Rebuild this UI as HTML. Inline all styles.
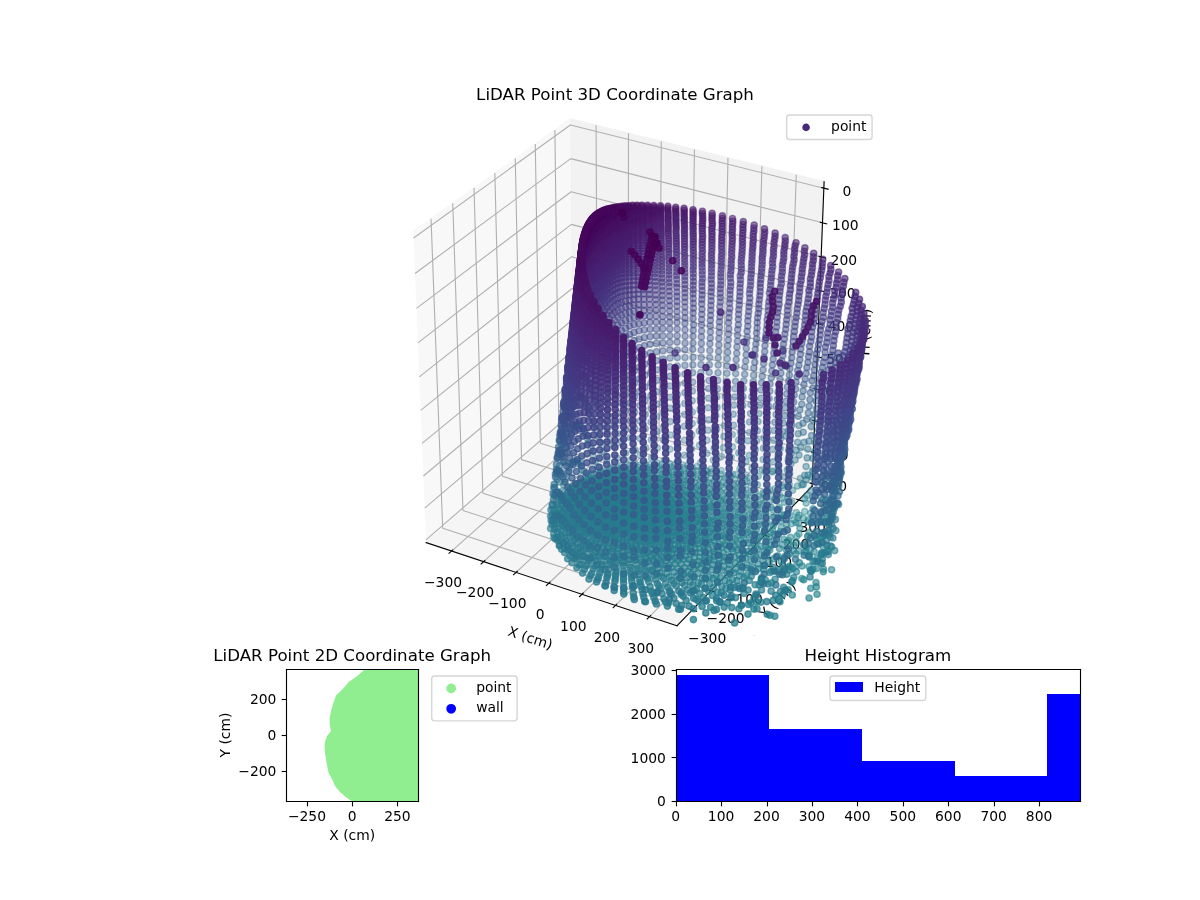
<!DOCTYPE html>
<html lang="en"><head><meta charset="utf-8"><title>LiDAR Point Graphs</title>
<style>html,body{margin:0;padding:0;background:#fff}svg{display:block;will-change:transform}</style></head>
<body>
<svg width="1200" height="900" viewBox="0 0 864 648" version="1.1">
 
 <defs>
  <style type="text/css">.c0{fill:#440154;stroke:#440154}.c1{fill:#450457;stroke:#450457}.c2{fill:#46085c;stroke:#46085c}.c3{fill:#460b5e;stroke:#460b5e}.c4{fill:#471063;stroke:#471063}.c5{fill:#471365;stroke:#471365}.c6{fill:#481769;stroke:#481769}.c7{fill:#481b6d;stroke:#481b6d}.c8{fill:#481d6f;stroke:#481d6f}.c9{fill:#482173;stroke:#482173}.c10{fill:#482475;stroke:#482475}.c11{fill:#482878;stroke:#482878}.c12{fill:#472c7a;stroke:#472c7a}.c13{fill:#472e7c;stroke:#472e7c}.c14{fill:#46327e;stroke:#46327e}.c15{fill:#463480;stroke:#463480}.c16{fill:#453882;stroke:#453882}.c17{fill:#443a83;stroke:#443a83}.c18{fill:#433e85;stroke:#433e85}.c19{fill:#424186;stroke:#424186}.c20{fill:#414487;stroke:#414487}.c21{fill:#3f4788;stroke:#3f4788}.c22{fill:#3e4989;stroke:#3e4989}.c23{fill:#3d4d8a;stroke:#3d4d8a}.c24{fill:#3c508b;stroke:#3c508b}.c25{fill:#3b528b;stroke:#3b528b}.c26{fill:#39558c;stroke:#39558c}.c27{fill:#38588c;stroke:#38588c}.c28{fill:#375b8d;stroke:#375b8d}.c29{fill:#365d8d;stroke:#365d8d}.c30{fill:#34608d;stroke:#34608d}.c31{fill:#33638d;stroke:#33638d}.c32{fill:#32658e;stroke:#32658e}.c33{fill:#31688e;stroke:#31688e}.c34{fill:#306a8e;stroke:#306a8e}.c35{fill:#2e6d8e;stroke:#2e6d8e}.c36{fill:#2d708e;stroke:#2d708e}.c37{fill:#2c718e;stroke:#2c718e}.c38{fill:#2b748e;stroke:#2b748e}.c39{fill:#2a768e;stroke:#2a768e}.c40{fill:#29798e;stroke:#29798e}.c41{fill:#297b8e;stroke:#297b8e}.c42{fill:#277e8e;stroke:#277e8e}.c43{fill:#26818e;stroke:#26818e}.c44{fill:#26828e;stroke:#26828e}.c45{fill:#25858e;stroke:#25858e}.c46{fill:#24878e;stroke:#24878e}.c47{fill:#238a8d;stroke:#238a8d}.a0{fill-opacity:0.3;stroke-opacity:0.3}.a1{fill-opacity:0.326;stroke-opacity:0.326}.a2{fill-opacity:0.352;stroke-opacity:0.352}.a3{fill-opacity:0.378;stroke-opacity:0.378}.a4{fill-opacity:0.404;stroke-opacity:0.404}.a5{fill-opacity:0.43;stroke-opacity:0.43}.a6{fill-opacity:0.456;stroke-opacity:0.456}.a7{fill-opacity:0.481;stroke-opacity:0.481}.a8{fill-opacity:0.507;stroke-opacity:0.507}.a9{fill-opacity:0.533;stroke-opacity:0.533}.a10{fill-opacity:0.559;stroke-opacity:0.559}.a11{fill-opacity:0.585;stroke-opacity:0.585}.a12{fill-opacity:0.611;stroke-opacity:0.611}.a13{fill-opacity:0.637;stroke-opacity:0.637}.a14{fill-opacity:0.663;stroke-opacity:0.663}.a15{fill-opacity:0.689;stroke-opacity:0.689}.a16{fill-opacity:0.715;stroke-opacity:0.715}.a17{fill-opacity:0.741;stroke-opacity:0.741}.a18{fill-opacity:0.767;stroke-opacity:0.767}.a19{fill-opacity:0.793;stroke-opacity:0.793}.a20{fill-opacity:0.819;stroke-opacity:0.819}.a21{fill-opacity:0.844;stroke-opacity:0.844}.a22{fill-opacity:0.87;stroke-opacity:0.87}.a23{fill-opacity:0.896;stroke-opacity:0.896}.a24{fill-opacity:0.922;stroke-opacity:0.922}.a25{fill-opacity:0.948;stroke-opacity:0.948}.a26{fill-opacity:0.974;stroke-opacity:0.974}.a27{fill-opacity:1;stroke-opacity:1}#pts{stroke-width:13.89px}*{stroke-linejoin: round; stroke-linecap: butt}</style>
 </defs>
 <g id="figure_1">
  <g id="patch_1">
   <path d="M 0 648 L 864 648 L 864 0 L 0 0 z " style="fill: #ffffff"/>
  </g>
  <g id="patch_2">
   <path d="M 252.72 457.92 L 632.88 457.92 L 632.88 77.76 L 252.72 77.76 z " style="fill: #ffffff"/>
  </g>
  <g id="pane3d_1">
   <g id="patch_3">
    <path d="M 297.58003 166.631425 L 410.645427 85.542763 L 412.77112 298.522299 L 306.797019 390.703178 " style="fill: #f2f2f2; opacity: 0.5; stroke: #f2f2f2; stroke-linejoin: miter"/>
   </g>
  </g>
  <g id="pane3d_2">
   <g id="patch_4">
    <path d="M 410.645427 85.542763 L 593.356414 130.821738 L 584.717514 350.098878 L 412.77112 298.522299 " style="fill: #e6e6e6; opacity: 0.5; stroke: #e6e6e6; stroke-linejoin: miter"/>
   </g>
  </g>
  <g id="pane3d_3">
   <g id="patch_5">
    <path d="M 306.797019 390.703178 L 487.477457 450.543439 L 584.717514 350.098878 L 412.77112 298.522299 " style="fill: #ececec; opacity: 0.5; stroke: #ececec; stroke-linejoin: miter"/>
   </g>
  </g>
  <g id="grid3d_1">
   <g id="Line3DCollection_1">
    <path d="M 325.109337 396.768106 L 430.248211 303.76468 L 429.174093 90.13449 " style="fill: none; stroke: #b0b0b0; stroke-width: 0.8"/>
    <path d="M 348.178335 404.408417 L 452.248942 310.363961 L 452.512248 95.918093 " style="fill: none; stroke: #b0b0b0; stroke-width: 0.8"/>
    <path d="M 371.515842 412.137658 L 474.487517 317.034584 L 476.118202 101.768061 " style="fill: none; stroke: #b0b0b0; stroke-width: 0.8"/>
    <path d="M 395.126575 419.957389 L 496.967816 323.777714 L 499.996592 107.685543 " style="fill: none; stroke: #b0b0b0; stroke-width: 0.8"/>
    <path d="M 419.01536 427.869209 L 519.6938 330.594539 L 524.152162 113.671715 " style="fill: none; stroke: #b0b0b0; stroke-width: 0.8"/>
    <path d="M 443.187138 435.874755 L 542.669519 337.486274 L 548.589765 119.72778 " style="fill: none; stroke: #b0b0b0; stroke-width: 0.8"/>
    <path d="M 467.646966 443.975701 L 565.899113 344.454161 L 573.314371 125.85497 " style="fill: none; stroke: #b0b0b0; stroke-width: 0.8"/>
   </g>
  </g>
  <g id="grid3d_2">
   <g id="Line3DCollection_2">
    <path d="M 310.35604 157.468679 L 318.723288 380.329191 L 498.451798 439.207443 " style="fill: none; stroke: #b0b0b0; stroke-width: 0.8"/>
    <path d="M 325.986947 146.258447 L 333.331305 367.622503 L 511.883098 425.33352 " style="fill: none; stroke: #b0b0b0; stroke-width: 0.8"/>
    <path d="M 341.297039 135.278298 L 347.657384 355.161057 L 525.043703 411.739213 " style="fill: none; stroke: #b0b0b0; stroke-width: 0.8"/>
    <path d="M 356.296094 124.52122 L 361.709609 342.937821 L 537.941715 398.416153 " style="fill: none; stroke: #b0b0b0; stroke-width: 0.8"/>
    <path d="M 370.993495 113.980484 L 375.495759 330.946028 L 550.584914 385.356302 " style="fill: none; stroke: #b0b0b0; stroke-width: 0.8"/>
    <path d="M 385.398251 103.649627 L 389.02332 319.179168 L 562.980779 372.551937 " style="fill: none; stroke: #b0b0b0; stroke-width: 0.8"/>
    <path d="M 399.519016 93.522444 L 402.299499 307.63097 L 575.136497 359.995633 " style="fill: none; stroke: #b0b0b0; stroke-width: 0.8"/>
   </g>
  </g>
  <g id="grid3d_3">
   <g id="Line3DCollection_3">
    <path d="M 593.172955 135.478385 L 410.690457 90.054379 L 297.776152 171.399288 " style="fill: none; stroke: #b0b0b0; stroke-width: 0.8"/>
    <path d="M 592.191441 160.39169 L 410.931449 114.200068 L 298.825128 196.900663 " style="fill: none; stroke: #b0b0b0; stroke-width: 0.8"/>
    <path d="M 591.223105 184.970524 L 411.169342 138.035314 L 299.85955 222.048222 " style="fill: none; stroke: #b0b0b0; stroke-width: 0.8"/>
    <path d="M 590.267682 209.221577 L 411.404196 161.566066 L 300.879719 246.849277 " style="fill: none; stroke: #b0b0b0; stroke-width: 0.8"/>
    <path d="M 589.324916 233.151362 L 411.636069 184.798122 L 301.885927 271.31094 " style="fill: none; stroke: #b0b0b0; stroke-width: 0.8"/>
    <path d="M 588.394557 256.766221 L 411.865017 207.737133 L 302.87846 295.440132 " style="fill: none; stroke: #b0b0b0; stroke-width: 0.8"/>
    <path d="M 587.476362 280.072331 L 412.091096 230.38861 L 303.857593 319.243584 " style="fill: none; stroke: #b0b0b0; stroke-width: 0.8"/>
    <path d="M 586.570094 303.075708 L 412.314358 252.757925 L 304.823597 342.727849 " style="fill: none; stroke: #b0b0b0; stroke-width: 0.8"/>
    <path d="M 585.675522 325.782211 L 412.534857 274.850316 L 305.776734 365.899303 " style="fill: none; stroke: #b0b0b0; stroke-width: 0.8"/>
    <path d="M 584.792421 348.197551 L 412.752642 296.670897 L 306.717259 388.764155 " style="fill: none; stroke: #b0b0b0; stroke-width: 0.8"/>
   </g>
  </g>
  <g id="axis3d_1">
   <g id="line2d_1">
    <path d="M 306.797019 390.703178 L 487.477457 450.543439 " style="fill: none; stroke: #000000; stroke-width: 0.8; stroke-linecap: square"/>
   </g>
   <g id="xtick_1">
    <g id="line2d_2">
     <path d="M 326.013629 395.96819 L 323.297459 398.370851 " style="fill: none; stroke: #000000; stroke-width: 0.8; stroke-linecap: square"/>
    </g>
    <g id="text_1">
     <text style="font-size: 10px; font-family: 'DejaVu Sans', 'Liberation Sans', sans-serif; text-anchor: middle" x="318.974381" y="422.443592">−300</text>
    </g>
   </g>
   <g id="xtick_2">
    <g id="line2d_3">
     <path d="M 349.073801 403.599221 L 346.384123 406.029775 " style="fill: none; stroke: #000000; stroke-width: 0.8; stroke-linecap: square"/>
    </g>
    <g id="text_2">
     <text style="font-size: 10px; font-family: 'DejaVu Sans', 'Liberation Sans', sans-serif; text-anchor: middle" x="342.026984" y="430.194921">−200</text>
    </g>
   </g>
   <g id="xtick_3">
    <g id="line2d_4">
     <path d="M 372.402215 411.319018 L 369.739833 413.777954 " style="fill: none; stroke: #000000; stroke-width: 0.8; stroke-linecap: square"/>
    </g>
    <g id="text_3">
     <text style="font-size: 10px; font-family: 'DejaVu Sans', 'Liberation Sans', sans-serif; text-anchor: middle" x="365.34813" y="438.036547">−100</text>
    </g>
   </g>
   <g id="xtick_4">
    <g id="line2d_5">
     <path d="M 396.003579 419.12914 L 393.369318 421.616957 " style="fill: none; stroke: #000000; stroke-width: 0.8; stroke-linecap: square"/>
    </g>
    <g id="text_4">
     <text style="font-size: 10px; font-family: 'DejaVu Sans', 'Liberation Sans', sans-serif; text-anchor: middle" x="388.942539" y="445.970056">0</text>
    </g>
   </g>
   <g id="xtick_5">
    <g id="line2d_6">
     <path d="M 419.882713 427.03118 L 417.277422 429.54839 " style="fill: none; stroke: #000000; stroke-width: 0.8; stroke-linecap: square"/>
    </g>
    <g id="text_5">
     <text style="font-size: 10px; font-family: 'DejaVu Sans', 'Liberation Sans', sans-serif; text-anchor: middle" x="412.815042" y="453.997072">100</text>
    </g>
   </g>
   <g id="xtick_6">
    <g id="line2d_7">
     <path d="M 444.044548 435.026772 L 441.469101 437.573899 " style="fill: none; stroke: #000000; stroke-width: 0.8; stroke-linecap: square"/>
    </g>
    <g id="text_6">
     <text style="font-size: 10px; font-family: 'DejaVu Sans', 'Liberation Sans', sans-serif; text-anchor: middle" x="436.970584" y="462.11926">200</text>
    </g>
   </g>
   <g id="xtick_7">
    <g id="line2d_8">
     <path d="M 468.494136 443.117586 L 465.949431 445.695167 " style="fill: none; stroke: #000000; stroke-width: 0.8; stroke-linecap: square"/>
    </g>
    <g id="text_7">
     <text style="font-size: 10px; font-family: 'DejaVu Sans', 'Liberation Sans', sans-serif; text-anchor: middle" x="461.41423" y="470.33832">300</text>
    </g>
   </g>
   <g id="text_8">
    <text style="font-size: 10px; font-family: 'DejaVu Sans', 'Liberation Sans', sans-serif; text-anchor: middle" x="380.802218" y="462.647239" transform="rotate(-341.675444 380.802218 462.647239)">X (cm)</text>
   </g>
  </g>
  <g id="axis3d_2">
   <g id="line2d_9">
    <path d="M 584.717514 350.098878 L 487.477457 450.543439 " style="fill: none; stroke: #000000; stroke-width: 0.8; stroke-linecap: square"/>
   </g>
   <g id="xtick_8">
    <g id="line2d_10">
     <path d="M 496.949593 438.715327 L 501.459465 440.192741 " style="fill: none; stroke: #000000; stroke-width: 0.8; stroke-linecap: square"/>
    </g>
    <g id="text_9">
     <text style="font-size: 10px; font-family: 'DejaVu Sans', 'Liberation Sans', sans-serif; text-anchor: middle" x="509.163951" y="462.851053">−300</text>
    </g>
   </g>
   <g id="xtick_9">
    <g id="line2d_11">
     <path d="M 510.39138 424.851371 L 514.869738 426.298853 " style="fill: none; stroke: #000000; stroke-width: 0.8; stroke-linecap: square"/>
    </g>
    <g id="text_10">
     <text style="font-size: 10px; font-family: 'DejaVu Sans', 'Liberation Sans', sans-serif; text-anchor: middle" x="522.472119" y="448.828639">−200</text>
    </g>
   </g>
   <g id="xtick_10">
    <g id="line2d_12">
     <path d="M 523.562355 411.26673 L 528.009547 412.685182 " style="fill: none; stroke: #000000; stroke-width: 0.8; stroke-linecap: square"/>
    </g>
    <g id="text_11">
     <text style="font-size: 10px; font-family: 'DejaVu Sans', 'Liberation Sans', sans-serif; text-anchor: middle" x="535.512355" y="435.088537">−100</text>
    </g>
   </g>
   <g id="xtick_11">
    <g id="line2d_13">
     <path d="M 536.470622 397.953049 L 540.886995 399.343335 " style="fill: none; stroke: #000000; stroke-width: 0.8; stroke-linecap: square"/>
    </g>
    <g id="text_12">
     <text style="font-size: 10px; font-family: 'DejaVu Sans', 'Liberation Sans', sans-serif; text-anchor: middle" x="548.292668" y="421.622308">0</text>
    </g>
   </g>
   <g id="xtick_12">
    <g id="line2d_14">
     <path d="M 549.123964 384.902301 L 553.509859 386.265251 " style="fill: none; stroke: #000000; stroke-width: 0.8; stroke-linecap: square"/>
    </g>
    <g id="text_13">
     <text style="font-size: 10px; font-family: 'DejaVu Sans', 'Liberation Sans', sans-serif; text-anchor: middle" x="560.820753" y="408.421844">100</text>
    </g>
   </g>
   <g id="xtick_13">
    <g id="line2d_15">
     <path d="M 561.529857 372.106772 L 565.885618 373.443185 " style="fill: none; stroke: #000000; stroke-width: 0.8; stroke-linecap: square"/>
    </g>
    <g id="text_14">
     <text style="font-size: 10px; font-family: 'DejaVu Sans', 'Liberation Sans', sans-serif; text-anchor: middle" x="573.104005" y="395.479353">200</text>
    </g>
   </g>
   <g id="xtick_14">
    <g id="line2d_16">
     <path d="M 573.69549 359.559049 L 578.021455 360.869692 " style="fill: none; stroke: #000000; stroke-width: 0.8; stroke-linecap: square"/>
    </g>
    <g id="text_15">
     <text style="font-size: 10px; font-family: 'DejaVu Sans', 'Liberation Sans', sans-serif; text-anchor: middle" x="585.149531" y="382.787347">300</text>
    </g>
   </g>
   <g id="text_16">
    <text style="font-size: 10px; font-family: 'DejaVu Sans', 'Liberation Sans', sans-serif; text-anchor: middle" x="562.398987" y="434.22404" transform="rotate(-45.928694 562.398987 434.22404)">Y (cm)</text>
   </g>
  </g>
  <g id="axis3d_3">
   <g id="line2d_17">
    <path d="M 584.717514 350.098878 L 593.356414 130.821738 " style="fill: none; stroke: #000000; stroke-width: 0.8; stroke-linecap: square"/>
   </g>
   <g id="xtick_15">
    <g id="line2d_18">
     <path d="M 591.648229 135.098846 L 596.225689 136.238279 " style="fill: none; stroke: #000000; stroke-width: 0.8; stroke-linecap: square"/>
    </g>
    <g id="text_17">
     <text style="font-size: 10px; font-family: 'DejaVu Sans', 'Liberation Sans', sans-serif; text-anchor: middle" x="609.735518" y="141.062779">0</text>
    </g>
   </g>
   <g id="xtick_16">
    <g id="line2d_19">
     <path d="M 590.677365 160.005849 L 595.22283 161.164198 " style="fill: none; stroke: #000000; stroke-width: 0.8; stroke-linecap: square"/>
    </g>
    <g id="text_18">
     <text style="font-size: 10px; font-family: 'DejaVu Sans', 'Liberation Sans', sans-serif; text-anchor: middle" x="608.644138" y="165.942616">100</text>
    </g>
   </g>
   <g id="xtick_17">
    <g id="line2d_20">
     <path d="M 589.719531 184.578583 L 594.233445 185.755239 " style="fill: none; stroke: #000000; stroke-width: 0.8; stroke-linecap: square"/>
    </g>
    <g id="text_19">
     <text style="font-size: 10px; font-family: 'DejaVu Sans', 'Liberation Sans', sans-serif; text-anchor: middle" x="607.567383" y="190.489058">200</text>
    </g>
   </g>
   <g id="xtick_18">
    <g id="line2d_21">
     <path d="M 588.774466 208.823731 L 593.257263 210.018106 " style="fill: none; stroke: #000000; stroke-width: 0.8; stroke-linecap: square"/>
    </g>
    <g id="text_20">
     <text style="font-size: 10px; font-family: 'DejaVu Sans', 'Liberation Sans', sans-serif; text-anchor: middle" x="606.50496" y="214.70876">300</text>
    </g>
   </g>
   <g id="xtick_19">
    <g id="line2d_22">
     <path d="M 587.841916 232.747803 L 592.294023 233.959324 " style="fill: none; stroke: #000000; stroke-width: 0.8; stroke-linecap: square"/>
    </g>
    <g id="text_21">
     <text style="font-size: 10px; font-family: 'DejaVu Sans', 'Liberation Sans', sans-serif; text-anchor: middle" x="605.456586" y="238.608205">400</text>
    </g>
   </g>
   <g id="xtick_20">
    <g id="line2d_23">
     <path d="M 586.921634 256.357134 L 591.343468 257.585248 " style="fill: none; stroke: #000000; stroke-width: 0.8; stroke-linecap: square"/>
    </g>
    <g id="text_22">
     <text style="font-size: 10px; font-family: 'DejaVu Sans', 'Liberation Sans', sans-serif; text-anchor: middle" x="604.421984" y="262.193701">500</text>
    </g>
   </g>
   <g id="xtick_21">
    <g id="line2d_24">
     <path d="M 586.013381 279.657893 L 590.405349 280.902065 " style="fill: none; stroke: #000000; stroke-width: 0.8; stroke-linecap: square"/>
    </g>
    <g id="text_23">
     <text style="font-size: 10px; font-family: 'DejaVu Sans', 'Liberation Sans', sans-serif; text-anchor: middle" x="603.400884" y="285.471396">600</text>
    </g>
   </g>
   <g id="xtick_22">
    <g id="line2d_25">
     <path d="M 585.116921 302.656092 L 589.479424 303.915801 " style="fill: none; stroke: #000000; stroke-width: 0.8; stroke-linecap: square"/>
    </g>
    <g id="text_24">
     <text style="font-size: 10px; font-family: 'DejaVu Sans', 'Liberation Sans', sans-serif; text-anchor: middle" x="602.393023" y="308.447275">700</text>
    </g>
   </g>
   <g id="xtick_23">
    <g id="line2d_26">
     <path d="M 584.232027 325.357586 L 588.565457 326.632329 " style="fill: none; stroke: #000000; stroke-width: 0.8; stroke-linecap: square"/>
    </g>
    <g id="text_25">
     <text style="font-size: 10px; font-family: 'DejaVu Sans', 'Liberation Sans', sans-serif; text-anchor: middle" x="601.398146" y="331.12717">800</text>
    </g>
   </g>
   <g id="xtick_24">
    <g id="line2d_27">
     <path d="M 583.358476 347.768079 L 587.663218 349.057368 " style="fill: none; stroke: #000000; stroke-width: 0.8; stroke-linecap: square"/>
    </g>
    <g id="text_26">
     <text style="font-size: 10px; font-family: 'DejaVu Sans', 'Liberation Sans', sans-serif; text-anchor: middle" x="600.416003" y="353.516765">900</text>
    </g>
   </g>
   <g id="text_27">
    <text style="font-size: 10px; font-family: 'DejaVu Sans', 'Liberation Sans', sans-serif; text-anchor: middle" x="626.552879" y="239.250779" transform="rotate(-87.743875 626.552879 239.250779)">H (cm)</text>
   </g>
  </g>
  <g id="axes_1">
   <g id="Path3DCollection_1">
    <defs>
     <path id="m604a313b4d" d="M 0 2.236068 C 0.593012 2.236068 1.161816 2.000462 1.581139 1.581139 C 2.000462 1.161816 2.236068 0.593012 2.236068 0 C 2.236068 -0.593012 2.000462 -1.161816 1.581139 -1.581139 C 1.161816 -2.000462 0.593012 -2.236068 0 -2.236068 C -0.593012 -2.236068 -1.161816 -2.000462 -1.581139 -1.581139 C -2.000462 -1.161816 -2.236068 -0.593012 -2.236068 0 C -2.236068 0.593012 -2.000462 1.161816 -1.581139 1.581139 C -1.161816 2.000462 -0.593012 2.236068 0 2.236068 z " style="stroke: #482878"/>
    </defs>
    <g clip-path="url(#pc4ae86a467)"><g id="pts" transform="scale(.072)"><g class=a0><circle class=c45 cx=7078 cy=4717 r=31 /><circle class=c44 cx=7005 cy=4627 r=31 /><circle class=c44 cx=6773 cy=4613 r=31 /><circle class=c45 cx=7325 cy=4742 r=31 /><circle class=c44 cx=6829 cy=4651 r=31 /><circle class=c44 cx=6968 cy=4666 r=31 /><circle class=c44 cx=6695 cy=4638 r=31 /><circle class=c43 cx=6641 cy=4602 r=31 /></g><g class=a1><circle class=c44 cx=7212 cy=4705 r=31 /><circle class=c43 cx=6845 cy=4552 r=31 /><circle class=c43 cx=6904 cy=4597 r=31 /><circle class=c44 cx=6745 cy=4654 r=31 /><circle class=c44 cx=7020 cy=4696 r=31 /><circle class=c44 cx=7111 cy=4690 r=31 /><circle class=c44 cx=6876 cy=4655 r=31 /><circle class=c44 cx=6569 cy=4628 r=31 /><circle class=c45 cx=7268 cy=4754 r=31 /><circle class=c44 cx=6618 cy=4642 r=31 /><circle class=c44 cx=6793 cy=4669 r=31 /><circle class=c43 cx=7133 cy=4601 r=31 /><circle class=c44 cx=7164 cy=4729 r=31 /><circle class=c44 cx=6925 cy=4679 r=31 /><circle class=c42 cx=7068 cy=4534 r=31 /><circle class=c44 cx=6455 cy=4644 r=31 /><circle class=c43 cx=6515 cy=4579 r=31 /><circle class=c44 cx=6666 cy=4657 r=31 /><circle class=c42 cx=6916 cy=4487 r=31 /><circle class=c45 cx=7361 cy=4746 r=31 /><circle class=c44 cx=7399 cy=4689 r=31 /><circle class=c41 cx=6777 cy=4469 r=31 /><circle class=c44 cx=6841 cy=4690 r=31 /><circle class=c44 cx=7064 cy=4708 r=31 /><circle class=c44 cx=6501 cy=4647 r=31 /><circle class=c42 cx=6699 cy=4492 r=31 /><circle class=c44 cx=6973 cy=4707 r=31 /><circle class=c44 cx=6712 cy=4669 r=31 /><circle class=c41 cx=6995 cy=4452 r=31 /><circle class=c43 cx=6547 cy=4650 r=31 /><circle class=c44 cx=7459 cy=4750 r=31 /><circle class=c42 cx=7214 cy=4565 r=31 /><circle class=c44 cx=6759 cy=4693 r=31 /><circle class=c44 cx=6593 cy=4666 r=31 /><circle class=c45 cx=7307 cy=4767 r=31 /><circle class=c42 cx=7313 cy=4573 r=31 /><circle class=c44 cx=6884 cy=4697 r=31 /><circle class=c44 cx=7204 cy=4742 r=31 /><circle class=c40 cx=6845 cy=4402 r=31 /><circle class=c41 cx=6573 cy=4479 r=31 /><circle class=c41 cx=7142 cy=4483 r=31 /><circle class=c44 cx=6638 cy=4684 r=31 /><circle class=c44 cx=7108 cy=4731 r=31 /><circle class=c44 cx=6805 cy=4714 r=31 /><circle class=c43 cx=6394 cy=4652 r=31 /><circle class=c44 cx=7017 cy=4725 r=31 /><circle class=c43 cx=6349 cy=4639 r=31 /><circle class=c43 cx=6483 cy=4676 r=31 /><circle class=c41 cx=7234 cy=4477 r=31 /><circle class=c44 cx=7402 cy=4769 r=31 /><circle class=c44 cx=6930 cy=4725 r=31 /><circle class=c44 cx=6682 cy=4696 r=31 /><circle class=c43 cx=6438 cy=4652 r=31 /><circle class=c40 cx=7070 cy=4403 r=31 /><circle class=c44 cx=6526 cy=4687 r=31 /><circle class=c44 cx=7157 cy=4774 r=31 /><circle class=c42 cx=6401 cy=4554 r=31 /><circle class=c44 cx=7251 cy=4781 r=31 /><circle class=c44 cx=6726 cy=4719 r=31 /><circle class=c39 cx=6917 cy=4349 r=31 /><circle class=c40 cx=6634 cy=4400 r=31 /><circle class=c42 cx=6303 cy=4603 r=31 /><circle class=c44 cx=6846 cy=4725 r=31 /><circle class=c44 cx=7061 cy=4754 r=31 /><circle class=c41 cx=6456 cy=4476 r=31 /><circle class=c41 cx=7325 cy=4469 r=31 /><circle class=c44 cx=7500 cy=4780 r=31 /><circle class=c44 cx=7348 cy=4794 r=31 /><circle class=c39 cx=6702 cy=4350 r=31 /><circle class=c43 cx=6340 cy=4680 r=31 /><circle class=c44 cx=6971 cy=4745 r=31 /><circle class=c39 cx=6775 cy=4315 r=31 /><circle class=c45 cx=7451 cy=4820 r=31 /><circle class=c43 cx=6256 cy=4666 r=31 /></g><g class=a2><circle class=c43 cx=6566 cy=4677 r=31 /><circle class=c40 cx=7150 cy=4372 r=31 /><circle class=c43 cx=6610 cy=4703 r=31 /><circle class=c44 cx=6767 cy=4730 r=31 /><circle class=c42 cx=7460 cy=4617 r=31 /><circle class=c43 cx=6214 cy=4656 r=31 /><circle class=c41 cx=7387 cy=4529 r=31 /><circle class=c39 cx=6993 cy=4311 r=31 /><circle class=c40 cx=6513 cy=4397 r=31 /><circle class=c43 cx=6381 cy=4674 r=31 /><circle class=c43 cx=6423 cy=4687 r=31 /><circle class=c41 cx=6352 cy=4501 r=31 /><circle class=c38 cx=7080 cy=4302 r=31 /><circle class=c43 cx=6298 cy=4654 r=31 /><circle class=c44 cx=6651 cy=4721 r=31 /><circle class=c42 cx=7493 cy=4554 r=31 /><circle class=c44 cx=6885 cy=4736 r=31 /><circle class=c44 cx=7102 cy=4781 r=31 /><circle class=c39 cx=7239 cy=4364 r=31 /><circle class=c44 cx=7014 cy=4775 r=31 /><circle class=c43 cx=6463 cy=4691 r=31 /><circle class=c45 cx=7674 cy=4903 r=31 /><circle class=c44 cx=7192 cy=4786 r=31 /><circle class=c38 cx=6844 cy=4263 r=31 /><circle class=c44 cx=7289 cy=4806 r=31 /><circle class=c43 cx=7520 cy=4684 r=31 /><circle class=c38 cx=7167 cy=4289 r=31 /><circle class=c45 cx=7547 cy=4830 r=31 /><circle class=c45 cx=7390 cy=4832 r=31 /><circle class=c43 cx=6503 cy=4699 r=31 /><circle class=c44 cx=6928 cy=4769 r=31 /><circle class=c44 cx=6804 cy=4737 r=31 /><circle class=c38 cx=6922 cy=4235 r=31 /><circle class=c43 cx=6690 cy=4727 r=31 /><circle class=c38 cx=6572 cy=4316 r=31 /><circle class=c43 cx=6583 cy=4732 r=31 /><circle class=c43 cx=6543 cy=4707 r=31 /><circle class=c43 cx=6332 cy=4707 r=31 /><circle class=c41 cx=6257 cy=4531 r=31 /><circle class=c43 cx=6254 cy=4695 r=31 /><circle class=c38 cx=6637 cy=4268 r=31 /><circle class=c44 cx=7582 cy=4761 r=31 /><circle class=c44 cx=6730 cy=4750 r=31 /><circle class=c44 cx=7142 cy=4812 r=31 /><circle class=c37 cx=7002 cy=4212 r=31 /><circle class=c43 cx=6292 cy=4694 r=31 /><circle class=c44 cx=6844 cy=4761 r=31 /><circle class=c44 cx=7051 cy=4796 r=31 /><circle class=c43 cx=6215 cy=4684 r=31 /><circle class=c43 cx=6370 cy=4704 r=31 /><circle class=c39 cx=7323 cy=4345 r=31 /><circle class=c43 cx=6176 cy=4683 r=31 /><circle class=c44 cx=7232 cy=4819 r=31 /><circle class=c39 cx=6401 cy=4386 r=31 /><circle class=c37 cx=7087 cy=4199 r=31 /><circle class=c43 cx=6621 cy=4742 r=31 /><circle class=c43 cx=7619 cy=4698 r=31 /><circle class=c43 cx=6446 cy=4725 r=31 /><circle class=c42 cx=7541 cy=4595 r=31 /><circle class=c44 cx=7329 cy=4842 r=31 /><circle class=c37 cx=6703 cy=4216 r=31 /><circle class=c43 cx=6407 cy=4707 r=31 /><circle class=c43 cx=6099 cy=4686 r=31 /><circle class=c42 cx=6138 cy=4674 r=31 /><circle class=c44 cx=6962 cy=4778 r=31 /><circle class=c44 cx=6883 cy=4788 r=31 /><circle class=c45 cx=7716 cy=4956 r=31 /><circle class=c41 cx=6174 cy=4582 r=31 /><circle class=c38 cx=7244 cy=4256 r=31 /><circle class=c39 cx=7385 cy=4402 r=31 /><circle class=c43 cx=6657 cy=4753 r=31 /><circle class=c43 cx=6765 cy=4754 r=31 /><circle class=c45 cx=7427 cy=4866 r=31 /><circle class=c43 cx=6482 cy=4723 r=31 /><circle class=c37 cx=6771 cy=4170 r=31 /><circle class=c44 cx=7470 cy=4813 r=31 /><circle class=c44 cx=7089 cy=4827 r=31 /><circle class=c36 cx=6847 cy=4145 r=31 /><circle class=c43 cx=6519 cy=4734 r=31 /><circle class=c44 cx=7178 cy=4836 r=31 /><circle class=c43 cx=6556 cy=4755 r=31 /><circle class=c44 cx=6803 cy=4781 r=31 /><circle class=c44 cx=6593 cy=4781 r=31 /><circle class=c45 cx=7753 cy=4886 r=31 /><circle class=c44 cx=7000 cy=4808 r=31 /><circle class=c43 cx=6693 cy=4766 r=31 /><circle class=c36 cx=6923 cy=4120 r=31 /><circle class=c37 cx=7334 cy=4252 r=31 /><circle class=c43 cx=7720 cy=4719 r=31 /><circle class=c43 cx=6287 cy=4723 r=31 /><circle class=c38 cx=6453 cy=4287 r=31 /><circle class=c44 cx=7574 cy=4847 r=31 /><circle class=c44 cx=7267 cy=4847 r=31 /><circle class=c44 cx=6917 cy=4802 r=31 /><circle class=c43 cx=6358 cy=4733 r=31 /><circle class=c38 cx=7404 cy=4324 r=31 /><circle class=c39 cx=7479 cy=4408 r=31 /><circle class=c43 cx=6251 cy=4712 r=31 /><circle class=c43 cx=6322 cy=4720 r=31 /><circle class=c43 cx=6144 cy=4715 r=31 /><circle class=c42 cx=6215 cy=4708 r=31 /><circle class=c36 cx=7159 cy=4157 r=31 /><circle class=c42 cx=6180 cy=4708 r=31 /><circle class=c40 cx=7553 cy=4496 r=31 /><circle class=c41 cx=7631 cy=4595 r=31 /><circle class=c43 cx=6393 cy=4732 r=31 /><circle class=c35 cx=7001 cy=4094 r=31 /><circle class=c37 cx=6510 cy=4221 r=31 /><circle class=c43 cx=6727 cy=4779 r=31 /><circle class=c44 cx=6837 cy=4797 r=31 /><circle class=c36 cx=7251 cy=4161 r=31 /><circle class=c44 cx=7359 cy=4864 r=31 /><circle class=c44 cx=7037 cy=4841 r=31 /><circle class=c43 cx=6625 cy=4779 r=31 /><circle class=c43 cx=6427 cy=4740 r=31 /><circle class=c39 cx=6302 cy=4378 r=31 /><circle class=c43 cx=6462 cy=4756 r=31 /><circle class=c42 cx=6074 cy=4716 r=31 /><circle class=c42 cx=6110 cy=4704 r=31 /><circle class=c45 cx=7629 cy=4929 r=31 /><circle class=c44 cx=7510 cy=4860 r=31 /><circle class=c36 cx=6570 cy=4166 r=31 /><circle class=c44 cx=6952 cy=4828 r=31 /><circle class=c36 cx=6635 cy=4125 r=31 /><circle class=c44 cx=7119 cy=4839 r=31 /><circle class=c45 cx=7459 cy=4898 r=31 /><circle class=c35 cx=7082 cy=4077 r=31 /><circle class=c42 cx=7649 cy=4721 r=31 /><circle class=c43 cx=6495 cy=4761 r=31 /><circle class=c42 cx=6040 cy=4711 r=31 /><circle class=c43 cx=6761 cy=4795 r=31 /><circle class=c44 cx=7207 cy=4852 r=31 /><circle class=c43 cx=6658 cy=4788 r=31 /><circle class=c38 cx=7495 cy=4325 r=31 /><circle class=c35 cx=6701 cy=4083 r=31 /><circle class=c35 cx=6773 cy=4057 r=31 /><circle class=c43 cx=6529 cy=4774 r=31 /><circle class=c45 cx=7798 cy=4950 r=31 /></g><g class=a3><circle class=c35 cx=7170 cy=4074 r=31 /><circle class=c35 cx=6848 cy=4035 r=31 /><circle class=c44 cx=7300 cy=4878 r=31 /><circle class=c43 cx=6183 cy=4751 r=31 /><circle class=c37 cx=6349 cy=4286 r=31 /><circle class=c41 cx=7733 cy=4619 r=31 /><circle class=c37 cx=7414 cy=4232 r=31 /><circle class=c41 cx=6067 cy=4601 r=31 /><circle class=c44 cx=6868 cy=4808 r=31 /><circle class=c44 cx=6795 cy=4824 r=31 /><circle class=c43 cx=6346 cy=4764 r=31 /><circle class=c39 cx=6214 cy=4417 r=31 /><circle class=c39 cx=7567 cy=4405 r=31 /><circle class=c42 cx=6007 cy=4709 r=31 /><circle class=c43 cx=6314 cy=4754 r=31 /><circle class=c43 cx=6561 cy=4788 r=31 /><circle class=c43 cx=6249 cy=4742 r=31 /><circle class=c43 cx=6281 cy=4744 r=31 /><circle class=c44 cx=6984 cy=4853 r=31 /><circle class=c42 cx=6151 cy=4742 r=31 /><circle class=c43 cx=6378 cy=4765 r=31 /><circle class=c42 cx=6216 cy=4733 r=31 /><circle class=c34 cx=6922 cy=4007 r=31 /><circle class=c36 cx=7332 cy=4142 r=31 /><circle class=c43 cx=6689 cy=4796 r=31 /><circle class=c44 cx=7153 cy=4872 r=31 /><circle class=c43 cx=6410 cy=4772 r=31 /><circle class=c45 cx=7553 cy=4919 r=31 /><circle class=c37 cx=6400 cy=4210 r=31 /><circle class=c44 cx=7064 cy=4849 r=31 /><circle class=c44 cx=6723 cy=4829 r=31 /><circle class=c43 cx=6592 cy=4797 r=31 /><circle class=c34 cx=7003 cy=3994 r=31 /><circle class=c44 cx=7390 cy=4894 r=31 /><circle class=c44 cx=7833 cy=4877 r=31 /><circle class=c35 cx=7253 cy=4062 r=31 /><circle class=c40 cx=7634 cy=4482 r=31 /><circle class=c44 cx=6900 cy=4831 r=31 /><circle class=c42 cx=6119 cy=4725 r=31 /><circle class=c42 cx=6087 cy=4734 r=31 /><circle class=c35 cx=6453 cy=4142 r=31 /><circle class=c44 cx=7237 cy=4878 r=31 /><circle class=c34 cx=7085 cy=3982 r=31 /><circle class=c43 cx=6440 cy=4765 r=31 /><circle class=c44 cx=6823 cy=4830 r=31 /><circle class=c43 cx=6471 cy=4781 r=31 /><circle class=c44 cx=7488 cy=4930 r=31 /><circle class=c43 cx=6622 cy=4803 r=31 /><circle class=c44 cx=7013 cy=4874 r=31 /><circle class=c42 cx=6056 cy=4730 r=31 /><circle class=c39 cx=6138 cy=4457 r=31 /><circle class=c42 cx=7784 cy=4684 r=31 /><circle class=c44 cx=7328 cy=4904 r=31 /><circle class=c44 cx=7096 cy=4882 r=31 /><circle class=c35 cx=6510 cy=4083 r=31 /><circle class=c42 cx=6025 cy=4739 r=31 /><circle class=c43 cx=6653 cy=4827 r=31 /><circle class=c37 cx=6257 cy=4297 r=31 /><circle class=c43 cx=6246 cy=4778 r=31 /><circle class=c34 cx=6571 cy=4040 r=31 /><circle class=c43 cx=6501 cy=4787 r=31 /><circle class=c36 cx=7496 cy=4220 r=31 /><circle class=c42 cx=5978 cy=4668 r=31 /><circle class=c44 cx=6930 cy=4855 r=31 /><circle class=c33 cx=6702 cy=3972 r=31 /><circle class=c37 cx=7574 cy=4308 r=31 /><circle class=c43 cx=6749 cy=4827 r=31 /><circle class=c43 cx=6305 cy=4781 r=31 /><circle class=c33 cx=6774 cy=3948 r=31 /><circle class=c43 cx=6334 cy=4788 r=31 /><circle class=c43 cx=6531 cy=4804 r=31 /><circle class=c34 cx=6634 cy=4000 r=31 /><circle class=c33 cx=7168 cy=3971 r=31 /><circle class=c35 cx=7414 cy=4130 r=31 /><circle class=c33 cx=6848 cy=3928 r=31 /><circle class=c42 cx=7727 cy=4710 r=31 /><circle class=c43 cx=6364 cy=4795 r=31 /><circle class=c42 cx=6275 cy=4769 r=31 /><circle class=c44 cx=7180 cy=4894 r=31 /><circle class=c42 cx=6216 cy=4765 r=31 /><circle class=c34 cx=7337 cy=4051 r=31 /><circle class=c44 cx=7643 cy=4937 r=31 /><circle class=c44 cx=6852 cy=4848 r=31 /><circle class=c43 cx=6392 cy=4801 r=31 /><circle class=c44 cx=7696 cy=4898 r=31 /><circle class=c42 cx=5995 cy=4735 r=31 /><circle class=c33 cx=6924 cy=3909 r=31 /><circle class=c42 cx=6187 cy=4759 r=31 /><circle class=c44 cx=7270 cy=4921 r=31 /><circle class=c45 cx=7584 cy=4963 r=31 /><circle class=c43 cx=6559 cy=4812 r=31 /><circle class=c33 cx=7006 cy=3900 r=31 /><circle class=c43 cx=6589 cy=4840 r=31 /><circle class=c45 cx=7822 cy=4984 r=31 /><circle class=c44 cx=7418 cy=4926 r=31 /><circle class=c39 cx=7726 cy=4494 r=31 /><circle class=c36 cx=6301 cy=4206 r=31 /><circle class=c42 cx=5966 cy=4742 r=31 /><circle class=c42 cx=6158 cy=4752 r=31 /><circle class=c42 cx=6129 cy=4756 r=31 /><circle class=c43 cx=6420 cy=4797 r=31 /><circle class=c33 cx=7254 cy=3966 r=31 /><circle class=c43 cx=6448 cy=4814 r=31 /><circle class=c43 cx=6777 cy=4841 r=31 /><circle class=c42 cx=6100 cy=4761 r=31 /><circle class=c43 cx=6678 cy=4824 r=31 /><circle class=c38 cx=7639 cy=4380 r=31 /><circle class=c37 cx=6175 cy=4337 r=31 /><circle class=c44 cx=6958 cy=4876 r=31 /><circle class=c42 cx=7840 cy=4765 r=31 /><circle class=c43 cx=6476 cy=4826 r=31 /><circle class=c45 cx=7753 cy=4997 r=31 /><circle class=c40 cx=6037 cy=4519 r=31 /><circle class=c44 cx=7122 cy=4906 r=31 /><circle class=c34 cx=7428 cy=4056 r=31 /><circle class=c44 cx=6879 cy=4867 r=31 /><circle class=c32 cx=7085 cy=3886 r=31 /><circle class=c44 cx=7036 cy=4879 r=31 /><circle class=c42 cx=5937 cy=4744 r=31 /><circle class=c35 cx=7506 cy=4136 r=31 /><circle class=c42 cx=6072 cy=4755 r=31 /><circle class=c43 cx=6706 cy=4844 r=31 /><circle class=c43 cx=6503 cy=4835 r=31 /><circle class=c42 cx=6043 cy=4765 r=31 /><circle class=c32 cx=7174 cy=3889 r=31 /><circle class=c42 cx=5908 cy=4761 r=31 /><circle class=c33 cx=7345 cy=3971 r=31 /><circle class=c43 cx=6244 cy=4808 r=31 /><circle class=c44 cx=7353 cy=4932 r=31 /><circle class=c43 cx=6804 cy=4861 r=31 /><circle class=c35 cx=6348 cy=4121 r=31 /><circle class=c43 cx=6613 cy=4832 r=31 /><circle class=c44 cx=7510 cy=4954 r=31 /><circle class=c36 cx=7580 cy=4215 r=31 /><circle class=c44 cx=7205 cy=4917 r=31 /><circle class=c42 cx=6016 cy=4768 r=31 /><circle class=c43 cx=6529 cy=4846 r=31 /><circle class=c42 cx=6164 cy=4801 r=31 /><circle class=c43 cx=6323 cy=4812 r=31 /><circle class=c43 cx=6349 cy=4820 r=31 /><circle class=c38 cx=6103 cy=4395 r=31 /><circle class=c44 cx=6985 cy=4904 r=31 /><circle class=c42 cx=6190 cy=4794 r=31 /><circle class=c42 cx=6270 cy=4796 r=31 /><circle class=c41 cx=7873 cy=4697 r=31 /><circle class=c31 cx=6849 cy=3831 r=31 /><circle class=c42 cx=6296 cy=4799 r=31 /><circle class=c31 cx=6927 cy=3821 r=31 /><circle class=c42 cx=6217 cy=4790 r=31 /><circle class=c43 cx=6640 cy=4853 r=31 /><circle class=c37 cx=7657 cy=4304 r=31 /><circle class=c34 cx=6399 cy=4056 r=31 /><circle class=c44 cx=7450 cy=4976 r=31 /><circle class=c31 cx=6774 cy=3845 r=31 /><circle class=c44 cx=7066 cy=4918 r=31 /><circle class=c42 cx=5989 cy=4776 r=31 /><circle class=c43 cx=6732 cy=4859 r=31 /><circle class=c32 cx=7261 cy=3888 r=31 /><circle class=c40 cx=5953 cy=4614 r=31 /><circle class=c43 cx=6374 cy=4821 r=31 /><circle class=c31 cx=7008 cy=3813 r=31 /><circle class=c44 cx=6904 cy=4885 r=31 /><circle class=c40 cx=7780 cy=4561 r=31 /><circle class=c42 cx=6138 cy=4792 r=31 /><circle class=c43 cx=6400 cy=4832 r=31 /><circle class=c32 cx=6634 cy=3888 r=31 /><circle class=c32 cx=6701 cy=3860 r=31 /><circle class=c44 cx=7291 cy=4940 r=31 /><circle class=c33 cx=6452 cy=3999 r=31 /><circle class=c38 cx=7736 cy=4402 r=31 /><circle class=c33 cx=6509 cy=3955 r=31 /><circle class=c32 cx=6570 cy=3918 r=31 /><circle class=c42 cx=5962 cy=4784 r=31 /><circle class=c43 cx=6829 cy=4878 r=31 /><circle class=c42 cx=5883 cy=4751 r=31 /><circle class=c47 cx=7937 cy=5200 r=31 /><circle class=c43 cx=6553 cy=4846 r=31 /><circle class=c42 cx=6112 cy=4790 r=31 /><circle class=c43 cx=7893 cy=4846 r=31 /><circle class=c45 cx=7918 cy=5020 r=31 /><circle class=c43 cx=6425 cy=4836 r=31 /><circle class=c31 cx=7090 cy=3805 r=31 /><circle class=c43 cx=6578 cy=4870 r=31 /><circle class=c43 cx=6758 cy=4882 r=31 /><circle class=c42 cx=5854 cy=4774 r=31 /><circle class=c44 cx=7663 cy=4965 r=31 /><circle class=c44 cx=7144 cy=4923 r=31 /><circle class=c43 cx=6450 cy=4848 r=31 /><circle class=c44 cx=7605 cy=4993 r=31 /><circle class=c43 cx=6664 cy=4859 r=31 /><circle class=c42 cx=6087 cy=4788 r=31 /><circle class=c36 cx=6215 cy=4209 r=31 /><circle class=c33 cx=7430 cy=3968 r=31 /><circle class=c42 cx=6062 cy=4795 r=31 /><circle class=c34 cx=7508 cy=4046 r=31 /><circle class=c44 cx=6930 cy=4913 r=31 /><circle class=c44 cx=6855 cy=4908 r=31 /><circle class=c35 cx=7590 cy=4135 r=31 /><circle class=c31 cx=7176 cy=3804 r=31 /><circle class=c32 cx=7348 cy=3887 r=31 /></g><g class=a4><circle class=c42 cx=5938 cy=4780 r=31 /><circle class=c43 cx=7823 cy=4855 r=31 /><circle class=c45 cx=7843 cy=5023 r=31 /><circle class=c44 cx=7229 cy=4947 r=31 /><circle class=c44 cx=7539 cy=5005 r=31 /><circle class=c43 cx=6688 cy=4877 r=31 /><circle class=c43 cx=6472 cy=4845 r=31 /><circle class=c43 cx=6601 cy=4874 r=31 /><circle class=c38 cx=7802 cy=4485 r=31 /><circle class=c44 cx=7375 cy=4957 r=31 /><circle class=c43 cx=6288 cy=4837 r=31 /><circle class=c44 cx=7087 cy=4938 r=31 /><circle class=c44 cx=7004 cy=4912 r=31 /><circle class=c42 cx=5912 cy=4791 r=31 /><circle class=c46 cx=8047 cy=5114 r=31 /><circle class=c31 cx=7266 cy=3810 r=31 /><circle class=c42 cx=6241 cy=4826 r=31 /><circle class=c43 cx=6496 cy=4860 r=31 /><circle class=c42 cx=6038 cy=4786 r=31 /><circle class=c42 cx=6013 cy=4802 r=31 /><circle class=c42 cx=6311 cy=4836 r=31 /><circle class=c35 cx=7664 cy=4215 r=31 /><circle class=c43 cx=6334 cy=4844 r=31 /><circle class=c43 cx=6779 cy=4890 r=31 /><circle class=c42 cx=6171 cy=4825 r=31 /><circle class=c42 cx=6217 cy=4818 r=31 /><circle class=c30 cx=6849 cy=3740 r=31 /><circle class=c42 cx=6264 cy=4820 r=31 /><circle class=c40 cx=7882 cy=4598 r=31 /><circle class=c43 cx=6712 cy=4900 r=31 /><circle class=c43 cx=6357 cy=4848 r=31 /><circle class=c44 cx=7170 cy=4960 r=31 /><circle class=c42 cx=6124 cy=4831 r=31 /><circle class=c43 cx=6519 cy=4872 r=31 /><circle class=c43 cx=6623 cy=4887 r=31 /><circle class=c30 cx=7008 cy=3725 r=31 /><circle class=c44 cx=6878 cy=4930 r=31 /><circle class=c30 cx=6926 cy=3727 r=31 /><circle class=c42 cx=6194 cy=4810 r=31 /><circle class=c42 cx=5888 cy=4799 r=31 /><circle class=c44 cx=7313 cy=4969 r=31 /><circle class=c42 cx=5989 cy=4806 r=31 /><circle class=c36 cx=6139 cy=4249 r=31 /><circle class=c44 cx=6952 cy=4934 r=31 /><circle class=c34 cx=6256 cy=4107 r=31 /><circle class=c42 cx=6148 cy=4814 r=31 /><circle class=c30 cx=6772 cy=3745 r=31 /><circle class=c30 cx=7092 cy=3723 r=31 /><circle class=c37 cx=7739 cy=4305 r=31 /><circle class=c44 cx=7030 cy=4951 r=31 /><circle class=c33 cx=7518 cy=3971 r=31 /><circle class=c43 cx=6803 cy=4917 r=31 /><circle class=c44 cx=7466 cy=4996 r=31 /><circle class=c38 cx=6011 cy=4431 r=31 /><circle class=c42 cx=6379 cy=4844 r=31 /><circle class=c30 cx=6701 cy=3762 r=31 /><circle class=c43 cx=6401 cy=4857 r=31 /><circle class=c31 cx=7355 cy=3813 r=31 /><circle class=c30 cx=7180 cy=3728 r=31 /><circle class=c31 cx=7433 cy=3886 r=31 /><circle class=c43 cx=6423 cy=4867 r=31 /><circle class=c30 cx=6633 cy=3782 r=31 /><circle class=c42 cx=6102 cy=4816 r=31 /><circle class=c44 cx=7693 cy=5022 r=31 /><circle class=c43 cx=6540 cy=4873 r=31 /><circle class=c42 cx=6080 cy=4825 r=31 /><circle class=c44 cx=7253 cy=4983 r=31 /><circle class=c42 cx=5942 cy=4829 r=31 /><circle class=c33 cx=7596 cy=4052 r=31 /><circle class=c39 cx=5930 cy=4552 r=31 /><circle class=c33 cx=6300 cy=4033 r=31 /><circle class=c43 cx=6644 cy=4894 r=31 /><circle class=c37 cx=6072 cy=4319 r=31 /><circle class=c42 cx=5967 cy=4802 r=31 /><circle class=c44 cx=7749 cy=4988 r=31 /><circle class=c43 cx=6444 cy=4875 r=31 /><circle class=c41 cx=7897 cy=4732 r=31 /><circle class=c44 cx=7402 cy=5006 r=31 /><circle class=c43 cx=6561 cy=4891 r=31 /><circle class=c43 cx=7925 cy=4903 r=31 /><circle class=c43 cx=6731 cy=4904 r=31 /><circle class=c31 cx=6568 cy=3802 r=31 /><circle class=c42 cx=5867 cy=4795 r=31 /><circle class=c44 cx=7626 cy=5032 r=31 /><circle class=c30 cx=7269 cy=3733 r=31 /><circle class=c44 cx=7105 cy=4953 r=31 /><circle class=c31 cx=6508 cy=3833 r=31 /><circle class=c42 cx=6058 cy=4819 r=31 /><circle class=c34 cx=7673 cy=4135 r=31 /><circle class=c43 cx=6665 cy=4913 r=31 /><circle class=c32 cx=6347 cy=3964 r=31 /><circle class=c43 cx=6300 cy=4871 r=31 /><circle class=c41 cx=5839 cy=4713 r=31 /><circle class=c42 cx=6259 cy=4860 r=31 /><circle class=c31 cx=6450 cy=3869 r=31 /><circle class=c32 cx=6397 cy=3912 r=31 /><circle class=c42 cx=6279 cy=4862 r=31 /><circle class=c42 cx=7975 cy=4860 r=31 /><circle class=c43 cx=6895 cy=4936 r=31 /><circle class=c44 cx=6971 cy=4953 r=31 /><circle class=c43 cx=6464 cy=4874 r=31 /><circle class=c42 cx=6218 cy=4852 r=31 /><circle class=c42 cx=5844 cy=4810 r=31 /><circle class=c43 cx=6320 cy=4872 r=31 /><circle class=c42 cx=6177 cy=4855 r=31 /><circle class=c37 cx=7805 cy=4386 r=31 /><circle class=c42 cx=6037 cy=4823 r=31 /><circle class=c29 cx=6928 cy=3649 r=31 /><circle class=c29 cx=7010 cy=3646 r=31 /><circle class=c42 cx=6238 cy=4847 r=31 /><circle class=c43 cx=6820 cy=4921 r=31 /><circle class=c43 cx=6484 cy=4888 r=31 /><circle class=c29 cx=6849 cy=3654 r=31 /><circle class=c44 cx=7335 cy=5008 r=31 /><circle class=c31 cx=7526 cy=3898 r=31 /><circle class=c44 cx=7556 cy=5034 r=31 /><circle class=c46 cx=8085 cy=5199 r=31 /><circle class=c44 cx=7049 cy=4971 r=31 /><circle class=c34 cx=6176 cy=4132 r=31 /><circle class=c44 cx=7186 cy=4975 r=31 /><circle class=c29 cx=7094 cy=3647 r=31 /><circle class=c42 cx=6198 cy=4842 r=31 /><circle class=c43 cx=6580 cy=4889 r=31 /><circle class=c42 cx=6016 cy=4827 r=31 /><circle class=c33 cx=7609 cy=3982 r=31 /><circle class=c42 cx=6137 cy=4852 r=31 /><circle class=c35 cx=7749 cy=4222 r=31 /><circle class=c43 cx=6684 cy=4928 r=31 /><circle class=c30 cx=7438 cy=3810 r=31 /><circle class=c29 cx=6773 cy=3660 r=31 /><circle class=c42 cx=5924 cy=4807 r=31 /><circle class=c38 cx=7886 cy=4496 r=31 /><circle class=c42 cx=6339 cy=4862 r=31 /><circle class=c30 cx=7357 cy=3736 r=31 /><circle class=c43 cx=6504 cy=4897 r=31 /><circle class=c42 cx=5902 cy=4830 r=31 /><circle class=c42 cx=6117 cy=4853 r=31 /><circle class=c42 cx=6359 cy=4871 r=31 /><circle class=c29 cx=7182 cy=3651 r=31 /><circle class=c43 cx=6748 cy=4906 r=31 /><circle class=c42 cx=5995 cy=4835 r=31 /><circle class=c43 cx=6600 cy=4909 r=31 /><circle class=c45 cx=7729 cy=5097 r=31 /><circle class=c45 cx=7791 cy=5074 r=31 /><circle class=c44 cx=7488 cy=5038 r=31 /><circle class=c43 cx=6523 cy=4917 r=31 /><circle class=c44 cx=8048 cy=4987 r=31 /><circle class=c42 cx=6157 cy=4832 r=31 /><circle class=c43 cx=6397 cy=4890 r=31 /><circle class=c42 cx=5824 cy=4812 r=31 /><circle class=c33 cx=7687 cy=4064 r=31 /><circle class=c29 cx=6700 cy=3667 r=31 /><circle class=c42 cx=6377 cy=4869 r=31 /><circle class=c43 cx=6416 cy=4900 r=31 /><circle class=c44 cx=7269 cy=5006 r=31 /><circle class=c43 cx=6839 cy=4941 r=31 /><circle class=c43 cx=6434 cy=4913 r=31 /><circle class=c36 cx=7825 cy=4316 r=31 /><circle class=c44 cx=7122 cy=4976 r=31 /><circle class=c29 cx=7270 cy=3657 r=31 /><circle class=c43 cx=6618 cy=4924 r=31 /><circle class=c42 cx=6098 cy=4840 r=31 /><circle class=c40 cx=5819 cy=4698 r=31 /><circle class=c40 cx=7909 cy=4638 r=31 /><circle class=c41 cx=8003 cy=4785 r=31 /><circle class=c43 cx=6911 cy=4946 r=31 /><circle class=c43 cx=6767 cy=4930 r=31 /><circle class=c42 cx=6079 cy=4849 r=31 /><circle class=c42 cx=5976 cy=4831 r=31 /><circle class=c29 cx=6632 cy=3682 r=31 /><circle class=c42 cx=6060 cy=4860 r=31 /><circle class=c42 cx=5803 cy=4827 r=31 /><circle class=c43 cx=6700 cy=4932 r=31 /><circle class=c28 cx=7013 cy=3575 r=31 /><circle class=c42 cx=5883 cy=4826 r=31 /><circle class=c42 cx=6254 cy=4895 r=31 /><circle class=c28 cx=6930 cy=3574 r=31 /><circle class=c43 cx=6985 cy=4960 r=31 /><circle class=c44 cx=7416 cy=5030 r=31 /><circle class=c37 cx=5986 cy=4365 r=31 /><circle class=c43 cx=6636 cy=4943 r=31 /><circle class=c30 cx=7447 cy=3743 r=31 /><circle class=c33 cx=6215 cy=4029 r=31 /><circle class=c28 cx=7097 cy=3576 r=31 /><circle class=c30 cx=7530 cy=3821 r=31 /><circle class=c44 cx=7204 cy=5008 r=31 /><circle class=c42 cx=5957 cy=4838 r=31 /><circle class=c43 cx=6538 cy=4906 r=31 /><circle class=c34 cx=7761 cy=4146 r=31 /><circle class=c28 cx=6850 cy=3575 r=31 /><circle class=c29 cx=6567 cy=3699 r=31 /><circle class=c42 cx=6201 cy=4880 r=31 /><circle class=c34 cx=6106 cy=4167 r=31 /><circle class=c42 cx=6042 cy=4857 r=31 /><circle class=c42 cx=6166 cy=4886 r=31 /><circle class=c42 cx=6218 cy=4878 r=31 /><circle class=c43 cx=6786 cy=4957 r=31 /><circle class=c42 cx=6023 cy=4870 r=31 /><circle class=c29 cx=7360 cy=3664 r=31 /><circle class=c38 cx=5911 cy=4487 r=31 /><circle class=c42 cx=5938 cy=4852 r=31 /><circle class=c44 cx=7061 cy=4978 r=31 /><circle class=c42 cx=6271 cy=4879 r=31 /><circle class=c42 cx=6450 cy=4899 r=31 /><circle class=c42 cx=5864 cy=4836 r=31 /><circle class=c43 cx=6467 cy=4919 r=31 /><circle class=c43 cx=6718 cy=4953 r=31 /><circle class=c42 cx=6184 cy=4876 r=31 /><circle class=c42 cx=6288 cy=4883 r=31 /><circle class=c43 cx=6856 cy=4959 r=31 /><circle class=c45 cx=7901 cy=5154 r=31 /><circle class=c42 cx=6339 cy=4907 r=31 /><circle class=c31 cx=7610 cy=3900 r=31 /><circle class=c28 cx=7182 cy=3577 r=31 /><circle class=c42 cx=6236 cy=4868 r=31 /><circle class=c29 cx=6506 cy=3724 r=31 /><circle class=c43 cx=6356 cy=4914 r=31 /><circle class=c42 cx=6322 cy=4892 r=31 /><circle class=c44 cx=7635 cy=5055 r=31 /><circle class=c43 cx=6928 cy=4970 r=31 /><circle class=c35 cx=6043 cy=4244 r=31 /><circle class=c42 cx=5785 cy=4833 r=31 /><circle class=c42 cx=6305 cy=4881 r=31 /><circle class=c44 cx=7347 cy=5027 r=31 /><circle class=c28 cx=6773 cy=3576 r=31 /><circle class=c42 cx=6149 cy=4874 r=31 /><circle class=c45 cx=7963 cy=5126 r=31 /><circle class=c42 cx=6554 cy=4909 r=31 /><circle class=c42 cx=5845 cy=4854 r=31 /><circle class=c43 cx=6651 cy=4950 r=31 /><circle class=c42 cx=6132 cy=4878 r=31 /><circle class=c43 cx=7879 cy=4963 r=31 /><circle class=c44 cx=7570 cy=5067 r=31 /><circle class=c31 cx=6256 cy=3947 r=31 /><circle class=c32 cx=7692 cy=3985 r=31 /><circle class=c30 cx=6449 cy=3753 r=31 /><circle class=c28 cx=7273 cy=3587 r=31 /><circle class=c44 cx=7139 cy=5005 r=31 /><circle class=c42 cx=5921 cy=4857 r=31 /><circle class=c42 cx=6116 cy=4881 r=31 /><circle class=c42 cx=6371 cy=4911 r=31 /><circle class=c43 cx=6572 cy=4931 r=31 /><circle class=c43 cx=7002 cy=4986 r=31 /><circle class=c42 cx=6007 cy=4860 r=31 /><circle class=c43 cx=6499 cy=4940 r=31 /><circle class=c44 cx=7283 cy=5034 r=31 /><circle class=c42 cx=6482 cy=4914 r=31 /><circle class=c42 cx=5990 cy=4877 r=31 /><circle class=c42 cx=6099 cy=4881 r=31 /><circle class=c31 cx=6299 cy=3883 r=31 /><circle class=c35 cx=7832 cy=4231 r=31 /><circle class=c30 cx=6396 cy=3786 r=31 /><circle class=c28 cx=6700 cy=3581 r=31 /><circle class=c42 cx=6387 cy=4913 r=31 /><circle class=c43 cx=6801 cy=4969 r=31 /><circle class=c44 cx=7080 cy=5018 r=31 /><circle class=c30 cx=6346 cy=3829 r=31 /><circle class=c43 cx=6871 cy=4980 r=31 /><circle class=c30 cx=7536 cy=3752 r=31 /><circle class=c44 cx=7499 cy=5064 r=31 /><circle class=c43 cx=6731 cy=4960 r=31 /><circle class=c43 cx=6417 cy=4940 r=31 /><circle class=c44 cx=6946 cy=5005 r=31 /><circle class=c26 cx=7012 cy=3501 r=31 /><circle class=c28 cx=7449 cy=3672 r=31 /><circle class=c26 cx=7098 cy=3506 r=31 /><circle class=c42 cx=5904 cy=4864 r=31 /><circle class=c43 cx=6514 cy=4950 r=31 /><circle class=c42 cx=5768 cy=4839 r=31 /></g><g class=a5><circle class=c42 cx=6084 cy=4878 r=31 /><circle class=c43 cx=6586 cy=4941 r=31 /><circle class=c42 cx=6401 cy=4913 r=31 /><circle class=c27 cx=7187 cy=3514 r=31 /><circle class=c28 cx=7362 cy=3595 r=31 /><circle class=c28 cx=6631 cy=3591 r=31 /><circle class=c42 cx=5830 cy=4850 r=31 /><circle class=c38 cx=7912 cy=4535 r=31 /><circle class=c42 cx=6233 cy=4917 r=31 /><circle class=c26 cx=6927 cy=3493 r=31 /><circle class=c30 cx=7616 cy=3828 r=31 /><circle class=c42 cx=6052 cy=4895 r=31 /><circle class=c43 cx=6748 cy=4989 r=31 /><circle class=c42 cx=6068 cy=4880 r=31 /><circle class=c26 cx=6849 cy=3497 r=31 /><circle class=c38 cx=7962 cy=4503 r=31 /><circle class=c44 cx=7216 cy=5027 r=31 /><circle class=c42 cx=5975 cy=4869 r=31 /><circle class=c44 cx=7429 cy=5062 r=31 /><circle class=c43 cx=6663 cy=4946 r=31 /><circle class=c43 cx=6602 cy=4962 r=31 /><circle class=c42 cx=6219 cy=4910 r=31 /><circle class=c33 cx=7761 cy=4060 r=31 /><circle class=c33 cx=6141 cy=4046 r=31 /><circle class=c43 cx=6816 cy=4994 r=31 /><circle class=c42 cx=6431 cy=4935 r=31 /><circle class=c42 cx=6204 cy=4908 r=31 /><circle class=c42 cx=6262 cy=4912 r=31 /><circle class=c42 cx=6291 cy=4922 r=31 /><circle class=c36 cx=7861 cy=4361 r=31 /><circle class=c42 cx=6277 cy=4914 r=31 /><circle class=c27 cx=7276 cy=3522 r=31 /><circle class=c42 cx=6190 cy=4905 r=31 /><circle class=c42 cx=6176 cy=4907 r=31 /><circle class=c42 cx=6248 cy=4902 r=31 /><circle class=c28 cx=6566 cy=3606 r=31 /><circle class=c42 cx=8033 cy=4845 r=31 /><circle class=c42 cx=6305 cy=4921 r=31 /><circle class=c26 cx=6773 cy=3500 r=31 /><circle class=c44 cx=8061 cy=5031 r=31 /><circle class=c42 cx=6038 cy=4895 r=31 /><circle class=c44 cx=7792 cy=5091 r=31 /><circle class=c42 cx=5889 cy=4861 r=31 /><circle class=c43 cx=7015 cy=5008 r=31 /><circle class=c31 cx=7698 cy=3911 r=31 /><circle class=c44 cx=7363 cy=5066 r=31 /><circle class=c42 cx=6319 cy=4927 r=31 /><circle class=c42 cx=5813 cy=4865 r=31 /><circle class=c42 cx=5959 cy=4874 r=31 /><circle class=c43 cx=6885 cy=5001 r=31 /><circle class=c42 cx=6147 cy=4911 r=31 /><circle class=c43 cx=6678 cy=4968 r=31 /><circle class=c45 cx=8077 cy=5215 r=31 /><circle class=c43 cx=6458 cy=4959 r=31 /><circle class=c42 cx=5753 cy=4844 r=31 /><circle class=c28 cx=7457 cy=3611 r=31 /><circle class=c44 cx=7657 cy=5112 r=31 /><circle class=c42 cx=6444 cy=4935 r=31 /><circle class=c42 cx=6525 cy=4937 r=31 /><circle class=c34 cx=7845 cy=4159 r=31 /><circle class=c42 cx=5873 cy=4883 r=31 /><circle class=c42 cx=6162 cy=4899 r=31 /><circle class=c42 cx=6332 cy=4926 r=31 /><circle class=c44 cx=7150 cy=5023 r=31 /><circle class=c43 cx=6540 cy=4963 r=31 /><circle class=c39 cx=5810 cy=4627 r=31 /><circle class=c42 cx=6345 cy=4934 r=31 /><circle class=c35 cx=5964 cy=4300 r=31 /><circle class=c42 cx=6106 cy=4924 r=31 /><circle class=c42 cx=5945 cy=4883 r=31 /><circle class=c44 cx=7092 cy=5040 r=31 /><circle class=c26 cx=7014 cy=3434 r=31 /><circle class=c28 cx=7538 cy=3681 r=31 /><circle class=c27 cx=7368 cy=3533 r=31 /><circle class=c43 cx=6613 cy=4962 r=31 /><circle class=c44 cx=7296 cy=5063 r=31 /><circle class=c42 cx=6024 cy=4889 r=31 /><circle class=c26 cx=7099 cy=3438 r=31 /><circle class=c42 cx=6358 cy=4935 r=31 /><circle class=c26 cx=6930 cy=3430 r=31 /><circle class=c37 cx=5893 cy=4427 r=31 /><circle class=c43 cx=6692 cy=4989 r=31 /><circle class=c42 cx=6120 cy=4905 r=31 /><circle class=c26 cx=7189 cy=3449 r=31 /><circle class=c28 cx=6505 cy=3620 r=31 /><circle class=c31 cx=6177 cy=3953 r=31 /><circle class=c43 cx=6954 cy=5009 r=31 /><circle class=c26 cx=6699 cy=3499 r=31 /><circle class=c35 cx=7886 cy=4300 r=31 /><circle class=c29 cx=7623 cy=3762 r=31 /><circle class=c44 cx=7710 cy=5074 r=31 /><circle class=c42 cx=6134 cy=4891 r=31 /><circle class=c42 cx=6371 cy=4942 r=31 /><circle class=c43 cx=6827 cy=5005 r=31 /><circle class=c43 cx=6757 cy=4987 r=31 /><circle class=c44 cx=7580 cy=5099 r=31 /><circle class=c32 cx=7774 cy=3993 r=31 /><circle class=c42 cx=6470 cy=4953 r=31 /><circle class=c42 cx=5737 cy=4860 r=31 /><circle class=c25 cx=6851 cy=3430 r=31 /><circle class=c39 cx=5789 cy=4639 r=31 /><circle class=c33 cx=6076 cy=4090 r=31 /><circle class=c42 cx=5931 cy=4888 r=31 /><circle class=c42 cx=5859 cy=4884 r=31 /><circle class=c43 cx=6551 cy=4964 r=31 /><circle class=c42 cx=5801 cy=4862 r=31 /><circle class=c42 cx=6011 cy=4888 r=31 /><circle class=c42 cx=6383 cy=4944 r=31 /><circle class=c37 cx=7976 cy=4423 r=31 /><circle class=c43 cx=6897 cy=5021 r=31 /><circle class=c43 cx=6482 cy=4965 r=31 /><circle class=c44 cx=7511 cy=5100 r=31 /><circle class=c43 cx=6625 cy=4973 r=31 /><circle class=c42 cx=6395 cy=4956 r=31 /><circle class=c28 cx=6448 cy=3643 r=31 /><circle class=c26 cx=7277 cy=3457 r=31 /><circle class=c42 cx=6094 cy=4904 r=31 /><circle class=c34 cx=6018 cy=4173 r=31 /><circle class=c42 cx=5997 cy=4902 r=31 /><circle class=c45 cx=7976 cy=5176 r=31 /><circle class=c26 cx=6630 cy=3508 r=31 /><circle class=c43 cx=7027 cy=5030 r=31 /><circle class=c44 cx=7226 cy=5051 r=31 /><circle class=c42 cx=6243 cy=4947 r=31 /><circle class=c35 cx=7918 cy=4250 r=31 /><circle class=c27 cx=7462 cy=3548 r=31 /><circle class=c42 cx=6265 cy=4949 r=31 /><circle class=c42 cx=6254 cy=4943 r=31 /><circle class=c30 cx=7701 cy=3838 r=31 /><circle class=c28 cx=7548 cy=3623 r=31 /><circle class=c42 cx=5918 cy=4895 r=31 /><circle class=c42 cx=5846 cy=4898 r=31 /><circle class=c42 cx=6406 cy=4958 r=31 /><circle class=c42 cx=6082 cy=4901 r=31 /><circle class=c43 cx=6637 cy=4995 r=31 /><circle class=c42 cx=6208 cy=4935 r=31 /><circle class=c25 cx=7103 cy=3380 r=31 /><circle class=c42 cx=6219 cy=4932 r=31 /><circle class=c44 cx=7163 cy=5056 r=31 /><circle class=c43 cx=6417 cy=4972 r=31 /><circle class=c42 cx=6276 cy=4944 r=31 /><circle class=c28 cx=6394 cy=3671 r=31 /><circle class=c42 cx=6562 cy=4969 r=31 /><circle class=c42 cx=6070 cy=4910 r=31 /><circle class=c43 cx=6767 cy=5002 r=31 /><circle class=c38 cx=7951 cy=4600 r=31 /><circle class=c30 cx=6215 cy=3865 r=31 /><circle class=c40 cx=8047 cy=4754 r=31 /><circle class=c44 cx=8106 cy=5134 r=31 /><circle class=c43 cx=6966 cy=5034 r=31 /><circle class=c25 cx=6771 cy=3421 r=31 /><circle class=c42 cx=5985 cy=4900 r=31 /><circle class=c26 cx=7370 cy=3470 r=31 /><circle class=c42 cx=6174 cy=4935 r=31 /><circle class=c42 cx=6231 cy=4924 r=31 /><circle class=c43 cx=6504 cy=4988 r=31 /><circle class=c42 cx=6492 cy=4961 r=31 /><circle class=c42 cx=6152 cy=4944 r=31 /><circle class=c24 cx=7014 cy=3369 r=31 /><circle class=c33 cx=7850 cy=4079 r=31 /><circle class=c41 cx=5725 cy=4866 r=31 /><circle class=c42 cx=6299 cy=4948 r=31 /><circle class=c42 cx=6185 cy=4928 r=31 /><circle class=c42 cx=6197 cy=4925 r=31 /><circle class=c42 cx=6309 cy=4955 r=31 /><circle class=c42 cx=6058 cy=4917 r=31 /><circle class=c28 cx=7631 cy=3698 r=31 /><circle class=c44 cx=7435 cy=5083 r=31 /><circle class=c28 cx=6345 cy=3707 r=31 /><circle class=c43 cx=6699 cy=4982 r=31 /><circle class=c41 cx=5788 cy=4867 r=31 /><circle class=c42 cx=5973 cy=4916 r=31 /><circle class=c42 cx=6287 cy=4937 r=31 /><circle class=c26 cx=6565 cy=3517 r=31 /><circle class=c30 cx=6255 cy=3804 r=31 /><circle class=c44 cx=7101 cy=5060 r=31 /><circle class=c42 cx=6163 cy=4932 r=31 /><circle class=c45 cx=7746 cy=5168 r=31 /><circle class=c42 cx=5905 cy=4904 r=31 /><circle class=c43 cx=6573 cy=4987 r=31 /><circle class=c25 cx=7189 cy=3385 r=31 /><circle class=c43 cx=6835 cy=5013 r=31 /><circle class=c44 cx=7371 cy=5090 r=31 /><circle class=c24 cx=6930 cy=3363 r=31 /><circle class=c29 cx=6298 cy=3750 r=31 /><circle class=c25 cx=7284 cy=3401 r=31 /><circle class=c44 cx=7811 cy=5151 r=31 /><circle class=c42 cx=6141 cy=4936 r=31 /><circle class=c43 cx=6712 cy=5015 r=31 /><circle class=c31 cx=7781 cy=3921 r=31 /><circle class=c42 cx=6320 cy=4948 r=31 /><circle class=c43 cx=6906 cy=5038 r=31 /><circle class=c42 cx=5773 cy=4893 r=31 /><circle class=c24 cx=6851 cy=3362 r=31 /><circle class=c44 cx=7877 cy=5136 r=31 /><circle class=c43 cx=6646 cy=5004 r=31 /><circle class=c42 cx=6426 cy=4962 r=31 /><circle class=c25 cx=6698 cy=3424 r=31 /><circle class=c42 cx=6330 cy=4952 r=31 /><circle class=c38 cx=7990 cy=4551 r=31 /><circle class=c43 cx=6583 cy=5004 r=31 /><circle class=c42 cx=6035 cy=4927 r=31 /><circle class=c42 cx=5962 cy=4919 r=31 /><circle class=c44 cx=7038 cy=5059 r=31 /><circle class=c42 cx=6047 cy=4909 r=31 /><circle class=c42 cx=6120 cy=4942 r=31 /><circle class=c42 cx=6437 cy=4976 r=31 /><circle class=c43 cx=6778 cy=5023 r=31 /><circle class=c42 cx=5836 cy=4894 r=31 /><circle class=c29 cx=7713 cy=3777 r=31 /><circle class=c42 cx=6340 cy=4958 r=31 /><circle class=c42 cx=5711 cy=4884 r=31 /><circle class=c44 cx=7301 cy=5082 r=31 /><circle class=c42 cx=6131 cy=4929 r=31 /><circle class=c36 cx=5875 cy=4387 r=31 /><circle class=c26 cx=7463 cy=3484 r=31 /><circle class=c42 cx=6512 cy=4979 r=31 /><circle class=c44 cx=7238 cy=5089 r=31 /><circle class=c31 cx=6108 cy=3970 r=31 /><circle class=c42 cx=6349 cy=4961 r=31 /><circle class=c26 cx=6503 cy=3528 r=31 /><circle class=c42 cx=6110 cy=4940 r=31 /><circle class=c42 cx=5895 cy=4901 r=31 /><circle class=c42 cx=5951 cy=4929 r=31 /><circle class=c35 cx=7983 cy=4337 r=31 /><circle class=c38 cx=5777 cy=4608 r=31 /><circle class=c26 cx=7549 cy=3556 r=31 /><circle class=c25 cx=7375 cy=3412 r=31 /><circle class=c24 cx=7104 cy=3319 r=31 /><circle class=c42 cx=6446 cy=4980 r=31 /><circle class=c34 cx=5943 cy=4241 r=31 /><circle class=c25 cx=6630 cy=3431 r=31 /><circle class=c42 cx=6100 cy=4944 r=31 /><circle class=c42 cx=5883 cy=4926 r=31 /><circle class=c24 cx=7016 cy=3310 r=31 /><circle class=c42 cx=5824 cy=4911 r=31 /><circle class=c42 cx=6358 cy=4963 r=31 /><circle class=c44 cx=7590 cy=5140 r=31 /><circle class=c42 cx=6026 cy=4922 r=31 /><circle class=c42 cx=6368 cy=4975 r=31 /><circle class=c43 cx=6521 cy=4994 r=31 /><circle class=c43 cx=6720 cy=5029 r=31 /><circle class=c24 cx=6772 cy=3357 r=31 /><circle class=c31 cx=7862 cy=4012 r=31 /><circle class=c44 cx=7655 cy=5129 r=31 /><circle class=c43 cx=6654 cy=5013 r=31 /><circle class=c43 cx=6973 cy=5051 r=31 /><circle class=c24 cx=7192 cy=3327 r=31 /><circle class=c43 cx=6843 cy=5027 r=31 /><circle class=c42 cx=6220 cy=4974 r=31 /><circle class=c42 cx=6091 cy=4948 r=31 /><circle class=c27 cx=7636 cy=3634 r=31 /><circle class=c42 cx=6015 cy=4934 r=31 /><circle class=c33 cx=7919 cy=4163 r=31 /><circle class=c43 cx=6591 cy=5006 r=31 /><circle class=c24 cx=6932 cy=3303 r=31 /><circle class=c44 cx=7170 cy=5076 r=31 /><circle class=c44 cx=7518 cy=5133 r=31 /><circle class=c41 cx=5764 cy=4893 r=31 /><circle class=c42 cx=6454 cy=4983 r=31 /><circle class=c42 cx=6228 cy=4965 r=31 /><circle class=c43 cx=6786 cy=5039 r=31 /><circle class=c42 cx=6005 cy=4945 r=31 /><circle class=c24 cx=7284 cy=3340 r=31 /><circle class=c26 cx=6446 cy=3546 r=31 /><circle class=c42 cx=6178 cy=4972 r=31 /><circle class=c42 cx=5942 cy=4930 r=31 /><circle class=c42 cx=6237 cy=4962 r=31 /><circle class=c42 cx=6203 cy=4962 r=31 /><circle class=c42 cx=6245 cy=4963 r=31 /><circle class=c42 cx=6254 cy=4964 r=31 /><circle class=c30 cx=7789 cy=3854 r=31 /><circle class=c42 cx=6376 cy=4969 r=31 /><circle class=c42 cx=6211 cy=4958 r=31 /><circle class=c41 cx=5701 cy=4893 r=31 /><circle class=c39 cx=8061 cy=4666 r=31 /><circle class=c43 cx=6912 cy=5050 r=31 /><circle class=c42 cx=6262 cy=4965 r=31 /><circle class=c42 cx=6529 cy=5000 r=31 /><circle class=c42 cx=6082 cy=4943 r=31 /><circle class=c42 cx=6278 cy=4973 r=31 /><circle class=c42 cx=6384 cy=4979 r=31 /><circle class=c42 cx=6195 cy=4956 r=31 /><circle class=c42 cx=6170 cy=4966 r=31 /><circle class=c42 cx=6162 cy=4972 r=31 /><circle class=c44 cx=7446 cy=5125 r=31 /><circle class=c43 cx=7105 cy=5073 r=31 /><circle class=c38 cx=5760 cy=4616 r=31 /><circle class=c42 cx=6270 cy=4964 r=31 /><circle class=c42 cx=5751 cy=4922 r=31 /><circle class=c24 cx=6699 cy=3357 r=31 /><circle class=c42 cx=6392 cy=4991 r=31 /><circle class=c42 cx=5997 cy=4951 r=31 /><circle class=c23 cx=6850 cy=3297 r=31 /><circle class=c44 cx=7380 cy=5129 r=31 /><circle class=c28 cx=7718 cy=3711 r=31 /><circle class=c42 cx=6074 cy=4946 r=31 /><circle class=c43 cx=6661 cy=5024 r=31 /><circle class=c42 cx=6294 cy=4976 r=31 /><circle class=c42 cx=6286 cy=4969 r=31 /><circle class=c30 cx=6142 cy=3875 r=31 /><circle class=c42 cx=5815 cy=4914 r=31 /><circle class=c45 cx=7914 cy=5237 r=31 /><circle class=c37 cx=8007 cy=4474 r=31 /><circle class=c31 cx=6049 cy=4019 r=31 /><circle class=c42 cx=6302 cy=4980 r=31 /><circle class=c25 cx=6564 cy=3434 r=31 /><circle class=c25 cx=7465 cy=3424 r=31 /><circle class=c42 cx=6186 cy=4948 r=31 /><circle class=c42 cx=6461 cy=4982 r=31 /><circle class=c45 cx=7987 cy=5232 r=31 /><circle class=c43 cx=6726 cy=5038 r=31 /><circle class=c26 cx=6393 cy=3570 r=31 /><circle class=c42 cx=6597 cy=5010 r=31 /><circle class=c42 cx=5876 cy=4916 r=31 /><circle class=c43 cx=6851 cy=5050 r=31 /><circle class=c42 cx=6309 cy=4983 r=31 /><circle class=c42 cx=6469 cy=5000 r=31 /><circle class=c26 cx=7553 cy=3496 r=31 /><circle class=c43 cx=7041 cy=5071 r=31 /><circle class=c42 cx=6146 cy=4969 r=31 /><circle class=c41 cx=8019 cy=4848 r=31 /><circle class=c24 cx=7376 cy=3353 r=31 /><circle class=c32 cx=5994 cy=4105 r=31 /><circle class=c42 cx=5988 cy=4959 r=31 /><circle class=c42 cx=5933 cy=4930 r=31 /><circle class=c42 cx=6066 cy=4948 r=31 /><circle class=c43 cx=6982 cy=5081 r=31 /><circle class=c42 cx=6154 cy=4957 r=31 /><circle class=c42 cx=6316 cy=4986 r=31 /><circle class=c23 cx=7103 cy=3259 r=31 /><circle class=c42 cx=6535 cy=5004 r=31 /><circle class=c23 cx=7194 cy=3271 r=31 /><circle class=c42 cx=6399 cy=4987 r=31 /><circle class=c23 cx=6935 cy=3248 r=31 /><circle class=c45 cx=8132 cy=5215 r=31 /><circle class=c42 cx=5865 cy=4938 r=31 /><circle class=c23 cx=7016 cy=3249 r=31 /><circle class=c26 cx=7641 cy=3573 r=31 /><circle class=c42 cx=6476 cy=5012 r=31 /><circle class=c23 cx=7289 cy=3287 r=31 /><circle class=c44 cx=7307 cy=5109 r=31 /><circle class=c42 cx=6406 cy=4997 r=31 /><circle class=c44 cx=7244 cy=5116 r=31 /><circle class=c42 cx=6139 cy=4961 r=31 /><circle class=c43 cx=6604 cy=5027 r=31 /><circle class=c42 cx=5806 cy=4927 r=31 /><circle class=c23 cx=6772 cy=3291 r=31 /><circle class=c41 cx=5692 cy=4902 r=31 /><circle class=c30 cx=7867 cy=3939 r=31 /><circle class=c24 cx=6629 cy=3359 r=31 /><circle class=c32 cx=7930 cy=4092 r=31 /><circle class=c34 cx=7989 cy=4255 r=31 /><circle class=c42 cx=6132 cy=4963 r=31 /><circle class=c29 cx=7801 cy=3793 r=31 /><circle class=c42 cx=6330 cy=4988 r=31 /><circle class=c43 cx=6667 cy=5035 r=31 /><circle class=c42 cx=5743 cy=4931 r=31 /><circle class=c43 cx=6789 cy=5042 r=31 /><circle class=c42 cx=6542 cy=5016 r=31 /><circle class=c29 cx=6177 cy=3794 r=31 /><circle class=c36 cx=8041 cy=4423 r=31 /><circle class=c43 cx=6918 cy=5070 r=31 /><circle class=c26 cx=6343 cy=3594 r=31 /><circle class=c42 cx=6336 cy=4995 r=31 /><circle class=c42 cx=6412 cy=5002 r=31 /><circle class=c42 cx=6322 cy=4972 r=31 /><circle class=c42 cx=6059 cy=4938 r=31 /><circle class=c38 cx=5745 cy=4618 r=31 /></g><g class=a6><circle class=c25 cx=6502 cy=3442 r=31 /><circle class=c35 cx=5860 cy=4345 r=31 /><circle class=c42 cx=6125 cy=4962 r=31 /><circle class=c42 cx=6051 cy=4950 r=31 /><circle class=c42 cx=6342 cy=5000 r=31 /><circle class=c28 cx=6215 cy=3733 r=31 /><circle class=c24 cx=7472 cy=3370 r=31 /><circle class=c42 cx=6348 cy=5011 r=31 /><circle class=c42 cx=5927 cy=4924 r=31 /><circle class=c42 cx=5982 cy=4948 r=31 /><circle class=c40 cx=8061 cy=4798 r=31 /><circle class=c27 cx=6298 cy=3632 r=31 /><circle class=c43 cx=6548 cy=5034 r=31 /><circle class=c44 cx=7174 cy=5098 r=31 /><circle class=c42 cx=6253 cy=5010 r=31 /><circle class=c44 cx=8034 cy=5182 r=31 /><circle class=c42 cx=6481 cy=5009 r=31 /><circle class=c27 cx=7724 cy=3649 r=31 /><circle class=c42 cx=6044 cy=4958 r=31 /><circle class=c25 cx=7559 cy=3440 r=31 /><circle class=c43 cx=6610 cy=5039 r=31 /><circle class=c43 cx=6730 cy=5040 r=31 /><circle class=c43 cx=6674 cy=5058 r=31 /><circle class=c42 cx=6119 cy=4959 r=31 /><circle class=c44 cx=7809 cy=5180 r=31 /><circle class=c42 cx=6417 cy=5003 r=31 /><circle class=c42 cx=6226 cy=4995 r=31 /><circle class=c27 cx=6255 cy=3674 r=31 /><circle class=c43 cx=6855 cy=5061 r=31 /><circle class=c42 cx=6037 cy=4970 r=31 /><circle class=c23 cx=6849 cy=3234 r=31 /><circle class=c42 cx=6243 cy=4997 r=31 /><circle class=c42 cx=6209 cy=4994 r=31 /><circle class=c43 cx=7109 cy=5095 r=31 /><circle class=c42 cx=6423 cy=5018 r=31 /><circle class=c42 cx=6487 cy=5024 r=31 /><circle class=c23 cx=6698 cy=3289 r=31 /><circle class=c40 cx=8117 cy=4770 r=31 /><circle class=c23 cx=7377 cy=3296 r=31 /><circle class=c41 cx=5683 cy=4922 r=31 /><circle class=c22 cx=7104 cy=3204 r=31 /><circle class=c42 cx=5976 cy=4955 r=31 /><circle class=c33 cx=5924 cy=4190 r=31 /><circle class=c42 cx=6204 cy=4991 r=31 /><circle class=c22 cx=7195 cy=3217 r=31 /><circle class=c42 cx=6112 cy=4960 r=31 /><circle class=c41 cx=5860 cy=4928 r=31 /><circle class=c37 cx=8072 cy=4579 r=31 /><circle class=c44 cx=7732 cy=5171 r=31 /><circle class=c22 cx=7017 cy=3195 r=31 /><circle class=c42 cx=6248 cy=4992 r=31 /><circle class=c42 cx=6106 cy=4968 r=31 /><circle class=c42 cx=5919 cy=4933 r=31 /><circle class=c26 cx=7647 cy=3515 r=31 /><circle class=c42 cx=6220 cy=4983 r=31 /><circle class=c42 cx=6237 cy=4985 r=31 /><circle class=c42 cx=6215 cy=4983 r=31 /><circle class=c44 cx=7660 cy=5168 r=31 /><circle class=c42 cx=6100 cy=4978 r=31 /><circle class=c42 cx=6198 cy=4986 r=31 /><circle class=c42 cx=6193 cy=4988 r=31 /><circle class=c24 cx=6563 cy=3361 r=31 /><circle class=c42 cx=6264 cy=4997 r=31 /><circle class=c42 cx=6183 cy=4994 r=31 /><circle class=c42 cx=6358 cy=5010 r=31 /><circle class=c42 cx=6269 cy=5001 r=31 /><circle class=c41 cx=5800 cy=4925 r=31 /><circle class=c42 cx=6231 cy=4980 r=31 /><circle class=c44 cx=7521 cy=5167 r=31 /><circle class=c43 cx=7045 cy=5088 r=31 /><circle class=c44 cx=7589 cy=5165 r=31 /><circle class=c42 cx=6258 cy=4990 r=31 /><circle class=c42 cx=6352 cy=4995 r=31 /><circle class=c43 cx=6984 cy=5095 r=31 /><circle class=c30 cx=6079 cy=3903 r=31 /><circle class=c43 cx=6794 cy=5057 r=31 /><circle class=c25 cx=6445 cy=3456 r=31 /><circle class=c42 cx=6363 cy=5020 r=31 /><circle class=c42 cx=6278 cy=5006 r=31 /><circle class=c42 cx=6491 cy=5035 r=31 /><circle class=c42 cx=6188 cy=4984 r=31 /><circle class=c41 cx=5737 cy=4933 r=31 /><circle class=c42 cx=6031 cy=4968 r=31 /><circle class=c42 cx=8070 cy=4956 r=31 /><circle class=c42 cx=5852 cy=4948 r=31 /><circle class=c42 cx=5962 cy=4987 r=31 /><circle class=c42 cx=6273 cy=4996 r=31 /><circle class=c42 cx=5970 cy=4960 r=31 /><circle class=c42 cx=6095 cy=4976 r=31 /><circle class=c42 cx=6427 cy=5016 r=31 /><circle class=c28 cx=7809 cy=3731 r=31 /><circle class=c42 cx=6551 cy=5031 r=31 /><circle class=c42 cx=6178 cy=4985 r=31 /><circle class=c42 cx=6025 cy=4980 r=31 /><circle class=c42 cx=6432 cy=5034 r=31 /><circle class=c43 cx=6613 cy=5044 r=31 /><circle class=c22 cx=7285 cy=3227 r=31 /><circle class=c22 cx=6931 cy=3185 r=31 /><circle class=c44 cx=7448 cy=5153 r=31 /><circle class=c42 cx=6173 cy=4986 r=31 /><circle class=c43 cx=6677 cy=5069 r=31 /><circle class=c38 cx=5732 cy=4618 r=31 /><circle class=c42 cx=5791 cy=4949 r=31 /><circle class=c30 cx=7873 cy=3870 r=31 /><circle class=c43 cx=6734 cy=5054 r=31 /><circle class=c44 cx=7380 cy=5151 r=31 /><circle class=c41 cx=5913 cy=4940 r=31 /><circle class=c42 cx=6168 cy=4988 r=31 /><circle class=c42 cx=6283 cy=4998 r=31 /><circle class=c42 cx=6287 cy=5004 r=31 /><circle class=c42 cx=6084 cy=4994 r=31 /><circle class=c42 cx=6089 cy=4980 r=31 /><circle class=c24 cx=7567 cy=3388 r=31 /><circle class=c31 cx=7937 cy=4020 r=31 /><circle class=c42 cx=6296 cy=5016 r=31 /><circle class=c43 cx=6919 cy=5081 r=31 /><circle class=c42 cx=6163 cy=4989 r=31 /><circle class=c42 cx=6366 cy=5014 r=31 /><circle class=c26 cx=7732 cy=3591 r=31 /><circle class=c23 cx=7384 cy=3247 r=31 /><circle class=c22 cx=6770 cy=3226 r=31 /><circle class=c43 cx=6859 cy=5083 r=31 /><circle class=c42 cx=6292 cy=5003 r=31 /><circle class=c23 cx=7471 cy=3312 r=31 /><circle class=c44 cx=7311 cy=5141 r=31 /><circle class=c42 cx=6159 cy=4989 r=31 /><circle class=c42 cx=6555 cy=5046 r=31 /><circle class=c41 cx=5676 cy=4935 r=31 /><circle class=c21 cx=7199 cy=3167 r=31 /><circle class=c23 cx=6628 cy=3287 r=31 /><circle class=c42 cx=6154 cy=4992 r=31 /><circle class=c25 cx=6392 cy=3475 r=31 /><circle class=c42 cx=6146 cy=5006 r=31 /><circle class=c42 cx=6021 cy=4979 r=31 /><circle class=c21 cx=7106 cy=3153 r=31 /><circle class=c22 cx=6850 cy=3179 r=31 /><circle class=c42 cx=6080 cy=4993 r=31 /><circle class=c44 cx=7180 cy=5135 r=31 /><circle class=c42 cx=5907 cy=4953 r=31 /><circle class=c42 cx=6370 cy=5015 r=31 /><circle class=c42 cx=6303 cy=5014 r=31 /><circle class=c42 cx=5731 cy=4949 r=31 /><circle class=c42 cx=6150 cy=4993 r=31 /><circle class=c42 cx=6299 cy=5006 r=31 /><circle class=c42 cx=5847 cy=4954 r=31 /><circle class=c44 cx=7242 cy=5129 r=31 /><circle class=c42 cx=6374 cy=5026 r=31 /><circle class=c21 cx=7018 cy=3142 r=31 /><circle class=c43 cx=6739 cy=5082 r=31 /><circle class=c42 cx=6307 cy=5018 r=31 /><circle class=c24 cx=6502 cy=3366 r=31 /><circle class=c34 cx=5843 cy=4318 r=31 /><circle class=c42 cx=6493 cy=5022 r=31 /><circle class=c38 cx=8145 cy=4704 r=31 /><circle class=c43 cx=6797 cy=5071 r=31 /><circle class=c42 cx=6076 cy=4996 r=31 /><circle class=c33 cx=7983 cy=4162 r=31 /><circle class=c43 cx=6680 cy=5083 r=31 /><circle class=c42 cx=6434 cy=5021 r=31 /><circle class=c25 cx=7650 cy=3456 r=31 /><circle class=c42 cx=6142 cy=4998 r=31 /><circle class=c42 cx=6310 cy=5020 r=31 /><circle class=c42 cx=6224 cy=5038 r=31 /><circle class=c30 cx=6024 cy=3955 r=31 /><circle class=c41 cx=8112 cy=4905 r=31 /><circle class=c22 cx=7290 cy=3178 r=31 /><circle class=c42 cx=5901 cy=4969 r=31 /><circle class=c43 cx=6988 cy=5121 r=31 /><circle class=c42 cx=6615 cy=5044 r=31 /><circle class=c38 cx=5718 cy=4631 r=31 /><circle class=c31 cx=5973 cy=4044 r=31 /><circle class=c42 cx=6377 cy=5029 r=31 /><circle class=c42 cx=5960 cy=4968 r=31 /><circle class=c42 cx=6313 cy=5025 r=31 /><circle class=c42 cx=6497 cy=5039 r=31 /><circle class=c42 cx=6438 cy=5036 r=31 /><circle class=c42 cx=6017 cy=4978 r=31 /><circle class=c43 cx=7049 cy=5117 r=31 /><circle class=c43 cx=7111 cy=5115 r=31 /><circle class=c42 cx=6135 cy=5008 r=31 /><circle class=c42 cx=6072 cy=5000 r=31 /><circle class=c22 cx=6696 cy=3224 r=31 /><circle class=c41 cx=5787 cy=4951 r=31 /><circle class=c42 cx=6441 cy=5052 r=31 /><circle class=c42 cx=6316 cy=5027 r=31 /><circle class=c28 cx=6111 cy=3802 r=31 /><circle class=c34 cx=8032 cy=4322 r=31 /><circle class=c25 cx=6343 cy=3499 r=31 /><circle class=c42 cx=6229 cy=5027 r=31 /><circle class=c42 cx=6557 cy=5048 r=31 /><circle class=c29 cx=7886 cy=3811 r=31 /><circle class=c23 cx=7478 cy=3262 r=31 /><circle class=c42 cx=6213 cy=5024 r=31 /><circle class=c43 cx=8130 cy=5088 r=31 /><circle class=c42 cx=6139 cy=4990 r=31 /><circle class=c42 cx=6246 cy=5033 r=31 /><circle class=c42 cx=6500 cy=5056 r=31 /><circle class=c42 cx=6231 cy=5023 r=31 /><circle class=c42 cx=6132 cy=5005 r=31 /><circle class=c21 cx=6931 cy=3130 r=31 /><circle class=c42 cx=5842 cy=4964 r=31 /><circle class=c42 cx=6226 cy=5020 r=31 /><circle class=c42 cx=5955 cy=4980 r=31 /><circle class=c43 cx=6618 cy=5068 r=31 /><circle class=c23 cx=6563 cy=3291 r=31 /><circle class=c42 cx=6318 cy=5028 r=31 /><circle class=c42 cx=6206 cy=5022 r=31 /><circle class=c43 cx=6561 cy=5074 r=31 /><circle class=c27 cx=7811 cy=3666 r=31 /><circle class=c42 cx=6241 cy=5024 r=31 /><circle class=c21 cx=6771 cy=3171 r=31 /><circle class=c42 cx=6208 cy=5019 r=31 /><circle class=c42 cx=6236 cy=5020 r=31 /><circle class=c42 cx=6320 cy=5035 r=31 /><circle class=c26 cx=7738 cy=3533 r=31 /><circle class=c42 cx=6239 cy=5021 r=31 /><circle class=c36 cx=8078 cy=4491 r=31 /><circle class=c42 cx=6379 cy=5025 r=31 /><circle class=c42 cx=5726 cy=4963 r=31 /><circle class=c43 cx=6861 cy=5099 r=31 /><circle class=c23 cx=7566 cy=3330 r=31 /><circle class=c22 cx=7384 cy=3193 r=31 /><circle class=c43 cx=6921 cy=5097 r=31 /><circle class=c42 cx=6014 cy=4978 r=31 /><circle class=c42 cx=6218 cy=5012 r=31 /><circle class=c42 cx=6384 cy=5054 r=31 /><circle class=c42 cx=6442 cy=5057 r=31 /><circle class=c42 cx=6201 cy=5018 r=31 /><circle class=c42 cx=5897 cy=4975 r=31 /><circle class=c42 cx=6211 cy=5011 r=31 /><circle class=c21 cx=7108 cy=3103 r=31 /><circle class=c42 cx=6221 cy=5008 r=31 /><circle class=c42 cx=6216 cy=5009 r=31 /><circle class=c42 cx=6254 cy=5032 r=31 /><circle class=c42 cx=6234 cy=5011 r=31 /><circle class=c42 cx=5951 cy=4995 r=31 /><circle class=c42 cx=6194 cy=5023 r=31 /><circle class=c41 cx=5672 cy=4940 r=31 /><circle class=c42 cx=6243 cy=5016 r=31 /><circle class=c42 cx=6322 cy=5036 r=31 /><circle class=c21 cx=7199 cy=3115 r=31 /><circle class=c42 cx=6010 cy=4994 r=31 /><circle class=c42 cx=6250 cy=5023 r=31 /><circle class=c42 cx=6381 cy=5032 r=31 /><circle class=c42 cx=6324 cy=5045 r=31 /><circle class=c42 cx=6199 cy=5015 r=31 /><circle class=c44 cx=7671 cy=5228 r=31 /><circle class=c30 cx=7942 cy=3950 r=31 /><circle class=c21 cx=7020 cy=3093 r=31 /><circle class=c44 cx=7744 cy=5233 r=31 /><circle class=c42 cx=6070 cy=4987 r=31 /><circle class=c28 cx=6143 cy=3728 r=31 /><circle class=c24 cx=6444 cy=3375 r=31 /><circle class=c42 cx=6248 cy=5017 r=31 /><circle class=c42 cx=6203 cy=5008 r=31 /><circle class=c42 cx=6197 cy=5014 r=31 /><circle class=c42 cx=6130 cy=4994 r=31 /><circle class=c42 cx=6444 cy=5069 r=31 /><circle class=c42 cx=6501 cy=5062 r=31 /><circle class=c42 cx=6256 cy=5026 r=31 /><circle class=c42 cx=6067 cy=4999 r=31 /><circle class=c41 cx=5783 cy=4964 r=31 /><circle class=c21 cx=6849 cy=3123 r=31 /><circle class=c38 cx=5705 cy=4645 r=31 /><circle class=c42 cx=5838 cy=4979 r=31 /><circle class=c42 cx=6125 cy=5009 r=31 /><circle class=c42 cx=6127 cy=4999 r=31 /><circle class=c43 cx=6738 cy=5084 r=31 /><circle class=c43 cx=6797 cy=5082 r=31 /><circle class=c25 cx=6297 cy=3524 r=31 /><circle class=c42 cx=6186 cy=5023 r=31 /><circle class=c42 cx=6190 cy=5016 r=31 /><circle class=c42 cx=6325 cy=5044 r=31 /><circle class=c42 cx=6257 cy=5024 r=31 /><circle class=c42 cx=6262 cy=5036 r=31 /><circle class=c41 cx=5621 cy=4910 r=31 /><circle class=c44 cx=7593 cy=5209 r=31 /><circle class=c42 cx=6259 cy=5027 r=31 /><circle class=c21 cx=7291 cy=3128 r=31 /><circle class=c32 cx=5907 cy=4138 r=31 /><circle class=c42 cx=6252 cy=5012 r=31 /><circle class=c42 cx=6261 cy=5030 r=31 /><circle class=c42 cx=6188 cy=5016 r=31 /><circle class=c24 cx=7653 cy=3400 r=31 /><circle class=c22 cx=6627 cy=3222 r=31 /><circle class=c42 cx=6265 cy=5041 r=31 /><circle class=c42 cx=6122 cy=5013 r=31 /><circle class=c42 cx=6007 cy=4998 r=31 /><circle class=c44 cx=7118 cy=5163 r=31 /><circle class=c40 cx=5637 cy=4847 r=31 /><circle class=c42 cx=6192 cy=5006 r=31 /><circle class=c42 cx=6065 cy=5003 r=31 /><circle class=c42 cx=6179 cy=5036 r=31 /><circle class=c42 cx=6264 cy=5034 r=31 /><circle class=c31 cx=7998 cy=4099 r=31 /><circle class=c39 cx=5653 cy=4790 r=31 /><circle class=c42 cx=6384 cy=5045 r=31 /><circle class=c42 cx=6185 cy=5017 r=31 /><circle class=c42 cx=5949 cy=5000 r=31 /><circle class=c42 cx=6268 cy=5050 r=31 /><circle class=c44 cx=7449 cy=5189 r=31 /><circle class=c42 cx=6619 cy=5074 r=31 /><circle class=c42 cx=6121 cy=5017 r=31 /><circle class=c20 cx=6934 cy=3082 r=31 /><circle class=c42 cx=6677 cy=5072 r=31 /><circle class=c43 cx=6989 cy=5146 r=31 /><circle class=c44 cx=7313 cy=5175 r=31 /><circle class=c42 cx=6182 cy=5022 r=31 /><circle class=c42 cx=6266 cy=5038 r=31 /><circle class=c42 cx=6177 cy=5033 r=31 /><circle class=c42 cx=6062 cy=5012 r=31 /><circle class=c42 cx=6183 cy=5015 r=31 /><circle class=c44 cx=7179 cy=5159 r=31 /><circle class=c38 cx=5672 cy=4729 r=31 /><circle class=c42 cx=6326 cy=5040 r=31 /><circle class=c26 cx=6254 cy=3560 r=31 /><circle class=c44 cx=7959 cy=5226 r=31 /><circle class=c42 cx=6444 cy=5071 r=31 /><circle class=c21 cx=6697 cy=3167 r=31 /><circle class=c44 cx=7515 cy=5187 r=31 /><circle class=c41 cx=5610 cy=4956 r=31 /><circle class=c44 cx=7805 cy=5211 r=31 /><circle class=c42 cx=6327 cy=5049 r=31 /><circle class=c42 cx=6560 cy=5067 r=31 /><circle class=c43 cx=7050 cy=5144 r=31 /><circle class=c27 cx=6178 cy=3657 r=31 /><circle class=c42 cx=6501 cy=5066 r=31 /><circle class=c42 cx=6385 cy=5051 r=31 /><circle class=c44 cx=7243 cy=5160 r=31 /><circle class=c38 cx=5691 cy=4673 r=31 /><circle class=c41 cx=5667 cy=4963 r=31 /><circle class=c44 cx=7376 cy=5171 r=31 /><circle class=c22 cx=7478 cy=3209 r=31 /><circle class=c28 cx=7894 cy=3750 r=31 /><circle class=c43 cx=6740 cy=5113 r=31 /><circle class=c41 cx=5896 cy=4969 r=31 /><circle class=c43 cx=6801 cy=5117 r=31 /><circle class=c42 cx=6269 cy=5040 r=31 /><circle class=c42 cx=6175 cy=5036 r=31 /><circle class=c23 cx=7571 cy=3279 r=31 /><circle class=c44 cx=8112 cy=5230 r=31 /><circle class=c42 cx=6175 cy=5030 r=31 /><circle class=c21 cx=7386 cy=3143 r=31 /><circle class=c26 cx=6215 cy=3602 r=31 /><circle class=c23 cx=6501 cy=3293 r=31 /><circle class=c42 cx=6180 cy=5011 r=31 /><circle class=c34 cx=5829 cy=4291 r=31 /><circle class=c43 cx=6922 cy=5124 r=31 /><circle class=c42 cx=6006 cy=4998 r=31 /><circle class=c24 cx=7744 cy=3477 r=31 /><circle class=c20 cx=7109 cy=3054 r=31 /><circle class=c42 cx=6269 cy=5041 r=31 /><circle class=c26 cx=7817 cy=3607 r=31 /><circle class=c42 cx=6267 cy=5025 r=31 /><circle class=c42 cx=5947 cy=5008 r=31 /><circle class=c24 cx=6391 cy=3390 r=31 /><circle class=c42 cx=6119 cy=5008 r=31 /><circle class=c41 cx=5724 cy=4965 r=31 /><circle class=c42 cx=6270 cy=5044 r=31 /><circle class=c42 cx=5836 cy=4985 r=31 /><circle class=c42 cx=6385 cy=5056 r=31 /><circle class=c42 cx=6270 cy=5053 r=31 /><circle class=c42 cx=6118 cy=5016 r=31 /><circle class=c42 cx=6177 cy=5019 r=31 /><circle class=c42 cx=6116 cy=5038 r=31 /><circle class=c42 cx=6270 cy=5046 r=31 /><circle class=c43 cx=6860 cy=5113 r=31 /><circle class=c20 cx=7298 cy=3084 r=31 /><circle class=c42 cx=6328 cy=5054 r=31 /><circle class=c20 cx=7199 cy=3065 r=31 /><circle class=c42 cx=6172 cy=5045 r=31 /><circle class=c21 cx=6770 cy=3115 r=31 /><circle class=c42 cx=6004 cy=5012 r=31 /><circle class=c42 cx=5892 cy=4989 r=31 /><circle class=c29 cx=6053 cy=3835 r=31 /><circle class=c42 cx=6443 cy=5072 r=31 /><circle class=c42 cx=6619 cy=5087 r=31 /><circle class=c29 cx=7956 cy=3890 r=31 /><circle class=c42 cx=6174 cy=5026 r=31 /><circle class=c43 cx=6678 cy=5090 r=31 /><circle class=c42 cx=6327 cy=5036 r=31 /><circle class=c42 cx=6173 cy=5034 r=31 /><circle class=c41 cx=5782 cy=4963 r=31 /><circle class=c42 cx=6501 cy=5071 r=31 /><circle class=c42 cx=6443 cy=5088 r=31 /><circle class=c42 cx=6270 cy=5043 r=31 /><circle class=c42 cx=6117 cy=5013 r=31 /><circle class=c42 cx=6385 cy=5058 r=31 /><circle class=c23 cx=7660 cy=3348 r=31 /><circle class=c44 cx=8180 cy=5214 r=31 /><circle class=c42 cx=6116 cy=5033 r=31 /><circle class=c42 cx=6062 cy=4994 r=31 /><circle class=c42 cx=6060 cy=5010 r=31 /><circle class=c42 cx=6174 cy=5021 r=31 /><circle class=c42 cx=6559 cy=5069 r=31 /><circle class=c20 cx=6849 cy=3070 r=31 /><circle class=c42 cx=6385 cy=5071 r=31 /><circle class=c31 cx=8018 cy=4042 r=31 /><circle class=c42 cx=5946 cy=5015 r=31 /><circle class=c22 cx=6561 cy=3222 r=31 /><circle class=c20 cx=7017 cy=3039 r=31 /><circle class=c42 cx=6327 cy=5048 r=31 /><circle class=c35 cx=8089 cy=4412 r=31 /><circle class=c42 cx=6270 cy=5046 r=31 /><circle class=c42 cx=6173 cy=5031 r=31 /><circle class=c42 cx=6269 cy=5060 r=31 /><circle class=c33 cx=8030 cy=4232 r=31 /><circle class=c42 cx=5777 cy=4995 r=31 /><circle class=c42 cx=6116 cy=5035 r=31 /><circle class=c42 cx=6003 cy=5013 r=31 /><circle class=c43 cx=6619 cy=5108 r=31 /><circle class=c42 cx=6270 cy=5035 r=31 /><circle class=c42 cx=6060 cy=5016 r=31 /><circle class=c42 cx=6270 cy=5045 r=31 /><circle class=c21 cx=6627 cy=3165 r=31 /><circle class=c41 cx=5664 cy=4980 r=31 /><circle class=c42 cx=6500 cy=5083 r=31 /><circle class=c42 cx=6327 cy=5048 r=31 /><circle class=c19 cx=6933 cy=3032 r=31 /><circle class=c42 cx=5834 cy=4993 r=31 /><circle class=c21 cx=7482 cy=3160 r=31 /><circle class=c42 cx=6173 cy=5027 r=31 /><circle class=c43 cx=6678 cy=5113 r=31 /><circle class=c42 cx=6559 cy=5090 r=31 /><circle class=c42 cx=6173 cy=5041 r=31 /><circle class=c42 cx=5891 cy=4996 r=31 /><circle class=c42 cx=6059 cy=5027 r=31 /><circle class=c42 cx=6326 cy=5067 r=31 /><circle class=c42 cx=6384 cy=5073 r=31 /><circle class=c42 cx=6173 cy=5033 r=31 /><circle class=c30 cx=5954 cy=3992 r=31 /><circle class=c24 cx=6342 cy=3407 r=31 /><circle class=c19 cx=7204 cy=3021 r=31 /><circle class=c41 cx=5722 cy=4977 r=31 /><circle class=c42 cx=6174 cy=5041 r=31 /><circle class=c42 cx=6174 cy=5046 r=31 /><circle class=c25 cx=7829 cy=3555 r=31 /><circle class=c19 cx=7111 cy=3008 r=31 /><circle class=c42 cx=6326 cy=5051 r=31 /><circle class=c42 cx=6269 cy=5039 r=31 /><circle class=c37 cx=8130 cy=4584 r=31 /><circle class=c29 cx=6001 cy=3898 r=31 /><circle class=c42 cx=6173 cy=5024 r=31 /><circle class=c20 cx=7388 cy=3095 r=31 /><circle class=c20 cx=6697 cy=3111 r=31 /><circle class=c41 cx=5610 cy=4964 r=31 /><circle class=c23 cx=6443 cy=3300 r=31 /><circle class=c43 cx=6798 cy=5127 r=31 /><circle class=c42 cx=6267 cy=5049 r=31 /><circle class=c22 cx=7572 cy=3226 r=31 /><circle class=c42 cx=6116 cy=5027 r=31 /><circle class=c42 cx=6268 cy=5043 r=31 /><circle class=c32 cx=8068 cy=4193 r=31 /><circle class=c42 cx=5946 cy=5017 r=31 /><circle class=c42 cx=6382 cy=5076 r=31 /><circle class=c42 cx=6323 cy=5075 r=31 /><circle class=c42 cx=6117 cy=5046 r=31 /><circle class=c24 cx=7747 cy=3421 r=31 /><circle class=c42 cx=6003 cy=5014 r=31 /><circle class=c43 cx=6858 cy=5133 r=31 /><circle class=c42 cx=6441 cy=5075 r=31 /><circle class=c27 cx=7898 cy=3687 r=31 /><circle class=c42 cx=6265 cy=5051 r=31 /><circle class=c42 cx=6060 cy=5044 r=31 /><circle class=c43 cx=7843 cy=5148 r=31 /><circle class=c41 cx=8207 cy=4971 r=31 /><circle class=c42 cx=6177 cy=5045 r=31 /><circle class=c42 cx=6176 cy=5040 r=31 /><circle class=c20 cx=6770 cy=3063 r=31 /><circle class=c43 cx=7112 cy=5175 r=31 /><circle class=c42 cx=6117 cy=5027 r=31 /><circle class=c42 cx=6060 cy=5023 r=31 /><circle class=c42 cx=6175 cy=5034 r=31 /><circle class=c42 cx=6324 cy=5056 r=31 /><circle class=c41 cx=8129 cy=4969 r=31 /><circle class=c42 cx=5890 cy=5009 r=31 /><circle class=c44 cx=8235 cy=5178 r=31 /><circle class=c42 cx=6734 cy=5101 r=31 /><circle class=c19 cx=7295 cy=3033 r=31 /><circle class=c42 cx=6266 cy=5041 r=31 /><circle class=c45 cx=8079 cy=5359 r=31 /><circle class=c42 cx=6178 cy=5046 r=31 /><circle class=c43 cx=7046 cy=5160 r=31 /><circle class=c43 cx=6982 cy=5147 r=31 /><circle class=c42 cx=6498 cy=5083 r=31 /><circle class=c19 cx=7019 cy=2994 r=31 /><circle class=c42 cx=6118 cy=5045 r=31 /><circle class=c27 cx=6082 cy=3740 r=31 /><circle class=c42 cx=6380 cy=5080 r=31 /><circle class=c43 cx=7990 cy=5152 r=31 /><circle class=c41 cx=5834 cy=5004 r=31 /><circle class=c43 cx=6616 cy=5115 r=31 /><circle class=c42 cx=6185 cy=5063 r=31 /><circle class=c42 cx=6260 cy=5057 r=31 /><circle class=c42 cx=6261 cy=5053 r=31 /><circle class=c42 cx=6556 cy=5096 r=31 /><circle class=c31 cx=5890 cy=4101 r=31 /><circle class=c43 cx=6918 cy=5130 r=31 /><circle class=c45 cx=7990 cy=5337 r=31 /><circle class=c42 cx=6263 cy=5049 r=31 /><circle class=c42 cx=6189 cy=5069 r=31 /><circle class=c23 cx=7664 cy=3296 r=31 /><circle class=c42 cx=6258 cy=5060 r=31 /><circle class=c44 cx=7242 cy=5191 r=31 /><circle class=c42 cx=6321 cy=5068 r=31 /><circle class=c42 cx=6004 cy=5020 r=31 /><circle class=c42 cx=6179 cy=5043 r=31 /><circle class=c45 cx=8160 cy=5366 r=31 /><circle class=c42 cx=6264 cy=5040 r=31 /><circle class=c42 cx=6184 cy=5053 r=31 /><circle class=c34 cx=8116 cy=4356 r=31 /><circle class=c42 cx=6003 cy=5040 r=31 /><circle class=c42 cx=6182 cy=5048 r=31 /><circle class=c42 cx=6319 cy=5074 r=31 /><circle class=c19 cx=6848 cy=3020 r=31 /><circle class=c20 cx=7487 cy=3115 r=31 /><circle class=c42 cx=6248 cy=5070 r=31 /><circle class=c43 cx=7172 cy=5171 r=31 /><circle class=c33 cx=5815 cy=4268 r=31 /><circle class=c28 cx=7960 cy=3823 r=31 /><circle class=c42 cx=6253 cy=5062 r=31 /><circle class=c42 cx=6256 cy=5054 r=31 /><circle class=c42 cx=6242 cy=5075 r=31 /><circle class=c42 cx=5947 cy=5019 r=31 /><circle class=c21 cx=6499 cy=3223 r=31 /><circle class=c24 cx=6296 cy=3429 r=31 /><circle class=c42 cx=6438 cy=5073 r=31 /><circle class=c42 cx=6193 cy=5064 r=31 /><circle class=c44 cx=7306 cy=5193 r=31 /><circle class=c42 cx=6120 cy=5041 r=31 /><circle class=c43 cx=6735 cy=5137 r=31 /><circle class=c19 cx=7393 cy=3051 r=31 /><circle class=c42 cx=6496 cy=5094 r=31 /><circle class=c42 cx=6254 cy=5054 r=31 /><circle class=c41 cx=5779 cy=4989 r=31 /><circle class=c44 cx=7589 cy=5245 r=31 /><circle class=c42 cx=6195 cy=5064 r=31 /><circle class=c42 cx=6197 cy=5065 r=31 /><circle class=c42 cx=6436 cy=5090 r=31 /><circle class=c42 cx=6181 cy=5033 r=31 /><circle class=c41 cx=5722 cy=4987 r=31 /><circle class=c38 cx=8081 cy=4751 r=31 /><circle class=c44 cx=7373 cy=5200 r=31 /><circle class=c42 cx=6673 cy=5112 r=31 /><circle class=c19 cx=6932 cy=2984 r=31 /><circle class=c42 cx=6121 cy=5044 r=31 /><circle class=c19 cx=7204 cy=2976 r=31 /><circle class=c42 cx=6314 cy=5081 r=31 /><circle class=c42 cx=6246 cy=5060 r=31 /><circle class=c42 cx=6375 cy=5091 r=31 /><circle class=c42 cx=6062 cy=5028 r=31 /><circle class=c44 cx=7442 cy=5210 r=31 /><circle class=c44 cx=7513 cy=5223 r=31 /><circle class=c41 cx=5665 cy=4984 r=31 /><circle class=c42 cx=6237 cy=5068 r=31 /><circle class=c42 cx=6217 cy=5072 r=31 /><circle class=c42 cx=6316 cy=5069 r=31 /><circle class=c21 cx=6560 cy=3161 r=31 /><circle class=c42 cx=6204 cy=5066 r=31 /><circle class=c42 cx=6244 cy=5060 r=31 /><circle class=c42 cx=5891 cy=5014 r=31 /><circle class=c42 cx=6123 cy=5050 r=31 /><circle class=c44 cx=7660 cy=5249 r=31 /><circle class=c19 cx=7111 cy=2962 r=31 /><circle class=c42 cx=5834 cy=5019 r=31 /><circle class=c42 cx=6187 cy=5041 r=31 /><circle class=c42 cx=6377 cy=5070 r=31 /><circle class=c41 cx=5608 cy=4982 r=31 /><circle class=c42 cx=6191 cy=5047 r=31 /><circle class=c21 cx=7576 cy=3177 r=31 /><circle class=c42 cx=6250 cy=5048 r=31 /><circle class=c44 cx=7812 cy=5276 r=31 /><circle class=c42 cx=6209 cy=5064 r=31 /><circle class=c42 cx=6063 cy=5038 r=31 /><circle class=c45 cx=8232 cy=5355 r=31 /><circle class=c23 cx=7755 cy=3371 r=31 /><circle class=c30 cx=8021 cy=3969 r=31 /><circle class=c42 cx=6553 cy=5102 r=31 /><circle class=c42 cx=6222 cy=5065 r=31 /><circle class=c42 cx=6234 cy=5061 r=31 /><circle class=c42 cx=6493 cy=5107 r=31 /><circle class=c19 cx=7300 cy=2990 r=31 /><circle class=c42 cx=6224 cy=5064 r=31 /><circle class=c42 cx=6239 cy=5057 r=31 /><circle class=c44 cx=7733 cy=5257 r=31 /><circle class=c20 cx=6626 cy=3106 r=31 /><circle class=c42 cx=6202 cy=5055 r=31 /><circle class=c42 cx=6200 cy=5053 r=31 /><circle class=c24 cx=6254 cy=3461 r=31 /><circle class=c42 cx=6214 cy=5062 r=31 /><circle class=c42 cx=6227 cy=5062 r=31 /><circle class=c23 cx=6390 cy=3308 r=31 /><circle class=c42 cx=6311 cy=5078 r=31 /></g><g class=a7><circle class=c19 cx=6696 cy=3058 r=31 /><circle class=c43 cx=6855 cy=5152 r=31 /><circle class=c42 cx=6229 cy=5058 r=31 /><circle class=c26 cx=7909 cy=3632 r=31 /><circle class=c42 cx=6207 cy=5054 r=31 /><circle class=c42 cx=6006 cy=5033 r=31 /><circle class=c42 cx=6219 cy=5057 r=31 /><circle class=c18 cx=7021 cy=2950 r=31 /><circle class=c42 cx=6067 cy=5062 r=31 /><circle class=c24 cx=7828 cy=3493 r=31 /><circle class=c42 cx=5949 cy=5020 r=31 /><circle class=c41 cx=5778 cy=5011 r=31 /><circle class=c42 cx=6232 cy=5052 r=31 /><circle class=c42 cx=6125 cy=5044 r=31 /><circle class=c22 cx=7671 cy=3249 r=31 /><circle class=c42 cx=6128 cy=5053 r=31 /><circle class=c43 cx=6791 cy=5126 r=31 /><circle class=c42 cx=6308 cy=5078 r=31 /><circle class=c19 cx=6770 cy=3014 r=31 /><circle class=c26 cx=6113 cy=3656 r=31 /><circle class=c31 cx=8083 cy=4129 r=31 /><circle class=c42 cx=6433 cy=5087 r=31 /><circle class=c36 cx=8149 cy=4514 r=31 /><circle class=c42 cx=6212 cy=5049 r=31 /><circle class=c42 cx=5892 cy=5026 r=31 /><circle class=c43 cx=6916 cy=5159 r=31 /><circle class=c42 cx=6065 cy=5037 r=31 /><circle class=c43 cx=6670 cy=5132 r=31 /><circle class=c42 cx=5950 cy=5040 r=31 /><circle class=c42 cx=6550 cy=5117 r=31 /><circle class=c42 cx=6489 cy=5116 r=31 /><circle class=c42 cx=6368 cy=5093 r=31 /><circle class=c42 cx=6610 cy=5104 r=31 /><circle class=c42 cx=6429 cy=5102 r=31 /><circle class=c20 cx=7490 cy=3068 r=31 /><circle class=c19 cx=6849 cy=2974 r=31 /><circle class=c38 cx=8126 cy=4711 r=31 /><circle class=c43 cx=6978 cy=5170 r=31 /><circle class=c41 cx=5664 cy=5012 r=31 /><circle class=c42 cx=6371 cy=5074 r=31 /><circle class=c42 cx=6304 cy=5075 r=31 /><circle class=c42 cx=6008 cy=5037 r=31 /><circle class=c42 cx=6130 cy=5050 r=31 /><circle class=c42 cx=6070 cy=5061 r=31 /><circle class=c42 cx=5835 cy=5030 r=31 /><circle class=c26 cx=6145 cy=3594 r=31 /><circle class=c21 cx=6442 cy=3230 r=31 /><circle class=c24 cx=6215 cy=3493 r=31 /><circle class=c19 cx=7394 cy=3005 r=31 /><circle class=c41 cx=5723 cy=4999 r=31 /><circle class=c25 cx=6179 cy=3540 r=31 /><circle class=c42 cx=6010 cy=5055 r=31 /><circle class=c27 cx=7971 cy=3766 r=31 /><circle class=c43 cx=7107 cy=5201 r=31 /><circle class=c42 cx=6364 cy=5097 r=31 /><circle class=c42 cx=6133 cy=5051 r=31 /><circle class=c20 cx=7583 cy=3132 r=31 /><circle class=c42 cx=6301 cy=5074 r=31 /><circle class=c42 cx=6293 cy=5089 r=31 /><circle class=c42 cx=6297 cy=5081 r=31 /><circle class=c42 cx=6607 cy=5131 r=31 /><circle class=c43 cx=7040 cy=5176 r=31 /><circle class=c18 cx=7112 cy=2918 r=31 /><circle class=c42 cx=5952 cy=5050 r=31 /><circle class=c18 cx=7204 cy=2931 r=31 /><circle class=c42 cx=6073 cy=5064 r=31 /><circle class=c21 cx=6499 cy=3164 r=31 /><circle class=c18 cx=6931 cy=2937 r=31 /><circle class=c23 cx=6341 cy=3324 r=31 /><circle class=c42 cx=6137 cy=5051 r=31 /><circle class=c42 cx=6360 cy=5102 r=31 /><circle class=c33 cx=5801 cy=4257 r=31 /><circle class=c42 cx=6727 cy=5131 r=31 /><circle class=c28 cx=6029 cy=3773 r=31 /><circle class=c44 cx=7171 cy=5208 r=31 /><circle class=c18 cx=7300 cy=2946 r=31 /><circle class=c42 cx=6425 cy=5099 r=31 /><circle class=c44 cx=7865 cy=5239 r=31 /><circle class=c29 cx=5935 cy=3948 r=31 /><circle class=c41 cx=5780 cy=5020 r=31 /><circle class=c43 cx=6788 cy=5150 r=31 /><circle class=c42 cx=6014 cy=5058 r=31 /><circle class=c37 cx=8177 cy=4679 r=31 /><circle class=c42 cx=6421 cy=5116 r=31 /><circle class=c43 cx=6666 cy=5147 r=31 /><circle class=c42 cx=5896 cy=5062 r=31 /><circle class=c18 cx=7021 cy=2906 r=31 /><circle class=c22 cx=7757 cy=3318 r=31 /><circle class=c41 cx=5611 cy=4991 r=31 /><circle class=c42 cx=6147 cy=5067 r=31 /><circle class=c42 cx=6484 cy=5111 r=31 /><circle class=c42 cx=6144 cy=5057 r=31 /><circle class=c41 cx=5896 cy=5023 r=31 /><circle class=c42 cx=5838 cy=5041 r=31 /><circle class=c29 cx=8032 cy=3908 r=31 /><circle class=c25 cx=7917 cy=3577 r=31 /><circle class=c42 cx=6284 cy=5083 r=31 /><circle class=c42 cx=6275 cy=5096 r=31 /><circle class=c24 cx=7835 cy=3441 r=31 /><circle class=c19 cx=6625 cy=3053 r=31 /><circle class=c42 cx=6544 cy=5115 r=31 /><circle class=c42 cx=6289 cy=5075 r=31 /><circle class=c42 cx=6355 cy=5101 r=31 /><circle class=c42 cx=6140 cy=5044 r=31 /><circle class=c19 cx=7495 cy=3025 r=31 /><circle class=c42 cx=6077 cy=5059 r=31 /><circle class=c43 cx=6849 cy=5163 r=31 /><circle class=c21 cx=7672 cy=3198 r=31 /><circle class=c20 cx=6559 cy=3102 r=31 /><circle class=c42 cx=6280 cy=5083 r=31 /><circle class=c19 cx=6695 cy=3007 r=31 /><circle class=c41 cx=5724 cy=5020 r=31 /><circle class=c42 cx=6156 cy=5069 r=31 /><circle class=c31 cx=5875 cy=4064 r=31 /><circle class=c42 cx=6160 cy=5075 r=31 /><circle class=c42 cx=6081 cy=5067 r=31 /><circle class=c28 cx=5980 cy=3843 r=31 /><circle class=c18 cx=7398 cy=2962 r=31 /><circle class=c42 cx=6270 cy=5089 r=31 /><circle class=c43 cx=6724 cy=5160 r=31 /><circle class=c43 cx=7231 cy=5202 r=31 /><circle class=c42 cx=6260 cy=5098 r=31 /><circle class=c18 cx=6769 cy=2964 r=31 /><circle class=c42 cx=6350 cy=5104 r=31 /><circle class=c42 cx=6602 cy=5139 r=31 /><circle class=c44 cx=7300 cy=5222 r=31 /><circle class=c33 cx=8112 cy=4266 r=31 /><circle class=c42 cx=6152 cy=5057 r=31 /><circle class=c18 cx=6849 cy=2928 r=31 /><circle class=c42 cx=6250 cy=5103 r=31 /><circle class=c42 cx=5957 cy=5044 r=31 /><circle class=c17 cx=7115 cy=2878 r=31 /><circle class=c42 cx=6265 cy=5090 r=31 /><circle class=c42 cx=8242 cy=5073 r=31 /><circle class=c20 cx=7588 cy=3087 r=31 /><circle class=c42 cx=6478 cy=5119 r=31 /><circle class=c42 cx=6344 cy=5111 r=31 /><circle class=c42 cx=6539 cy=5131 r=31 /><circle class=c42 cx=6174 cy=5082 r=31 /><circle class=c44 cx=7368 cy=5236 r=31 /><circle class=c30 cx=8092 cy=4062 r=31 /><circle class=c21 cx=6389 cy=3238 r=31 /><circle class=c23 cx=6296 cy=3344 r=31 /><circle class=c42 cx=6244 cy=5097 r=31 /><circle class=c42 cx=6255 cy=5091 r=31 /><circle class=c17 cx=6932 cy=2895 r=31 /><circle class=c42 cx=6165 cy=5066 r=31 /><circle class=c42 cx=6086 cy=5067 r=31 /><circle class=c17 cx=7204 cy=2887 r=31 /><circle class=c42 cx=6169 cy=5071 r=31 /><circle class=c42 cx=6019 cy=5046 r=31 /><circle class=c42 cx=6414 cy=5104 r=31 /><circle class=c42 cx=6179 cy=5078 r=31 /><circle class=c42 cx=5960 cy=5058 r=31 /><circle class=c41 cx=5669 cy=5009 r=31 /><circle class=c42 cx=6200 cy=5092 r=31 /><circle class=c42 cx=5901 cy=5061 r=31 /><circle class=c41 cx=5784 cy=5029 r=31 /><circle class=c17 cx=7301 cy=2903 r=31 /><circle class=c42 cx=6233 cy=5094 r=31 /><circle class=c42 cx=6239 cy=5090 r=31 /><circle class=c42 cx=6228 cy=5093 r=31 /><circle class=c43 cx=6971 cy=5186 r=31 /><circle class=c44 cx=7435 cy=5243 r=31 /><circle class=c26 cx=7977 cy=3705 r=31 /><circle class=c42 cx=6211 cy=5091 r=31 /><circle class=c43 cx=6905 cy=5157 r=31 /><circle class=c22 cx=7766 cy=3270 r=31 /><circle class=c42 cx=6409 cy=5117 r=31 /><circle class=c42 cx=6217 cy=5089 r=31 /><circle class=c42 cx=6023 cy=5058 r=31 /><circle class=c42 cx=6184 cy=5074 r=31 /><circle class=c42 cx=6091 cy=5068 r=31 /><circle class=c42 cx=6190 cy=5076 r=31 /><circle class=c42 cx=6206 cy=5084 r=31 /><circle class=c26 cx=6056 cy=3680 r=31 /><circle class=c42 cx=6338 cy=5103 r=31 /><circle class=c42 cx=6222 cy=5085 r=31 /><circle class=c42 cx=6332 cy=5114 r=31 /><circle class=c18 cx=7498 cy=2981 r=31 /><circle class=c45 cx=7904 cy=5374 r=31 /><circle class=c44 cx=7505 cy=5255 r=31 /><circle class=c44 cx=7101 cy=5229 r=31 /><circle class=c42 cx=6195 cy=5075 r=31 /><circle class=c23 cx=7844 cy=3391 r=31 /><circle class=c20 cx=7679 cy=3153 r=31 /><circle class=c17 cx=7020 cy=2863 r=31 /><circle class=c41 cx=5613 cy=5008 r=31 /><circle class=c42 cx=6595 cy=5148 r=31 /><circle class=c43 cx=6780 cy=5158 r=31 /><circle class=c42 cx=6471 cy=5118 r=31 /><circle class=c42 cx=6027 cy=5070 r=31 /><circle class=c43 cx=7033 cy=5197 r=31 /><circle class=c41 cx=5844 cy=5034 r=31 /><circle class=c42 cx=6532 cy=5136 r=31 /><circle class=c35 cx=8151 cy=4425 r=31 /><circle class=c18 cx=7400 cy=2920 r=31 /><circle class=c42 cx=6096 cy=5069 r=31 /><circle class=c42 cx=6102 cy=5081 r=31 /><circle class=c42 cx=6402 cy=5117 r=31 /><circle class=c42 cx=6032 cy=5083 r=31 /><circle class=c43 cx=6841 cy=5180 r=31 /><circle class=c24 cx=7921 cy=3520 r=31 /><circle class=c20 cx=6498 cy=3103 r=31 /><circle class=c44 cx=7651 cy=5285 r=31 /><circle class=c44 cx=7574 cy=5262 r=31 /><circle class=c17 cx=7208 cy=2849 r=31 /><circle class=c20 cx=6441 cy=3161 r=31 /><circle class=c41 cx=5729 cy=5022 r=31 /><circle class=c17 cx=6849 cy=2885 r=31 /><circle class=c18 cx=6769 cy=2920 r=31 /><circle class=c18 cx=6694 cy=2959 r=31 /><circle class=c39 cx=8177 cy=4822 r=31 /><circle class=c17 cx=7115 cy=2836 r=31 /><circle class=c32 cx=5790 cy=4240 r=31 /><circle class=c28 cx=8039 cy=3845 r=31 /><circle class=c41 cx=5966 cy=5054 r=31 /><circle class=c42 cx=6655 cy=5126 r=31 /><circle class=c17 cx=7306 cy=2864 r=31 /><circle class=c44 cx=7164 cy=5235 r=31 /><circle class=c42 cx=6319 cy=5115 r=31 /><circle class=c42 cx=6107 cy=5083 r=31 /><circle class=c19 cx=7588 cy=3040 r=31 /><circle class=c19 cx=6623 cy=3000 r=31 /><circle class=c42 cx=6113 cy=5092 r=31 /><circle class=c41 cx=5671 cy=5032 r=31 /><circle class=c43 cx=6903 cy=5200 r=31 /><circle class=c44 cx=7725 cy=5297 r=31 /><circle class=c42 cx=6395 cy=5123 r=31 /><circle class=c37 cx=8194 cy=4605 r=31 /><circle class=c42 cx=6325 cy=5098 r=31 /><circle class=c42 cx=6714 cy=5156 r=31 /><circle class=c17 cx=6932 cy=2852 r=31 /><circle class=c19 cx=6558 cy=3046 r=31 /><circle class=c41 cx=5848 cy=5052 r=31 /><circle class=c42 cx=6588 cy=5162 r=31 /><circle class=c41 cx=5907 cy=5054 r=31 /><circle class=c23 cx=6254 cy=3361 r=31 /><circle class=c42 cx=5971 cy=5071 r=31 /><circle class=c44 cx=7803 cy=5315 r=31 /><circle class=c42 cx=6464 cy=5114 r=31 /><circle class=c41 cx=5789 cy=5031 r=31 /><circle class=c32 cx=8127 cy=4201 r=31 /><circle class=c45 cx=7969 cy=5360 r=31 /><circle class=c42 cx=6524 cy=5140 r=31 /><circle class=c42 cx=6650 cy=5158 r=31 /><circle class=c42 cx=6312 cy=5110 r=31 /><circle class=c42 cx=6039 cy=5077 r=31 /><circle class=c43 cx=6774 cy=5184 r=31 /><circle class=c42 cx=6304 cy=5117 r=31 /><circle class=c21 cx=6340 cy=3246 r=31 /><circle class=c26 cx=7989 cy=3652 r=31 /><circle class=c25 cx=6084 cy=3599 r=31 /><circle class=c21 cx=7769 cy=3221 r=31 /><circle class=c42 cx=6127 cy=5097 r=31 /><circle class=c20 cx=7684 cy=3107 r=31 /><circle class=c16 cx=7020 cy=2822 r=31 /><circle class=c42 cx=6120 cy=5084 r=31 /><circle class=c42 cx=6297 cy=5119 r=31 /><circle class=c30 cx=8099 cy=3995 r=31 /><circle class=c42 cx=6141 cy=5111 r=31 /><circle class=c42 cx=6387 cy=5119 r=31 /><circle class=c43 cx=7224 cy=5234 r=31 /><circle class=c41 cx=8272 cy=5004 r=31 /><circle class=c41 cx=5733 cy=5042 r=31 /><circle class=c22 cx=7849 cy=3340 r=31 /><circle class=c42 cx=6456 cy=5122 r=31 /><circle class=c41 cx=5913 cy=5065 r=31 /><circle class=c43 cx=8215 cy=5206 r=31 /><circle class=c30 cx=5861 cy=4035 r=31 /><circle class=c42 cx=6045 cy=5081 r=31 /><circle class=c42 cx=6289 cy=5118 r=31 /><circle class=c17 cx=7400 cy=2877 r=31 /><circle class=c18 cx=7495 cy=2935 r=31 /><circle class=c42 cx=5977 cy=5074 r=31 /><circle class=c43 cx=6961 cy=5202 r=31 /><circle class=c16 cx=7209 cy=2809 r=31 /><circle class=c42 cx=6517 cy=5153 r=31 /><circle class=c23 cx=6215 cy=3391 r=31 /><circle class=c32 cx=5775 cy=4249 r=31 /><circle class=c42 cx=6273 cy=5129 r=31 /><circle class=c28 cx=5919 cy=3903 r=31 /><circle class=c42 cx=6379 cy=5127 r=31 /><circle class=c41 cx=5793 cy=5054 r=31 /><circle class=c43 cx=6707 cy=5178 r=31 /><circle class=c16 cx=7308 cy=2824 r=31 /><circle class=c42 cx=6449 cy=5140 r=31 /><circle class=c17 cx=6849 cy=2844 r=31 /><circle class=c18 cx=7594 cy=2998 r=31 /><circle class=c33 cx=8176 cy=4368 r=31 /><circle class=c26 cx=6006 cy=3722 r=31 /><circle class=c41 cx=5854 cy=5059 r=31 /><circle class=c24 cx=7929 cy=3468 r=31 /><circle class=c42 cx=6052 cy=5092 r=31 /><circle class=c43 cx=7290 cy=5247 r=31 /><circle class=c16 cx=6934 cy=2814 r=31 /><circle class=c20 cx=6388 cy=3169 r=31 /><circle class=c42 cx=6134 cy=5085 r=31 /><circle class=c40 cx=5567 cy=4960 r=31 /><circle class=c38 cx=8218 cy=4776 r=31 /><circle class=c42 cx=6156 cy=5109 r=31 /><circle class=c41 cx=5676 cy=5051 r=31 /><circle class=c16 cx=7112 cy=2795 r=31 /><circle class=c24 cx=6114 cy=3530 r=31 /><circle class=c41 cx=5620 cy=5009 r=31 /><circle class=c42 cx=6641 cy=5172 r=31 /><circle class=c16 cx=7025 cy=2786 r=31 /><circle class=c23 cx=6179 cy=3429 r=31 /><circle class=c18 cx=6624 cy=2954 r=31 /><circle class=c42 cx=6371 cy=5132 r=31 /><circle class=c27 cx=8052 cy=3790 r=31 /><circle class=c42 cx=6149 cy=5095 r=31 /><circle class=c17 cx=6693 cy=2912 r=31 /><circle class=c42 cx=6441 cy=5153 r=31 /><circle class=c42 cx=6281 cy=5106 r=31 /><circle class=c42 cx=6172 cy=5114 r=31 /><circle class=c42 cx=6240 cy=5128 r=31 /><circle class=c43 cx=6830 cy=5186 r=31 /><circle class=c42 cx=6257 cy=5121 r=31 /><circle class=c42 cx=6265 cy=5116 r=31 /><circle class=c17 cx=6767 cy=2873 r=31 /><circle class=c41 cx=5561 cy=5022 r=31 /><circle class=c42 cx=6206 cy=5125 r=31 /><circle class=c42 cx=6214 cy=5127 r=31 /><circle class=c19 cx=6441 cy=3104 r=31 /><circle class=c42 cx=6189 cy=5118 r=31 /><circle class=c42 cx=6060 cy=5094 r=31 /><circle class=c42 cx=6164 cy=5103 r=31 /><circle class=c42 cx=6576 cy=5151 r=31 /><circle class=c19 cx=6497 cy=3047 r=31 /><circle class=c42 cx=6231 cy=5123 r=31 /><circle class=c24 cx=6146 cy=3472 r=31 /><circle class=c44 cx=7355 cy=5256 r=31 /><circle class=c42 cx=6507 cy=5158 r=31 /><circle class=c43 cx=7020 cy=5207 r=31 /><circle class=c18 cx=6557 cy=2996 r=31 /><circle class=c27 cx=5961 cy=3794 r=31 /><circle class=c41 cx=5985 cy=5071 r=31 /><circle class=c42 cx=6362 cy=5134 r=31 /><circle class=c21 cx=6295 cy=3261 r=31 /><circle class=c43 cx=6765 cy=5198 r=31 /><circle class=c41 cx=5921 cy=5065 r=31 /><circle class=c42 cx=6248 cy=5112 r=31 /><circle class=c42 cx=6223 cy=5116 r=31 /><circle class=c42 cx=6181 cy=5105 r=31 /><circle class=c44 cx=7427 cy=5280 r=31 /><circle class=c31 cx=8147 cy=4143 r=31 /><circle class=c20 cx=7772 cy=3173 r=31 /><circle class=c42 cx=6068 cy=5099 r=31 /><circle class=c17 cx=7403 cy=2838 r=31 /><circle class=c43 cx=6891 cy=5208 r=31 /><circle class=c25 cx=7998 cy=3597 r=31 /><circle class=c42 cx=6197 cy=5107 r=31 /><circle class=c17 cx=7499 cy=2894 r=31 /><circle class=c19 cx=7685 cy=3060 r=31 /><circle class=c21 cx=7857 cy=3292 r=31 /><circle class=c41 cx=5861 cy=5067 r=31 /><circle class=c41 cx=5740 cy=5049 r=31 /><circle class=c43 cx=7084 cy=5227 r=31 /><circle class=c45 cx=8200 cy=5371 r=31 /><circle class=c42 cx=8271 cy=5175 r=31 /><circle class=c41 cx=5622 cy=5045 r=31 /><circle class=c41 cx=5992 cy=5081 r=31 /><circle class=c18 cx=7598 cy=2956 r=31 /><circle class=c42 cx=6353 cy=5133 r=31 /><circle class=c16 cx=7115 cy=2758 r=31 /><circle class=c42 cx=6632 cy=5187 r=31 /><circle class=c16 cx=7208 cy=2769 r=31 /><circle class=c41 cx=5801 cy=5057 r=31 /><circle class=c44 cx=7497 cy=5294 r=31 /><circle class=c41 cx=5927 cy=5081 r=31 /><circle class=c35 cx=8208 cy=4530 r=31 /><circle class=c42 cx=6696 cy=5185 r=31 /><circle class=c32 cx=5762 cy=4252 r=31 /><circle class=c16 cx=6848 cy=2803 r=31 /><circle class=c42 cx=6344 cy=5139 r=31 /><circle class=c42 cx=6567 cy=5160 r=31 /><circle class=c16 cx=6768 cy=2835 r=31 /><circle class=c42 cx=6076 cy=5096 r=31 /><circle class=c42 cx=6085 cy=5111 r=31 /><circle class=c42 cx=6430 cy=5136 r=31 /><circle class=c43 cx=7149 cy=5246 r=31 /><circle class=c16 cx=7304 cy=2782 r=31 /><circle class=c43 cx=6952 cy=5226 r=31 /><circle class=c16 cx=6932 cy=2772 r=31 /><circle class=c23 cx=7933 cy=3415 r=31 /><circle class=c44 cx=8095 cy=5323 r=31 /><circle class=c42 cx=6496 cy=5155 r=31 /><circle class=c41 cx=6000 cy=5090 r=31 /><circle class=c28 cx=8104 cy=3928 r=31 /><circle class=c43 cx=6822 cy=5210 r=31 /><circle class=c20 cx=6340 cy=3178 r=31 /><circle class=c41 cx=5868 cy=5082 r=31 /><circle class=c42 cx=5935 cy=5096 r=31 /><circle class=c16 cx=7022 cy=2746 r=31 /><circle class=c42 cx=6094 cy=5116 r=31 /><circle class=c41 cx=5685 cy=5055 r=31 /><circle class=c21 cx=6254 cy=3282 r=31 /><circle class=c17 cx=6692 cy=2868 r=31 /><circle class=c25 cx=6032 cy=3626 r=31 /><circle class=c17 cx=7505 cy=2856 r=31 /><circle class=c41 cx=5745 cy=5073 r=31 /><circle class=c43 cx=7216 cy=5269 r=31 /><circle class=c26 cx=8062 cy=3733 r=31 /><circle class=c41 cx=5567 cy=5044 r=31 /><circle class=c17 cx=6623 cy=2907 r=31 /><circle class=c44 cx=7564 cy=5299 r=31 /><circle class=c44 cx=7999 cy=5283 r=31 /><circle class=c42 cx=6103 cy=5122 r=31 /><circle class=c17 cx=6558 cy=2950 r=31 /><circle class=c42 cx=6420 cy=5140 r=31 /><circle class=c16 cx=7405 cy=2798 r=31 /><circle class=c41 cx=5808 cy=5074 r=31 /><circle class=c30 cx=5847 cy=4012 r=31 /><circle class=c42 cx=6323 cy=5140 r=31 /><circle class=c42 cx=6009 cy=5097 r=31 /><circle class=c42 cx=6333 cy=5126 r=31 /><circle class=c43 cx=6753 cy=5209 r=31 /><circle class=c18 cx=7689 cy=3017 r=31 /><circle class=c44 cx=7640 cy=5322 r=31 /><circle class=c19 cx=7776 cy=3126 r=31 /><circle class=c33 cx=8187 cy=4297 r=31 /><circle class=c42 cx=6410 cy=5157 r=31 /><circle class=c42 cx=5875 cy=5105 r=31 /><circle class=c42 cx=6313 cy=5147 r=31 /><circle class=c42 cx=6556 cy=5170 r=31 /><circle class=c17 cx=7602 cy=2915 r=31 /><circle class=c15 cx=7209 cy=2732 r=31 /><circle class=c38 cx=5593 cy=4819 r=31 /><circle class=c42 cx=6486 cy=5161 r=31 /><circle class=c42 cx=5944 cy=5107 r=31 /><circle class=c15 cx=7115 cy=2720 r=31 /><circle class=c30 cx=8166 cy=4088 r=31 /><circle class=c21 cx=7862 cy=3244 r=31 /><circle class=c42 cx=6685 cy=5200 r=31 /><circle class=c42 cx=6113 cy=5120 r=31 /><circle class=c19 cx=6440 cy=3047 r=31 /><circle class=c24 cx=8004 cy=3543 r=31 /><circle class=c42 cx=6619 cy=5186 r=31 /><circle class=c43 cx=6880 cy=5228 r=31 /><circle class=c42 cx=6018 cy=5108 r=31 /><circle class=c37 cx=8234 cy=4699 r=31 /><circle class=c43 cx=7010 cy=5231 r=31 /><circle class=c44 cx=8259 cy=5343 r=31 /><circle class=c19 cx=6387 cy=3104 r=31 /><circle class=c15 cx=6933 cy=2736 r=31 /><circle class=c16 cx=6848 cy=2764 r=31 /><circle class=c32 cx=5750 cy=4260 r=31 /><circle class=c42 cx=6123 cy=5122 r=31 /><circle class=c15 cx=7304 cy=2744 r=31 /><circle class=c42 cx=6302 cy=5139 r=31 /><circle class=c45 cx=7884 cy=5405 r=31 /><circle class=c15 cx=7023 cy=2710 r=31 /><circle class=c28 cx=5903 cy=3866 r=31 /><circle class=c28 cx=8128 cy=3881 r=31 /><circle class=c42 cx=6155 cy=5148 r=31 /><circle class=c42 cx=6399 cy=5157 r=31 /><circle class=c18 cx=6495 cy=2990 r=31 /><circle class=c41 cx=5631 cy=5052 r=31 /><circle class=c42 cx=6028 cy=5119 r=31 /><circle class=c21 cx=6215 cy=3306 r=31 /><circle class=c41 cx=5691 cy=5078 r=31 /><circle class=c42 cx=6134 cy=5126 r=31 /><circle class=c44 cx=7709 cy=5328 r=31 /><circle class=c42 cx=6291 cy=5141 r=31 /><circle class=c45 cx=8063 cy=5471 r=31 /><circle class=c43 cx=7275 cy=5266 r=31 /><circle class=c16 cx=6767 cy=2793 r=31 /><circle class=c43 cx=7074 cy=5258 r=31 /><circle class=c16 cx=7507 cy=2816 r=31 /><circle class=c42 cx=6144 cy=5130 r=31 /><circle class=c18 cx=7698 cy=2977 r=31 /><circle class=c22 cx=7938 cy=3364 r=31 /><circle class=c42 cx=5885 cy=5112 r=31 /><circle class=c45 cx=7965 cy=5425 r=31 /><circle class=c41 cx=5817 cy=5083 r=31 /><circle class=c42 cx=6474 cy=5162 r=31 /><circle class=c42 cx=6269 cy=5145 r=31 /><circle class=c42 cx=6544 cy=5175 r=31 /><circle class=c16 cx=6692 cy=2826 r=31 /><circle class=c42 cx=6280 cy=5138 r=31 /><circle class=c42 cx=6166 cy=5140 r=31 /><circle class=c42 cx=6388 cy=5162 r=31 /><circle class=c37 cx=5611 cy=4724 r=31 /><circle class=c24 cx=6059 cy=3543 r=31 /><circle class=c42 cx=6246 cy=5152 r=31 /><circle class=c42 cx=6200 cy=5152 r=31 /><circle class=c42 cx=6608 cy=5204 r=31 /><circle class=c15 cx=7211 cy=2696 r=31 /><circle class=c43 cx=6808 cy=5220 r=31 /><circle class=c17 cx=6623 cy=2864 r=31 /><circle class=c42 cx=6223 cy=5151 r=31 /><circle class=c19 cx=7783 cy=3083 r=31 /><circle class=c20 cx=6295 cy=3188 r=31 /><circle class=c42 cx=6235 cy=5149 r=31 /><circle class=c44 cx=7141 cy=5288 r=31 /><circle class=c43 cx=6741 cy=5226 r=31 /><circle class=c44 cx=7784 cy=5344 r=31 /><circle class=c41 cx=5756 cy=5074 r=31 /><circle class=c16 cx=7403 cy=2759 r=31 /><circle class=c43 cx=6938 cy=5241 r=31 /><circle class=c42 cx=6212 cy=5146 r=31 /><circle class=c43 cx=7343 cy=5285 r=31 /><circle class=c14 cx=7115 cy=2684 r=31 /><circle class=c42 cx=6463 cy=5178 r=31 /><circle class=c42 cx=6178 cy=5134 r=31 /><circle class=c41 cx=5955 cy=5097 r=31 /></g><g class=a8><circle class=c42 cx=6049 cy=5137 r=31 /><circle class=c17 cx=7603 cy=2873 r=31 /><circle class=c15 cx=7309 cy=2709 r=31 /><circle class=c26 cx=8069 cy=3676 r=31 /><circle class=c42 cx=6258 cy=5134 r=31 /><circle class=c25 cx=5987 cy=3671 r=31 /><circle class=c41 cx=6039 cy=5112 r=31 /><circle class=c32 cx=5737 cy=4276 r=31 /><circle class=c15 cx=6849 cy=2728 r=31 /><circle class=c20 cx=7867 cy=3197 r=31 /><circle class=c42 cx=6375 cy=5161 r=31 /><circle class=c41 cx=5576 cy=5053 r=31 /><circle class=c42 cx=6532 cy=5189 r=31 /><circle class=c22 cx=6180 cy=3334 r=31 /><circle class=c41 cx=5965 cy=5116 r=31 /><circle class=c26 cx=5944 cy=3751 r=31 /><circle class=c42 cx=6189 cy=5126 r=31 /><circle class=c34 cx=8212 cy=4447 r=31 /><circle class=c41 cx=5638 cy=5079 r=31 /><circle class=c15 cx=7412 cy=2725 r=31 /><circle class=c23 cx=6087 cy=3475 r=31 /><circle class=c15 cx=6931 cy=2698 r=31 /><circle class=c41 cx=5827 cy=5098 r=31 /><circle class=c17 cx=6555 cy=2900 r=31 /><circle class=c42 cx=6670 cy=5193 r=31 /><circle class=c44 cx=7409 cy=5299 r=31 /><circle class=c42 cx=6363 cy=5164 r=31 /><circle class=c42 cx=6450 cy=5182 r=31 /><circle class=c23 cx=8008 cy=3488 r=31 /><circle class=c19 cx=6339 cy=3112 r=31 /><circle class=c14 cx=7021 cy=2672 r=31 /><circle class=c16 cx=7508 cy=2777 r=31 /><circle class=c14 cx=7214 cy=2661 r=31 /><circle class=c23 cx=6116 cy=3421 r=31 /><circle class=c38 cx=8242 cy=4857 r=31 /><circle class=c41 cx=5897 cy=5110 r=31 /><circle class=c15 cx=6766 cy=2754 r=31 /><circle class=c17 cx=6495 cy=2944 r=31 /><circle class=c22 cx=6147 cy=3370 r=31 /><circle class=c18 cx=7791 cy=3042 r=31 /><circle class=c18 cx=6387 cy=3048 r=31 /><circle class=c36 cx=5632 cy=4623 r=31 /><circle class=c41 cx=6061 cy=5123 r=31 /><circle class=c29 cx=5835 cy=3990 r=31 /><circle class=c42 cx=6594 cy=5204 r=31 /><circle class=c31 cx=8193 cy=4224 r=31 /><circle class=c41 cx=5766 cy=5087 r=31 /><circle class=c18 cx=6439 cy=2992 r=31 /><circle class=c41 cx=5703 cy=5080 r=31 /><circle class=c41 cx=5976 cy=5121 r=31 /><circle class=c16 cx=6691 cy=2786 r=31 /><circle class=c21 cx=7944 cy=3314 r=31 /><circle class=c44 cx=7481 cy=5322 r=31 /><circle class=c14 cx=7116 cy=2649 r=31 /><circle class=c42 cx=6073 cy=5137 r=31 /><circle class=c43 cx=6995 cy=5248 r=31 /><circle class=c42 cx=6863 cy=5227 r=31 /><circle class=c14 cx=7311 cy=2673 r=31 /><circle class=c32 cx=5725 cy=4297 r=31 /><circle class=c41 cx=5836 cy=5122 r=31 /><circle class=c20 cx=6253 cy=3205 r=31 /><circle class=c42 cx=6519 cy=5192 r=31 /><circle class=c43 cx=7197 cy=5281 r=31 /><circle class=c17 cx=7694 cy=2931 r=31 /><circle class=c42 cx=6350 cy=5158 r=31 /><circle class=c14 cx=6934 cy=2665 r=31 /><circle class=c42 cx=6324 cy=5185 r=31 /><circle class=c16 cx=7604 cy=2833 r=31 /><circle class=c42 cx=6794 cy=5233 r=31 /><circle class=c42 cx=6337 cy=5168 r=31 /><circle class=c16 cx=6621 cy=2821 r=31 /><circle class=c42 cx=5988 cy=5135 r=31 /><circle class=c29 cx=8161 cy=4010 r=31 /><circle class=c42 cx=6725 cy=5228 r=31 /><circle class=c19 cx=7874 cy=3152 r=31 /><circle class=c41 cx=5583 cy=5085 r=31 /><circle class=c41 cx=5908 cy=5121 r=31 /><circle class=c33 cx=5710 cy=4335 r=31 /><circle class=c14 cx=6847 cy=2690 r=31 /><circle class=c42 cx=6436 cy=5175 r=31 /><circle class=c14 cx=7414 cy=2688 r=31 /><circle class=c25 cx=8080 cy=3623 r=31 /><circle class=c42 cx=6085 cy=5134 r=31 /><circle class=c42 cx=6656 cy=5207 r=31 /><circle class=c35 cx=5650 cy=4542 r=31 /><circle class=c15 cx=7513 cy=2741 r=31 /><circle class=c41 cx=5775 cy=5116 r=31 /><circle class=c14 cx=7021 cy=2638 r=31 /><circle class=c27 cx=8120 cy=3807 r=31 /><circle class=c44 cx=7549 cy=5335 r=31 /><circle class=c42 cx=6310 cy=5176 r=31 /><circle class=c42 cx=6422 cy=5190 r=31 /><circle class=c34 cx=5665 cy=4480 r=31 /><circle class=c33 cx=5695 cy=4374 r=31 /><circle class=c43 cx=7263 cy=5303 r=31 /><circle class=c27 cx=5888 cy=3838 r=31 /><circle class=c42 cx=6098 cy=5139 r=31 /><circle class=c15 cx=6766 cy=2718 r=31 /><circle class=c42 cx=6505 cy=5201 r=31 /><circle class=c33 cx=5680 cy=4423 r=31 /><circle class=c14 cx=7213 cy=2625 r=31 /><circle class=c24 cx=6011 cy=3575 r=31 /><circle class=c16 cx=6555 cy=2856 r=31 /><circle class=c43 cx=7055 cy=5263 r=31 /><circle class=c14 cx=7313 cy=2638 r=31 /><circle class=c23 cx=8017 cy=3438 r=31 /><circle class=c43 cx=6921 cy=5248 r=31 /><circle class=c17 cx=7703 cy=2893 r=31 /><circle class=c42 cx=6001 cy=5138 r=31 /><circle class=c42 cx=6124 cy=5158 r=31 /><circle class=c41 cx=5650 cy=5089 r=31 /><circle class=c42 cx=6111 cy=5146 r=31 /><circle class=c20 cx=6215 cy=3228 r=31 /><circle class=c14 cx=7116 cy=2614 r=31 /><circle class=c41 cx=5921 cy=5132 r=31 /><circle class=c41 cx=5713 cy=5099 r=31 /><circle class=c42 cx=6578 cy=5202 r=31 /><circle class=c42 cx=6209 cy=5193 r=31 /><circle class=c19 cx=6294 cy=3122 r=31 /><circle class=c42 cx=6296 cy=5169 r=31 /><circle class=c42 cx=6408 cy=5197 r=31 /><circle class=c33 cx=8234 cy=4386 r=31 /><circle class=c15 cx=6691 cy=2748 r=31 /><circle class=c41 cx=5527 cy=5096 r=31 /><circle class=c44 cx=7622 cy=5355 r=31 /><circle class=c41 cx=5849 cy=5123 r=31 /><circle class=c18 cx=7791 cy=2996 r=31 /><circle class=c16 cx=7608 cy=2794 r=31 /><circle class=c43 cx=6850 cy=5256 r=31 /><circle class=c42 cx=6138 cy=5157 r=31 /><circle class=c17 cx=6494 cy=2897 r=31 /><circle class=c21 cx=7949 cy=3266 r=31 /><circle class=c42 cx=6282 cy=5170 r=31 /><circle class=c35 cx=8223 cy=4592 r=31 /><circle class=c42 cx=6014 cy=5148 r=31 /><circle class=c14 cx=6933 cy=2630 r=31 /><circle class=c42 cx=6490 cy=5211 r=31 /><circle class=c14 cx=6848 cy=2656 r=31 /><circle class=c42 cx=6253 cy=5175 r=31 /><circle class=c42 cx=6642 cy=5222 r=31 /><circle class=c42 cx=6393 cy=5204 r=31 /><circle class=c42 cx=6267 cy=5168 r=31 /><circle class=c42 cx=6224 cy=5176 r=31 /><circle class=c42 cx=5933 cy=5147 r=31 /><circle class=c42 cx=6779 cy=5249 r=31 /><circle class=c43 cx=7118 cy=5288 r=31 /><circle class=c42 cx=6238 cy=5172 r=31 /><circle class=c14 cx=7413 cy=2652 r=31 /><circle class=c14 cx=7514 cy=2703 r=31 /><circle class=c42 cx=6195 cy=5168 r=31 /><circle class=c13 cx=7021 cy=2604 r=31 /><circle class=c42 cx=6180 cy=5163 r=31 /><circle class=c42 cx=6166 cy=5157 r=31 /><circle class=c13 cx=7215 cy=2592 r=31 /><circle class=c15 cx=6620 cy=2780 r=31 /><circle class=c19 cx=7875 cy=3105 r=31 /><circle class=c40 cx=8226 cy=4998 r=31 /><circle class=c42 cx=6563 cy=5217 r=31 /><circle class=c18 cx=6338 cy=3051 r=31 /><circle class=c43 cx=7324 cy=5307 r=31 /><circle class=c14 cx=6767 cy=2683 r=31 /><circle class=c42 cx=8256 cy=5219 r=31 /><circle class=c44 cx=8077 cy=5366 r=31 /><circle class=c28 cx=5823 cy=3975 r=31 /><circle class=c17 cx=6437 cy=2940 r=31 /><circle class=c41 cx=6152 cy=5143 r=31 /><circle class=c44 cx=7694 cy=5369 r=31 /><circle class=c42 cx=6378 cy=5207 r=31 /><circle class=c26 cx=8137 cy=3757 r=31 /><circle class=c17 cx=6386 cy=2991 r=31 /><circle class=c43 cx=6979 cy=5264 r=31 /><circle class=c13 cx=7313 cy=2603 r=31 /><circle class=c28 cx=8174 cy=3951 r=31 /><circle class=c30 cx=8199 cy=4152 r=31 /><circle class=c37 cx=8259 cy=4781 r=31 /><circle class=c13 cx=7116 cy=2581 r=31 /><circle class=c35 cx=8277 cy=4566 r=31 /><circle class=c26 cx=5928 cy=3715 r=31 /><circle class=c16 cx=7706 cy=2853 r=31 /><circle class=c41 cx=5863 cy=5132 r=31 /><circle class=c24 cx=8085 cy=3568 r=31 /><circle class=c42 cx=6706 cy=5219 r=31 /><circle class=c24 cx=5968 cy=3629 r=31 /><circle class=c41 cx=6028 cy=5141 r=31 /><circle class=c22 cx=8027 cy=3391 r=31 /><circle class=c42 cx=6474 cy=5212 r=31 /><circle class=c21 cx=6180 cy=3251 r=31 /><circle class=c40 cx=8302 cy=4999 r=31 /><circle class=c16 cx=6555 cy=2815 r=31 /><circle class=c41 cx=5726 cy=5113 r=31 /><circle class=c41 cx=5791 cy=5104 r=31 /><circle class=c41 cx=5598 cy=5088 r=31 /><circle class=c44 cx=8162 cy=5386 r=31 /><circle class=c23 cx=6036 cy=3491 r=31 /><circle class=c15 cx=7610 cy=2756 r=31 /><circle class=c42 cx=6362 cy=5210 r=31 /><circle class=c14 cx=6690 cy=2711 r=31 /><circle class=c13 cx=6933 cy=2597 r=31 /><circle class=c17 cx=7794 cy=2954 r=31 /><circle class=c41 cx=5662 cy=5101 r=31 /><circle class=c13 cx=7023 cy=2572 r=31 /><circle class=c43 cx=7180 cy=5304 r=31 /><circle class=c42 cx=6625 cy=5229 r=31 /><circle class=c14 cx=6847 cy=2622 r=31 /><circle class=c43 cx=6905 cy=5268 r=31 /><circle class=c43 cx=7390 cy=5322 r=31 /><circle class=c20 cx=7954 cy=3219 r=31 /><circle class=c19 cx=6253 cy=3134 r=31 /><circle class=c42 cx=6547 cy=5223 r=31 /><circle class=c13 cx=7318 cy=2571 r=31 /><circle class=c13 cx=7215 cy=2559 r=31 /><circle class=c14 cx=7515 cy=2667 r=31 /><circle class=c42 cx=6693 cy=5254 r=31 /><circle class=c39 cx=5545 cy=4955 r=31 /><circle class=c41 cx=6043 cy=5138 r=31 /><circle class=c13 cx=7412 cy=2615 r=31 /><circle class=c45 cx=8044 cy=5521 r=31 /><circle class=c14 cx=6767 cy=2649 r=31 /><circle class=c21 cx=6148 cy=3283 r=31 /><circle class=c42 cx=6457 cy=5214 r=31 /><circle class=c41 cx=5950 cy=5128 r=31 /><circle class=c41 cx=6057 cy=5155 r=31 /><circle class=c43 cx=7038 cy=5285 r=31 /><circle class=c16 cx=6493 cy=2851 r=31 /><circle class=c42 cx=6345 cy=5201 r=31 /><circle class=c41 cx=5803 cy=5126 r=31 /><circle class=c15 cx=6619 cy=2741 r=31 /><circle class=c41 cx=5541 cy=5106 r=31 /><circle class=c18 cx=7878 cy=3060 r=31 /><circle class=c22 cx=6062 cy=3422 r=31 /><circle class=c42 cx=6072 cy=5167 r=31 /><circle class=c32 cx=8249 cy=4321 r=31 /><circle class=c41 cx=5878 cy=5135 r=31 /><circle class=c21 cx=6117 cy=3323 r=31 /><circle class=c43 cx=7247 cy=5335 r=31 /><circle class=c12 cx=7115 cy=2548 r=31 /><circle class=c16 cx=7709 cy=2814 r=31 /><circle class=c42 cx=6760 cy=5252 r=31 /><circle class=c26 cx=5875 cy=3810 r=31 /><circle class=c14 cx=7616 cy=2720 r=31 /><circle class=c45 cx=7938 cy=5454 r=31 /><circle class=c16 cx=6437 cy=2896 r=31 /><circle class=c42 cx=6441 cy=5228 r=31 /><circle class=c42 cx=6328 cy=5202 r=31 /><circle class=c44 cx=7459 cy=5344 r=31 /><circle class=c13 cx=6934 cy=2565 r=31 /><circle class=c41 cx=5964 cy=5145 r=31 /><circle class=c21 cx=6089 cy=3368 r=31 /><circle class=c43 cx=6965 cy=5304 r=31 /><circle class=c42 cx=6530 cy=5235 r=31 /><circle class=c14 cx=6691 cy=2677 r=31 /><circle class=c41 cx=5739 cy=5128 r=31 /><circle class=c18 cx=6294 cy=3059 r=31 /><circle class=c42 cx=6104 cy=5188 r=31 /><circle class=c42 cx=6088 cy=5172 r=31 /><circle class=c42 cx=6828 cy=5245 r=31 /><circle class=c44 cx=7840 cy=5396 r=31 /><circle class=c30 cx=8223 cy=4103 r=31 /><circle class=c41 cx=5674 cy=5129 r=31 /><circle class=c12 cx=7219 cy=2528 r=31 /><circle class=c17 cx=7800 cy=2914 r=31 /><circle class=c23 cx=8095 cy=3518 r=31 /><circle class=c41 cx=5609 cy=5115 r=31 /><circle class=c21 cx=8034 cy=3342 r=31 /><circle class=c28 cx=5810 cy=3969 r=31 /><circle class=c42 cx=6311 cy=5203 r=31 /><circle class=c43 cx=7747 cy=5342 r=31 /><circle class=c42 cx=6294 cy=5212 r=31 /><circle class=c25 cx=8144 cy=3700 r=31 /><circle class=c13 cx=6846 cy=2589 r=31 /><circle class=c13 cx=7415 cy=2582 r=31 /><circle class=c41 cx=5892 cy=5154 r=31 /><circle class=c43 cx=7101 cy=5316 r=31 /><circle class=c44 cx=8224 cy=5365 r=31 /><circle class=c12 cx=7021 cy=2539 r=31 /><circle class=c42 cx=6607 cy=5231 r=31 /><circle class=c17 cx=6385 cy=2940 r=31 /><circle class=c13 cx=7517 cy=2631 r=31 /><circle class=c19 cx=7962 cy=3175 r=31 /><circle class=c42 cx=6277 cy=5211 r=31 /><circle class=c42 cx=6121 cy=5184 r=31 /><circle class=c17 cx=6337 cy=2994 r=31 /><circle class=c19 cx=6215 cy=3152 r=31 /><circle class=c41 cx=5817 cy=5143 r=31 /><circle class=c42 cx=6423 cy=5229 r=31 /><circle class=c12 cx=7316 cy=2537 r=31 /><circle class=c15 cx=6552 cy=2772 r=31 /><circle class=c17 cx=7889 cy=3021 r=31 /><circle class=c41 cx=5979 cy=5150 r=31 /><circle class=c12 cx=7117 cy=2517 r=31 /><circle class=c13 cx=6766 cy=2615 r=31 /><circle class=c27 cx=8176 cy=3885 r=31 /><circle class=c42 cx=5994 cy=5176 r=31 /><circle class=c15 cx=7714 cy=2777 r=31 /><circle class=c42 cx=6138 cy=5182 r=31 /><circle class=c43 cx=6886 cy=5286 r=31 /><circle class=c23 cx=5992 cy=3527 r=31 /><circle class=c42 cx=6259 cy=5201 r=31 /><circle class=c14 cx=6619 cy=2705 r=31 /><circle class=c14 cx=7618 cy=2684 r=31 /><circle class=c42 cx=6155 cy=5189 r=31 /><circle class=c12 cx=6934 cy=2534 r=31 /><circle class=c42 cx=6511 cy=5235 r=31 /><circle class=c43 cx=7524 cy=5352 r=31 /><circle class=c12 cx=7025 cy=2510 r=31 /><circle class=c15 cx=6492 cy=2810 r=31 /><circle class=c42 cx=6224 cy=5202 r=31 /><circle class=c42 cx=6242 cy=5200 r=31 /><circle class=c42 cx=6742 cy=5271 r=31 /><circle class=c42 cx=6207 cy=5198 r=31 /><circle class=c42 cx=6671 cy=5243 r=31 /><circle class=c36 cx=8274 cy=4706 r=31 /><circle class=c42 cx=6813 cy=5280 r=31 /><circle class=c45 cx=8209 cy=5553 r=31 /><circle class=c44 cx=8304 cy=5371 r=31 /><circle class=c42 cx=6590 cy=5247 r=31 /><circle class=c42 cx=6189 cy=5189 r=31 /><circle class=c12 cx=7418 cy=2549 r=31 /><circle class=c45 cx=8103 cy=5496 r=31 /><circle class=c42 cx=6172 cy=5184 r=31 /><circle class=c16 cx=7804 cy=2874 r=31 /><circle class=c43 cx=7304 cy=5331 r=31 /><circle class=c14 cx=6690 cy=2642 r=31 /><circle class=c41 cx=5555 cy=5129 r=31 /><circle class=c12 cx=7217 cy=2495 r=31 /><circle class=c41 cx=5909 cy=5157 r=31 /><circle class=c12 cx=6847 cy=2557 r=31 /><circle class=c41 cx=6011 cy=5180 r=31 /><circle class=c13 cx=7520 cy=2597 r=31 /><circle class=c41 cx=5689 cy=5145 r=31 /><circle class=c42 cx=6404 cy=5219 r=31 /><circle class=c41 cx=5832 cy=5159 r=31 /><circle class=c43 cx=7021 cy=5313 r=31 /><circle class=c12 cx=7318 cy=2505 r=31 /><circle class=c12 cx=7119 cy=2486 r=31 /><circle class=c41 cx=5756 cy=5130 r=31 /><circle class=c21 cx=8041 cy=3295 r=31 /><circle class=c42 cx=6386 cy=5234 r=31 /><circle class=c18 cx=6253 cy=3071 r=31 /><circle class=c42 cx=6655 cy=5278 r=31 /><circle class=c41 cx=5624 cy=5132 r=31 /><circle class=c16 cx=6436 cy=2849 r=31 /><circle class=c25 cx=5914 cy=3678 r=31 /><circle class=c13 cx=6766 cy=2584 r=31 /><circle class=c19 cx=7969 cy=3131 r=31 /><circle class=c14 cx=6553 cy=2736 r=31 /><circle class=c42 cx=6492 cy=5239 r=31 /><circle class=c24 cx=5951 cy=3590 r=31 /><circle class=c43 cx=7158 cy=5321 r=31 /><circle class=c19 cx=6181 cy=3173 r=31 /><circle class=c44 cx=7594 cy=5372 r=31 /><circle class=c37 cx=5572 cy=4794 r=31 /><circle class=c14 cx=7622 cy=2648 r=31 /><circle class=c23 cx=8096 cy=3462 r=31 /><circle class=c41 cx=6029 cy=5182 r=31 /><circle class=c24 cx=8151 cy=3645 r=31 /><circle class=c43 cx=7374 cy=5362 r=31 /><circle class=c17 cx=7892 cy=2978 r=31 /><circle class=c14 cx=7716 cy=2739 r=31 /><circle class=c41 cx=5925 cy=5169 r=31 /><circle class=c16 cx=6385 cy=2894 r=31 /><circle class=c28 cx=5799 cy=3961 r=31 /><circle class=c31 cx=8256 cy=4249 r=31 /><circle class=c12 cx=6933 cy=2503 r=31 /><circle class=c42 cx=6474 cy=5261 r=31 /><circle class=c17 cx=6337 cy=2946 r=31 /><circle class=c40 cx=8253 cy=5104 r=31 /><circle class=c17 cx=6293 cy=3003 r=31 /><circle class=c16 cx=7814 cy=2838 r=31 /><circle class=c29 cx=8231 cy=4038 r=31 /><circle class=c12 cx=7421 cy=2517 r=31 /><circle class=c42 cx=6366 cy=5230 r=31 /><circle class=c26 cx=5862 cy=3788 r=31 /><circle class=c22 cx=6015 cy=3447 r=31 /><circle class=c14 cx=6618 cy=2669 r=31 /><circle class=c42 cx=6570 cy=5253 r=31 /><circle class=c12 cx=7022 cy=2478 r=31 /><circle class=c26 cx=8191 cy=3833 r=31 /><circle class=c42 cx=6347 cy=5245 r=31 /><circle class=c11 cx=7217 cy=2464 r=31 /><circle class=c33 cx=8256 cy=4455 r=31 /><circle class=c41 cx=5771 cy=5156 r=31 /><circle class=c43 cx=6868 cy=5312 r=31 /><circle class=c13 cx=6689 cy=2610 r=31 /><circle class=c15 cx=6492 cy=2771 r=31 /><circle class=c12 cx=7521 cy=2563 r=31 /><circle class=c11 cx=7319 cy=2474 r=31 /><circle class=c42 cx=6940 cy=5299 r=31 /><circle class=c43 cx=7225 cy=5357 r=31 /><circle class=c11 cx=7119 cy=2456 r=31 /><circle class=c44 cx=7668 cy=5396 r=31 /><circle class=c41 cx=5942 cy=5185 r=31 /><circle class=c42 cx=6065 cy=5202 r=31 /><circle class=c19 cx=6148 cy=3201 r=31 /><circle class=c12 cx=6844 cy=2526 r=31 /><circle class=c41 cx=6047 cy=5178 r=31 /><circle class=c41 cx=5851 cy=5159 r=31 /><circle class=c12 cx=6765 cy=2552 r=31 /><circle class=c42 cx=6719 cy=5266 r=31 /><circle class=c43 cx=7078 cy=5328 r=31 /><circle class=c14 cx=6553 cy=2701 r=31 /><circle class=c42 cx=6084 cy=5207 r=31 /><circle class=c20 cx=8047 cy=3248 r=31 /><circle class=c42 cx=6327 cy=5231 r=31 /><circle class=c42 cx=6634 cy=5280 r=31 /><circle class=c15 cx=6436 cy=2809 r=31 /><circle class=c13 cx=7623 cy=2612 r=31 /><circle class=c42 cx=6790 cy=5278 r=31 /><circle class=c43 cx=7438 cy=5377 r=31 /><circle class=c18 cx=7973 cy=3087 r=31 /><circle class=c14 cx=7720 cy=2702 r=31 /><circle class=c11 cx=6932 cy=2473 r=31 /><circle class=c12 cx=7423 cy=2485 r=31 /><circle class=c18 cx=6215 cy=3085 r=31 /><circle class=c42 cx=6103 cy=5215 r=31 /><circle class=c11 cx=7023 cy=2449 r=31 /><circle class=c16 cx=7896 cy=2937 r=31 /><circle class=c22 cx=8108 cy=3416 r=31 /><circle class=c11 cx=7218 cy=2434 r=31 /><circle class=c42 cx=6549 cy=5258 r=31 /><circle class=c41 cx=5709 cy=5141 r=31 /><circle class=c28 cx=5786 cy=3970 r=31 /><circle class=c13 cx=6618 cy=2637 r=31 /><circle class=c41 cx=5641 cy=5145 r=31 /><circle class=c41 cx=5574 cy=5136 r=31 /><circle class=c42 cx=6452 cy=5245 r=31 /><circle class=c21 cx=6040 cy=3376 r=31 /><circle class=c38 cx=8269 cy=4853 r=31 /><circle class=c42 cx=6307 cy=5228 r=31 /><circle class=c11 cx=7321 cy=2443 r=31 /><circle class=c41 cx=5788 cy=5172 r=31 /><circle class=c42 cx=6287 cy=5237 r=31 /><circle class=c41 cx=5962 cy=5184 r=31 /><circle class=c42 cx=6123 cy=5217 r=31 /><circle class=c12 cx=7523 cy=2529 r=31 /><circle class=c11 cx=7119 cy=2426 r=31 /><circle class=c15 cx=7813 cy=2797 r=31 /><circle class=c12 cx=6845 cy=2496 r=31 /><circle class=c20 cx=6119 cy=3230 r=31 /><circle class=c24 cx=8160 cy=3593 r=31 /><circle class=c44 cx=7739 cy=5409 r=31 /><circle class=c42 cx=6143 cy=5222 r=31 /><circle class=c41 cx=5869 cy=5168 r=31 /><circle class=c21 cx=6065 cy=3320 r=31 /><circle class=c14 cx=6492 cy=2734 r=31 /><circle class=c12 cx=6688 cy=2577 r=31 /><circle class=c16 cx=6384 cy=2850 r=31 /><circle class=c41 cx=5980 cy=5207 r=31 /><circle class=c26 cx=8207 cy=3782 r=31 /><circle class=c35 cx=5595 cy=4656 r=31 /><circle class=c42 cx=6225 cy=5236 r=31 /><circle class=c43 cx=6997 cy=5323 r=31 /><circle class=c12 cx=6765 cy=2522 r=31 /><circle class=c42 cx=6204 cy=5232 r=31 /><circle class=c17 cx=6253 cy=3012 r=31 /><circle class=c42 cx=6266 cy=5226 r=31 /><circle class=c42 cx=6184 cy=5228 r=31 /><circle class=c43 cx=6773 cy=5320 r=31 /></g><g class=a9><circle class=c20 cx=6091 cy=3269 r=31 /><circle class=c33 cx=8286 cy=4406 r=31 /><circle class=c14 cx=7727 cy=2667 r=31 /><circle class=c42 cx=6431 cy=5246 r=31 /><circle class=c43 cx=7284 cy=5364 r=31 /><circle class=c42 cx=6528 cy=5270 r=31 /><circle class=c35 cx=8279 cy=4619 r=31 /><circle class=c16 cx=6337 cy=2897 r=31 /><circle class=c42 cx=6699 cy=5284 r=31 /><circle class=c42 cx=6612 cy=5292 r=31 /><circle class=c44 cx=7507 cy=5400 r=31 /><circle class=c42 cx=6245 cy=5224 r=31 /><circle class=c42 cx=6163 cy=5214 r=31 /><circle class=c11 cx=6932 cy=2444 r=31 /><circle class=c30 cx=8268 cy=4187 r=31 /><circle class=c44 cx=7821 cy=5445 r=31 /><circle class=c10 cx=7023 cy=2420 r=31 /><circle class=c10 cx=7219 cy=2404 r=31 /><circle class=c11 cx=7424 cy=2453 r=31 /><circle class=c42 cx=6410 cy=5264 r=31 /><circle class=c23 cx=5975 cy=3486 r=31 /><circle class=c16 cx=7905 cy=2899 r=31 /><circle class=c28 cx=8237 cy=3974 r=31 /><circle class=c12 cx=7623 cy=2577 r=31 /><circle class=c42 cx=6000 cy=5215 r=31 /><circle class=c16 cx=6293 cy=2949 r=31 /><circle class=c10 cx=7120 cy=2398 r=31 /><circle class=c43 cx=7135 cy=5341 r=31 /><circle class=c17 cx=7980 cy=3045 r=31 /><circle class=c11 cx=6846 cy=2468 r=31 /><circle class=c18 cx=6181 cy=3105 r=31 /><circle class=c41 cx=5726 cy=5163 r=31 /><circle class=c10 cx=7322 cy=2412 r=31 /><circle class=c19 cx=8053 cy=3203 r=31 /><circle class=c42 cx=6918 cy=5315 r=31 /><circle class=c13 cx=6551 cy=2665 r=31 /><circle class=c44 cx=8233 cy=5467 r=31 /><circle class=c24 cx=5900 cy=3648 r=31 /><circle class=c26 cx=5851 cy=3769 r=31 /><circle class=c12 cx=7525 cy=2496 r=31 /><circle class=c41 cx=5888 cy=5178 r=31 /><circle class=c28 cx=5774 cy=3979 r=31 /><circle class=c42 cx=6842 cy=5309 r=31 /><circle class=c13 cx=6617 cy=2604 r=31 /><circle class=c41 cx=5521 cy=5151 r=31 /><circle class=c14 cx=6435 cy=2768 r=31 /><circle class=c12 cx=6688 cy=2547 r=31 /><circle class=c21 cx=8116 cy=3369 r=31 /><circle class=c14 cx=7816 cy=2758 r=31 /><circle class=c40 cx=5521 cy=5056 r=31 /><circle class=c41 cx=5809 cy=5173 r=31 /><circle class=c23 cx=5936 cy=3554 r=31 /><circle class=c41 cx=5590 cy=5159 r=31 /><circle class=c41 cx=5660 cy=5155 r=31 /><circle class=c10 cx=6933 cy=2416 r=31 /><circle class=c11 cx=6764 cy=2492 r=31 /><circle class=c10 cx=7024 cy=2392 r=31 /><circle class=c42 cx=6388 cy=5251 r=31 /><circle class=c43 cx=7055 cy=5350 r=31 /><circle class=c34 cx=5615 cy=4545 r=31 /><circle class=c43 cx=7348 cy=5387 r=31 /><circle class=c42 cx=6677 cy=5301 r=31 /><circle class=c12 cx=7628 cy=2544 r=31 /><circle class=c14 cx=6491 cy=2697 r=31 /><circle class=c10 cx=7425 cy=2421 r=31 /><circle class=c10 cx=7325 cy=2383 r=31 /><circle class=c41 cx=6021 cy=5206 r=31 /><circle class=c41 cx=5908 cy=5192 r=31 /><circle class=c10 cx=7218 cy=2374 r=31 /><circle class=c23 cx=8165 cy=3539 r=31 /><circle class=c13 cx=7725 cy=2630 r=31 /><circle class=c11 cx=7529 cy=2465 r=31 /><circle class=c12 cx=6618 cy=2575 r=31 /><circle class=c42 cx=6504 cy=5254 r=31 /><circle class=c44 cx=7572 cy=5409 r=31 /><circle class=c11 cx=6845 cy=2440 r=31 /><circle class=c17 cx=6215 cy=3026 r=31 /><circle class=c10 cx=7119 cy=2369 r=31 /><circle class=c15 cx=6383 cy=2806 r=31 /><circle class=c42 cx=6588 cy=5286 r=31 /><circle class=c39 cx=8258 cy=5005 r=31 /><circle class=c17 cx=7987 cy=3004 r=31 /><circle class=c41 cx=6042 cy=5218 r=31 /><circle class=c13 cx=6551 cy=2632 r=31 /><circle class=c44 cx=7988 cy=5508 r=31 /><circle class=c41 cx=5745 cy=5179 r=31 /><circle class=c42 cx=6365 cy=5252 r=31 /><circle class=c25 cx=8213 cy=3725 r=31 /><circle class=c42 cx=6747 cy=5321 r=31 /><circle class=c42 cx=6343 cy=5268 r=31 /><circle class=c15 cx=7904 cy=2857 r=31 /><circle class=c28 cx=5763 cy=3992 r=31 /><circle class=c14 cx=7823 cy=2722 r=31 /><circle class=c12 cx=6688 cy=2518 r=31 /><circle class=c43 cx=7195 cy=5360 r=31 /><circle class=c42 cx=6483 cy=5276 r=31 /><circle class=c21 cx=5997 cy=3404 r=31 /><circle class=c44 cx=7883 cy=5436 r=31 /><circle class=c10 cx=7026 cy=2365 r=31 /><circle class=c18 cx=6149 cy=3124 r=31 /><circle class=c41 cx=5829 cy=5186 r=31 /><circle class=c41 cx=8283 cy=5225 r=31 /><circle class=c15 cx=6336 cy=2851 r=31 /><circle class=c10 cx=6933 cy=2388 r=31 /><circle class=c44 cx=7653 cy=5454 r=31 /><circle class=c44 cx=8303 cy=5459 r=31 /><circle class=c19 cx=8055 cy=3156 r=31 /><circle class=c11 cx=6764 cy=2464 r=31 /><circle class=c41 cx=5928 cy=5204 r=31 /><circle class=c37 cx=8286 cy=4778 r=31 /><circle class=c42 cx=6972 cy=5336 r=31 /><circle class=c14 cx=6435 cy=2731 r=31 /><circle class=c10 cx=7220 cy=2346 r=31 /><circle class=c42 cx=6819 cy=5329 r=31 /><circle class=c16 cx=6252 cy=2956 r=31 /><circle class=c27 cx=8246 cy=3915 r=31 /><circle class=c41 cx=6064 cy=5216 r=31 /><circle class=c12 cx=7631 cy=2511 r=31 /><circle class=c33 cx=5633 cy=4447 r=31 /><circle class=c42 cx=6894 cy=5335 r=31 /><circle class=c10 cx=7121 cy=2341 r=31 /><circle class=c16 cx=6292 cy=2899 r=31 /><circle class=c42 cx=6319 cy=5257 r=31 /><circle class=c42 cx=6459 cy=5287 r=31 /><circle class=c10 cx=7424 cy=2390 r=31 /><circle class=c31 cx=8294 cy=4335 r=31 /><circle class=c42 cx=6296 cy=5267 r=31 /><circle class=c42 cx=6653 cy=5313 r=31 /><circle class=c41 cx=5680 cy=5171 r=31 /><circle class=c10 cx=6845 cy=2412 r=31 /><circle class=c41 cx=6086 cy=5226 r=31 /><circle class=c20 cx=8117 cy=3318 r=31 /><circle class=c12 cx=7728 cy=2594 r=31 /><circle class=c10 cx=7322 cy=2352 r=31 /><circle class=c42 cx=6108 cy=5241 r=31 /><circle class=c10 cx=7529 cy=2432 r=31 /><circle class=c42 cx=6564 cy=5292 r=31 /><circle class=c34 cx=8291 cy=4547 r=31 /><circle class=c41 cx=5611 cy=5175 r=31 /><circle class=c42 cx=6154 cy=5263 r=31 /><circle class=c43 cx=7410 cy=5399 r=31 /><circle class=c13 cx=6490 cy=2662 r=31 /><circle class=c29 cx=8268 cy=4113 r=31 /><circle class=c25 cx=5839 cy=3756 r=31 /><circle class=c43 cx=7113 cy=5372 r=31 /><circle class=c28 cx=5751 cy=4011 r=31 /><circle class=c22 cx=8179 cy=3494 r=31 /><circle class=c38 cx=8320 cy=4989 r=31 /><circle class=c18 cx=6120 cy=3151 r=31 /><circle class=c40 cx=5542 cy=5161 r=31 /><circle class=c15 cx=7912 cy=2819 r=31 /><circle class=c21 cx=6020 cy=3334 r=31 /><circle class=c42 cx=6249 cy=5263 r=31 /><circle class=c41 cx=5950 cy=5209 r=31 /><circle class=c41 cx=6132 cy=5240 r=31 /><circle class=c12 cx=6550 cy=2600 r=31 /><circle class=c11 cx=6687 cy=2489 r=31 /><circle class=c41 cx=5766 cy=5191 r=31 /><circle class=c9 cx=7223 cy=2318 r=31 /><circle class=c41 cx=5850 cy=5195 r=31 /><circle class=c24 cx=5887 cy=3626 r=31 /><circle class=c12 cx=6615 cy=2542 r=31 /><circle class=c42 cx=6225 cy=5261 r=31 /><circle class=c44 cx=8061 cy=5515 r=31 /><circle class=c45 cx=8171 cy=5584 r=31 /><circle class=c9 cx=7024 cy=2337 r=31 /><circle class=c16 cx=7989 cy=2961 r=31 /><circle class=c14 cx=6383 cy=2767 r=31 /><circle class=c13 cx=7824 cy=2685 r=31 /><circle class=c10 cx=6932 cy=2361 r=31 /><circle class=c42 cx=6178 cy=5250 r=31 /><circle class=c42 cx=6202 cy=5254 r=31 /><circle class=c42 cx=6272 cy=5247 r=31 /><circle class=c10 cx=6763 cy=2436 r=31 /><circle class=c42 cx=6435 cy=5286 r=31 /><circle class=c31 cx=5651 cy=4359 r=31 /><circle class=c10 cx=7427 cy=2360 r=31 /><circle class=c43 cx=7255 cy=5378 r=31 /><circle class=c41 cx=5972 cy=5229 r=31 /><circle class=c22 cx=5958 cy=3452 r=31 /><circle class=c10 cx=6845 cy=2385 r=31 /><circle class=c10 cx=7534 cy=2402 r=31 /><circle class=c17 cx=6181 cy=3037 r=31 /><circle class=c42 cx=6539 cy=5305 r=31 /><circle class=c24 cx=8224 cy=3673 r=31 /><circle class=c28 cx=5738 cy=4038 r=31 /><circle class=c42 cx=6720 cy=5323 r=31 /><circle class=c9 cx=7119 cy=2313 r=31 /><circle class=c12 cx=7734 cy=2561 r=31 /><circle class=c18 cx=8060 cy=3112 r=31 /><circle class=c11 cx=7630 cy=2477 r=31 /><circle class=c19 cx=6093 cy=3183 r=31 /><circle class=c37 cx=5546 cy=4872 r=31 /><circle class=c9 cx=7322 cy=2323 r=31 /><circle class=c36 cx=8334 cy=4746 r=31 /><circle class=c41 cx=5699 cy=5199 r=31 /><circle class=c20 cx=6043 cy=3273 r=31 /><circle class=c19 cx=6067 cy=3226 r=31 /><circle class=c44 cx=7715 cy=5452 r=31 /><circle class=c41 cx=5785 cy=5222 r=31 /><circle class=c31 cx=5667 cy=4287 r=31 /><circle class=c44 cx=7480 cy=5429 r=31 /><circle class=c42 cx=6627 cy=5319 r=31 /><circle class=c13 cx=6433 cy=2693 r=31 /><circle class=c14 cx=6335 cy=2807 r=31 /><circle class=c42 cx=6410 cy=5287 r=31 /><circle class=c26 cx=8264 cy=3865 r=31 /><circle class=c42 cx=7025 cy=5354 r=31 /><circle class=c43 cx=6870 cy=5361 r=31 /><circle class=c20 cx=8125 cy=3272 r=31 /><circle class=c9 cx=6932 cy=2335 r=31 /><circle class=c15 cx=6292 cy=2855 r=31 /><circle class=c41 cx=5872 cy=5204 r=31 /><circle class=c43 cx=6948 cy=5363 r=31 /><circle class=c31 cx=8325 cy=4290 r=31 /><circle class=c23 cx=5923 cy=3520 r=31 /><circle class=c9 cx=7023 cy=2310 r=31 /><circle class=c30 cx=5682 cy=4222 r=31 /><circle class=c12 cx=6550 cy=2569 r=31 /><circle class=c9 cx=7221 cy=2290 r=31 /><circle class=c28 cx=5726 cy=4069 r=31 /><circle class=c12 cx=6489 cy=2628 r=31 /><circle class=c11 cx=6686 cy=2460 r=31 /><circle class=c10 cx=6763 cy=2409 r=31 /><circle class=c14 cx=7914 cy=2780 r=31 /><circle class=c29 cx=5711 cy=4115 r=31 /><circle class=c28 cx=8295 cy=4068 r=31 /><circle class=c41 cx=5996 cy=5226 r=31 /><circle class=c16 cx=6215 cy=2965 r=31 /><circle class=c42 cx=6791 cy=5329 r=31 /><circle class=c11 cx=6614 cy=2513 r=31 /><circle class=c30 cx=5697 cy=4163 r=31 /><circle class=c43 cx=7323 cy=5417 r=31 /><circle class=c16 cx=7996 cy=2921 r=31 /><circle class=c9 cx=7427 cy=2331 r=31 /><circle class=c16 cx=6252 cy=2906 r=31 /><circle class=c41 cx=5632 cy=5190 r=31 /><circle class=c9 cx=7325 cy=2295 r=31 /><circle class=c13 cx=7825 cy=2648 r=31 /><circle class=c10 cx=7635 cy=2445 r=31 /><circle class=c9 cx=7119 cy=2286 r=31 /><circle class=c41 cx=5894 cy=5235 r=31 /><circle class=c10 cx=6845 cy=2359 r=31 /><circle class=c21 cx=8186 cy=3444 r=31 /><circle class=c41 cx=5562 cy=5187 r=31 /><circle class=c25 cx=5827 cy=3750 r=31 /><circle class=c43 cx=7167 cy=5381 r=31 /><circle class=c10 cx=7532 cy=2370 r=31 /><circle class=c44 cx=7794 cy=5486 r=31 /><circle class=c11 cx=7735 cy=2526 r=31 /><circle class=c42 cx=6512 cy=5297 r=31 /><circle class=c42 cx=6384 cy=5279 r=31 /><circle class=c17 cx=6150 cy=3056 r=31 /><circle class=c17 cx=8069 cy=3070 r=31 /><circle class=c41 cx=6020 cy=5235 r=31 /><circle class=c33 cx=8314 cy=4489 r=31 /><circle class=c41 cx=6043 cy=5259 r=31 /><circle class=c14 cx=6382 cy=2727 r=31 /><circle class=c42 cx=6694 cy=5336 r=31 /><circle class=c10 cx=6687 cy=2435 r=31 /><circle class=c42 cx=6601 cy=5329 r=31 /><circle class=c9 cx=7023 cy=2284 r=31 /><circle class=c46 cx=8110 cy=5713 r=31 /><circle class=c9 cx=7223 cy=2263 r=31 /><circle class=c13 cx=6433 cy=2660 r=31 /><circle class=c11 cx=6616 cy=2486 r=31 /><circle class=c9 cx=6931 cy=2309 r=31 /><circle class=c9 cx=7122 cy=2260 r=31 /><circle class=c42 cx=6333 cy=5302 r=31 /><circle class=c23 cx=8235 cy=3623 r=31 /><circle class=c21 cx=5980 cy=3367 r=31 /><circle class=c42 cx=6358 cy=5281 r=31 /><circle class=c44 cx=7545 cy=5445 r=31 /><circle class=c40 cx=8299 cy=5139 r=31 /><circle class=c19 cx=8138 cy=3231 r=31 /><circle class=c41 cx=5811 cy=5222 r=31 /><circle class=c9 cx=7430 cy=2301 r=31 /><circle class=c43 cx=7085 cy=5394 r=31 /><circle class=c9 cx=6845 cy=2334 r=31 /><circle class=c12 cx=7833 cy=2614 r=31 /><circle class=c10 cx=6761 cy=2383 r=31 /><circle class=c41 cx=5724 cy=5200 r=31 /><circle class=c12 cx=6548 cy=2539 r=31 /><circle class=c42 cx=6486 cy=5307 r=31 /><circle class=c14 cx=7918 cy=2742 r=31 /><circle class=c9 cx=7324 cy=2267 r=31 /><circle class=c23 cx=5875 cy=3607 r=31 /><circle class=c41 cx=6069 cy=5257 r=31 /><circle class=c42 cx=6094 cy=5275 r=31 /><circle class=c12 cx=6488 cy=2596 r=31 /><circle class=c41 cx=5919 cy=5234 r=31 /><circle class=c17 cx=6121 cy=3083 r=31 /><circle class=c10 cx=7634 cy=2412 r=31 /><circle class=c42 cx=6765 cy=5351 r=31 /><circle class=c9 cx=7533 cy=2339 r=31 /><circle class=c15 cx=7998 cy=2880 r=31 /><circle class=c14 cx=6335 cy=2765 r=31 /><circle class=c42 cx=6120 cy=5280 r=31 /><circle class=c43 cx=7386 cy=5439 r=31 /><circle class=c42 cx=6306 cy=5287 r=31 /><circle class=c41 cx=5654 cy=5212 r=31 /><circle class=c35 cx=5569 cy=4713 r=31 /><circle class=c9 cx=6932 cy=2284 r=31 /><circle class=c44 cx=8214 cy=5533 r=31 /><circle class=c8 cx=7125 cy=2235 r=31 /><circle class=c16 cx=6182 cy=2978 r=31 /><circle class=c9 cx=7024 cy=2259 r=31 /><circle class=c8 cx=7223 cy=2236 r=31 /><circle class=c11 cx=7735 cy=2492 r=31 /><circle class=c10 cx=6687 cy=2408 r=31 /><circle class=c42 cx=6668 cy=5356 r=31 /><circle class=c21 cx=8195 cy=3397 r=31 /><circle class=c43 cx=6999 cy=5382 r=31 /><circle class=c25 cx=8268 cy=3805 r=31 /><circle class=c17 cx=8077 cy=3029 r=31 /><circle class=c14 cx=6292 cy=2810 r=31 /><circle class=c42 cx=6226 cy=5296 r=31 /><circle class=c42 cx=6573 cy=5333 r=31 /><circle class=c44 cx=7865 cy=5499 r=31 /><circle class=c43 cx=7228 cy=5409 r=31 /><circle class=c42 cx=6460 cy=5315 r=31 /><circle class=c9 cx=6762 cy=2358 r=31 /><circle class=c41 cx=5834 cy=5240 r=31 /><circle class=c42 cx=6919 cy=5376 r=31 /><circle class=c42 cx=6253 cy=5287 r=31 /><circle class=c13 cx=6381 cy=2692 r=31 /><circle class=c42 cx=6279 cy=5279 r=31 /><circle class=c40 cx=5511 cy=5205 r=31 /><circle class=c8 cx=7326 cy=2239 r=31 /><circle class=c28 cx=8306 cy=4009 r=31 /><circle class=c9 cx=7429 cy=2272 r=31 /><circle class=c20 cx=6001 cy=3296 r=31 /><circle class=c40 cx=5585 cy=5204 r=31 /><circle class=c42 cx=6838 cy=5353 r=31 /><circle class=c41 cx=5944 cy=5243 r=31 /><circle class=c10 cx=6614 cy=2458 r=31 /><circle class=c12 cx=7838 cy=2579 r=31 /><circle class=c10 cx=7641 cy=2382 r=31 /><circle class=c11 cx=6548 cy=2511 r=31 /><circle class=c35 cx=8345 cy=4670 r=31 /><circle class=c41 cx=6146 cy=5267 r=31 /><circle class=c9 cx=6843 cy=2308 r=31 /><circle class=c22 cx=5908 cy=3501 r=31 /><circle class=c15 cx=6252 cy=2857 r=31 /><circle class=c16 cx=6215 cy=2913 r=31 /><circle class=c21 cx=5943 cy=3420 r=31 /><circle class=c9 cx=7539 cy=2310 r=31 /><circle class=c39 cx=5509 cy=5099 r=31 /><circle class=c24 cx=5817 cy=3744 r=31 /><circle class=c41 cx=6199 cy=5276 r=31 /><circle class=c41 cx=6173 cy=5271 r=31 /><circle class=c37 cx=8315 cy=4883 r=31 /><circle class=c12 cx=6432 cy=2626 r=31 /><circle class=c41 cx=5747 cy=5221 r=31 /><circle class=c12 cx=6488 cy=2566 r=31 /><circle class=c13 cx=7922 cy=2705 r=31 /><circle class=c41 cx=5968 cy=5270 r=31 /><circle class=c17 cx=6094 cy=3109 r=31 /><circle class=c18 cx=8145 cy=3186 r=31 /><circle class=c42 cx=6432 cy=5323 r=31 /><circle class=c44 cx=7612 cy=5462 r=31 /><circle class=c23 cx=8247 cy=3575 r=31 /><circle class=c8 cx=7024 cy=2234 r=31 /><circle class=c10 cx=7741 cy=2460 r=31 /><circle class=c14 cx=6335 cy=2730 r=31 /><circle class=c8 cx=7222 cy=2209 r=31 /><circle class=c19 cx=6023 cy=3238 r=31 /><circle class=c8 cx=6930 cy=2259 r=31 /><circle class=c15 cx=8002 cy=2841 r=31 /><circle class=c9 cx=6846 cy=2284 r=31 /><circle class=c10 cx=6685 cy=2383 r=31 /><circle class=c18 cx=6069 cy=3145 r=31 /><circle class=c42 cx=8280 cy=5307 r=31 /><circle class=c30 cx=8316 cy=4206 r=31 /><circle class=c8 cx=7121 cy=2209 r=31 /><circle class=c42 cx=6404 cy=5333 r=31 /><circle class=c8 cx=7328 cy=2212 r=31 /><circle class=c43 cx=7140 cy=5411 r=31 /><circle class=c16 cx=6151 cy=2997 r=31 /><circle class=c42 cx=6544 cy=5335 r=31 /><circle class=c41 cx=5860 cy=5252 r=31 /><circle class=c10 cx=6614 cy=2433 r=31 /><circle class=c8 cx=7431 cy=2244 r=31 /><circle class=c18 cx=6046 cy=3187 r=31 /><circle class=c9 cx=6760 cy=2332 r=31 /><circle class=c16 cx=8083 cy=2988 r=31 /><circle class=c42 cx=6735 cy=5353 r=31 /><circle class=c42 cx=6638 cy=5357 r=31 /><circle class=c8 cx=7026 cy=2209 r=31 /><circle class=c9 cx=7643 cy=2350 r=31 /><circle class=c41 cx=5770 cy=5251 r=31 /><circle class=c43 cx=7292 cy=5442 r=31 /><circle class=c10 cx=6548 cy=2483 r=31 /><circle class=c9 cx=7538 cy=2280 r=31 /><circle class=c11 cx=6488 cy=2538 r=31 /><circle class=c20 cx=8202 cy=3350 r=31 /><circle class=c32 cx=8316 cy=4410 r=31 /><circle class=c40 cx=5681 cy=5217 r=31 /><circle class=c23 cx=5863 cy=3593 r=31 /><circle class=c11 cx=7838 cy=2543 r=31 /><circle class=c12 cx=6381 cy=2658 r=31 /><circle class=c8 cx=6931 cy=2235 r=31 /><circle class=c7 cx=7225 cy=2183 r=31 /><circle class=c44 cx=7934 cy=5505 r=31 /><circle class=c24 cx=8281 cy=3755 r=31 /><circle class=c24 cx=5805 cy=3752 r=31 /><circle class=c41 cx=5997 cy=5257 r=31 /><circle class=c13 cx=7926 cy=2669 r=31 /><circle class=c12 cx=6432 cy=2595 r=31 /><circle class=c42 cx=6811 cy=5381 r=31 /><circle class=c33 cx=5592 cy=4569 r=31 /><circle class=c14 cx=6291 cy=2768 r=31 /><circle class=c39 cx=8327 cy=5075 r=31 /><circle class=c43 cx=7440 cy=5433 r=31 /><circle class=c9 cx=6685 cy=2358 r=31 /><circle class=c41 cx=5535 cy=5232 r=31 /><circle class=c10 cx=7740 cy=2426 r=31 /><circle class=c7 cx=7120 cy=2183 r=31 /><circle class=c14 cx=8012 cy=2804 r=31 /><circle class=c44 cx=7683 cy=5486 r=31 /><circle class=c8 cx=6844 cy=2260 r=31 /><circle class=c42 cx=6374 cy=5317 r=31 /><circle class=c8 cx=7433 cy=2216 r=31 /><circle class=c42 cx=7051 cy=5396 r=31 /><circle class=c43 cx=6970 cy=5404 r=31 /><circle class=c41 cx=6023 cy=5269 r=31 /><circle class=c10 cx=6613 cy=2407 r=31 /><circle class=c16 cx=6182 cy=2924 r=31 /><circle class=c42 cx=6514 cy=5337 r=31 /><circle class=c7 cx=7027 cy=2185 r=31 /><circle class=c9 cx=6759 cy=2308 r=31 /><circle class=c41 cx=5887 cy=5257 r=31 /><circle class=c18 cx=8147 cy=3140 r=31 /><circle class=c14 cx=6252 cy=2813 r=31 /><circle class=c20 cx=5964 cy=3334 r=31 /><circle class=c9 cx=7647 cy=2320 r=31 /><circle class=c7 cx=7325 cy=2185 r=31 /><circle class=c42 cx=6887 cy=5384 r=31 /><circle class=c40 cx=5612 cy=5210 r=31 /><circle class=c44 cx=7777 cy=5559 r=31 /><circle class=c13 cx=6334 cy=2694 r=31 /><circle class=c8 cx=7542 cy=2251 r=31 /><circle class=c10 cx=6548 cy=2457 r=31 /><circle class=c15 cx=6216 cy=2864 r=31 /><circle class=c8 cx=6931 cy=2211 r=31 /><circle class=c22 cx=8251 cy=3522 r=31 /><circle class=c16 cx=6122 cy=3016 r=31 /><circle class=c41 cx=6051 cy=5278 r=31 /><circle class=c16 cx=8090 cy=2948 r=31 /><circle class=c7 cx=7224 cy=2158 r=31 /><circle class=c42 cx=6345 cy=5312 r=31 /><circle class=c9 cx=6762 cy=2285 r=31 /><circle class=c43 cx=7200 cy=5442 r=31 /><circle class=c42 cx=6706 cy=5370 r=31 /><circle class=c7 cx=7122 cy=2159 r=31 /><circle class=c12 cx=7934 cy=2634 r=31 /><circle class=c26 cx=8303 cy=3940 r=31 /><circle class=c11 cx=7839 cy=2509 r=31 /><circle class=c11 cx=6487 cy=2509 r=31 /><circle class=c11 cx=6432 cy=2566 r=31 /><circle class=c12 cx=6381 cy=2626 r=31 /><circle class=c42 cx=6485 cy=5347 r=31 /><circle class=c8 cx=6844 cy=2237 r=31 /><circle class=c10 cx=7746 cy=2394 r=31 /><circle class=c41 cx=5706 cy=5237 r=31 /><circle class=c43 cx=7514 cy=5478 r=31 /><circle class=c41 cx=6108 cy=5304 r=31 /><circle class=c42 cx=6605 cy=5349 r=31 /><circle class=c41 cx=5799 cy=5248 r=31 /><circle class=c41 cx=6080 cy=5283 r=31 /><circle class=c42 cx=6315 cy=5310 r=31 /><circle class=c7 cx=7026 cy=2161 r=31 /><circle class=c41 cx=5915 cy=5267 r=31 /><circle class=c24 cx=5794 cy=3758 r=31 /><circle class=c42 cx=6286 cy=5319 r=31 /></g><g class=a10><circle class=c42 cx=6256 cy=5325 r=31 /><circle class=c36 cx=8334 cy=4814 r=31 /><circle class=c21 cx=5897 cy=3474 r=31 /><circle class=c9 cx=6682 cy=2333 r=31 /><circle class=c19 cx=8205 cy=3301 r=31 /><circle class=c9 cx=6612 cy=2382 r=31 /><circle class=c13 cx=6291 cy=2731 r=31 /><circle class=c41 cx=6137 cy=5306 r=31 /><circle class=c43 cx=7351 cy=5457 r=31 /><circle class=c14 cx=8014 cy=2765 r=31 /><circle class=c21 cx=5930 cy=3390 r=31 /><circle class=c33 cx=8347 cy=4586 r=31 /><circle class=c41 cx=5634 cy=5251 r=31 /><circle class=c7 cx=6930 cy=2187 r=31 /><circle class=c16 cx=6151 cy=2941 r=31 /><circle class=c32 cx=5613 cy=4443 r=31 /><circle class=c8 cx=7645 cy=2289 r=31 /><circle class=c17 cx=6096 cy=3040 r=31 /><circle class=c42 cx=6226 cy=5312 r=31 /><circle class=c41 cx=6167 cy=5303 r=31 /><circle class=c24 cx=8287 cy=3699 r=31 /><circle class=c19 cx=5985 cy=3260 r=31 /><circle class=c10 cx=6487 cy=2484 r=31 /><circle class=c37 cx=5538 cy=4880 r=31 /><circle class=c10 cx=7847 cy=2476 r=31 /><circle class=c41 cx=6197 cy=5304 r=31 /><circle class=c7 cx=7121 cy=2134 r=31 /><circle class=c10 cx=6546 cy=2431 r=31 /><circle class=c12 cx=7941 cy=2599 r=31 /><circle class=c8 cx=6760 cy=2262 r=31 /><circle class=c23 cx=5853 cy=3579 r=31 /><circle class=c28 cx=8311 cy=4129 r=31 /><circle class=c42 cx=6777 cy=5378 r=31 /><circle class=c9 cx=7751 cy=2363 r=31 /><circle class=c17 cx=8150 cy=3095 r=31 /><circle class=c42 cx=6454 cy=5344 r=31 /><circle class=c11 cx=6432 cy=2538 r=31 /><circle class=c43 cx=8219 cy=5422 r=31 /><circle class=c7 cx=6842 cy=2213 r=31 /><circle class=c41 cx=5944 cy=5276 r=31 /><circle class=c9 cx=6683 cy=2310 r=31 /><circle class=c42 cx=6575 cy=5362 r=31 /><circle class=c43 cx=7105 cy=5421 r=31 /><circle class=c41 cx=5827 cy=5267 r=31 /><circle class=c31 cx=8327 cy=4344 r=31 /><circle class=c42 cx=6857 cy=5407 r=31 /><circle class=c14 cx=6252 cy=2771 r=31 /><circle class=c17 cx=6071 cy=3072 r=31 /><circle class=c12 cx=6380 cy=2595 r=31 /><circle class=c45 cx=7957 cy=5666 r=31 /><circle class=c14 cx=6216 cy=2821 r=31 /><circle class=c15 cx=8089 cy=2906 r=31 /><circle class=c7 cx=7024 cy=2137 r=31 /><circle class=c44 cx=7845 cy=5567 r=31 /><circle class=c12 cx=6333 cy=2657 r=31 /><circle class=c9 cx=6612 cy=2358 r=31 /><circle class=c15 cx=6182 cy=2875 r=31 /><circle class=c44 cx=8094 cy=5554 r=31 /><circle class=c42 cx=6673 cy=5375 r=31 /><circle class=c7 cx=6931 cy=2164 r=31 /><circle class=c40 cx=5565 cy=5234 r=31 /><circle class=c21 cx=8255 cy=3471 r=31 /><circle class=c24 cx=5783 cy=3769 r=31 /><circle class=c41 cx=5734 cy=5250 r=31 /><circle class=c18 cx=6005 cy=3200 r=31 /><circle class=c42 cx=6936 cy=5414 r=31 /><circle class=c42 cx=7019 cy=5415 r=31 /><circle class=c42 cx=6422 cy=5349 r=31 /><circle class=c13 cx=8021 cy=2729 r=31 /><circle class=c18 cx=6026 cy=3153 r=31 /><circle class=c41 cx=5973 cy=5289 r=31 /><circle class=c17 cx=6048 cy=3108 r=31 /><circle class=c8 cx=6760 cy=2239 r=31 /><circle class=c10 cx=6546 cy=2406 r=31 /><circle class=c26 cx=8315 cy=3886 r=31 /><circle class=c7 cx=6843 cy=2191 r=31 /><circle class=c40 cx=8288 cy=5210 r=31 /><circle class=c19 cx=8213 cy=3256 r=31 /><circle class=c43 cx=7577 cy=5491 r=31 /><circle class=c31 cx=5631 cy=4336 r=31 /><circle class=c10 cx=7849 cy=2443 r=31 /><circle class=c41 cx=5855 cy=5288 r=31 /><circle class=c43 cx=7254 cy=5451 r=31 /><circle class=c13 cx=6291 cy=2694 r=31 /><circle class=c8 cx=6682 cy=2287 r=31 /><circle class=c28 cx=8351 cy=4097 r=31 /><circle class=c43 cx=7415 cy=5484 r=31 /><circle class=c41 cx=6002 cy=5307 r=31 /><circle class=c9 cx=7751 cy=2331 r=31 /><circle class=c9 cx=6612 cy=2335 r=31 /><circle class=c6 cx=7024 cy=2114 r=31 /><circle class=c42 cx=6543 cy=5366 r=31 /><circle class=c7 cx=6931 cy=2142 r=31 /><circle class=c10 cx=6485 cy=2456 r=31 /><circle class=c11 cx=7939 cy=2563 r=31 /><circle class=c14 cx=8102 cy=2869 r=31 /><circle class=c42 cx=6746 cy=5400 r=31 /><circle class=c24 cx=5771 cy=3790 r=31 /><circle class=c17 cx=8156 cy=3054 r=31 /><circle class=c23 cx=8301 cy=3652 r=31 /><circle class=c42 cx=6390 cy=5342 r=31 /><circle class=c41 cx=5665 cy=5258 r=31 /><circle class=c16 cx=6123 cy=2954 r=31 /><circle class=c10 cx=6430 cy=2508 r=31 /><circle class=c12 cx=6333 cy=2626 r=31 /><circle class=c7 cx=6843 cy=2169 r=31 /><circle class=c42 cx=6641 cy=5391 r=31 /><circle class=c19 cx=5950 cy=3302 r=31 /><circle class=c21 cx=5885 cy=3459 r=31 /><circle class=c13 cx=6252 cy=2735 r=31 /><circle class=c7 cx=6759 cy=2217 r=31 /><circle class=c42 cx=6358 cy=5351 r=31 /><circle class=c8 cx=6683 cy=2265 r=31 /><circle class=c9 cx=6545 cy=2382 r=31 /><circle class=c22 cx=5842 cy=3572 r=31 /><circle class=c43 cx=7164 cy=5458 r=31 /><circle class=c41 cx=5763 cy=5265 r=31 /><circle class=c41 cx=6033 cy=5304 r=31 /><circle class=c30 cx=8357 cy=4299 r=31 /><circle class=c37 cx=8320 cy=4966 r=31 /><circle class=c6 cx=6932 cy=2119 r=31 /><circle class=c11 cx=6379 cy=2563 r=31 /><circle class=c15 cx=6152 cy=2889 r=31 /><circle class=c21 cx=8268 cy=3426 r=31 /><circle class=c12 cx=8023 cy=2691 r=31 /><circle class=c9 cx=7853 cy=2410 r=31 /><circle class=c41 cx=5886 cy=5295 r=31 /><circle class=c30 cx=5650 cy=4238 r=31 /><circle class=c10 cx=6485 cy=2432 r=31 /><circle class=c20 cx=5917 cy=3368 r=31 /><circle class=c9 cx=6611 cy=2312 r=31 /><circle class=c25 cx=5759 cy=3814 r=31 /><circle class=c41 cx=6064 cy=5318 r=31 /><circle class=c40 cx=5506 cy=5163 r=31 /><circle class=c42 cx=6510 cy=5368 r=31 /><circle class=c16 cx=6097 cy=2980 r=31 /><circle class=c14 cx=6216 cy=2777 r=31 /><circle class=c14 cx=6182 cy=2829 r=31 /><circle class=c42 cx=6821 cy=5410 r=31 /><circle class=c42 cx=6325 cy=5343 r=31 /><circle class=c18 cx=8221 cy=3213 r=31 /><circle class=c11 cx=7945 cy=2528 r=31 /><circle class=c35 cx=8340 cy=4731 r=31 /><circle class=c8 cx=6683 cy=2243 r=31 /><circle class=c32 cx=8349 cy=4506 r=31 /><circle class=c25 cx=8332 cy=3837 r=31 /><circle class=c7 cx=6759 cy=2195 r=31 /><circle class=c43 cx=7645 cy=5515 r=31 /><circle class=c12 cx=6290 cy=2660 r=31 /><circle class=c34 cx=5564 cy=4693 r=31 /><circle class=c41 cx=6096 cy=5323 r=31 /><circle class=c43 cx=7072 cy=5447 r=31 /><circle class=c40 cx=5596 cy=5238 r=31 /><circle class=c7 cx=6841 cy=2147 r=31 /><circle class=c10 cx=6429 cy=2482 r=31 /><circle class=c43 cx=7317 cy=5487 r=31 /><circle class=c42 cx=6293 cy=5342 r=31 /><circle class=c16 cx=8164 cy=3013 r=31 /><circle class=c18 cx=5969 cy=3232 r=31 /><circle class=c14 cx=8104 cy=2829 r=31 /><circle class=c9 cx=6545 cy=2359 r=31 /><circle class=c41 cx=6129 cy=5331 r=31 /><circle class=c43 cx=7480 cy=5513 r=31 /><circle class=c40 cx=5520 cy=5244 r=31 /><circle class=c42 cx=6607 cy=5399 r=31 /><circle class=c42 cx=6901 cy=5422 r=31 /><circle class=c41 cx=6161 cy=5339 r=31 /><circle class=c42 cx=6985 cy=5438 r=31 /><circle class=c28 cx=5666 cy=4154 r=31 /><circle class=c6 cx=6930 cy=2097 r=31 /><circle class=c42 cx=6476 cy=5379 r=31 /><circle class=c11 cx=6333 cy=2594 r=31 /><circle class=c41 cx=5917 cy=5305 r=31 /><circle class=c42 cx=6711 cy=5407 r=31 /><circle class=c11 cx=6379 cy=2535 r=31 /><circle class=c8 cx=6611 cy=2290 r=31 /><circle class=c41 cx=6227 cy=5339 r=31 /><circle class=c43 cx=8142 cy=5517 r=31 /><circle class=c12 cx=8029 cy=2655 r=31 /><circle class=c9 cx=6485 cy=2407 r=31 /><circle class=c25 cx=5750 cy=3834 r=31 /><circle class=c40 cx=5696 cy=5265 r=31 /><circle class=c16 cx=6073 cy=3006 r=31 /><circle class=c40 cx=5794 cy=5273 r=31 /><circle class=c22 cx=8307 cy=3599 r=31 /><circle class=c6 cx=6842 cy=2125 r=31 /><circle class=c42 cx=8246 cy=5350 r=31 /><circle class=c9 cx=7852 cy=2376 r=31 /><circle class=c7 cx=6759 cy=2174 r=31 /><circle class=c41 cx=6194 cy=5324 r=31 /><circle class=c12 cx=6251 cy=2697 r=31 /><circle class=c41 cx=6260 cy=5320 r=31 /><circle class=c15 cx=6124 cy=2904 r=31 /><circle class=c25 cx=5736 cy=3873 r=31 /><circle class=c9 cx=6545 cy=2337 r=31 /><circle class=c22 cx=5831 cy=3571 r=31 /><circle class=c28 cx=5683 cy=4076 r=31 /><circle class=c7 cx=6681 cy=2221 r=31 /><circle class=c17 cx=5988 cy=3170 r=31 /><circle class=c10 cx=7946 cy=2493 r=31 /><circle class=c17 cx=8234 cy=3172 r=31 /><circle class=c20 cx=8274 cy=3378 r=31 /><circle class=c26 cx=5709 cy=3966 r=31 /><circle class=c10 cx=6429 cy=2457 r=31 /><circle class=c26 cx=5723 cy=3915 r=31 /><circle class=c41 cx=5949 cy=5317 r=31 /><circle class=c39 cx=8316 cy=5145 r=31 /><circle class=c8 cx=6611 cy=2268 r=31 /><circle class=c16 cx=6050 cy=3037 r=31 /><circle class=c21 cx=5874 cy=3445 r=31 /><circle class=c27 cx=8343 cy=4022 r=31 /><circle class=c17 cx=6008 cy=3120 r=31 /><circle class=c16 cx=8174 cy=2974 r=31 /><circle class=c27 cx=5698 cy=4011 r=31 /><circle class=c42 cx=6786 cy=5427 r=31 /><circle class=c34 cx=8390 cy=4704 r=31 /><circle class=c41 cx=5824 cy=5303 r=31 /><circle class=c42 cx=6572 cy=5402 r=31 /><circle class=c42 cx=6441 cy=5367 r=31 /><circle class=c17 cx=6029 cy=3075 r=31 /><circle class=c14 cx=6152 cy=2840 r=31 /><circle class=c6 cx=6842 cy=2104 r=31 /><circle class=c10 cx=6378 cy=2508 r=31 /><circle class=c7 cx=6759 cy=2153 r=31 /><circle class=c19 cx=5936 cy=3281 r=31 /><circle class=c13 cx=6216 cy=2737 r=31 /><circle class=c12 cx=6290 cy=2626 r=31 /><circle class=c43 cx=7217 cy=5472 r=31 /><circle class=c9 cx=6484 cy=2383 r=31 /><circle class=c13 cx=8104 cy=2789 r=31 /><circle class=c40 cx=5626 cy=5261 r=31 /><circle class=c11 cx=6332 cy=2564 r=31 /><circle class=c12 cx=8033 cy=2619 r=31 /><circle class=c7 cx=6681 cy=2200 r=31 /><circle class=c13 cx=6183 cy=2784 r=31 /><circle class=c8 cx=6545 cy=2314 r=31 /><circle class=c42 cx=6675 cy=5415 r=31 /><circle class=c29 cx=8361 cy=4230 r=31 /><circle class=c43 cx=7129 cy=5487 r=31 /><circle class=c24 cx=8340 cy=3783 r=31 /><circle class=c45 cx=8091 cy=5666 r=31 /><circle class=c40 cx=5549 cy=5272 r=31 /><circle class=c40 cx=5727 cy=5283 r=31 /><circle class=c33 cx=5585 cy=4540 r=31 /><circle class=c41 cx=5982 cy=5317 r=31 /><circle class=c19 cx=5905 cy=3348 r=31 /><circle class=c10 cx=7951 cy=2459 r=31 /><circle class=c43 cx=8218 cy=5528 r=31 /><circle class=c42 cx=6865 cy=5439 r=31 /><circle class=c6 cx=6759 cy=2132 r=31 /><circle class=c42 cx=6406 cy=5362 r=31 /><circle class=c43 cx=7541 cy=5525 r=31 /><circle class=c43 cx=7374 cy=5500 r=31 /><circle class=c12 cx=6251 cy=2663 r=31 /><circle class=c9 cx=6428 cy=2431 r=31 /><circle class=c22 cx=8320 cy=3553 r=31 /><circle class=c15 cx=6098 cy=2922 r=31 /><circle class=c44 cx=7810 cy=5614 r=31 /><circle class=c7 cx=6609 cy=2247 r=31 /><circle class=c43 cx=7698 cy=5501 r=31 /><circle class=c42 cx=6371 cy=5382 r=31 /><circle class=c5 cx=6840 cy=2084 r=31 /><circle class=c41 cx=6016 cy=5332 r=31 /><circle class=c43 cx=7958 cy=5537 r=31 /><circle class=c10 cx=6378 cy=2483 r=31 /><circle class=c9 cx=6484 cy=2361 r=31 /><circle class=c22 cx=5821 cy=3572 r=31 /><circle class=c41 cx=5857 cy=5312 r=31 /><circle class=c37 cx=5530 cy=4939 r=31 /><circle class=c36 cx=8328 cy=4881 r=31 /><circle class=c7 cx=6681 cy=2180 r=31 /><circle class=c42 cx=7034 cy=5459 r=31 /><circle class=c41 cx=6049 cy=5351 r=31 /><circle class=c13 cx=8114 cy=2753 r=31 /><circle class=c15 cx=8178 cy=2933 r=31 /><circle class=c11 cx=6290 cy=2596 r=31 /><circle class=c19 cx=8277 cy=3330 r=31 /><circle class=c42 cx=6946 cy=5441 r=31 /><circle class=c8 cx=6544 cy=2293 r=31 /><circle class=c42 cx=6534 cy=5391 r=31 /><circle class=c17 cx=8232 cy=3125 r=31 /><circle class=c10 cx=6332 cy=2537 r=31 /><circle class=c11 cx=8039 cy=2584 r=31 /><circle class=c42 cx=6751 cy=5446 r=31 /><circle class=c41 cx=8301 cy=5326 r=31 /><circle class=c9 cx=7960 cy=2427 r=31 /><circle class=c31 cx=8343 cy=4419 r=31 /><circle class=c26 cx=8362 cy=3973 r=31 /><circle class=c18 cx=5955 cy=3205 r=31 /><circle class=c42 cx=6639 cy=5426 r=31 /><circle class=c12 cx=6216 cy=2700 r=31 /><circle class=c14 cx=6125 cy=2853 r=31 /><circle class=c20 cx=5863 cy=3436 r=31 /><circle class=c41 cx=6335 cy=5365 r=31 /><circle class=c6 cx=6757 cy=2112 r=31 /><circle class=c15 cx=6074 cy=2945 r=31 /><circle class=c7 cx=6608 cy=2226 r=31 /><circle class=c40 cx=5658 cy=5278 r=31 /><circle class=c8 cx=6484 cy=2339 r=31 /><circle class=c9 cx=6428 cy=2407 r=31 /><circle class=c6 cx=6681 cy=2160 r=31 /><circle class=c42 cx=6300 cy=5374 r=31 /><circle class=c42 cx=6191 cy=5385 r=31 /><circle class=c41 cx=6085 cy=5344 r=31 /><circle class=c13 cx=6153 cy=2796 r=31 /><circle class=c40 cx=5760 cy=5292 r=31 /><circle class=c13 cx=6183 cy=2745 r=31 /><circle class=c41 cx=6120 cy=5358 r=31 /><circle class=c41 cx=6155 cy=5371 r=31 /><circle class=c42 cx=6264 cy=5376 r=31 /><circle class=c42 cx=6498 cy=5402 r=31 /><circle class=c41 cx=5891 cy=5318 r=31 /><circle class=c7 cx=6543 cy=2272 r=31 /><circle class=c43 cx=7273 cy=5495 r=31 /><circle class=c45 cx=7894 cy=5662 r=31 /><circle class=c46 cx=8018 cy=5785 r=31 /><circle class=c23 cx=8351 cy=3732 r=31 /><circle class=c11 cx=6251 cy=2630 r=31 /><circle class=c10 cx=6377 cy=2457 r=31 /><circle class=c7 cx=6609 cy=2206 r=31 /><circle class=c22 cx=5810 cy=3580 r=31 /><circle class=c41 cx=6227 cy=5366 r=31 /><circle class=c31 cx=5607 cy=4399 r=31 /><circle class=c17 cx=5973 cy=3145 r=31 /><circle class=c15 cx=6052 cy=2975 r=31 /><circle class=c40 cx=5582 cy=5288 r=31 /><circle class=c5 cx=6757 cy=2092 r=31 /><circle class=c11 cx=6290 cy=2567 r=31 /><circle class=c38 cx=8344 cy=5084 r=31 /><circle class=c10 cx=6332 cy=2510 r=31 /><circle class=c10 cx=8045 cy=2549 r=31 /><circle class=c28 cx=8376 cy=4173 r=31 /><circle class=c21 cx=8328 cy=3504 r=31 /><circle class=c12 cx=8118 cy=2715 r=31 /><circle class=c14 cx=8186 cy=2894 r=31 /><circle class=c43 cx=7438 cy=5534 r=31 /><circle class=c6 cx=6681 cy=2140 r=31 /><circle class=c43 cx=7184 cy=5514 r=31 /><circle class=c43 cx=7607 cy=5550 r=31 /><circle class=c18 cx=5924 cy=3259 r=31 /><circle class=c16 cx=8242 cy=3084 r=31 /><circle class=c14 cx=6099 cy=2874 r=31 /><circle class=c19 cx=8288 cy=3287 r=31 /><circle class=c19 cx=5894 cy=3334 r=31 /><circle class=c9 cx=6427 cy=2385 r=31 /><circle class=c41 cx=5925 cy=5338 r=31 /><circle class=c41 cx=5687 cy=5320 r=31 /><circle class=c43 cx=8282 cy=5516 r=31 /><circle class=c42 cx=6825 cy=5439 r=31 /><circle class=c8 cx=6483 cy=2317 r=31 /><circle class=c16 cx=6031 cy=3007 r=31 /><circle class=c41 cx=5793 cy=5319 r=31 /><circle class=c40 cx=5506 cy=5284 r=31 /><circle class=c16 cx=5992 cy=3090 r=31 /><circle class=c12 cx=6216 cy=2667 r=31 /><circle class=c9 cx=6377 cy=2434 r=31 /><circle class=c16 cx=6011 cy=3045 r=31 /><circle class=c5 cx=6757 cy=2073 r=31 /><circle class=c42 cx=6460 cy=5393 r=31 /><circle class=c42 cx=6599 cy=5418 r=31 /><circle class=c7 cx=6542 cy=2251 r=31 /><circle class=c7 cx=6608 cy=2186 r=31 /><circle class=c6 cx=6681 cy=2121 r=31 /><circle class=c42 cx=6908 cy=5461 r=31 /><circle class=c22 cx=5799 cy=3593 r=31 /><circle class=c42 cx=6996 cy=5482 r=31 /><circle class=c42 cx=7085 cy=5488 r=31 /><circle class=c30 cx=8372 cy=4374 r=31 /><circle class=c33 cx=8377 cy=4604 r=31 /><circle class=c11 cx=6251 cy=2600 r=31 /><circle class=c42 cx=6708 cy=5428 r=31 /><circle class=c40 cx=8359 cy=5305 r=31 /><circle class=c25 cx=8374 cy=3919 r=31 /><circle class=c41 cx=5961 cy=5348 r=31 /><circle class=c42 cx=6423 cy=5412 r=31 /><circle class=c20 cx=5853 cy=3430 r=31 /><circle class=c9 cx=6427 cy=2363 r=31 /><circle class=c12 cx=6183 cy=2708 r=31 /><circle class=c8 cx=6483 cy=2297 r=31 /><circle class=c10 cx=6331 cy=2484 r=31 /><circle class=c13 cx=6125 cy=2808 r=31 /><circle class=c29 cx=5625 cy=4284 r=31 /><circle class=c44 cx=8130 cy=5614 r=31 /><circle class=c34 cx=5554 cy=4740 r=31 /><circle class=c35 cx=8351 cy=4819 r=31 /><circle class=c12 cx=8124 cy=2679 r=31 /><circle class=c7 cx=6543 cy=2232 r=31 /><circle class=c10 cx=6289 cy=2538 r=31 /><circle class=c13 cx=6153 cy=2754 r=31 /><circle class=c10 cx=8043 cy=2512 r=31 /><circle class=c14 cx=8190 cy=2855 r=31 /><circle class=c16 cx=8250 cy=3044 r=31 /><circle class=c14 cx=6076 cy=2892 r=31 /><circle class=c17 cx=5941 cy=3185 r=31 /><circle class=c18 cx=8301 cy=3245 r=31 /><circle class=c23 cx=8358 cy=3679 r=31 /><circle class=c6 cx=6607 cy=2167 r=31 /><circle class=c41 cx=5828 cy=5330 r=31 /><circle class=c9 cx=6377 cy=2410 r=31 /><circle class=c41 cx=5998 cy=5359 r=31 /><circle class=c40 cx=5616 cy=5307 r=31 /><circle class=c42 cx=6561 cy=5427 r=31 /><circle class=c20 cx=8334 cy=3455 r=31 /><circle class=c43 cx=7330 cy=5516 r=31 /><circle class=c5 cx=6678 cy=2102 r=31 /><circle class=c42 cx=6384 cy=5403 r=31 /><circle class=c41 cx=5723 cy=5330 r=31 /><circle class=c42 cx=6787 cy=5462 r=31 /><circle class=c8 cx=6427 cy=2342 r=31 /><circle class=c22 cx=5790 cy=3604 r=31 /><circle class=c27 cx=8388 cy=4115 r=31 /><circle class=c42 cx=6671 cy=5451 r=31 /><circle class=c11 cx=6216 cy=2632 r=31 /><circle class=c7 cx=6481 cy=2276 r=31 /><circle class=c9 cx=6331 cy=2459 r=31 /><circle class=c37 cx=8386 cy=5044 r=31 /></g><g class=a11><circle class=c19 cx=5883 cy=3323 r=31 /><circle class=c7 cx=6541 cy=2212 r=31 /><circle class=c42 cx=6346 cy=5405 r=31 /><circle class=c43 cx=7667 cy=5556 r=31 /><circle class=c13 cx=6100 cy=2825 r=31 /><circle class=c18 cx=5912 cy=3244 r=31 /><circle class=c10 cx=6251 cy=2569 r=31 /><circle class=c28 cx=5644 cy=4175 r=31 /><circle class=c30 cx=8413 cy=4341 r=31 /><circle class=c14 cx=6054 cy=2917 r=31 /><circle class=c43 cx=7494 cy=5540 r=31 /><circle class=c10 cx=8049 cy=2478 r=31 /><circle class=c10 cx=6289 cy=2512 r=31 /><circle class=c41 cx=6036 cy=5354 r=31 /><circle class=c42 cx=8347 cy=5506 r=31 /><circle class=c5 cx=6678 cy=2083 r=31 /><circle class=c6 cx=6606 cy=2148 r=31 /><circle class=c43 cx=7236 cy=5530 r=31 /><circle class=c12 cx=6183 cy=2673 r=31 /><circle class=c11 cx=8125 cy=2641 r=31 /><circle class=c42 cx=6522 cy=5440 r=31 /><circle class=c20 cx=5842 cy=3429 r=31 /><circle class=c40 cx=5543 cy=5293 r=31 /><circle class=c41 cx=6306 cy=5405 r=31 /><circle class=c42 cx=6869 cy=5482 r=31 /><circle class=c13 cx=8195 cy=2816 r=31 /><circle class=c9 cx=6376 cy=2387 r=31 /><circle class=c7 cx=6482 cy=2257 r=31 /><circle class=c16 cx=5960 cy=3118 r=31 /><circle class=c40 cx=5866 cy=5335 r=31 /><circle class=c42 cx=6267 cy=5410 r=31 /><circle class=c22 cx=5778 cy=3628 r=31 /><circle class=c12 cx=6154 cy=2717 r=31 /><circle class=c8 cx=6426 cy=2321 r=31 /><circle class=c41 cx=6073 cy=5359 r=31 /><circle class=c12 cx=6126 cy=2766 r=31 /><circle class=c6 cx=6541 cy=2193 r=31 /><circle class=c24 cx=8384 cy=3866 r=31 /><circle class=c15 cx=8253 cy=3001 r=31 /><circle class=c6 cx=6607 cy=2130 r=31 /><circle class=c41 cx=6228 cy=5402 r=31 /><circle class=c44 cx=8206 cy=5627 r=31 /><circle class=c41 cx=6111 cy=5374 r=31 /><circle class=c41 cx=6150 cy=5389 r=31 /><circle class=c14 cx=6033 cy=2946 r=31 /><circle class=c5 cx=6679 cy=2064 r=31 /><circle class=c16 cx=5977 cy=3068 r=31 /><circle class=c32 cx=5574 cy=4572 r=31 /><circle class=c37 cx=5525 cy=5046 r=31 /><circle class=c42 cx=6749 cy=5491 r=31 /><circle class=c41 cx=6189 cy=5392 r=31 /><circle class=c40 cx=5651 cy=5331 r=31 /><circle class=c11 cx=6216 cy=2603 r=31 /><circle class=c42 cx=7137 cy=5518 r=31 /><circle class=c27 cx=5660 cy=4084 r=31 /><circle class=c9 cx=6330 cy=2435 r=31 /><circle class=c40 cx=5760 cy=5341 r=31 /><circle class=c42 cx=6631 cy=5466 r=31 /><circle class=c41 cx=5901 cy=5366 r=31 /><circle class=c17 cx=8300 cy=3197 r=31 /><circle class=c42 cx=6952 cy=5485 r=31 /><circle class=c34 cx=8382 cy=4770 r=31 /><circle class=c19 cx=8339 cy=3407 r=31 /><circle class=c15 cx=6014 cy=2979 r=31 /><circle class=c10 cx=6251 cy=2542 r=31 /><circle class=c22 cx=8362 cy=3625 r=31 /><circle class=c9 cx=6289 cy=2486 r=31 /><circle class=c42 cx=7042 cy=5499 r=31 /><circle class=c8 cx=6376 cy=2366 r=31 /><circle class=c7 cx=6481 cy=2238 r=31 /><circle class=c32 cx=8386 cy=4532 r=31 /><circle class=c11 cx=8133 cy=2606 r=31 /><circle class=c15 cx=5996 cy=3018 r=31 /><circle class=c22 cx=5768 cy=3649 r=31 /><circle class=c7 cx=6426 cy=2301 r=31 /><circle class=c6 cx=6541 cy=2175 r=31 /><circle class=c5 cx=6606 cy=2111 r=31 /><circle class=c42 cx=6480 cy=5428 r=31 /><circle class=c43 cx=7392 cy=5551 r=31 /><circle class=c13 cx=6077 cy=2841 r=31 /><circle class=c13 cx=8203 cy=2778 r=31 /><circle class=c11 cx=6184 cy=2640 r=31 /><circle class=c17 cx=5929 cy=3167 r=31 /><circle class=c44 cx=8316 cy=5697 r=31 /><circle class=c26 cx=5677 cy=3999 r=31 /><circle class=c20 cx=5832 cy=3432 r=31 /><circle class=c43 cx=7738 cy=5588 r=31 /><circle class=c26 cx=8403 cy=4062 r=31 /><circle class=c9 cx=6330 cy=2413 r=31 /><circle class=c13 cx=6101 cy=2782 r=31 /><circle class=c23 cx=5757 cy=3680 r=31 /><circle class=c18 cx=5873 cy=3313 r=31 /><circle class=c43 cx=7561 cy=5574 r=31 /><circle class=c44 cx=8021 cy=5660 r=31 /><circle class=c6 cx=6541 cy=2157 r=31 /><circle class=c40 cx=5577 cy=5322 r=31 /><circle class=c15 cx=8259 cy=2961 r=31 /><circle class=c5 cx=6606 cy=2093 r=31 /><circle class=c23 cx=5743 cy=3721 r=31 /><circle class=c7 cx=6426 cy=2281 r=31 /><circle class=c41 cx=5941 cy=5363 r=31 /><circle class=c8 cx=6376 cy=2345 r=31 /><circle class=c42 cx=6589 cy=5474 r=31 /><circle class=c41 cx=5798 cy=5357 r=31 /><circle class=c43 cx=7296 cy=5571 r=31 /><circle class=c9 cx=6289 cy=2462 r=31 /><circle class=c17 cx=5900 cy=3230 r=31 /><circle class=c7 cx=6480 cy=2219 r=31 /><circle class=c25 cx=5693 cy=3923 r=31 /><circle class=c10 cx=6216 cy=2573 r=31 /><circle class=c12 cx=6127 cy=2727 r=31 /><circle class=c12 cx=6154 cy=2679 r=31 /><circle class=c42 cx=6826 cy=5490 r=31 /><circle class=c17 cx=8311 cy=3157 r=31 /><circle class=c10 cx=6251 cy=2515 r=31 /><circle class=c41 cx=6438 cy=5421 r=31 /><circle class=c24 cx=5706 cy=3862 r=31 /><circle class=c14 cx=6056 cy=2863 r=31 /><circle class=c41 cx=5979 cy=5388 r=31 /><circle class=c24 cx=5719 cy=3807 r=31 /><circle class=c9 cx=6330 cy=2392 r=31 /><circle class=c23 cx=5733 cy=3756 r=31 /><circle class=c10 cx=8134 cy=2569 r=31 /><circle class=c39 cx=8354 cy=5194 r=31 /><circle class=c5 cx=6607 cy=2076 r=31 /><circle class=c29 cx=8412 cy=4267 r=31 /><circle class=c24 cx=8387 cy=3807 r=31 /><circle class=c19 cx=8346 cy=3361 r=31 /><circle class=c42 cx=6398 cy=5436 r=31 /><circle class=c40 cx=5692 cy=5330 r=31 /><circle class=c42 cx=6703 cy=5477 r=31 /><circle class=c21 cx=8375 cy=3580 r=31 /><circle class=c12 cx=8208 cy=2741 r=31 /><circle class=c5 cx=6540 cy=2139 r=31 /><circle class=c30 cx=5598 cy=4409 r=31 /><circle class=c11 cx=6184 cy=2609 r=31 /><circle class=c16 cx=5947 cy=3099 r=31 /><circle class=c8 cx=6375 cy=2325 r=31 /><circle class=c7 cx=6425 cy=2262 r=31 /><circle class=c35 cx=5542 cy=4844 r=31 /><circle class=c44 cx=7828 cy=5656 r=31 /><circle class=c6 cx=6479 cy=2200 r=31 /><circle class=c43 cx=7192 cy=5552 r=31 /><circle class=c20 cx=5823 cy=3437 r=31 /><circle class=c42 cx=6356 cy=5441 r=31 /><circle class=c9 cx=6288 cy=2439 r=31 /><circle class=c14 cx=6036 cy=2889 r=31 /><circle class=c41 cx=6020 cy=5386 r=31 /><circle class=c13 cx=6078 cy=2798 r=31 /><circle class=c14 cx=8269 cy=2922 r=31 /><circle class=c41 cx=5838 cy=5369 r=31 /><circle class=c43 cx=7096 cy=5548 r=31 /><circle class=c18 cx=5861 cy=3313 r=31 /><circle class=c44 cx=8113 cy=5713 r=31 /><circle class=c10 cx=6216 cy=2546 r=31 /><circle class=c42 cx=7000 cy=5526 r=31 /><circle class=c42 cx=6906 cy=5487 r=31 /><circle class=c6 cx=6480 cy=2183 r=31 /><circle class=c43 cx=7454 cy=5581 r=31 /><circle class=c42 cx=6544 cy=5461 r=31 /><circle class=c16 cx=5964 cy=3044 r=31 /><circle class=c11 cx=6154 cy=2647 r=31 /><circle class=c5 cx=6605 cy=2059 r=31 /><circle class=c9 cx=6250 cy=2489 r=31 /><circle class=c40 cx=5614 cy=5348 r=31 /><circle class=c41 cx=6061 cy=5396 r=31 /><circle class=c8 cx=6330 cy=2369 r=31 /><circle class=c5 cx=6539 cy=2121 r=31 /><circle class=c14 cx=6017 cy=2920 r=31 /><circle class=c7 cx=6375 cy=2306 r=31 /><circle class=c31 cx=8400 cy=4469 r=31 /><circle class=c7 cx=6425 cy=2244 r=31 /><circle class=c12 cx=6102 cy=2740 r=31 /><circle class=c40 cx=5727 cy=5367 r=31 /><circle class=c10 cx=8137 cy=2533 r=31 /><circle class=c12 cx=6127 cy=2690 r=31 /><circle class=c41 cx=6271 cy=5436 r=31 /><circle class=c16 cx=8315 cy=3113 r=31 /><circle class=c14 cx=5998 cy=2956 r=31 /><circle class=c41 cx=6313 cy=5422 r=31 /><circle class=c15 cx=5981 cy=2996 r=31 /><circle class=c43 cx=7627 cy=5603 r=31 /><circle class=c12 cx=8216 cy=2704 r=31 /><circle class=c42 cx=6660 cy=5497 r=31 /><circle class=c41 cx=6102 cy=5404 r=31 /><circle class=c16 cx=5918 cy=3149 r=31 /><circle class=c41 cx=6228 cy=5433 r=31 /><circle class=c5 cx=6540 cy=2104 r=31 /><circle class=c42 cx=6781 cy=5500 r=31 /><circle class=c41 cx=6186 cy=5427 r=31 /><circle class=c26 cx=8404 cy=3998 r=31 /><circle class=c9 cx=6288 cy=2416 r=31 /><circle class=c17 cx=5890 cy=3219 r=31 /><circle class=c18 cx=8356 cy=3317 r=31 /><circle class=c41 cx=5878 cy=5381 r=31 /><circle class=c29 cx=5616 cy=4279 r=31 /><circle class=c41 cx=6144 cy=5407 r=31 /><circle class=c10 cx=6184 cy=2579 r=31 /><circle class=c20 cx=5813 cy=3446 r=31 /><circle class=c35 cx=8349 cy=4900 r=31 /><circle class=c6 cx=6479 cy=2165 r=31 /><circle class=c13 cx=6057 cy=2816 r=31 /><circle class=c6 cx=6424 cy=2225 r=31 /><circle class=c9 cx=6250 cy=2466 r=31 /><circle class=c8 cx=6329 cy=2349 r=31 /><circle class=c21 cx=8383 cy=3531 r=31 /><circle class=c10 cx=6216 cy=2519 r=31 /><circle class=c23 cx=8398 cy=3757 r=31 /><circle class=c14 cx=8275 cy=2883 r=31 /><circle class=c7 cx=6375 cy=2286 r=31 /><circle class=c33 cx=8365 cy=4664 r=31 /><circle class=c40 cx=5537 cy=5337 r=31 /><circle class=c41 cx=6499 cy=5450 r=31 /><circle class=c41 cx=5918 cy=5412 r=31 /><circle class=c39 cx=5524 cy=5207 r=31 /><circle class=c5 cx=6539 cy=2087 r=31 /><circle class=c10 cx=6155 cy=2615 r=31 /><circle class=c43 cx=7344 cy=5569 r=31 /><circle class=c8 cx=6288 cy=2395 r=31 /><circle class=c40 cx=5768 cy=5382 r=31 /><circle class=c40 cx=5652 cy=5375 r=31 /><circle class=c12 cx=6079 cy=2755 r=31 /><circle class=c13 cx=6037 cy=2841 r=31 /><circle class=c7 cx=6375 cy=2268 r=31 /><circle class=c5 cx=6478 cy=2148 r=31 /><circle class=c16 cx=8326 cy=3073 r=31 /><circle class=c11 cx=8222 cy=2667 r=31 /><circle class=c18 cx=5853 cy=3307 r=31 /><circle class=c16 cx=5935 cy=3082 r=31 /><circle class=c44 cx=7894 cy=5670 r=31 /><circle class=c6 cx=6424 cy=2208 r=31 /><circle class=c42 cx=6863 cy=5510 r=31 /><circle class=c20 cx=5802 cy=3461 r=31 /><circle class=c28 cx=8411 cy=4196 r=31 /><circle class=c10 cx=6184 cy=2552 r=31 /><circle class=c33 cx=5565 cy=4642 r=31 /><circle class=c11 cx=6128 cy=2656 r=31 /><circle class=c7 cx=6329 cy=2329 r=31 /><circle class=c5 cx=6539 cy=2071 r=31 /><circle class=c41 cx=6455 cy=5455 r=31 /><circle class=c42 cx=6613 cy=5488 r=31 /><circle class=c11 cx=6103 cy=2701 r=31 /><circle class=c27 cx=5635 cy=4159 r=31 /><circle class=c9 cx=6250 cy=2442 r=31 /><circle class=c43 cx=7242 cy=5570 r=31 /><circle class=c5 cx=6478 cy=2131 r=31 /><circle class=c17 cx=8364 cy=3273 r=31 /><circle class=c43 cx=7514 cy=5605 r=31 /><circle class=c9 cx=6216 cy=2493 r=31 /><circle class=c41 cx=5962 cy=5406 r=31 /><circle class=c40 cx=8287 cy=5303 r=31 /><circle class=c8 cx=6288 cy=2374 r=31 /><circle class=c13 cx=6019 cy=2867 r=31 /><circle class=c13 cx=8281 cy=2844 r=31 /><circle class=c42 cx=6951 cy=5526 r=31 /><circle class=c6 cx=6424 cy=2191 r=31 /><circle class=c16 cx=5907 cy=3138 r=31 /><circle class=c7 cx=6374 cy=2250 r=31 /><circle class=c17 cx=5880 cy=3212 r=31 /><circle class=c42 cx=6733 cy=5492 r=31 /><circle class=c15 cx=5951 cy=3024 r=31 /><circle class=c42 cx=6411 cy=5466 r=31 /><circle class=c42 cx=7142 cy=5563 r=31 /><circle class=c42 cx=7046 cy=5552 r=31 /><circle class=c7 cx=6329 cy=2311 r=31 /><circle class=c25 cx=8413 cy=3942 r=31 /><circle class=c43 cx=7690 cy=5622 r=31 /><circle class=c20 cx=5792 cy=3479 r=31 /><circle class=c4 cx=6538 cy=2055 r=31 /><circle class=c44 cx=8165 cy=5685 r=31 /><circle class=c22 cx=8411 cy=3709 r=31 /><circle class=c40 cx=5575 cy=5372 r=31 /><circle class=c12 cx=6058 cy=2773 r=31 /><circle class=c30 cx=8406 cy=4400 r=31 /><circle class=c10 cx=6155 cy=2585 r=31 /><circle class=c14 cx=5967 cy=2977 r=31 /><circle class=c14 cx=6001 cy=2898 r=31 /><circle class=c14 cx=5984 cy=2936 r=31 /><circle class=c5 cx=6478 cy=2115 r=31 /><circle class=c8 cx=6250 cy=2420 r=31 /><circle class=c41 cx=6005 cy=5416 r=31 /><circle class=c10 cx=8224 cy=2630 r=31 /><circle class=c40 cx=5812 cy=5383 r=31 /><circle class=c35 cx=8388 cy=4861 r=31 /><circle class=c18 cx=5843 cy=3311 r=31 /><circle class=c41 cx=6366 cy=5467 r=31 /><circle class=c9 cx=6184 cy=2525 r=31 /><circle class=c26 cx=5652 cy=4054 r=31 /><circle class=c42 cx=6568 cy=5497 r=31 /><circle class=c10 cx=6128 cy=2624 r=31 /><circle class=c36 cx=5534 cy=4995 r=31 /><circle class=c9 cx=6216 cy=2470 r=31 /><circle class=c5 cx=6423 cy=2174 r=31 /><circle class=c15 cx=8326 cy=3029 r=31 /><circle class=c6 cx=6374 cy=2233 r=31 /><circle class=c37 cx=8332 cy=5064 r=31 /><circle class=c12 cx=6080 cy=2716 r=31 /><circle class=c42 cx=6321 cy=5474 r=31 /><circle class=c11 cx=6104 cy=2667 r=31 /><circle class=c40 cx=5697 cy=5374 r=31 /><circle class=c7 cx=6288 cy=2354 r=31 /><circle class=c41 cx=6049 cy=5424 r=31 /><circle class=c7 cx=6329 cy=2292 r=31 /><circle class=c42 cx=6818 cy=5529 r=31 /><circle class=c20 cx=5783 cy=3499 r=31 /><circle class=c42 cx=8276 cy=5513 r=31 /><circle class=c12 cx=8290 cy=2806 r=31 /><circle class=c5 cx=6477 cy=2099 r=31 /><circle class=c30 cx=5586 cy=4470 r=31 /><circle class=c15 cx=5923 cy=3070 r=31 /><circle class=c41 cx=6138 cy=5458 r=31 /><circle class=c41 cx=5853 cy=5415 r=31 /><circle class=c42 cx=6689 cy=5515 r=31 /><circle class=c12 cx=6039 cy=2794 r=31 /><circle class=c5 cx=6423 cy=2158 r=31 /><circle class=c27 cx=8427 cy=4143 r=31 /><circle class=c25 cx=5668 cy=3963 r=31 /><circle class=c32 cx=8375 cy=4594 r=31 /><circle class=c41 cx=6093 cy=5431 r=31 /><circle class=c41 cx=6275 cy=5460 r=31 /><circle class=c43 cx=7400 cy=5591 r=31 /><circle class=c17 cx=8365 cy=3226 r=31 /><circle class=c44 cx=7782 cy=5702 r=31 /><circle class=c8 cx=6250 cy=2399 r=31 /><circle class=c41 cx=6229 cy=5459 r=31 /><circle class=c10 cx=6156 cy=2557 r=31 /><circle class=c6 cx=6374 cy=2216 r=31 /><circle class=c41 cx=6183 cy=5451 r=31 /><circle class=c20 cx=5772 cy=3527 r=31 /><circle class=c17 cx=5870 cy=3207 r=31 /><circle class=c9 cx=6184 cy=2500 r=31 /><circle class=c5 cx=6477 cy=2083 r=31 /><circle class=c7 cx=6287 cy=2334 r=31 /><circle class=c9 cx=6216 cy=2447 r=31 /><circle class=c42 cx=6520 cy=5493 r=31 /><circle class=c10 cx=8228 cy=2593 r=31 /><circle class=c16 cx=5896 cy=3131 r=31 /><circle class=c18 cx=5833 cy=3317 r=31 /><circle class=c7 cx=6328 cy=2274 r=31 /><circle class=c43 cx=7580 cy=5640 r=31 /><circle class=c24 cx=8429 cy=3894 r=31 /><circle class=c12 cx=6021 cy=2819 r=31 /><circle class=c43 cx=7299 cy=5607 r=31 /><circle class=c42 cx=6904 cy=5545 r=31 /><circle class=c12 cx=6060 cy=2733 r=31 /><circle class=c22 cx=8421 cy=3660 r=31 /><circle class=c5 cx=6423 cy=2142 r=31 /><circle class=c14 cx=8334 cy=2989 r=31 /><circle class=c10 cx=6129 cy=2593 r=31 /><circle class=c41 cx=5897 cy=5430 r=31 /><circle class=c24 cx=5686 cy=3875 r=31 /><circle class=c8 cx=6250 cy=2379 r=31 /><circle class=c40 cx=5739 cy=5399 r=31 /><circle class=c4 cx=6478 cy=2068 r=31 /><circle class=c21 cx=5762 cy=3556 r=31 /><circle class=c14 cx=5940 cy=3009 r=31 /><circle class=c42 cx=6475 cy=5518 r=31 /><circle class=c40 cx=5620 cy=5377 r=31 /><circle class=c13 cx=6003 cy=2849 r=31 /><circle class=c11 cx=6081 cy=2680 r=31 /><circle class=c21 cx=5749 cy=3598 r=31 /><circle class=c6 cx=6373 cy=2199 r=31 /><circle class=c42 cx=6998 cy=5571 r=31 /><circle class=c29 cx=8424 cy=4345 r=31 /><circle class=c23 cx=5699 cy=3806 r=31 /><circle class=c10 cx=6105 cy=2633 r=31 /><circle class=c6 cx=6328 cy=2257 r=31 /><circle class=c44 cx=8235 cy=5692 r=31 /><circle class=c12 cx=8289 cy=2766 r=31 /><circle class=c8 cx=6216 cy=2426 r=31 /><circle class=c42 cx=6641 cy=5524 r=31 /><circle class=c21 cx=5737 cy=3641 r=31 /><circle class=c9 cx=6156 cy=2531 r=31 /><circle class=c7 cx=6287 cy=2316 r=31 /><circle class=c14 cx=5955 cy=2961 r=31 /><circle class=c5 cx=6423 cy=2126 r=31 /><circle class=c42 cx=7094 cy=5585 r=31 /><circle class=c42 cx=6769 cy=5541 r=31 /><circle class=c42 cx=7192 cy=5586 r=31 /><circle class=c22 cx=5725 cy=3688 r=31 /><circle class=c9 cx=6185 cy=2476 r=31 /><circle class=c23 cx=5713 cy=3740 r=31 /><circle class=c39 cx=8316 cy=5243 r=31 /><circle class=c5 cx=6373 cy=2183 r=31 /><circle class=c16 cx=8377 cy=3186 r=31 /><circle class=c29 cx=5605 cy=4318 r=31 /><circle class=c14 cx=5971 cy=2917 r=31 /><circle class=c13 cx=5987 cy=2878 r=31 /><circle class=c33 cx=5555 cy=4771 r=31 /><circle class=c17 cx=5860 cy=3210 r=31 /><circle class=c36 cx=8375 cy=5029 r=31 /><circle class=c4 cx=6476 cy=2053 r=31 /><circle class=c41 cx=5943 cy=5433 r=31 /><circle class=c41 cx=5781 cy=5436 r=31 /><circle class=c12 cx=6041 cy=2751 r=31 /><circle class=c15 cx=5912 cy=3060 r=31 /><circle class=c31 cx=8415 cy=4560 r=31 /><circle class=c18 cx=5825 cy=3323 r=31 /><circle class=c42 cx=6426 cy=5509 r=31 /><circle class=c6 cx=6328 cy=2240 r=31 /><circle class=c7 cx=6287 cy=2298 r=31 /><circle class=c7 cx=6250 cy=2359 r=31 /><circle class=c43 cx=7469 cy=5649 r=31 /><circle class=c14 cx=8347 cy=2952 r=31 /><circle class=c40 cx=5540 cy=5376 r=31 /></g><g class=a12><circle class=c5 cx=6422 cy=2111 r=31 /><circle class=c10 cx=6130 cy=2564 r=31 /><circle class=c16 cx=5886 cy=3125 r=31 /><circle class=c8 cx=6216 cy=2405 r=31 /><circle class=c33 cx=8392 cy=4778 r=31 /><circle class=c26 cx=8432 cy=4081 r=31 /><circle class=c9 cx=6156 cy=2506 r=31 /><circle class=c5 cx=6373 cy=2167 r=31 /><circle class=c40 cx=5662 cy=5408 r=31 /><circle class=c11 cx=8301 cy=2730 r=31 /><circle class=c9 cx=6185 cy=2453 r=31 /><circle class=c11 cx=6061 cy=2694 r=31 /><circle class=c42 cx=7893 cy=5543 r=31 /><circle class=c10 cx=6105 cy=2603 r=31 /><circle class=c6 cx=6328 cy=2224 r=31 /><circle class=c41 cx=5990 cy=5442 r=31 /><circle class=c21 cx=8428 cy=3610 r=31 /><circle class=c12 cx=6022 cy=2775 r=31 /><circle class=c41 cx=8317 cy=5469 r=31 /><circle class=c42 cx=6855 cy=5561 r=31 /><circle class=c10 cx=6083 cy=2646 r=31 /><circle class=c23 cx=8436 cy=3839 r=31 /><circle class=c7 cx=6250 cy=2340 r=31 /><circle class=c41 cx=6376 cy=5493 r=31 /><circle class=c44 cx=7841 cy=5707 r=31 /><circle class=c7 cx=6287 cy=2280 r=31 /><circle class=c42 cx=6590 cy=5512 r=31 /><circle class=c14 cx=5928 cy=3000 r=31 /><circle class=c18 cx=5815 cy=3336 r=31 /><circle class=c4 cx=6421 cy=2096 r=31 /><circle class=c27 cx=5624 cy=4182 r=31 /><circle class=c41 cx=6036 cy=5458 r=31 /><circle class=c38 cx=5533 cy=5193 r=31 /><circle class=c5 cx=6372 cy=2152 r=31 /><circle class=c16 cx=8382 cy=3142 r=31 /><circle class=c41 cx=5828 cy=5444 r=31 /><circle class=c9 cx=6130 cy=2539 r=31 /><circle class=c7 cx=6216 cy=2384 r=31 /><circle class=c43 cx=7638 cy=5653 r=31 /><circle class=c42 cx=6718 cy=5538 r=31 /><circle class=c12 cx=6005 cy=2801 r=31 /><circle class=c45 cx=8160 cy=5825 r=31 /><circle class=c4 cx=6422 cy=2081 r=31 /><circle class=c43 cx=7354 cy=5633 r=31 /><circle class=c41 cx=6084 cy=5470 r=31 /><circle class=c6 cx=6287 cy=2264 r=31 /><circle class=c16 cx=5852 cy=3209 r=31 /><circle class=c41 cx=6327 cy=5484 r=31 /><circle class=c41 cx=6132 cy=5488 r=31 /><circle class=c8 cx=6185 cy=2431 r=31 /><circle class=c41 cx=6279 cy=5494 r=31 /><circle class=c9 cx=6156 cy=2482 r=31 /><circle class=c5 cx=6327 cy=2207 r=31 /><circle class=c11 cx=6042 cy=2713 r=31 /><circle class=c13 cx=8348 cy=2910 r=31 /><circle class=c5 cx=6372 cy=2137 r=31 /><circle class=c14 cx=5943 cy=2946 r=31 /><circle class=c31 cx=5573 cy=4580 r=31 /><circle class=c28 cx=8430 cy=4280 r=31 /><circle class=c7 cx=6250 cy=2322 r=31 /><circle class=c42 cx=6944 cy=5574 r=31 /><circle class=c18 cx=5804 cy=3357 r=31 /><circle class=c43 cx=7995 cy=5627 r=31 /><circle class=c11 cx=8309 cy=2694 r=31 /><circle class=c42 cx=6541 cy=5532 r=31 /><circle class=c40 cx=5582 cy=5410 r=31 /><circle class=c41 cx=6181 cy=5482 r=31 /><circle class=c10 cx=6106 cy=2575 r=31 /><circle class=c13 cx=5958 cy=2904 r=31 /><circle class=c12 cx=5989 cy=2829 r=31 /><circle class=c15 cx=5902 cy=3051 r=31 /><circle class=c41 cx=6229 cy=5480 r=31 /><circle class=c13 cx=5973 cy=2865 r=31 /><circle class=c10 cx=6062 cy=2661 r=31 /><circle class=c40 cx=5707 cy=5432 r=31 /><circle class=c7 cx=6216 cy=2366 r=31 /><circle class=c10 cx=6083 cy=2615 r=31 /><circle class=c42 cx=7042 cy=5601 r=31 /><circle class=c16 cx=5878 cy=3119 r=31 /><circle class=c4 cx=6421 cy=2066 r=31 /><circle class=c5 cx=6327 cy=2192 r=31 /><circle class=c9 cx=6130 cy=2515 r=31 /><circle class=c26 cx=5644 cy=4059 r=31 /><circle class=c7 cx=6250 cy=2305 r=31 /><circle class=c42 cx=7240 cy=5606 r=31 /><circle class=c25 cx=8447 cy=4030 r=31 /><circle class=c40 cx=5877 cy=5444 r=31 /><circle class=c5 cx=6372 cy=2122 r=31 /><circle class=c11 cx=6024 cy=2734 r=31 /><circle class=c42 cx=7138 cy=5600 r=31 /><circle class=c6 cx=6286 cy=2247 r=31 /><circle class=c20 cx=8432 cy=3559 r=31 /><circle class=c23 cx=8450 cy=3792 r=31 /><circle class=c42 cx=6804 cy=5575 r=31 /><circle class=c18 cx=5795 cy=3375 r=31 /><circle class=c43 cx=7528 cy=5674 r=31 /><circle class=c15 cx=8388 cy=3100 r=31 /><circle class=c42 cx=6668 cy=5552 r=31 /><circle class=c8 cx=6157 cy=2459 r=31 /><circle class=c4 cx=6420 cy=2052 r=31 /><circle class=c8 cx=6185 cy=2409 r=31 /><circle class=c16 cx=5843 cy=3214 r=31 /><circle class=c13 cx=8362 cy=2874 r=31 /><circle class=c41 cx=6490 cy=5525 r=31 /><circle class=c5 cx=6327 cy=2177 r=31 /><circle class=c6 cx=6287 cy=2231 r=31 /><circle class=c14 cx=5918 cy=2989 r=31 /><circle class=c9 cx=6106 cy=2548 r=31 /><circle class=c33 cx=8409 cy=4716 r=31 /><circle class=c7 cx=6216 cy=2346 r=31 /><circle class=c6 cx=6250 cy=2287 r=31 /><circle class=c24 cx=5659 cy=3958 r=31 /><circle class=c10 cx=6043 cy=2677 r=31 /><circle class=c4 cx=6371 cy=2108 r=31 /><circle class=c30 cx=8402 cy=4469 r=31 /><circle class=c10 cx=8307 cy=2655 r=31 /><circle class=c43 cx=7715 cy=5710 r=31 /><circle class=c41 cx=5925 cy=5460 r=31 /><circle class=c37 cx=8315 cy=5143 r=31 /><circle class=c10 cx=6084 cy=2586 r=31 /><circle class=c35 cx=5549 cy=4945 r=31 /><circle class=c11 cx=6008 cy=2756 r=31 /><circle class=c5 cx=6327 cy=2162 r=31 /><circle class=c18 cx=5786 cy=3397 r=31 /><circle class=c10 cx=6063 cy=2628 r=31 /><circle class=c7 cx=6185 cy=2390 r=31 /><circle class=c40 cx=5629 cy=5433 r=31 /><circle class=c40 cx=5757 cy=5435 r=31 /><circle class=c29 cx=5593 cy=4402 r=31 /><circle class=c9 cx=6131 cy=2489 r=31 /><circle class=c5 cx=6286 cy=2216 r=31 /><circle class=c41 cx=6439 cy=5527 r=31 /><circle class=c13 cx=5932 cy=2936 r=31 /><circle class=c15 cx=5869 cy=3118 r=31 /><circle class=c14 cx=5893 cy=3045 r=31 /><circle class=c35 cx=8357 cy=4913 r=31 /><circle class=c4 cx=6371 cy=2093 r=31 /><circle class=c42 cx=6893 cy=5595 r=31 /><circle class=c43 cx=7896 cy=5700 r=31 /><circle class=c8 cx=6157 cy=2437 r=31 /><circle class=c41 cx=5973 cy=5486 r=31 /><circle class=c7 cx=6216 cy=2328 r=31 /><circle class=c6 cx=6250 cy=2271 r=31 /><circle class=c23 cx=5675 cy=3864 r=31 /><circle class=c12 cx=5992 cy=2783 r=31 /><circle class=c27 cx=8445 cy=4225 r=31 /><circle class=c5 cx=6327 cy=2147 r=31 /><circle class=c42 cx=6616 cy=5562 r=31 /><circle class=c19 cx=5775 cy=3426 r=31 /><circle class=c15 cx=8403 cy=3062 r=31 /><circle class=c16 cx=5834 cy=3222 r=31 /><circle class=c12 cx=5976 cy=2815 r=31 /><circle class=c19 cx=8448 cy=3517 r=31 /><circle class=c13 cx=5947 cy=2889 r=31 /><circle class=c9 cx=6107 cy=2522 r=31 /><circle class=c42 cx=8216 cy=5543 r=31 /><circle class=c43 cx=7406 cy=5649 r=31 /><circle class=c10 cx=6026 cy=2695 r=31 /><circle class=c23 cx=5688 cy=3789 r=31 /><circle class=c7 cx=6185 cy=2371 r=31 /><circle class=c12 cx=5961 cy=2849 r=31 /><circle class=c12 cx=8365 cy=2834 r=31 /><circle class=c41 cx=6387 cy=5524 r=31 /><circle class=c5 cx=6286 cy=2201 r=31 /><circle class=c40 cx=8329 cy=5380 r=31 /><circle class=c41 cx=5803 cy=5473 r=31 /><circle class=c19 cx=5764 cy=3459 r=31 /><circle class=c4 cx=6371 cy=2080 r=31 /><circle class=c42 cx=6749 cy=5575 r=31 /><circle class=c24 cx=8457 cy=3976 r=31 /><circle class=c8 cx=6131 cy=2467 r=31 /><circle class=c8 cx=6157 cy=2417 r=31 /><circle class=c42 cx=6987 cy=5613 r=31 /><circle class=c22 cx=8454 cy=3737 r=31 /><circle class=c9 cx=6085 cy=2558 r=31 /><circle class=c10 cx=6045 cy=2644 r=31 /><circle class=c7 cx=6216 cy=2311 r=31 /><circle class=c14 cx=5907 cy=2984 r=31 /><circle class=c41 cx=6024 cy=5476 r=31 /><circle class=c5 cx=6326 cy=2133 r=31 /><circle class=c22 cx=5704 cy=3712 r=31 /><circle class=c6 cx=6249 cy=2255 r=31 /><circle class=c19 cx=5754 cy=3495 r=31 /><circle class=c10 cx=6064 cy=2598 r=31 /><circle class=c16 cx=5823 cy=3237 r=31 /><circle class=c42 cx=7296 cy=5646 r=31 /><circle class=c20 cx=5729 cy=3594 r=31 /><circle class=c21 cx=5717 cy=3649 r=31 /><circle class=c4 cx=6370 cy=2066 r=31 /><circle class=c30 cx=8440 cy=4435 r=31 /><circle class=c41 cx=6334 cy=5512 r=31 /><circle class=c27 cx=5612 cy=4249 r=31 /><circle class=c20 cx=5743 cy=3539 r=31 /><circle class=c42 cx=6563 cy=5571 r=31 /><circle class=c5 cx=6286 cy=2186 r=31 /><circle class=c7 cx=6185 cy=2353 r=31 /><circle class=c15 cx=5860 cy=3120 r=31 /><circle class=c41 cx=6126 cy=5512 r=31 /><circle class=c6 cx=6249 cy=2240 r=31 /><circle class=c11 cx=6010 cy=2715 r=31 /><circle class=c41 cx=6075 cy=5481 r=31 /><circle class=c41 cx=6230 cy=5526 r=31 /><circle class=c41 cx=6282 cy=5517 r=31 /><circle class=c42 cx=7188 cy=5636 r=31 /><circle class=c40 cx=5678 cy=5447 r=31 /><circle class=c42 cx=7083 cy=5616 r=31 /><circle class=c9 cx=6108 cy=2498 r=31 /><circle class=c4 cx=6326 cy=2119 r=31 /><circle class=c6 cx=6216 cy=2295 r=31 /><circle class=c14 cx=8413 cy=3023 r=31 /><circle class=c33 cx=5566 cy=4724 r=31 /><circle class=c7 cx=6157 cy=2397 r=31 /><circle class=c3 cx=6371 cy=2052 r=31 /><circle class=c14 cx=5885 cy=3040 r=31 /><circle class=c43 cx=7584 cy=5687 r=31 /><circle class=c40 cx=5554 cy=5389 r=31 /><circle class=c41 cx=6178 cy=5504 r=31 /><circle class=c8 cx=6132 cy=2445 r=31 /><circle class=c13 cx=5922 cy=2929 r=31 /><circle class=c12 cx=8376 cy=2797 r=31 /><circle class=c11 cx=5993 cy=2743 r=31 /><circle class=c10 cx=6027 cy=2663 r=31 /><circle class=c5 cx=6286 cy=2172 r=31 /><circle class=c9 cx=6085 cy=2533 r=31 /><circle class=c19 cx=8459 cy=3473 r=31 /><circle class=c7 cx=6185 cy=2335 r=31 /><circle class=c4 cx=6326 cy=2106 r=31 /><circle class=c42 cx=6836 cy=5593 r=31 /><circle class=c40 cx=5856 cy=5460 r=31 /><circle class=c16 cx=5815 cy=3249 r=31 /><circle class=c26 cx=8464 cy=4176 r=31 /><circle class=c5 cx=6249 cy=2224 r=31 /><circle class=c43 cx=7773 cy=5717 r=31 /><circle class=c6 cx=6216 cy=2278 r=31 /><circle class=c9 cx=6065 cy=2569 r=31 /><circle class=c42 cx=6694 cy=5575 r=31 /><circle class=c12 cx=5936 cy=2879 r=31 /><circle class=c10 cx=6046 cy=2612 r=31 /><circle class=c11 cx=5979 cy=2769 r=31 /><circle class=c26 cx=5630 cy=4115 r=31 /><circle class=c8 cx=6108 cy=2475 r=31 /><circle class=c21 cx=8471 cy=3694 r=31 /><circle class=c43 cx=7964 cy=5718 r=31 /><circle class=c5 cx=6286 cy=2158 r=31 /><circle class=c12 cx=5964 cy=2802 r=31 /><circle class=c7 cx=6158 cy=2378 r=31 /><circle class=c12 cx=5950 cy=2838 r=31 /><circle class=c31 cx=8396 cy=4620 r=31 /><circle class=c41 cx=6507 cy=5554 r=31 /><circle class=c15 cx=5851 cy=3125 r=31 /><circle class=c14 cx=5898 cy=2979 r=31 /><circle class=c7 cx=6132 cy=2424 r=31 /><circle class=c24 cx=8468 cy=3924 r=31 /><circle class=c10 cx=6011 cy=2682 r=31 /><circle class=c4 cx=6326 cy=2092 r=31 /><circle class=c41 cx=8283 cy=5546 r=31 /><circle class=c40 cx=5594 cy=5458 r=31 /><circle class=c14 cx=5874 cy=3045 r=31 /><circle class=c36 cx=8318 cy=5054 r=31 /><circle class=c6 cx=6186 cy=2318 r=31 /><circle class=c40 cx=5906 cy=5485 r=31 /><circle class=c6 cx=6216 cy=2263 r=31 /><circle class=c5 cx=6249 cy=2210 r=31 /><circle class=c17 cx=5805 cy=3269 r=31 /><circle class=c40 cx=5729 cy=5458 r=31 /><circle class=c43 cx=7464 cy=5681 r=31 /><circle class=c9 cx=6086 cy=2508 r=31 /><circle class=c45 cx=8107 cy=5883 r=31 /><circle class=c42 cx=6931 cy=5623 r=31 /><circle class=c42 cx=6454 cy=5576 r=31 /><circle class=c4 cx=6286 cy=2144 r=31 /><circle class=c14 cx=8411 cy=2979 r=31 /><circle class=c11 cx=8377 cy=2757 r=31 /><circle class=c37 cx=5555 cy=5155 r=31 /><circle class=c30 cx=5582 cy=4532 r=31 /><circle class=c33 cx=8353 cy=4821 r=31 /><circle class=c7 cx=6158 cy=2360 r=31 /><circle class=c10 cx=6029 cy=2629 r=31 /><circle class=c8 cx=6108 cy=2454 r=31 /><circle class=c10 cx=5995 cy=2705 r=31 /><circle class=c4 cx=6325 cy=2080 r=31 /><circle class=c5 cx=6249 cy=2196 r=31 /><circle class=c41 cx=5957 cy=5515 r=31 /><circle class=c9 cx=6066 cy=2543 r=31 /><circle class=c24 cx=5648 cy=3992 r=31 /><circle class=c5 cx=6216 cy=2248 r=31 /><circle class=c9 cx=6047 cy=2583 r=31 /><circle class=c15 cx=5841 cy=3135 r=31 /><circle class=c7 cx=6133 cy=2404 r=31 /><circle class=c13 cx=5913 cy=2919 r=31 /><circle class=c43 cx=7354 cy=5690 r=31 /><circle class=c18 cx=8464 cy=3425 r=31 /><circle class=c42 cx=6639 cy=5583 r=31 /><circle class=c6 cx=6186 cy=2301 r=31 /><circle class=c17 cx=5796 cy=3290 r=31 /><circle class=c4 cx=6285 cy=2131 r=31 /><circle class=c3 cx=6326 cy=2067 r=31 /><circle class=c42 cx=6781 cy=5608 r=31 /><circle class=c42 cx=7028 cy=5638 r=31 /><circle class=c28 cx=8434 cy=4357 r=31 /><circle class=c8 cx=6087 cy=2485 r=31 /><circle class=c7 cx=6158 cy=2343 r=31 /><circle class=c11 cx=5981 cy=2729 r=31 /><circle class=c41 cx=8083 cy=5561 r=31 /><circle class=c41 cx=6011 cy=5527 r=31 /><circle class=c5 cx=6249 cy=2182 r=31 /><circle class=c40 cx=5780 cy=5483 r=31 /><circle class=c41 cx=6397 cy=5547 r=31 /><circle class=c13 cx=5889 cy=2976 r=31 /><circle class=c14 cx=5865 cy=3047 r=31 /><circle class=c12 cx=5927 cy=2870 r=31 /><circle class=c38 cx=8332 cy=5284 r=31 /><circle class=c23 cx=5663 cy=3888 r=31 /><circle class=c10 cx=6013 cy=2647 r=31 /><circle class=c17 cx=5786 cy=3318 r=31 /><circle class=c3 cx=6326 cy=2054 r=31 /><circle class=c11 cx=5967 cy=2759 r=31 /><circle class=c7 cx=6133 cy=2386 r=31 /><circle class=c42 cx=7237 cy=5663 r=31 /><circle class=c4 cx=6285 cy=2118 r=31 /><circle class=c5 cx=6216 cy=2233 r=31 /><circle class=c41 cx=6342 cy=5568 r=31 /><circle class=c40 cx=5645 cy=5484 r=31 /><circle class=c6 cx=6186 cy=2286 r=31 /><circle class=c7 cx=6109 cy=2432 r=31 /><circle class=c10 cx=8386 cy=2720 r=31 /><circle class=c42 cx=7128 cy=5644 r=31 /><circle class=c21 cx=8473 cy=3641 r=31 /><circle class=c12 cx=5940 cy=2829 r=31 /><circle class=c43 cx=8233 cy=5718 r=31 /><circle class=c13 cx=8421 cy=2941 r=31 /><circle class=c26 cx=8466 cy=4112 r=31 /><circle class=c43 cx=7637 cy=5694 r=31 /><circle class=c11 cx=5953 cy=2791 r=31 /><circle class=c9 cx=6030 cy=2600 r=31 /><circle class=c28 cx=5599 cy=4361 r=31 /><circle class=c9 cx=6067 cy=2518 r=31 /><circle class=c23 cx=8476 cy=3871 r=31 /><circle class=c15 cx=5833 cy=3146 r=31 /><circle class=c9 cx=6048 cy=2556 r=31 /><circle class=c31 cx=8425 cy=4576 r=31 /><circle class=c5 cx=6249 cy=2168 r=31 /><circle class=c22 cx=5678 cy=3797 r=31 /><circle class=c41 cx=6066 cy=5516 r=31 /><circle class=c34 cx=5563 cy=4921 r=31 /><circle class=c6 cx=6158 cy=2326 r=31 /><circle class=c41 cx=6286 cy=5555 r=31 /><circle class=c5 cx=6216 cy=2219 r=31 /><circle class=c17 cx=5777 cy=3344 r=31 /><circle class=c41 cx=6231 cy=5556 r=31 /><circle class=c4 cx=6285 cy=2105 r=31 /><circle class=c6 cx=6186 cy=2271 r=31 /><circle class=c41 cx=6581 cy=5579 r=31 /><circle class=c35 cx=8372 cy=5035 r=31 /><circle class=c10 cx=5998 cy=2668 r=31 /><circle class=c13 cx=5903 cy=2918 r=31 /><circle class=c8 cx=6088 cy=2462 r=31 /><circle class=c7 cx=6133 cy=2368 r=31 /><circle class=c41 cx=6175 cy=5540 r=31 /><circle class=c43 cx=7829 cy=5718 r=31 /><circle class=c41 cx=6120 cy=5520 r=31 /><circle class=c42 cx=6872 cy=5633 r=31 /><circle class=c40 cx=5832 cy=5505 r=31 /><circle class=c17 cx=5766 cy=3381 r=31 /><circle class=c21 cx=5693 cy=3713 r=31 /><circle class=c7 cx=6110 cy=2412 r=31 /><circle class=c17 cx=8471 cy=3380 r=31 /><circle class=c4 cx=6285 cy=2093 r=31 /><circle class=c4 cx=6249 cy=2155 r=31 /><circle class=c10 cx=5982 cy=2694 r=31 /><circle class=c14 cx=5857 cy=3051 r=31 /><circle class=c5 cx=6216 cy=2205 r=31 /><circle class=c6 cx=6158 cy=2310 r=31 /><circle class=c20 cx=5706 cy=3642 r=31 /><circle class=c33 cx=8384 cy=4777 r=31 /><circle class=c13 cx=5880 cy=2977 r=31 /><circle class=c9 cx=6014 cy=2617 r=31 /><circle class=c18 cx=5755 cy=3420 r=31 /><circle class=c8 cx=6068 cy=2495 r=31 /><circle class=c43 cx=7524 cy=5717 r=31 /><circle class=c5 cx=6186 cy=2256 r=31 /><circle class=c9 cx=6049 cy=2532 r=31 /><circle class=c15 cx=5824 cy=3159 r=31 /><circle class=c19 cx=5743 cy=3467 r=31 /><circle class=c42 cx=6721 cy=5599 r=31 /><circle class=c9 cx=6031 cy=2572 r=31 /><circle class=c20 cx=5719 cy=3575 r=31 /><circle class=c26 cx=5616 cy=4207 r=31 /><circle class=c12 cx=5917 cy=2866 r=31 /><circle class=c4 cx=6249 cy=2142 r=31 /><circle class=c3 cx=6285 cy=2080 r=31 /><circle class=c41 cx=6525 cy=5595 r=31 /><circle class=c19 cx=5733 cy=3514 r=31 /></g><g class=a13><circle class=c7 cx=6088 cy=2442 r=31 /><circle class=c7 cx=6133 cy=2350 r=31 /><circle class=c12 cx=8423 cy=2900 r=31 /><circle class=c28 cx=8458 cy=4310 r=31 /><circle class=c40 cx=5699 cy=5495 r=31 /><circle class=c7 cx=6110 cy=2394 r=31 /><circle class=c10 cx=5970 cy=2718 r=31 /><circle class=c20 cx=8484 cy=3595 r=31 /><circle class=c11 cx=5955 cy=2751 r=31 /><circle class=c6 cx=6159 cy=2294 r=31 /><circle class=c44 cx=8163 cy=5869 r=31 /><circle class=c5 cx=6216 cy=2191 r=31 /><circle class=c5 cx=6186 cy=2242 r=31 /><circle class=c12 cx=5930 cy=2822 r=31 /><circle class=c42 cx=6969 cy=5652 r=31 /><circle class=c11 cx=5943 cy=2784 r=31 /><circle class=c4 cx=6249 cy=2130 r=31 /><circle class=c32 cx=5574 cy=4708 r=31 /><circle class=c15 cx=5814 cy=3178 r=31 /><circle class=c8 cx=6068 cy=2473 r=31 /><circle class=c9 cx=6000 cy=2635 r=31 /><circle class=c3 cx=6285 cy=2068 r=31 /><circle class=c43 cx=7406 cy=5715 r=31 /><circle class=c12 cx=5893 cy=2917 r=31 /><circle class=c14 cx=5848 cy=3060 r=31 /><circle class=c5 cx=6216 cy=2179 r=31 /><circle class=c25 cx=8477 cy=4058 r=31 /><circle class=c40 cx=5889 cy=5489 r=31 /><circle class=c22 cx=8481 cy=3817 r=31 /><circle class=c6 cx=6134 cy=2334 r=31 /><circle class=c9 cx=6015 cy=2589 r=31 /><circle class=c7 cx=6089 cy=2423 r=31 /><circle class=c5 cx=6159 cy=2280 r=31 /><circle class=c8 cx=6050 cy=2507 r=31 /><circle class=c5 cx=6186 cy=2228 r=31 /><circle class=c4 cx=6249 cy=2117 r=31 /><circle class=c41 cx=6466 cy=5588 r=31 /><circle class=c42 cx=7071 cy=5674 r=31 /><circle class=c7 cx=6110 cy=2376 r=31 /><circle class=c9 cx=6032 cy=2546 r=31 /><circle class=c17 cx=8479 cy=3336 r=31 /><circle class=c44 cx=7926 cy=5807 r=31 /><circle class=c25 cx=5634 cy=4067 r=31 /><circle class=c10 cx=5985 cy=2659 r=31 /><circle class=c40 cx=5942 cy=5530 r=31 /><circle class=c3 cx=6285 cy=2057 r=31 /><circle class=c13 cx=5873 cy=2976 r=31 /><circle class=c39 cx=8263 cy=5406 r=31 /><circle class=c42 cx=6662 cy=5609 r=31 /><circle class=c43 cx=7701 cy=5724 r=31 /><circle class=c42 cx=6812 cy=5639 r=31 /><circle class=c30 cx=8441 cy=4517 r=31 /><circle class=c39 cx=5579 cy=5386 r=31 /><circle class=c42 cx=7287 cy=5693 r=31 /><circle class=c42 cx=7178 cy=5688 r=31 /><circle class=c12 cx=8433 cy=2862 r=31 /><circle class=c12 cx=5907 cy=2865 r=31 /><circle class=c4 cx=6216 cy=2166 r=31 /><circle class=c6 cx=6134 cy=2318 r=31 /><circle class=c16 cx=5806 cy=3195 r=31 /><circle class=c40 cx=5754 cy=5513 r=31 /><circle class=c7 cx=6069 cy=2452 r=31 /><circle class=c10 cx=5971 cy=2684 r=31 /><circle class=c3 cx=6249 cy=2105 r=31 /><circle class=c5 cx=6159 cy=2265 r=31 /><circle class=c41 cx=6408 cy=5593 r=31 /><circle class=c6 cx=6111 cy=2359 r=31 /><circle class=c9 cx=6000 cy=2608 r=31 /><circle class=c5 cx=6186 cy=2214 r=31 /><circle class=c44 cx=7609 cy=5813 r=31 /><circle class=c7 cx=6089 cy=2403 r=31 /><circle class=c14 cx=5840 cy=3069 r=31 /><circle class=c41 cx=5999 cy=5544 r=31 /><circle class=c11 cx=5919 cy=2819 r=31 /><circle class=c16 cx=5795 cy=3225 r=31 /><circle class=c40 cx=5616 cy=5492 r=31 /><circle class=c19 cx=8497 cy=3551 r=31 /><circle class=c23 cx=5649 cy=3947 r=31 /><circle class=c4 cx=6216 cy=2153 r=31 /><circle class=c8 cx=6051 cy=2485 r=31 /><circle class=c30 cx=5589 cy=4509 r=31 /><circle class=c3 cx=6249 cy=2093 r=31 /><circle class=c9 cx=6016 cy=2562 r=31 /><circle class=c10 cx=5958 cy=2711 r=31 /><circle class=c6 cx=6134 cy=2303 r=31 /><circle class=c8 cx=6033 cy=2521 r=31 /><circle class=c37 cx=8326 cy=5178 r=31 /><circle class=c32 cx=8411 cy=4728 r=31 /><circle class=c41 cx=6350 cy=5597 r=31 /><circle class=c11 cx=5932 cy=2778 r=31 /><circle class=c10 cx=5945 cy=2743 r=31 /><circle class=c12 cx=5885 cy=2917 r=31 /><circle class=c34 cx=8380 cy=4957 r=31 /><circle class=c5 cx=6186 cy=2201 r=31 /><circle class=c5 cx=6159 cy=2251 r=31 /><circle class=c41 cx=6056 cy=5558 r=31 /><circle class=c42 cx=6604 cy=5630 r=31 /><circle class=c13 cx=5863 cy=2983 r=31 /><circle class=c37 cx=5571 cy=5162 r=31 /><circle class=c7 cx=6070 cy=2432 r=31 /><circle class=c9 cx=5986 cy=2628 r=31 /><circle class=c6 cx=6111 cy=2343 r=31 /><circle class=c27 cx=8465 cy=4250 r=31 /><circle class=c42 cx=6909 cy=5671 r=31 /><circle class=c41 cx=6290 cy=5592 r=31 /><circle class=c41 cx=6114 cy=5573 r=31 /><circle class=c21 cx=8496 cy=3771 r=31 /><circle class=c7 cx=6090 cy=2385 r=31 /><circle class=c22 cx=5665 cy=3840 r=31 /><circle class=c4 cx=6216 cy=2141 r=31 /><circle class=c3 cx=6249 cy=2082 r=31 /><circle class=c5 cx=6134 cy=2288 r=31 /><circle class=c16 cx=5788 cy=3246 r=31 /><circle class=c16 cx=8480 cy=3289 r=31 /><circle class=c14 cx=5831 cy=3082 r=31 /><circle class=c11 cx=8439 cy=2823 r=31 /><circle class=c24 cx=8485 cy=4003 r=31 /><circle class=c41 cx=6172 cy=5569 r=31 /><circle class=c4 cx=6187 cy=2188 r=31 /><circle class=c41 cx=6231 cy=5570 r=31 /><circle class=c40 cx=5811 cy=5517 r=31 /><circle class=c7 cx=6052 cy=2463 r=31 /><circle class=c41 cx=8224 cy=5590 r=31 /><circle class=c12 cx=5898 cy=2863 r=31 /><circle class=c5 cx=6159 cy=2237 r=31 /><circle class=c9 cx=5973 cy=2651 r=31 /><circle class=c9 cx=6002 cy=2578 r=31 /><circle class=c4 cx=6216 cy=2129 r=31 /><circle class=c3 cx=6249 cy=2071 r=31 /><circle class=c28 cx=5603 cy=4338 r=31 /><circle class=c42 cx=6750 cy=5637 r=31 /><circle class=c8 cx=6018 cy=2536 r=31 /><circle class=c16 cx=5778 cy=3279 r=31 /><circle class=c8 cx=6035 cy=2497 r=31 /><circle class=c6 cx=6112 cy=2326 r=31 /><circle class=c7 cx=6070 cy=2413 r=31 /><circle class=c21 cx=5682 cy=3738 r=31 /><circle class=c4 cx=6187 cy=2176 r=31 /><circle class=c6 cx=6090 cy=2368 r=31 /><circle class=c5 cx=6135 cy=2274 r=31 /><circle class=c43 cx=7465 cy=5756 r=31 /><circle class=c5 cx=6159 cy=2224 r=31 /><circle class=c13 cx=5855 cy=2991 r=31 /><circle class=c12 cx=5877 cy=2920 r=31 /><circle class=c11 cx=5911 cy=2816 r=31 /><circle class=c3 cx=6216 cy=2118 r=31 /><circle class=c16 cx=5767 cy=3316 r=31 /><circle class=c10 cx=5961 cy=2676 r=31 /><circle class=c20 cx=5694 cy=3660 r=31 /><circle class=c3 cx=6249 cy=2059 r=31 /><circle class=c42 cx=7007 cy=5679 r=31 /><circle class=c14 cx=5822 cy=3098 r=31 /><circle class=c7 cx=6052 cy=2444 r=31 /><circle class=c40 cx=5674 cy=5500 r=31 /><circle class=c9 cx=5988 cy=2598 r=31 /><circle class=c41 cx=6541 cy=5610 r=31 /><circle class=c19 cx=8500 cy=3501 r=31 /><circle class=c10 cx=5923 cy=2774 r=31 /><circle class=c10 cx=5948 cy=2704 r=31 /><circle class=c34 cx=5577 cy=4921 r=31 /><circle class=c10 cx=5935 cy=2738 r=31 /><circle class=c17 cx=5757 cy=3356 r=31 /><circle class=c19 cx=5709 cy=3581 r=31 /><circle class=c17 cx=5745 cy=3406 r=31 /><circle class=c4 cx=6187 cy=2164 r=31 /><circle class=c18 cx=5732 cy=3460 r=31 /><circle class=c6 cx=6112 cy=2311 r=31 /><circle class=c40 cx=5869 cy=5533 r=31 /><circle class=c3 cx=6216 cy=2106 r=31 /><circle class=c19 cx=5721 cy=3517 r=31 /><circle class=c7 cx=6071 cy=2395 r=31 /><circle class=c5 cx=6135 cy=2260 r=31 /><circle class=c11 cx=8449 cy=2786 r=31 /><circle class=c7 cx=6035 cy=2476 r=31 /><circle class=c28 cx=8434 cy=4437 r=31 /><circle class=c6 cx=6091 cy=2351 r=31 /><circle class=c5 cx=6160 cy=2211 r=31 /><circle class=c8 cx=6004 cy=2552 r=31 /><circle class=c16 cx=8498 cy=3251 r=31 /><circle class=c26 cx=5619 cy=4182 r=31 /><circle class=c42 cx=7113 cy=5700 r=31 /><circle class=c8 cx=6019 cy=2512 r=31 /><circle class=c42 cx=7339 cy=5728 r=31 /><circle class=c12 cx=5889 cy=2864 r=31 /><circle class=c9 cx=5975 cy=2620 r=31 /><circle class=c38 cx=8290 cy=5347 r=31 /><circle class=c5 cx=6112 cy=2297 r=31 /><circle class=c14 cx=5813 cy=3118 r=31 /><circle class=c13 cx=5846 cy=3003 r=31 /><circle class=c4 cx=6187 cy=2152 r=31 /><circle class=c7 cx=6053 cy=2425 r=31 /><circle class=c21 cx=8502 cy=3720 r=31 /><circle class=c3 cx=6216 cy=2095 r=31 /><circle class=c42 cx=6845 cy=5677 r=31 /><circle class=c42 cx=7221 cy=5705 r=31 /><circle class=c42 cx=6689 cy=5651 r=31 /><circle class=c41 cx=6481 cy=5618 r=31 /><circle class=c5 cx=6135 cy=2247 r=31 /><circle class=c12 cx=5868 cy=2926 r=31 /><circle class=c4 cx=6160 cy=2199 r=31 /><circle class=c40 cx=5926 cy=5560 r=31 /><circle class=c23 cx=8500 cy=3956 r=31 /><circle class=c26 cx=8471 cy=4189 r=31 /><circle class=c6 cx=6091 cy=2336 r=31 /><circle class=c9 cx=5962 cy=2644 r=31 /><circle class=c6 cx=6072 cy=2378 r=31 /><circle class=c4 cx=6187 cy=2141 r=31 /><circle class=c11 cx=5902 cy=2815 r=31 /><circle class=c42 cx=7731 cy=5672 r=31 /><circle class=c9 cx=5990 cy=2570 r=31 /><circle class=c40 cx=5729 cy=5532 r=31 /><circle class=c3 cx=6216 cy=2084 r=31 /><circle class=c7 cx=6036 cy=2455 r=31 /><circle class=c31 cx=5584 cy=4708 r=31 /><circle class=c43 cx=7654 cy=5800 r=31 /><circle class=c24 cx=5635 cy=4042 r=31 /><circle class=c14 cx=5805 cy=3140 r=31 /><circle class=c8 cx=6005 cy=2528 r=31 /><circle class=c4 cx=6160 cy=2186 r=31 /><circle class=c9 cx=5950 cy=2671 r=31 /><circle class=c5 cx=6135 cy=2234 r=31 /><circle class=c31 cx=8400 cy=4637 r=31 /><circle class=c5 cx=6113 cy=2282 r=31 /><circle class=c10 cx=5914 cy=2772 r=31 /><circle class=c41 cx=6419 cy=5622 r=31 /><circle class=c7 cx=6021 cy=2489 r=31 /><circle class=c18 cx=8514 cy=3459 r=31 /><circle class=c7 cx=6053 cy=2406 r=31 /><circle class=c3 cx=6187 cy=2130 r=31 /><circle class=c42 cx=8130 cy=5690 r=31 /><circle class=c10 cx=5938 cy=2701 r=31 /><circle class=c10 cx=5926 cy=2734 r=31 /><circle class=c6 cx=6092 cy=2321 r=31 /><circle class=c6 cx=6072 cy=2362 r=31 /><circle class=c44 cx=7882 cy=5897 r=31 /><circle class=c42 cx=7926 cy=5686 r=31 /><circle class=c35 cx=8325 cy=5083 r=31 /><circle class=c13 cx=5839 cy=3012 r=31 /><circle class=c3 cx=6216 cy=2073 r=31 /><circle class=c40 cx=5987 cy=5560 r=31 /><circle class=c15 cx=5795 cy=3168 r=31 /><circle class=c12 cx=5882 cy=2866 r=31 /><circle class=c4 cx=6160 cy=2175 r=31 /><circle class=c12 cx=5859 cy=2934 r=31 /><circle class=c9 cx=5978 cy=2590 r=31 /><circle class=c5 cx=6135 cy=2221 r=31 /><circle class=c15 cx=8503 cy=3207 r=31 /><circle class=c33 cx=8360 cy=4846 r=31 /><circle class=c5 cx=6113 cy=2269 r=31 /><circle class=c39 cx=5596 cy=5453 r=31 /><circle class=c3 cx=6187 cy=2119 r=31 /><circle class=c42 cx=6942 cy=5691 r=31 /><circle class=c7 cx=6037 cy=2435 r=31 /><circle class=c23 cx=5652 cy=3912 r=31 /><circle class=c3 cx=6216 cy=2063 r=31 /><circle class=c8 cx=5991 cy=2545 r=31 /><circle class=c41 cx=6624 cy=5649 r=31 /><circle class=c41 cx=6356 cy=5601 r=31 /><circle class=c4 cx=6160 cy=2163 r=31 /><circle class=c7 cx=6006 cy=2505 r=31 /><circle class=c40 cx=6047 cy=5568 r=31 /><circle class=c5 cx=6092 cy=2306 r=31 /><circle class=c9 cx=5964 cy=2613 r=31 /><circle class=c7 cx=6021 cy=2468 r=31 /><circle class=c6 cx=6054 cy=2388 r=31 /><circle class=c41 cx=6107 cy=5601 r=31 /><circle class=c6 cx=6073 cy=2346 r=31 /><circle class=c11 cx=5894 cy=2816 r=31 /><circle class=c15 cx=5786 cy=3195 r=31 /><circle class=c5 cx=6113 cy=2256 r=31 /><circle class=c13 cx=5830 cy=3029 r=31 /><circle class=c4 cx=6136 cy=2209 r=31 /><circle class=c40 cx=8251 cy=5527 r=31 /><circle class=c20 cx=8510 cy=3672 r=31 /><circle class=c29 cx=5598 cy=4500 r=31 /><circle class=c41 cx=6232 cy=5614 r=31 /><circle class=c28 cx=8450 cy=4383 r=31 /><circle class=c40 cx=5789 cy=5540 r=31 /><circle class=c42 cx=6780 cy=5683 r=31 /><circle class=c3 cx=6187 cy=2108 r=31 /><circle class=c41 cx=6170 cy=5604 r=31 /><circle class=c41 cx=6294 cy=5595 r=31 /><circle class=c21 cx=5666 cy=3806 r=31 /><circle class=c9 cx=5953 cy=2638 r=31 /><circle class=c42 cx=7513 cy=5762 r=31 /><circle class=c5 cx=6092 cy=2292 r=31 /><circle class=c8 cx=5978 cy=2565 r=31 /><circle class=c10 cx=5906 cy=2771 r=31 /><circle class=c7 cx=6038 cy=2417 r=31 /><circle class=c11 cx=5873 cy=2872 r=31 /><circle class=c4 cx=6136 cy=2197 r=31 /><circle class=c9 cx=5940 cy=2667 r=31 /><circle class=c3 cx=6187 cy=2097 r=31 /><circle class=c15 cx=5777 cy=3226 r=31 /><circle class=c4 cx=6161 cy=2152 r=31 /><circle class=c12 cx=5852 cy=2942 r=31 /><circle class=c10 cx=5917 cy=2734 r=31 /><circle class=c42 cx=7047 cy=5713 r=31 /><circle class=c23 cx=8504 cy=3899 r=31 /><circle class=c5 cx=6114 cy=2243 r=31 /><circle class=c10 cx=5929 cy=2698 r=31 /><circle class=c5 cx=6073 cy=2330 r=31 /><circle class=c16 cx=5765 cy=3270 r=31 /><circle class=c8 cx=5992 cy=2522 r=31 /><circle class=c20 cx=5681 cy=3706 r=31 /><circle class=c6 cx=6055 cy=2371 r=31 /><circle class=c25 cx=8479 cy=4132 r=31 /><circle class=c40 cx=5645 cy=5524 r=31 /><circle class=c7 cx=6022 cy=2448 r=31 /><circle class=c17 cx=8519 cy=3413 r=31 /><circle class=c13 cx=5820 cy=3048 r=31 /><circle class=c7 cx=6007 cy=2483 r=31 /><circle class=c42 cx=7162 cy=5750 r=31 /><circle class=c41 cx=6560 cy=5651 r=31 /><circle class=c3 cx=6161 cy=2141 r=31 /><circle class=c43 cx=8037 cy=5797 r=31 /><circle class=c27 cx=5608 cy=4330 r=31 /><circle class=c5 cx=6093 cy=2279 r=31 /><circle class=c42 cx=7392 cy=5760 r=31 /><circle class=c14 cx=8511 cy=3166 r=31 /><circle class=c3 cx=6187 cy=2087 r=31 /><circle class=c8 cx=5966 cy=2586 r=31 /><circle class=c16 cx=5755 cy=3310 r=31 /><circle class=c19 cx=5695 cy=3618 r=31 /><circle class=c40 cx=5849 cy=5567 r=31 /><circle class=c4 cx=6136 cy=2185 r=31 /><circle class=c6 cx=6039 cy=2400 r=31 /><circle class=c5 cx=6114 cy=2231 r=31 /><circle class=c42 cx=7273 cy=5752 r=31 /><circle class=c11 cx=5885 cy=2820 r=31 /><circle class=c36 cx=5596 cy=5161 r=31 /><circle class=c5 cx=6074 cy=2316 r=31 /><circle class=c17 cx=5745 cy=3358 r=31 /><circle class=c6 cx=6056 cy=2356 r=31 /><circle class=c19 cx=5709 cy=3541 r=31 /><circle class=c3 cx=6161 cy=2131 r=31 /><circle class=c17 cx=5734 cy=3411 r=31 /><circle class=c30 cx=8415 cy=4578 r=31 /><circle class=c18 cx=5722 cy=3471 r=31 /><circle class=c7 cx=6023 cy=2430 r=31 /><circle class=c9 cx=5954 cy=2609 r=31 /><circle class=c14 cx=5812 cy=3069 r=31 /><circle class=c3 cx=6187 cy=2077 r=31 /><circle class=c12 cx=5844 cy=2952 r=31 /><circle class=c8 cx=5981 cy=2538 r=31 /><circle class=c42 cx=6879 cy=5714 r=31 /><circle class=c4 cx=6114 cy=2219 r=31 /><circle class=c7 cx=6008 cy=2463 r=31 /><circle class=c10 cx=5897 cy=2774 r=31 /><circle class=c11 cx=5865 cy=2878 r=31 /><circle class=c5 cx=6093 cy=2265 r=31 /><circle class=c7 cx=5994 cy=2499 r=31 /><circle class=c4 cx=6137 cy=2174 r=31 /><circle class=c43 cx=7715 cy=5829 r=31 /><circle class=c37 cx=8286 cy=5244 r=31 /><circle class=c19 cx=8524 cy=3628 r=31 /><circle class=c41 cx=6496 cy=5663 r=31 /><circle class=c35 cx=8363 cy=5046 r=31 /><circle class=c32 cx=8393 cy=4806 r=31 /><circle class=c3 cx=6187 cy=2067 r=31 /><circle class=c41 cx=6713 cy=5675 r=31 /><circle class=c3 cx=6161 cy=2120 r=31 /><circle class=c6 cx=6040 cy=2383 r=31 /><circle class=c25 cx=5623 cy=4167 r=31 /><circle class=c5 cx=6074 cy=2302 r=31 /><circle class=c9 cx=5943 cy=2634 r=31 /><circle class=c5 cx=6056 cy=2341 r=31 /><circle class=c9 cx=5931 cy=2665 r=31 /><circle class=c10 cx=5909 cy=2732 r=31 /><circle class=c40 cx=5703 cy=5559 r=31 /><circle class=c40 cx=5911 cy=5577 r=31 /><circle class=c9 cx=5920 cy=2696 r=31 /><circle class=c3 cx=6137 cy=2163 r=31 /><circle class=c5 cx=6094 cy=2253 r=31 /><circle class=c8 cx=5968 cy=2559 r=31 /><circle class=c14 cx=5803 cy=3093 r=31 /><circle class=c33 cx=5593 cy=4936 r=31 /><circle class=c4 cx=6114 cy=2207 r=31 /><circle class=c6 cx=6024 cy=2412 r=31 /><circle class=c3 cx=6161 cy=2110 r=31 /><circle class=c12 cx=5836 cy=2968 r=31 /><circle class=c11 cx=5878 cy=2824 r=31 /><circle class=c14 cx=8525 cy=3127 r=31 /><circle class=c27 cx=8461 cy=4325 r=31 /><circle class=c17 cx=8523 cy=3367 r=31 /><circle class=c22 cx=8516 cy=3851 r=31 /><circle class=c5 cx=6075 cy=2288 r=31 /><circle class=c7 cx=5982 cy=2516 r=31 /><circle class=c7 cx=6009 cy=2443 r=31 /><circle class=c44 cx=8170 cy=5943 r=31 /><circle class=c11 cx=5857 cy=2890 r=31 /><circle class=c3 cx=6137 cy=2153 r=31 /><circle class=c6 cx=6040 cy=2367 r=31 /><circle class=c8 cx=5956 cy=2582 r=31 /><circle class=c4 cx=6114 cy=2196 r=31 /><circle class=c5 cx=6057 cy=2326 r=31 /><circle class=c40 cx=5973 cy=5603 r=31 /><circle class=c4 cx=6094 cy=2241 r=31 /><circle class=c24 cx=8495 cy=4084 r=31 /><circle class=c41 cx=6430 cy=5647 r=31 /><circle class=c24 cx=5639 cy=4021 r=31 /><circle class=c3 cx=6161 cy=2100 r=31 /><circle class=c40 cx=8148 cy=5612 r=31 /><circle class=c7 cx=5996 cy=2476 r=31 /><circle class=c43 cx=7591 cy=5849 r=31 /><circle class=c14 cx=5795 cy=3118 r=31 /><circle class=c42 cx=6981 cy=5733 r=31 /><circle class=c10 cx=5889 cy=2777 r=31 /><circle class=c3 cx=6137 cy=2142 r=31 /><circle class=c5 cx=6075 cy=2275 r=31 /><circle class=c8 cx=5969 cy=2536 r=31 /><circle class=c3 cx=6161 cy=2090 r=31 /><circle class=c10 cx=5899 cy=2737 r=31 /><circle class=c8 cx=5946 cy=2605 r=31 /><circle class=c4 cx=6094 cy=2229 r=31 /><circle class=c6 cx=6026 cy=2394 r=31 /><circle class=c5 cx=6057 cy=2312 r=31 /><circle class=c12 cx=5828 cy=2985 r=31 /><circle class=c4 cx=6115 cy=2185 r=31 /><circle class=c31 cx=5597 cy=4714 r=31 /><circle class=c41 cx=6364 cy=5652 r=31 /><circle class=c41 cx=6647 cy=5686 r=31 /><circle class=c5 cx=6041 cy=2351 r=31 /><circle class=c14 cx=5785 cy=3150 r=31 /><circle class=c22 cx=5653 cy=3895 r=31 /></g><g class=a14><circle class=c9 cx=5934 cy=2633 r=31 /><circle class=c6 cx=6011 cy=2425 r=31 /><circle class=c40 cx=5765 cy=5582 r=31 /><circle class=c40 cx=6037 cy=5603 r=31 /><circle class=c9 cx=5912 cy=2697 r=31 /><circle class=c3 cx=6137 cy=2132 r=31 /><circle class=c9 cx=5923 cy=2664 r=31 /><circle class=c7 cx=5983 cy=2494 r=31 /><circle class=c5 cx=6075 cy=2263 r=31 /><circle class=c11 cx=5870 cy=2832 r=31 /><circle class=c7 cx=5996 cy=2458 r=31 /><circle class=c42 cx=6811 cy=5724 r=31 /><circle class=c39 cx=8269 cy=5453 r=31 /><circle class=c12 cx=5849 cy=2901 r=31 /><circle class=c3 cx=6161 cy=2080 r=31 /><circle class=c3 cx=6115 cy=2174 r=31 /><circle class=c41 cx=6298 cy=5649 r=31 /><circle class=c42 cx=7093 cy=5768 r=31 /><circle class=c19 cx=8526 cy=3577 r=31 /><circle class=c29 cx=8441 cy=4532 r=31 /><circle class=c6 cx=6025 cy=2379 r=31 /><circle class=c40 cx=6102 cy=5620 r=31 /><circle class=c8 cx=5958 cy=2556 r=31 /><circle class=c21 cx=5666 cy=3784 r=31 /><circle class=c14 cx=5776 cy=3185 r=31 /><circle class=c5 cx=6058 cy=2299 r=31 /><circle class=c12 cx=5818 cy=3007 r=31 /><circle class=c4 cx=6095 cy=2217 r=31 /><circle class=c3 cx=6137 cy=2122 r=31 /><circle class=c41 cx=6167 cy=5627 r=31 /><circle class=c41 cx=6232 cy=5632 r=31 /><circle class=c5 cx=6042 cy=2336 r=31 /><circle class=c10 cx=5880 cy=2784 r=31 /><circle class=c42 cx=7867 cy=5742 r=31 /><circle class=c15 cx=5765 cy=3227 r=31 /><circle class=c16 cx=8533 cy=3324 r=31 /><circle class=c13 cx=8522 cy=3082 r=31 /><circle class=c3 cx=6162 cy=2071 r=31 /><circle class=c7 cx=5971 cy=2513 r=31 /><circle class=c29 cx=5604 cy=4515 r=31 /><circle class=c6 cx=6012 cy=2407 r=31 /><circle class=c3 cx=6116 cy=2164 r=31 /><circle class=c8 cx=5947 cy=2579 r=31 /><circle class=c4 cx=6076 cy=2251 r=31 /><circle class=c4 cx=6095 cy=2206 r=31 /><circle class=c42 cx=7205 cy=5775 r=31 /><circle class=c42 cx=7440 cy=5776 r=31 /><circle class=c42 cx=7326 cy=5797 r=31 /><circle class=c20 cx=5683 cy=3677 r=31 /><circle class=c7 cx=5984 cy=2474 r=31 /><circle class=c7 cx=5998 cy=2439 r=31 /><circle class=c5 cx=6058 cy=2286 r=31 /><circle class=c5 cx=6026 cy=2363 r=31 /><circle class=c19 cx=5694 cy=3594 r=31 /><circle class=c15 cx=5755 cy=3269 r=31 /><circle class=c10 cx=5892 cy=2739 r=31 /><circle class=c26 cx=8487 cy=4283 r=31 /><circle class=c11 cx=5861 cy=2841 r=31 /><circle class=c5 cx=6042 cy=2323 r=31 /><circle class=c41 cx=6579 cy=5688 r=31 /><circle class=c21 cx=8518 cy=3797 r=31 /><circle class=c3 cx=6138 cy=2112 r=31 /><circle class=c8 cx=5936 cy=2604 r=31 /><circle class=c3 cx=6116 cy=2154 r=31 /><circle class=c12 cx=5842 cy=2912 r=31 /><circle class=c40 cx=5829 cy=5598 r=31 /><circle class=c13 cx=5811 cy=3027 r=31 /><circle class=c17 cx=5720 cy=3441 r=31 /><circle class=c4 cx=6095 cy=2196 r=31 /><circle class=c18 cx=5709 cy=3510 r=31 /><circle class=c16 cx=5746 cy=3317 r=31 /><circle class=c16 cx=5733 cy=3377 r=31 /><circle class=c9 cx=5913 cy=2666 r=31 /><circle class=c31 cx=8401 cy=4735 r=31 /><circle class=c7 cx=5959 cy=2533 r=31 /><circle class=c4 cx=6077 cy=2239 r=31 /><circle class=c9 cx=5904 cy=2699 r=31 /><circle class=c9 cx=5925 cy=2633 r=31 /><circle class=c6 cx=6012 cy=2392 r=31 /><circle class=c3 cx=6138 cy=2103 r=31 /><circle class=c36 cx=8310 cy=5185 r=31 /><circle class=c23 cx=8499 cy=4026 r=31 /><circle class=c5 cx=6059 cy=2274 r=31 /><circle class=c7 cx=5972 cy=2492 r=31 /><circle class=c6 cx=5998 cy=2422 r=31 /><circle class=c26 cx=5616 cy=4328 r=31 /><circle class=c3 cx=6116 cy=2144 r=31 /><circle class=c7 cx=5985 cy=2455 r=31 /><circle class=c5 cx=6043 cy=2309 r=31 /><circle class=c42 cx=6911 cy=5744 r=31 /><circle class=c5 cx=6027 cy=2348 r=31 /><circle class=c13 cx=5800 cy=3056 r=31 /><circle class=c4 cx=6077 cy=2228 r=31 /><circle class=c3 cx=6138 cy=2093 r=31 /><circle class=c3 cx=6096 cy=2185 r=31 /><circle class=c8 cx=5949 cy=2554 r=31 /><circle class=c10 cx=5874 cy=2787 r=31 /><circle class=c42 cx=6740 cy=5720 r=31 /><circle class=c38 cx=5638 cy=5427 r=31 /><circle class=c6 cx=6012 cy=2376 r=31 /><circle class=c42 cx=7751 cy=5793 r=31 /><circle class=c40 cx=8222 cy=5634 r=31 /><circle class=c41 cx=6511 cy=5701 r=31 /><circle class=c12 cx=5834 cy=2928 r=31 /><circle class=c4 cx=6059 cy=2262 r=31 /><circle class=c11 cx=5854 cy=2852 r=31 /><circle class=c13 cx=8534 cy=3043 r=31 /><circle class=c3 cx=6116 cy=2134 r=31 /><circle class=c18 cx=8526 cy=3526 r=31 /><circle class=c40 cx=5677 cy=5588 r=31 /><circle class=c8 cx=5938 cy=2579 r=31 /><circle class=c16 cx=8545 cy=3283 r=31 /><circle class=c7 cx=5961 cy=2511 r=31 /><circle class=c4 cx=6077 cy=2217 r=31 /><circle class=c33 cx=8322 cy=4905 r=31 /><circle class=c10 cx=5885 cy=2743 r=31 /><circle class=c3 cx=6138 cy=2084 r=31 /><circle class=c25 cx=5627 cy=4166 r=31 /><circle class=c40 cx=5894 cy=5605 r=31 /><circle class=c5 cx=6043 cy=2296 r=31 /><circle class=c3 cx=6096 cy=2175 r=31 /><circle class=c5 cx=6028 cy=2334 r=31 /><circle class=c13 cx=5792 cy=3084 r=31 /><circle class=c6 cx=5999 cy=2405 r=31 /><circle class=c8 cx=5927 cy=2605 r=31 /><circle class=c6 cx=5986 cy=2436 r=31 /><circle class=c7 cx=5974 cy=2471 r=31 /><circle class=c9 cx=5916 cy=2635 r=31 /><circle class=c3 cx=6096 cy=2165 r=31 /><circle class=c36 cx=5620 cy=5194 r=31 /><circle class=c9 cx=5897 cy=2701 r=31 /><circle class=c4 cx=6060 cy=2250 r=31 /><circle class=c3 cx=6117 cy=2125 r=31 /><circle class=c2 cx=6138 cy=2075 r=31 /><circle class=c4 cx=6077 cy=2206 r=31 /><circle class=c12 cx=5825 cy=2949 r=31 /><circle class=c9 cx=5907 cy=2666 r=31 /><circle class=c7 cx=5949 cy=2532 r=31 /><circle class=c10 cx=5865 cy=2799 r=31 /><circle class=c5 cx=6014 cy=2361 r=31 /><circle class=c5 cx=6044 cy=2284 r=31 /><circle class=c42 cx=7021 cy=5781 r=31 /><circle class=c23 cx=5640 cy=4022 r=31 /><circle class=c28 cx=8444 cy=4464 r=31 /><circle class=c20 cx=8533 cy=3753 r=31 /><circle class=c41 cx=6442 cy=5692 r=31 /><circle class=c11 cx=5846 cy=2866 r=31 /><circle class=c14 cx=5785 cy=3112 r=31 /><circle class=c5 cx=6029 cy=2320 r=31 /><circle class=c3 cx=6117 cy=2115 r=31 /><circle class=c3 cx=6096 cy=2155 r=31 /><circle class=c6 cx=6001 cy=2388 r=31 /><circle class=c40 cx=5961 cy=5614 r=31 /><circle class=c4 cx=6061 cy=2238 r=31 /><circle class=c3 cx=6078 cy=2196 r=31 /><circle class=c7 cx=5963 cy=2489 r=31 /><circle class=c7 cx=5940 cy=2554 r=31 /><circle class=c14 cx=5774 cy=3153 r=31 /><circle class=c6 cx=5988 cy=2419 r=31 /><circle class=c6 cx=5975 cy=2452 r=31 /><circle class=c3 cx=6117 cy=2106 r=31 /><circle class=c10 cx=5878 cy=2749 r=31 /><circle class=c22 cx=5654 cy=3887 r=31 /><circle class=c4 cx=6045 cy=2272 r=31 /><circle class=c42 cx=7615 cy=5787 r=31 /><circle class=c42 cx=6670 cy=5729 r=31 /><circle class=c12 cx=5817 cy=2969 r=31 /><circle class=c42 cx=7937 cy=5776 r=31 /><circle class=c33 cx=5614 cy=4954 r=31 /><circle class=c5 cx=6029 cy=2308 r=31 /><circle class=c5 cx=6015 cy=2346 r=31 /><circle class=c23 cx=8510 cy=3975 r=31 /><circle class=c12 cx=8543 cy=3003 r=31 /><circle class=c25 cx=8481 cy=4213 r=31 /><circle class=c41 cx=6372 cy=5686 r=31 /><circle class=c8 cx=5930 cy=2579 r=31 /><circle class=c40 cx=6027 cy=5645 r=31 /><circle class=c14 cx=5763 cy=3195 r=31 /><circle class=c3 cx=6097 cy=2146 r=31 /><circle class=c7 cx=5952 cy=2510 r=31 /><circle class=c3 cx=6078 cy=2186 r=31 /><circle class=c21 cx=5667 cy=3773 r=31 /><circle class=c4 cx=6061 cy=2227 r=31 /><circle class=c5 cx=6001 cy=2373 r=31 /><circle class=c9 cx=5889 cy=2707 r=31 /><circle class=c9 cx=5898 cy=2672 r=31 /><circle class=c17 cx=8538 cy=3484 r=31 /><circle class=c40 cx=5745 cy=5586 r=31 /><circle class=c3 cx=6117 cy=2097 r=31 /><circle class=c42 cx=7130 cy=5783 r=31 /><circle class=c4 cx=6045 cy=2261 r=31 /><circle class=c11 cx=5838 cy=2880 r=31 /><circle class=c42 cx=6838 cy=5742 r=31 /><circle class=c15 cx=8549 cy=3239 r=31 /><circle class=c10 cx=5859 cy=2807 r=31 /><circle class=c8 cx=5920 cy=2605 r=31 /><circle class=c8 cx=5909 cy=2636 r=31 /><circle class=c15 cx=5753 cy=3242 r=31 /><circle class=c5 cx=6015 cy=2333 r=31 /><circle class=c30 cx=8410 cy=4669 r=31 /><circle class=c31 cx=5610 cy=4745 r=31 /><circle class=c3 cx=6097 cy=2136 r=31 /><circle class=c7 cx=5964 cy=2470 r=31 /><circle class=c41 cx=6302 cy=5675 r=31 /><circle class=c6 cx=5976 cy=2435 r=31 /><circle class=c6 cx=5989 cy=2402 r=31 /><circle class=c42 cx=7493 cy=5805 r=31 /><circle class=c4 cx=6061 cy=2217 r=31 /><circle class=c41 cx=6163 cy=5679 r=31 /><circle class=c5 cx=6030 cy=2295 r=31 /><circle class=c3 cx=6079 cy=2176 r=31 /><circle class=c40 cx=6095 cy=5645 r=31 /><circle class=c12 cx=5809 cy=2992 r=31 /><circle class=c37 cx=8249 cy=5322 r=31 /><circle class=c2 cx=6117 cy=2089 r=31 /><circle class=c15 cx=5743 cy=3293 r=31 /><circle class=c33 cx=8395 cy=4917 r=31 /><circle class=c19 cx=5683 cy=3661 r=31 /><circle class=c42 cx=7251 cy=5809 r=31 /><circle class=c7 cx=5942 cy=2531 r=31 /><circle class=c16 cx=5730 cy=3355 r=31 /><circle class=c18 cx=5694 cy=3574 r=31 /><circle class=c17 cx=5718 cy=3421 r=31 /><circle class=c17 cx=5706 cy=3492 r=31 /><circle class=c40 cx=6233 cy=5658 r=31 /><circle class=c3 cx=6097 cy=2127 r=31 /><circle class=c42 cx=7369 cy=5807 r=31 /><circle class=c35 cx=8331 cy=5124 r=31 /><circle class=c4 cx=6046 cy=2249 r=31 /><circle class=c10 cx=5871 cy=2757 r=31 /><circle class=c5 cx=6003 cy=2358 r=31 /><circle class=c3 cx=6062 cy=2207 r=31 /><circle class=c3 cx=6079 cy=2166 r=31 /><circle class=c11 cx=5830 cy=2900 r=31 /><circle class=c7 cx=5931 cy=2555 r=31 /><circle class=c2 cx=6118 cy=2080 r=31 /><circle class=c5 cx=5989 cy=2388 r=31 /><circle class=c12 cx=5799 cy=3022 r=31 /><circle class=c43 cx=7836 cy=5873 r=31 /><circle class=c7 cx=5954 cy=2489 r=31 /><circle class=c41 cx=8104 cy=5700 r=31 /><circle class=c4 cx=6031 cy=2283 r=31 /><circle class=c5 cx=6017 cy=2319 r=31 /><circle class=c40 cx=5807 cy=5642 r=31 /><circle class=c10 cx=5851 cy=2821 r=31 /><circle class=c9 cx=5880 cy=2715 r=31 /><circle class=c28 cx=5614 cy=4539 r=31 /><circle class=c20 cx=8544 cy=3706 r=31 /><circle class=c41 cx=6598 cy=5729 r=31 /><circle class=c6 cx=5965 cy=2452 r=31 /><circle class=c3 cx=6098 cy=2118 r=31 /><circle class=c6 cx=5977 cy=2417 r=31 /><circle class=c4 cx=6046 cy=2238 r=31 /><circle class=c8 cx=5921 cy=2580 r=31 /><circle class=c3 cx=6079 cy=2157 r=31 /><circle class=c5 cx=6003 cy=2345 r=31 /><circle class=c44 cx=8091 cy=5980 r=31 /><circle class=c9 cx=5891 cy=2676 r=31 /><circle class=c12 cx=8551 cy=2964 r=31 /><circle class=c8 cx=5901 cy=2641 r=31 /><circle class=c3 cx=6097 cy=2110 r=31 /><circle class=c4 cx=6031 cy=2271 r=31 /><circle class=c3 cx=6062 cy=2197 r=31 /><circle class=c8 cx=5912 cy=2608 r=31 /><circle class=c5 cx=6017 cy=2307 r=31 /><circle class=c7 cx=5943 cy=2509 r=31 /><circle class=c12 cx=5791 cy=3051 r=31 /><circle class=c26 cx=5620 cy=4357 r=31 /><circle class=c5 cx=5990 cy=2372 r=31 /><circle class=c3 cx=6079 cy=2148 r=31 /><circle class=c10 cx=5862 cy=2769 r=31 /><circle class=c42 cx=6944 cy=5772 r=31 /><circle class=c17 cx=8558 cy=3446 r=31 /><circle class=c11 cx=5822 cy=2919 r=31 /><circle class=c4 cx=6047 cy=2228 r=31 /><circle class=c3 cx=6062 cy=2187 r=31 /><circle class=c6 cx=5955 cy=2470 r=31 /><circle class=c14 cx=8558 cy=3198 r=31 /><circle class=c6 cx=5978 cy=2402 r=31 /><circle class=c22 cx=8527 cy=3931 r=31 /><circle class=c27 cx=8442 cy=4392 r=31 /><circle class=c6 cx=5966 cy=2434 r=31 /><circle class=c4 cx=6031 cy=2260 r=31 /><circle class=c42 cx=6767 cy=5763 r=31 /><circle class=c7 cx=5933 cy=2532 r=31 /><circle class=c2 cx=6098 cy=2101 r=31 /><circle class=c5 cx=6017 cy=2295 r=31 /><circle class=c5 cx=6004 cy=2331 r=31 /><circle class=c10 cx=5843 cy=2835 r=31 /><circle class=c13 cx=5781 cy=3087 r=31 /><circle class=c3 cx=6080 cy=2139 r=31 /><circle class=c3 cx=6063 cy=2178 r=31 /><circle class=c7 cx=5923 cy=2557 r=31 /><circle class=c3 cx=6047 cy=2218 r=31 /><circle class=c9 cx=5873 cy=2723 r=31 /><circle class=c24 cx=5630 cy=4185 r=31 /><circle class=c24 cx=8483 cy=4151 r=31 /><circle class=c5 cx=5991 cy=2358 r=31 /><circle class=c40 cx=5877 cy=5643 r=31 /><circle class=c2 cx=6098 cy=2093 r=31 /><circle class=c41 cx=6525 cy=5714 r=31 /><circle class=c11 cx=5814 cy=2942 r=31 /><circle class=c13 cx=5771 cy=3127 r=31 /><circle class=c4 cx=6032 cy=2249 r=31 /><circle class=c5 cx=6004 cy=2319 r=31 /><circle class=c9 cx=5884 cy=2682 r=31 /><circle class=c7 cx=5946 cy=2488 r=31 /><circle class=c7 cx=5914 cy=2583 r=31 /><circle class=c5 cx=5979 cy=2386 r=31 /><circle class=c3 cx=6080 cy=2130 r=31 /><circle class=c8 cx=5903 cy=2613 r=31 /><circle class=c4 cx=6018 cy=2283 r=31 /><circle class=c10 cx=5854 cy=2782 r=31 /><circle class=c6 cx=5957 cy=2451 r=31 /><circle class=c3 cx=6047 cy=2208 r=31 /><circle class=c8 cx=5895 cy=2644 r=31 /><circle class=c23 cx=5642 cy=4032 r=31 /><circle class=c3 cx=6064 cy=2168 r=31 /><circle class=c2 cx=6099 cy=2085 r=31 /><circle class=c6 cx=5969 cy=2416 r=31 /><circle class=c10 cx=5835 cy=2853 r=31 /><circle class=c42 cx=7683 cy=5840 r=31 /><circle class=c7 cx=5935 cy=2511 r=31 /><circle class=c14 cx=5762 cy=3170 r=31 /><circle class=c3 cx=6080 cy=2122 r=31 /><circle class=c5 cx=5992 cy=2345 r=31 /><circle class=c11 cx=8557 cy=2924 r=31 /><circle class=c21 cx=5652 cy=3902 r=31 /><circle class=c4 cx=6033 cy=2239 r=31 /><circle class=c42 cx=7054 cy=5791 r=31 /><circle class=c12 cx=5804 cy=2970 r=31 /><circle class=c19 cx=8552 cy=3659 r=31 /><circle class=c4 cx=6018 cy=2272 r=31 /><circle class=c5 cx=6005 cy=2306 r=31 /><circle class=c3 cx=6064 cy=2159 r=31 /><circle class=c3 cx=6048 cy=2198 r=31 /><circle class=c38 cx=8168 cy=5438 r=31 /><circle class=c9 cx=5866 cy=2733 r=31 /><circle class=c40 cx=5947 cy=5659 r=31 /><circle class=c7 cx=5925 cy=2534 r=31 /><circle class=c6 cx=5946 cy=2470 r=31 /><circle class=c29 cx=8405 cy=4588 r=31 /><circle class=c14 cx=5753 cy=3215 r=31 /><circle class=c41 cx=6452 cy=5712 r=31 /><circle class=c5 cx=5981 cy=2371 r=31 /><circle class=c2 cx=6081 cy=2114 r=31 /><circle class=c20 cx=5667 cy=3772 r=31 /><circle class=c15 cx=5740 cy=3274 r=31 /><circle class=c6 cx=5958 cy=2434 r=31 /><circle class=c16 cx=8569 cy=3403 r=31 /><circle class=c5 cx=5969 cy=2401 r=31 /><circle class=c14 cx=8563 cy=3155 r=31 /><circle class=c3 cx=6033 cy=2228 r=31 /><circle class=c10 cx=5846 cy=2797 r=31 /><circle class=c38 cx=5675 cy=5463 r=31 /><circle class=c9 cx=5876 cy=2691 r=31 /><circle class=c10 cx=5827 cy=2873 r=31 /><circle class=c3 cx=6064 cy=2151 r=31 /><circle class=c7 cx=5916 cy=2559 r=31 /><circle class=c5 cx=5993 cy=2331 r=31 /><circle class=c42 cx=6693 cy=5770 r=31 /><circle class=c16 cx=5729 cy=3335 r=31 /><circle class=c3 cx=6049 cy=2189 r=31 /><circle class=c19 cx=5680 cy=3663 r=31 /><circle class=c4 cx=6019 cy=2261 r=31 /><circle class=c4 cx=6006 cy=2295 r=31 /><circle class=c7 cx=5936 cy=2491 r=31 /><circle class=c2 cx=6081 cy=2105 r=31 /><circle class=c8 cx=5886 cy=2653 r=31 /><circle class=c7 cx=5906 cy=2587 r=31 /><circle class=c42 cx=7551 cy=5847 r=31 /><circle class=c17 cx=5705 cy=3482 r=31 /><circle class=c18 cx=5693 cy=3565 r=31 /><circle class=c40 cx=5720 cy=5627 r=31 /><circle class=c31 cx=8388 cy=4827 r=31 /><circle class=c12 cx=5798 cy=2995 r=31 /><circle class=c8 cx=5896 cy=2618 r=31 /><circle class=c42 cx=7172 cy=5814 r=31 /><circle class=c3 cx=6033 cy=2219 r=31 /><circle class=c16 cx=5719 cy=3399 r=31 /><circle class=c5 cx=5981 cy=2358 r=31 /><circle class=c34 cx=8348 cy=5061 r=31 /><circle class=c36 cx=5650 cy=5231 r=31 /><circle class=c42 cx=7432 cy=5877 r=31 /><circle class=c44 cx=7923 cy=5950 r=31 /><circle class=c41 cx=6380 cy=5715 r=31 /><circle class=c3 cx=6064 cy=2142 r=31 /><circle class=c42 cx=6868 cy=5777 r=31 /><circle class=c21 cx=8533 cy=3878 r=31 /><circle class=c40 cx=6018 cy=5663 r=31 /><circle class=c3 cx=6049 cy=2180 r=31 /><circle class=c6 cx=5947 cy=2452 r=31 /><circle class=c26 cx=8470 cy=4353 r=31 /><circle class=c5 cx=5970 cy=2386 r=31 /><circle class=c5 cx=5959 cy=2418 r=31 /><circle class=c2 cx=6081 cy=2097 r=31 /><circle class=c4 cx=6020 cy=2250 r=31 /><circle class=c4 cx=6006 cy=2283 r=31 /><circle class=c36 cx=8247 cy=5225 r=31 /><circle class=c5 cx=5994 cy=2319 r=31 /><circle class=c9 cx=5859 cy=2745 r=31 /><circle class=c12 cx=5788 cy=3030 r=31 /><circle class=c11 cx=5819 cy=2895 r=31 /><circle class=c42 cx=7293 cy=5827 r=31 /><circle class=c3 cx=6065 cy=2134 r=31 /><circle class=c7 cx=5928 cy=2511 r=31 /><circle class=c40 cx=6088 cy=5691 r=31 /><circle class=c33 cx=5634 cy=5003 r=31 /><circle class=c41 cx=6307 cy=5713 r=31 /><circle class=c24 cx=8505 cy=4109 r=31 /><circle class=c10 cx=5839 cy=2813 r=31 /><circle class=c5 cx=5982 cy=2345 r=31 /><circle class=c41 cx=6160 cy=5714 r=31 /><circle class=c3 cx=6049 cy=2171 r=31 /><circle class=c3 cx=6035 cy=2209 r=31 /><circle class=c9 cx=5868 cy=2702 r=31 /><circle class=c7 cx=5917 cy=2537 r=31 /><circle class=c2 cx=6082 cy=2089 r=31 /><circle class=c6 cx=5938 cy=2472 r=31 /><circle class=c41 cx=6234 cy=5709 r=31 /><circle class=c4 cx=6020 cy=2240 r=31 /><circle class=c4 cx=5994 cy=2307 r=31 /><circle class=c4 cx=6007 cy=2272 r=31 /><circle class=c2 cx=6065 cy=2126 r=31 /><circle class=c3 cx=6049 cy=2162 r=31 /><circle class=c3 cx=6034 cy=2200 r=31 /><circle class=c7 cx=5908 cy=2563 r=31 /><circle class=c12 cx=5779 cy=3066 r=31 /><circle class=c5 cx=5972 cy=2371 r=31 /><circle class=c5 cx=5960 cy=2402 r=31 /><circle class=c8 cx=5880 cy=2660 r=31 /><circle class=c6 cx=5950 cy=2434 r=31 /><circle class=c8 cx=5889 cy=2624 r=31 /><circle class=c31 cx=5630 cy=4769 r=31 /><circle class=c7 cx=5899 cy=2592 r=31 /><circle class=c18 cx=8559 cy=3611 r=31 /><circle class=c9 cx=5850 cy=2761 r=31 /><circle class=c6 cx=5928 cy=2493 r=31 /><circle class=c3 cx=6021 cy=2230 r=31 /><circle class=c11 cx=5812 cy=2918 r=31 /><circle class=c13 cx=8575 cy=3116 r=31 /><circle class=c2 cx=6065 cy=2117 r=31 /><circle class=c41 cx=6617 cy=5765 r=31 /><circle class=c13 cx=5768 cy=3111 r=31 /><circle class=c5 cx=5983 cy=2332 r=31 /><circle class=c3 cx=6049 cy=2154 r=31 /><circle class=c40 cx=5789 cy=5649 r=31 /><circle class=c10 cx=5831 cy=2832 r=31 /><circle class=c4 cx=5995 cy=2295 r=31 /><circle class=c3 cx=6035 cy=2191 r=31 /><circle class=c4 cx=6008 cy=2261 r=31 /><circle class=c16 cx=8570 cy=3356 r=31 /><circle class=c5 cx=5972 cy=2359 r=31 /><circle class=c44 cx=7791 cy=5989 r=31 /><circle class=c28 cx=5628 cy=4566 r=31 /><circle class=c42 cx=6983 cy=5829 r=31 /><circle class=c6 cx=5940 cy=2454 r=31 /><circle class=c39 cx=8091 cy=5569 r=31 /><circle class=c7 cx=5919 cy=2516 r=31 /><circle class=c2 cx=6066 cy=2110 r=31 /><circle class=c5 cx=5950 cy=2420 r=31 /><circle class=c3 cx=6021 cy=2220 r=31 /><circle class=c5 cx=5961 cy=2387 r=31 /><circle class=c9 cx=5862 cy=2712 r=31 /><circle class=c11 cx=5802 cy=2949 r=31 /><circle class=c13 cx=5759 cy=3154 r=31 /><circle class=c3 cx=6050 cy=2145 r=31 /><circle class=c4 cx=6008 cy=2251 r=31 /><circle class=c3 cx=6036 cy=2182 r=31 /><circle class=c26 cx=5630 cy=4382 r=31 /><circle class=c4 cx=5984 cy=2319 r=31 /><circle class=c7 cx=5910 cy=2541 r=31 /><circle class=c8 cx=5871 cy=2672 r=31 /><circle class=c28 cx=8429 cy=4543 r=31 /><circle class=c4 cx=5996 cy=2284 r=31 /><circle class=c2 cx=6066 cy=2102 r=31 /><circle class=c6 cx=5930 cy=2474 r=31 /><circle class=c9 cx=5843 cy=2776 r=31 /><circle class=c14 cx=5749 cy=3205 r=31 /><circle class=c3 cx=6035 cy=2174 r=31 /><circle class=c3 cx=6022 cy=2211 r=31 /><circle class=c5 cx=5973 cy=2345 r=31 /><circle class=c41 cx=6792 cy=5786 r=31 /><circle class=c10 cx=5824 cy=2852 r=31 /><circle class=c7 cx=5901 cy=2568 r=31 /><circle class=c24 cx=5636 cy=4210 r=31 /><circle class=c8 cx=5882 cy=2633 r=31 /><circle class=c7 cx=5891 cy=2599 r=31 /><circle class=c2 cx=6051 cy=2137 r=31 /><circle class=c21 cx=8541 cy=3829 r=31 /><circle class=c5 cx=5950 cy=2405 r=31 /><circle class=c4 cx=5984 cy=2308 r=31 /><circle class=c5 cx=5962 cy=2374 r=31 /><circle class=c6 cx=5941 cy=2437 r=31 /><circle class=c3 cx=6009 cy=2241 r=31 /></g><g class=a15><circle class=c14 cx=5738 cy=3262 r=31 /><circle class=c2 cx=6066 cy=2094 r=31 /><circle class=c23 cx=5644 cy=4056 r=31 /><circle class=c11 cx=5794 cy=2977 r=31 /><circle class=c4 cx=5997 cy=2273 r=31 /><circle class=c38 cx=8220 cy=5426 r=31 /><circle class=c3 cx=6022 cy=2202 r=31 /><circle class=c6 cx=5921 cy=2496 r=31 /><circle class=c41 cx=6540 cy=5754 r=31 /><circle class=c40 cx=5861 cy=5660 r=31 /><circle class=c3 cx=6036 cy=2165 r=31 /><circle class=c2 cx=6051 cy=2129 r=31 /><circle class=c15 cx=5727 cy=3326 r=31 /><circle class=c21 cx=5655 cy=3912 r=31 /><circle class=c26 cx=8485 cy=4302 r=31 /><circle class=c9 cx=5855 cy=2725 r=31 /><circle class=c16 cx=5714 cy=3402 r=31 /><circle class=c7 cx=5911 cy=2521 r=31 /><circle class=c3 cx=6010 cy=2232 r=31 /><circle class=c5 cx=5975 cy=2332 r=31 /><circle class=c20 cx=5667 cy=3785 r=31 /><circle class=c6 cx=5932 cy=2457 r=31 /><circle class=c10 cx=5815 cy=2877 r=31 /><circle class=c4 cx=5985 cy=2297 r=31 /><circle class=c23 cx=8512 cy=4054 r=31 /><circle class=c18 cx=5690 cy=3573 r=31 /><circle class=c17 cx=5703 cy=3479 r=31 /><circle class=c30 cx=8399 cy=4763 r=31 /><circle class=c4 cx=5997 cy=2263 r=31 /><circle class=c42 cx=7096 cy=5837 r=31 /><circle class=c9 cx=5836 cy=2793 r=31 /><circle class=c19 cx=5680 cy=3669 r=31 /><circle class=c5 cx=5963 cy=2360 r=31 /><circle class=c5 cx=5942 cy=2422 r=31 /><circle class=c8 cx=5865 cy=2682 r=31 /><circle class=c2 cx=6052 cy=2122 r=31 /><circle class=c12 cx=5785 cy=3012 r=31 /><circle class=c12 cx=8572 cy=3071 r=31 /><circle class=c3 cx=6023 cy=2193 r=31 /><circle class=c17 cx=8570 cy=3567 r=31 /><circle class=c3 cx=6037 cy=2157 r=31 /><circle class=c7 cx=5903 cy=2546 r=31 /><circle class=c5 cx=5953 cy=2389 r=31 /><circle class=c3 cx=6010 cy=2223 r=31 /><circle class=c7 cx=5883 cy=2609 r=31 /><circle class=c8 cx=5875 cy=2643 r=31 /><circle class=c35 cx=8297 cy=5209 r=31 /><circle class=c4 cx=5974 cy=2321 r=31 /><circle class=c6 cx=5922 cy=2478 r=31 /><circle class=c7 cx=5894 cy=2575 r=31 /><circle class=c15 cx=8575 cy=3312 r=31 /><circle class=c2 cx=6052 cy=2114 r=31 /><circle class=c3 cx=5998 cy=2253 r=31 /><circle class=c42 cx=7615 cy=5899 r=31 /><circle class=c3 cx=6023 cy=2185 r=31 /><circle class=c2 cx=6037 cy=2149 r=31 /><circle class=c4 cx=5986 cy=2286 r=31 /><circle class=c12 cx=5775 cy=3053 r=31 /><circle class=c40 cx=5933 cy=5688 r=31 /><circle class=c5 cx=5964 cy=2348 r=31 /><circle class=c41 cx=6465 cy=5761 r=31 /><circle class=c9 cx=5847 cy=2741 r=31 /><circle class=c5 cx=5933 cy=2441 r=31 /><circle class=c32 cx=8337 cy=4960 r=31 /><circle class=c10 cx=5808 cy=2901 r=31 /><circle class=c5 cx=5943 cy=2407 r=31 /><circle class=c6 cx=5913 cy=2502 r=31 /><circle class=c3 cx=6011 cy=2214 r=31 /><circle class=c42 cx=7219 cy=5865 r=31 /><circle class=c2 cx=6052 cy=2107 r=31 /><circle class=c5 cx=5954 cy=2375 r=31 /><circle class=c10 cx=5828 cy=2813 r=31 /><circle class=c2 cx=6038 cy=2141 r=31 /><circle class=c4 cx=5986 cy=2276 r=31 /><circle class=c4 cx=5975 cy=2310 r=31 /><circle class=c3 cx=5998 cy=2244 r=31 /><circle class=c3 cx=6024 cy=2176 r=31 /><circle class=c41 cx=6716 cy=5802 r=31 /><circle class=c42 cx=7481 cy=5901 r=31 /><circle class=c12 cx=5765 cy=3096 r=31 /><circle class=c8 cx=5858 cy=2694 r=31 /><circle class=c7 cx=5905 cy=2525 r=31 /><circle class=c3 cx=6011 cy=2205 r=31 /><circle class=c6 cx=5924 cy=2461 r=31 /><circle class=c2 cx=6053 cy=2099 r=31 /><circle class=c2 cx=6038 cy=2133 r=31 /><circle class=c42 cx=6901 cy=5822 r=31 /><circle class=c4 cx=5965 cy=2335 r=31 /><circle class=c42 cx=7344 cy=5874 r=31 /><circle class=c8 cx=5867 cy=2654 r=31 /><circle class=c3 cx=5998 cy=2235 r=31 /><circle class=c3 cx=6024 cy=2168 r=31 /><circle class=c7 cx=5896 cy=2553 r=31 /><circle class=c7 cx=5885 cy=2585 r=31 /><circle class=c5 cx=5943 cy=2393 r=31 /><circle class=c11 cx=5799 cy=2931 r=31 /><circle class=c40 cx=6008 cy=5696 r=31 /><circle class=c5 cx=5955 cy=2362 r=31 /><circle class=c39 cx=7955 cy=5593 r=31 /><circle class=c5 cx=5935 cy=2424 r=31 /><circle class=c7 cx=5877 cy=2616 r=31 /><circle class=c41 cx=6387 cy=5744 r=31 /><circle class=c20 cx=8550 cy=3781 r=31 /><circle class=c4 cx=5976 cy=2298 r=31 /><circle class=c3 cx=5988 cy=2265 r=31 /><circle class=c2 cx=6038 cy=2126 r=31 /><circle class=c9 cx=5840 cy=2758 r=31 /><circle class=c13 cx=5757 cy=3142 r=31 /><circle class=c6 cx=5915 cy=2484 r=31 /><circle class=c3 cx=6012 cy=2196 r=31 /><circle class=c3 cx=6024 cy=2160 r=31 /><circle class=c10 cx=5820 cy=2836 r=31 /><circle class=c39 cx=8173 cy=5613 r=31 /><circle class=c13 cx=6396 cy=3150 r=31 /><circle class=c27 cx=8448 cy=4493 r=31 /><circle class=c12 cx=8587 cy=3034 r=31 /><circle class=c4 cx=5965 cy=2324 r=31 /><circle class=c40 cx=6081 cy=5735 r=31 /><circle class=c3 cx=5999 cy=2225 r=31 /><circle class=c9 cx=5849 cy=2711 r=31 /><circle class=c14 cx=5746 cy=3197 r=31 /><circle class=c3 cx=5988 cy=2256 r=31 /><circle class=c41 cx=6311 cy=5743 r=31 /><circle class=c4 cx=5977 cy=2288 r=31 /><circle class=c6 cx=5906 cy=2507 r=31 /><circle class=c5 cx=5926 cy=2444 r=31 /><circle class=c2 cx=6039 cy=2119 r=31 /><circle class=c3 cx=6012 cy=2188 r=31 /><circle class=c42 cx=7917 cy=5821 r=31 /><circle class=c5 cx=5956 cy=2350 r=31 /><circle class=c2 cx=6025 cy=2153 r=31 /><circle class=c11 cx=5791 cy=2964 r=31 /><circle class=c40 cx=6158 cy=5738 r=31 /><circle class=c5 cx=5945 cy=2379 r=31 /><circle class=c41 cx=6234 cy=5746 r=31 /><circle class=c17 cx=8580 cy=3523 r=31 /><circle class=c38 cx=5716 cy=5523 r=31 /><circle class=c5 cx=5935 cy=2410 r=31 /><circle class=c14 cx=8591 cy=3273 r=31 /><circle class=c14 cx=5734 cy=3261 r=31 /><circle class=c22 cx=8529 cy=4009 r=31 /><circle class=c3 cx=6000 cy=2216 r=31 /><circle class=c8 cx=5860 cy=2667 r=31 /><circle class=c7 cx=5898 cy=2532 r=31 /><circle class=c2 cx=6039 cy=2111 r=31 /><circle class=c4 cx=5967 cy=2312 r=31 /><circle class=c7 cx=5888 cy=2562 r=31 /><circle class=c3 cx=5988 cy=2246 r=31 /><circle class=c24 cx=8488 cy=4240 r=31 /><circle class=c9 cx=5832 cy=2777 r=31 /><circle class=c36 cx=5685 cy=5276 r=31 /><circle class=c10 cx=5813 cy=2860 r=31 /><circle class=c2 cx=6026 cy=2145 r=31 /><circle class=c6 cx=5917 cy=2465 r=31 /><circle class=c3 cx=6013 cy=2180 r=31 /><circle class=c7 cx=5870 cy=2627 r=31 /><circle class=c7 cx=5879 cy=2593 r=31 /><circle class=c4 cx=5978 cy=2277 r=31 /><circle class=c15 cx=5724 cy=3326 r=31 /><circle class=c40 cx=5769 cy=5678 r=31 /><circle class=c11 cx=5781 cy=3002 r=31 /><circle class=c4 cx=5956 cy=2338 r=31 /><circle class=c2 cx=6039 cy=2104 r=31 /><circle class=c33 cx=5665 cy=5034 r=31 /><circle class=c5 cx=5927 cy=2428 r=31 /><circle class=c5 cx=5946 cy=2366 r=31 /><circle class=c5 cx=5936 cy=2396 r=31 /><circle class=c6 cx=5907 cy=2490 r=31 /><circle class=c3 cx=6001 cy=2208 r=31 /><circle class=c41 cx=6635 cy=5782 r=31 /><circle class=c3 cx=6013 cy=2172 r=31 /><circle class=c2 cx=6026 cy=2138 r=31 /><circle class=c16 cx=5713 cy=3400 r=31 /><circle class=c31 cx=5650 cy=4821 r=31 /><circle class=c3 cx=5989 cy=2237 r=31 /><circle class=c4 cx=5967 cy=2301 r=31 /><circle class=c9 cx=5842 cy=2727 r=31 /><circle class=c29 cx=5642 cy=4618 r=31 /><circle class=c42 cx=7014 cy=5843 r=31 /><circle class=c43 cx=7825 cy=5950 r=31 /><circle class=c3 cx=5979 cy=2268 r=31 /><circle class=c17 cx=5701 cy=3486 r=31 /><circle class=c3 cx=6001 cy=2200 r=31 /><circle class=c10 cx=5803 cy=2891 r=31 /><circle class=c5 cx=5917 cy=2450 r=31 /><circle class=c6 cx=5899 cy=2514 r=31 /><circle class=c26 cx=5642 cy=4420 r=31 /><circle class=c12 cx=5772 cy=3043 r=31 /><circle class=c4 cx=5958 cy=2326 r=31 /><circle class=c19 cx=5677 cy=3691 r=31 /><circle class=c29 cx=8397 cy=4685 r=31 /><circle class=c9 cx=5824 cy=2799 r=31 /><circle class=c2 cx=6027 cy=2130 r=31 /><circle class=c24 cx=5644 cy=4244 r=31 /><circle class=c17 cx=5691 cy=3576 r=31 /><circle class=c2 cx=6014 cy=2164 r=31 /><circle class=c20 cx=5667 cy=3806 r=31 /><circle class=c21 cx=5658 cy=3937 r=31 /><circle class=c8 cx=5854 cy=2680 r=31 /><circle class=c23 cx=5650 cy=4080 r=31 /><circle class=c7 cx=5890 cy=2541 r=31 /><circle class=c3 cx=5990 cy=2228 r=31 /><circle class=c5 cx=5947 cy=2353 r=31 /><circle class=c3 cx=5979 cy=2258 r=31 /><circle class=c4 cx=5968 cy=2291 r=31 /><circle class=c5 cx=5928 cy=2414 r=31 /><circle class=c11 cx=8595 cy=2994 r=31 /><circle class=c5 cx=5938 cy=2382 r=31 /><circle class=c7 cx=5863 cy=2640 r=31 /><circle class=c42 cx=6820 cy=5826 r=31 /><circle class=c2 cx=6026 cy=2123 r=31 /><circle class=c3 cx=6002 cy=2191 r=31 /><circle class=c7 cx=5872 cy=2604 r=31 /><circle class=c7 cx=5882 cy=2570 r=31 /><circle class=c36 cx=8219 cy=5329 r=31 /><circle class=c19 cx=8563 cy=3736 r=31 /><circle class=c2 cx=6014 cy=2157 r=31 /><circle class=c6 cx=5910 cy=2471 r=31 /><circle class=c41 cx=8100 cy=5770 r=31 /><circle class=c12 cx=5762 cy=3088 r=31 /><circle class=c4 cx=5958 cy=2315 r=31 /><circle class=c9 cx=5835 cy=2746 r=31 /><circle class=c10 cx=5795 cy=2922 r=31 /><circle class=c3 cx=5991 cy=2219 r=31 /><circle class=c3 cx=5968 cy=2281 r=31 /><circle class=c3 cx=5980 cy=2249 r=31 /><circle class=c3 cx=6002 cy=2184 r=31 /><circle class=c2 cx=6027 cy=2116 r=31 /><circle class=c5 cx=5919 cy=2434 r=31 /><circle class=c40 cx=5844 cy=5695 r=31 /><circle class=c9 cx=5816 cy=2825 r=31 /><circle class=c4 cx=5949 cy=2341 r=31 /><circle class=c6 cx=5901 cy=2495 r=31 /><circle class=c2 cx=6015 cy=2149 r=31 /><circle class=c41 cx=6556 cy=5795 r=31 /><circle class=c14 cx=8594 cy=3229 r=31 /><circle class=c5 cx=5929 cy=2400 r=31 /><circle class=c5 cx=5939 cy=2369 r=31 /><circle class=c8 cx=5845 cy=2698 r=31 /><circle class=c16 cx=8583 cy=3476 r=31 /><circle class=c42 cx=7136 cy=5876 r=31 /><circle class=c13 cx=5753 cy=3138 r=31 /><circle class=c4 cx=5959 cy=2304 r=31 /><circle class=c33 cx=8282 cy=5099 r=31 /><circle class=c2 cx=6028 cy=2109 r=31 /><circle class=c3 cx=5992 cy=2211 r=31 /><circle class=c3 cx=5980 cy=2240 r=31 /><circle class=c2 cx=6003 cy=2176 r=31 /><circle class=c3 cx=5969 cy=2271 r=31 /><circle class=c6 cx=5893 cy=2521 r=31 /><circle class=c31 cx=8322 cy=4860 r=31 /><circle class=c5 cx=5911 cy=2455 r=31 /><circle class=c2 cx=6015 cy=2142 r=31 /><circle class=c8 cx=5856 cy=2655 r=31 /><circle class=c7 cx=5883 cy=2550 r=31 /><circle class=c11 cx=5786 cy=2956 r=31 /><circle class=c3 cx=5991 cy=2203 r=31 /><circle class=c44 cx=7564 cy=6018 r=31 /><circle class=c4 cx=5950 cy=2330 r=31 /><circle class=c13 cx=5741 cy=3199 r=31 /><circle class=c9 cx=5827 cy=2768 r=31 /><circle class=c7 cx=5875 cy=2581 r=31 /><circle class=c7 cx=5866 cy=2615 r=31 /><circle class=c21 cx=8533 cy=3955 r=31 /><circle class=c5 cx=5921 cy=2419 r=31 /><circle class=c26 cx=8445 cy=4422 r=31 /><circle class=c4 cx=5940 cy=2357 r=31 /><circle class=c4 cx=5959 cy=2295 r=31 /><circle class=c3 cx=5980 cy=2232 r=31 /><circle class=c2 cx=6015 cy=2135 r=31 /><circle class=c2 cx=6003 cy=2168 r=31 /><circle class=c10 cx=5808 cy=2851 r=31 /><circle class=c5 cx=5931 cy=2386 r=31 /><circle class=c3 cx=5970 cy=2262 r=31 /><circle class=c24 cx=8507 cy=4195 r=31 /><circle class=c6 cx=5904 cy=2477 r=31 /><circle class=c40 cx=5918 cy=5733 r=31 /><circle class=c14 cx=5731 cy=3261 r=31 /><circle class=c4 cx=5950 cy=2319 r=31 /><circle class=c3 cx=5993 cy=2195 r=31 /><circle class=c2 cx=6004 cy=2161 r=31 /><circle class=c2 cx=6016 cy=2128 r=31 /><circle class=c11 cx=5777 cy=2995 r=31 /><circle class=c6 cx=5893 cy=2504 r=31 /><circle class=c42 cx=7259 cy=5885 r=31 /><circle class=c5 cx=5912 cy=2440 r=31 /><circle class=c3 cx=5960 cy=2285 r=31 /><circle class=c8 cx=5839 cy=2714 r=31 /><circle class=c3 cx=5982 cy=2223 r=31 /><circle class=c41 cx=6476 cy=5786 r=31 /><circle class=c3 cx=5971 cy=2253 r=31 /><circle class=c4 cx=5941 cy=2345 r=31 /><circle class=c5 cx=5931 cy=2374 r=31 /><circle class=c5 cx=5922 cy=2405 r=31 /><circle class=c3 cx=5993 cy=2187 r=31 /><circle class=c6 cx=5886 cy=2530 r=31 /><circle class=c8 cx=5849 cy=2669 r=31 /><circle class=c2 cx=6016 cy=2121 r=31 /><circle class=c15 cx=5721 cy=3330 r=31 /><circle class=c9 cx=5820 cy=2789 r=31 /><circle class=c2 cx=6004 cy=2154 r=31 /><circle class=c41 cx=6739 cy=5836 r=31 /><circle class=c4 cx=5951 cy=2309 r=31 /><circle class=c10 cx=5800 cy=2880 r=31 /><circle class=c3 cx=5982 cy=2215 r=31 /><circle class=c41 cx=7615 cy=5779 r=31 /><circle class=c7 cx=5877 cy=2560 r=31 /><circle class=c5 cx=5904 cy=2461 r=31 /><circle class=c7 cx=5859 cy=2628 r=31 /><circle class=c3 cx=5961 cy=2275 r=31 /><circle class=c3 cx=5971 cy=2244 r=31 /><circle class=c42 cx=6930 cy=5847 r=31 /><circle class=c12 cx=5768 cy=3038 r=31 /><circle class=c7 cx=5869 cy=2591 r=31 /><circle class=c42 cx=7379 cy=5862 r=31 /><circle class=c16 cx=5709 cy=3411 r=31 /><circle class=c4 cx=5941 cy=2334 r=31 /><circle class=c2 cx=6017 cy=2115 r=31 /><circle class=c19 cx=8571 cy=3688 r=31 /><circle class=c2 cx=6005 cy=2147 r=31 /><circle class=c2 cx=5994 cy=2180 r=31 /><circle class=c5 cx=5914 cy=2424 r=31 /><circle class=c41 cx=6396 cy=5799 r=31 /><circle class=c13 cx=8604 cy=3189 r=31 /><circle class=c40 cx=5997 cy=5729 r=31 /><circle class=c8 cx=5831 cy=2736 r=31 /><circle class=c6 cx=5896 cy=2485 r=31 /><circle class=c3 cx=5982 cy=2207 r=31 /><circle class=c4 cx=5933 cy=2361 r=31 /><circle class=c5 cx=5924 cy=2391 r=31 /><circle class=c3 cx=5952 cy=2298 r=31 /><circle class=c2 cx=5993 cy=2173 r=31 /><circle class=c3 cx=5962 cy=2266 r=31 /><circle class=c3 cx=5972 cy=2235 r=31 /><circle class=c16 cx=5700 cy=3497 r=31 /><circle class=c2 cx=6005 cy=2140 r=31 /><circle class=c16 cx=8593 cy=3433 r=31 /><circle class=c6 cx=5887 cy=2512 r=31 /><circle class=c9 cx=5812 cy=2816 r=31 /><circle class=c12 cx=5759 cy=3086 r=31 /><circle class=c28 cx=8404 cy=4620 r=31 /><circle class=c10 cx=5793 cy=2911 r=31 /><circle class=c17 cx=5687 cy=3602 r=31 /><circle class=c15 cx=7660 cy=3380 r=31 /><circle class=c4 cx=5943 cy=2323 r=31 /><circle class=c5 cx=5906 cy=2446 r=31 /><circle class=c8 cx=5842 cy=2686 r=31 /><circle class=c40 cx=6075 cy=5756 r=31 /><circle class=c3 cx=5984 cy=2199 r=31 /><circle class=c6 cx=5879 cy=2540 r=31 /><circle class=c37 cx=8141 cy=5456 r=31 /><circle class=c2 cx=6005 cy=2133 r=31 /><circle class=c4 cx=5934 cy=2350 r=31 /><circle class=c5 cx=5915 cy=2411 r=31 /><circle class=c3 cx=5973 cy=2227 r=31 /><circle class=c7 cx=5851 cy=2645 r=31 /><circle class=c2 cx=5994 cy=2165 r=31 /><circle class=c3 cx=5962 cy=2257 r=31 /><circle class=c3 cx=5953 cy=2288 r=31 /><circle class=c41 cx=6315 cy=5778 r=31 /><circle class=c19 cx=5678 cy=3710 r=31 /><circle class=c5 cx=5925 cy=2379 r=31 /><circle class=c7 cx=5861 cy=2606 r=31 /><circle class=c7 cx=5871 cy=2571 r=31 /><circle class=c5 cx=5897 cy=2469 r=31 /><circle class=c40 cx=6235 cy=5776 r=31 /><circle class=c9 cx=5823 cy=2759 r=31 /><circle class=c2 cx=5984 cy=2192 r=31 /><circle class=c12 cx=5748 cy=3141 r=31 /><circle class=c40 cx=6155 cy=5757 r=31 /><circle class=c20 cx=5669 cy=3833 r=31 /><circle class=c2 cx=5994 cy=2158 r=31 /><circle class=c4 cx=5944 cy=2312 r=31 /><circle class=c2 cx=6006 cy=2126 r=31 /><circle class=c10 cx=5783 cy=2950 r=31 /><circle class=c3 cx=5973 cy=2219 r=31 /><circle class=c21 cx=5661 cy=3973 r=31 /><circle class=c21 cx=8543 cy=3906 r=31 /><circle class=c5 cx=5907 cy=2432 r=31 /><circle class=c3 cx=5954 cy=2279 r=31 /><circle class=c3 cx=5963 cy=2248 r=31 /><circle class=c9 cx=5804 cy=2843 r=31 /><circle class=c2 cx=5984 cy=2184 r=31 /><circle class=c6 cx=5890 cy=2494 r=31 /><circle class=c4 cx=5925 cy=2367 r=31 /><circle class=c4 cx=5935 cy=2338 r=31 /><circle class=c2 cx=5995 cy=2151 r=31 /><circle class=c5 cx=5917 cy=2397 r=31 /><circle class=c2 cx=6006 cy=2120 r=31 /><circle class=c23 cx=5656 cy=4121 r=31 /><circle class=c8 cx=5835 cy=2706 r=31 /><circle class=c41 cx=6656 cy=5835 r=31 /><circle class=c6 cx=5880 cy=2522 r=31 /><circle class=c3 cx=5974 cy=2211 r=31 /><circle class=c3 cx=5945 cy=2302 r=31 /><circle class=c42 cx=7051 cy=5884 r=31 /><circle class=c13 cx=5739 cy=3199 r=31 /><circle class=c26 cx=8461 cy=4372 r=31 /><circle class=c3 cx=5953 cy=2270 r=31 /><circle class=c25 cx=5654 cy=4287 r=31 /><circle class=c2 cx=5984 cy=2177 r=31 /><circle class=c3 cx=5964 cy=2239 r=31 /><circle class=c5 cx=5899 cy=2453 r=31 /><circle class=c27 cx=5655 cy=4472 r=31 /><circle class=c7 cx=5845 cy=2661 r=31 /><circle class=c11 cx=5773 cy=2994 r=31 /><circle class=c30 cx=8340 cy=4805 r=31 /><circle class=c6 cx=5873 cy=2551 r=31 /><circle class=c7 cx=5863 cy=2585 r=31 /><circle class=c42 cx=7854 cy=5901 r=31 /><circle class=c23 cx=8503 cy=4130 r=31 /><circle class=c7 cx=5855 cy=2620 r=31 /><circle class=c2 cx=5996 cy=2145 r=31 /><circle class=c4 cx=5936 cy=2327 r=31 /><circle class=c9 cx=5816 cy=2783 r=31 /><circle class=c5 cx=5909 cy=2417 r=31 /><circle class=c5 cx=5917 cy=2385 r=31 /><circle class=c29 cx=5664 cy=4660 r=31 /><circle class=c3 cx=5975 cy=2204 r=31 /><circle class=c35 cx=8208 cy=5220 r=31 /><circle class=c4 cx=5927 cy=2355 r=31 /><circle class=c12 cx=8614 cy=3149 r=31 /><circle class=c14 cx=5728 cy=3269 r=31 /><circle class=c3 cx=5945 cy=2293 r=31 /><circle class=c3 cx=5964 cy=2231 r=31 /><circle class=c10 cx=5796 cy=2875 r=31 /><circle class=c2 cx=5985 cy=2170 r=31 /><circle class=c5 cx=5891 cy=2478 r=31 /><circle class=c31 cx=5677 cy=4871 r=31 /><circle class=c33 cx=8291 cy=5028 r=31 /><circle class=c3 cx=5955 cy=2261 r=31 /><circle class=c2 cx=5996 cy=2138 r=31 /><circle class=c18 cx=8575 cy=3640 r=31 /><circle class=c38 cx=5767 cy=5562 r=31 /><circle class=c33 cx=5700 cy=5079 r=31 /><circle class=c4 cx=5936 cy=2318 r=31 /><circle class=c2 cx=5975 cy=2196 r=31 /><circle class=c41 cx=6847 cy=5856 r=31 /><circle class=c6 cx=5882 cy=2504 r=31 /><circle class=c8 cx=5827 cy=2727 r=31 /><circle class=c35 cx=5730 cy=5307 r=31 /><circle class=c5 cx=5900 cy=2439 r=31 /><circle class=c2 cx=5985 cy=2163 r=31 /><circle class=c15 cx=8598 cy=3388 r=31 /><circle class=c2 cx=5997 cy=2132 r=31 /><circle class=c4 cx=5928 cy=2344 r=31 /><circle class=c3 cx=5946 cy=2283 r=31 /><circle class=c3 cx=5966 cy=2223 r=31 /><circle class=c15 cx=5718 cy=3342 r=31 /><circle class=c5 cx=5909 cy=2404 r=31 /><circle class=c11 cx=5766 cy=3034 r=31 /><circle class=c3 cx=5956 cy=2252 r=31 /><circle class=c4 cx=5919 cy=2373 r=31 /><circle class=c6 cx=5874 cy=2533 r=31 /><circle class=c2 cx=5975 cy=2189 r=31 /><circle class=c7 cx=5837 cy=2680 r=31 /><circle class=c40 cx=5826 cy=5731 r=31 /><circle class=c9 cx=5808 cy=2809 r=31 /><circle class=c10 cx=5787 cy=2912 r=31 /><circle class=c6 cx=5865 cy=2564 r=31 /><circle class=c5 cx=5892 cy=2463 r=31 /><circle class=c2 cx=5997 cy=2125 r=31 /><circle class=c3 cx=5937 cy=2308 r=31 /><circle class=c7 cx=5847 cy=2637 r=31 /><circle class=c2 cx=5986 cy=2156 r=31 /><circle class=c42 cx=7179 cy=5922 r=31 /><circle class=c3 cx=5966 cy=2216 r=31 /><circle class=c7 cx=5857 cy=2598 r=31 /><circle class=c3 cx=5947 cy=2275 r=31 /><circle class=c41 cx=6573 cy=5835 r=31 /><circle class=c16 cx=5708 cy=3426 r=31 /><circle class=c3 cx=5956 cy=2244 r=31 /><circle class=c4 cx=5928 cy=2334 r=31 /><circle class=c5 cx=5901 cy=2425 r=31 /><circle class=c2 cx=5976 cy=2182 r=31 /><circle class=c12 cx=5756 cy=3087 r=31 /><circle class=c2 cx=5986 cy=2150 r=31 /><circle class=c4 cx=5919 cy=2361 r=31 /><circle class=c5 cx=5911 cy=2391 r=31 /><circle class=c5 cx=5885 cy=2487 r=31 /><circle class=c8 cx=5819 cy=2752 r=31 /><circle class=c42 cx=7711 cy=5911 r=31 /><circle class=c2 cx=5966 cy=2208 r=31 /><circle class=c3 cx=5938 cy=2298 r=31 /><circle class=c38 cx=8041 cy=5552 r=31 /><circle class=c43 cx=7608 cy=6022 r=31 /><circle class=c3 cx=5957 cy=2236 r=31 /><circle class=c2 cx=5977 cy=2175 r=31 /><circle class=c16 cx=5698 cy=3519 r=31 /><circle class=c28 cx=8425 cy=4572 r=31 /><circle class=c3 cx=5948 cy=2265 r=31 /><circle class=c6 cx=5876 cy=2515 r=31 /><circle class=c5 cx=5893 cy=2448 r=31 /><circle class=c2 cx=5987 cy=2143 r=31 /><circle class=c10 cx=5779 cy=2950 r=31 /><circle class=c9 cx=5800 cy=2841 r=31 /><circle class=c42 cx=7315 cy=5958 r=31 /><circle class=c4 cx=5930 cy=2323 r=31 /><circle class=c8 cx=5831 cy=2700 r=31 /><circle class=c12 cx=5744 cy=3148 r=31 /><circle class=c20 cx=8549 cy=3855 r=31 /><circle class=c2 cx=5967 cy=2201 r=31 /><circle class=c6 cx=5868 cy=2545 r=31 /><circle class=c5 cx=5903 cy=2412 r=31 /><circle class=c3 cx=5938 cy=2289 r=31 /><circle class=c7 cx=5858 cy=2579 r=31 /><circle class=c7 cx=5840 cy=2656 r=31 /><circle class=c4 cx=5921 cy=2350 r=31 /><circle class=c3 cx=5957 cy=2228 r=31 /><circle class=c2 cx=5977 cy=2168 r=31 /><circle class=c4 cx=5912 cy=2379 r=31 /><circle class=c2 cx=5987 cy=2137 r=31 /><circle class=c17 cx=5686 cy=3628 r=31 /><circle class=c7 cx=5850 cy=2615 r=31 /><circle class=c3 cx=5948 cy=2257 r=31 /><circle class=c5 cx=5885 cy=2472 r=31 /><circle class=c40 cx=5905 cy=5756 r=31 /><circle class=c12 cx=8611 cy=3103 r=31 /><circle class=c9 cx=5811 cy=2780 r=31 /><circle class=c3 cx=5930 cy=2313 r=31 /><circle class=c2 cx=5968 cy=2194 r=31 /><circle class=c42 cx=7439 cy=5933 r=31 /><circle class=c2 cx=5977 cy=2161 r=31 /><circle class=c2 cx=5988 cy=2131 r=31 /><circle class=c3 cx=5958 cy=2221 r=31 /><circle class=c3 cx=5939 cy=2280 r=31 /><circle class=c5 cx=5895 cy=2433 r=31 /><circle class=c13 cx=5734 cy=3213 r=31 /><circle class=c4 cx=5921 cy=2339 r=31 /><circle class=c11 cx=5770 cy=2993 r=31 /><circle class=c41 cx=6487 cy=5818 r=31 /><circle class=c5 cx=5878 cy=2498 r=31 /><circle class=c3 cx=5949 cy=2249 r=31 /><circle class=c10 cx=5791 cy=2875 r=31 /><circle class=c23 cx=8523 cy=4088 r=31 /><circle class=c5 cx=5904 cy=2399 r=31 /><circle class=c19 cx=5681 cy=3737 r=31 /><circle class=c4 cx=5913 cy=2368 r=31 /><circle class=c25 cx=8472 cy=4318 r=31 /><circle class=c2 cx=5968 cy=2187 r=31 /><circle class=c37 cx=8188 cy=5440 r=31 /><circle class=c8 cx=5823 cy=2724 r=31 /><circle class=c17 cx=8582 cy=3593 r=31 /><circle class=c14 cx=8606 cy=3345 r=31 /><circle class=c6 cx=5869 cy=2527 r=31 /><circle class=c42 cx=6964 cy=5892 r=31 /><circle class=c3 cx=5931 cy=2303 r=31 /><circle class=c2 cx=5979 cy=2155 r=31 /><circle class=c2 cx=5958 cy=2213 r=31 /><circle class=c41 cx=6761 cy=5857 r=31 /><circle class=c5 cx=5887 cy=2457 r=31 /><circle class=c3 cx=5940 cy=2271 r=31 /><circle class=c6 cx=5861 cy=2559 r=31 /><circle class=c20 cx=5673 cy=3867 r=31 /><circle class=c7 cx=5833 cy=2675 r=31 /><circle class=c3 cx=5950 cy=2241 r=31 /><circle class=c4 cx=5923 cy=2329 r=31 /><circle class=c7 cx=5851 cy=2594 r=31 /><circle class=c2 cx=5969 cy=2180 r=31 /><circle class=c7 cx=5843 cy=2632 r=31 /><circle class=c5 cx=5896 cy=2420 r=31 /><circle class=c2 cx=5979 cy=2148 r=31 /><circle class=c30 cx=8372 cy=4769 r=31 /><circle class=c14 cx=5725 cy=3281 r=31 /><circle class=c40 cx=5986 cy=5769 r=31 /><circle class=c11 cx=5760 cy=3044 r=31 /><circle class=c9 cx=5804 cy=2808 r=31 /><circle class=c4 cx=5915 cy=2356 r=31 /><circle class=c4 cx=5906 cy=2386 r=31 /><circle class=c2 cx=5960 cy=2206 r=31 /><circle class=c5 cx=5879 cy=2482 r=31 /></g><g class=a16><circle class=c3 cx=5932 cy=2294 r=31 /><circle class=c3 cx=5950 cy=2233 r=31 /><circle class=c41 cx=6404 cy=5824 r=31 /><circle class=c3 cx=5941 cy=2262 r=31 /><circle class=c2 cx=5969 cy=2173 r=31 /><circle class=c21 cx=5667 cy=4012 r=31 /><circle class=c10 cx=5783 cy=2912 r=31 /><circle class=c2 cx=5979 cy=2142 r=31 /><circle class=c3 cx=5923 cy=2319 r=31 /><circle class=c5 cx=5871 cy=2510 r=31 /><circle class=c2 cx=5960 cy=2199 r=31 /><circle class=c5 cx=5889 cy=2442 r=31 /><circle class=c32 cx=8333 cy=5003 r=31 /><circle class=c8 cx=5816 cy=2748 r=31 /><circle class=c4 cx=5915 cy=2346 r=31 /><circle class=c2 cx=5970 cy=2167 r=31 /><circle class=c5 cx=5897 cy=2407 r=31 /><circle class=c3 cx=5933 cy=2285 r=31 /><circle class=c2 cx=5980 cy=2136 r=31 /><circle class=c3 cx=5951 cy=2226 r=31 /><circle class=c3 cx=5942 cy=2254 r=31 /><circle class=c14 cx=5716 cy=3358 r=31 /><circle class=c6 cx=5862 cy=2541 r=31 /><circle class=c4 cx=5907 cy=2375 r=31 /><circle class=c23 cx=5666 cy=4167 r=31 /><circle class=c40 cx=6069 cy=5778 r=31 /><circle class=c7 cx=5825 cy=2699 r=31 /><circle class=c3 cx=5924 cy=2310 r=31 /><circle class=c12 cx=5752 cy=3095 r=31 /><circle class=c2 cx=5961 cy=2192 r=31 /><circle class=c40 cx=6319 cy=5814 r=31 /><circle class=c5 cx=5881 cy=2467 r=31 /><circle class=c6 cx=5854 cy=2574 r=31 /><circle class=c7 cx=5844 cy=2611 r=31 /><circle class=c9 cx=5795 cy=2841 r=31 /><circle class=c2 cx=5970 cy=2160 r=31 /><circle class=c7 cx=5836 cy=2651 r=31 /><circle class=c2 cx=5951 cy=2218 r=31 /><circle class=c3 cx=5933 cy=2277 r=31 /><circle class=c11 cx=8623 cy=3065 r=31 /><circle class=c3 cx=5943 cy=2246 r=31 /><circle class=c33 cx=8210 cy=5136 r=31 /><circle class=c40 cx=6152 cy=5790 r=31 /><circle class=c5 cx=5890 cy=2429 r=31 /><circle class=c10 cx=5775 cy=2952 r=31 /><circle class=c3 cx=5916 cy=2335 r=31 /><circle class=c2 cx=5961 cy=2185 r=31 /><circle class=c19 cx=8561 cy=3810 r=31 /><circle class=c40 cx=6235 cy=5798 r=31 /><circle class=c16 cx=5704 cy=3452 r=31 /><circle class=c25 cx=5668 cy=4337 r=31 /><circle class=c2 cx=5970 cy=2154 r=31 /><circle class=c4 cx=5907 cy=2364 r=31 /><circle class=c5 cx=5872 cy=2494 r=31 /><circle class=c4 cx=5899 cy=2395 r=31 /><circle class=c3 cx=5925 cy=2301 r=31 /><circle class=c2 cx=5952 cy=2211 r=31 /><circle class=c9 cx=5806 cy=2779 r=31 /><circle class=c3 cx=5934 cy=2268 r=31 /><circle class=c3 cx=5943 cy=2239 r=31 /><circle class=c2 cx=5961 cy=2179 r=31 /><circle class=c12 cx=5742 cy=3157 r=31 /><circle class=c42 cx=7086 cy=5912 r=31 /><circle class=c3 cx=5916 cy=2326 r=31 /><circle class=c2 cx=5971 cy=2148 r=31 /><circle class=c5 cx=5882 cy=2453 r=31 /><circle class=c41 cx=6676 cy=5872 r=31 /><circle class=c5 cx=5865 cy=2522 r=31 /><circle class=c27 cx=5674 cy=4523 r=31 /><circle class=c8 cx=5817 cy=2724 r=31 /><circle class=c4 cx=5908 cy=2354 r=31 /><circle class=c14 cx=8613 cy=3302 r=31 /><circle class=c4 cx=5899 cy=2384 r=31 /><circle class=c2 cx=5953 cy=2204 r=31 /><circle class=c3 cx=5926 cy=2292 r=31 /><circle class=c5 cx=5892 cy=2416 r=31 /><circle class=c6 cx=5857 cy=2554 r=31 /><circle class=c26 cx=8424 cy=4502 r=31 /><circle class=c9 cx=5787 cy=2876 r=31 /><circle class=c16 cx=8594 cy=3551 r=31 /><circle class=c3 cx=5944 cy=2231 r=31 /><circle class=c2 cx=5962 cy=2172 r=31 /><circle class=c16 cx=5698 cy=3545 r=31 /><circle class=c6 cx=5847 cy=2591 r=31 /><circle class=c10 cx=5766 cy=2999 r=31 /><circle class=c2 cx=5972 cy=2142 r=31 /><circle class=c7 cx=5838 cy=2630 r=31 /><circle class=c3 cx=5936 cy=2260 r=31 /><circle class=c7 cx=5829 cy=2673 r=31 /><circle class=c5 cx=5875 cy=2478 r=31 /><circle class=c3 cx=5918 cy=2316 r=31 /><circle class=c2 cx=5954 cy=2197 r=31 /><circle class=c29 cx=5689 cy=4715 r=31 /><circle class=c13 cx=5730 cy=3228 r=31 /><circle class=c2 cx=5962 cy=2166 r=31 /><circle class=c21 cx=8522 cy=4029 r=31 /><circle class=c4 cx=5909 cy=2343 r=31 /><circle class=c2 cx=5945 cy=2224 r=31 /><circle class=c3 cx=5935 cy=2252 r=31 /><circle class=c3 cx=5927 cy=2283 r=31 /><circle class=c5 cx=5884 cy=2439 r=31 /><circle class=c9 cx=5799 cy=2809 r=31 /><circle class=c5 cx=5867 cy=2506 r=31 /><circle class=c41 cx=6876 cy=5897 r=31 /><circle class=c4 cx=5901 cy=2372 r=31 /><circle class=c17 cx=5687 cy=3661 r=31 /><circle class=c4 cx=5893 cy=2404 r=31 /><circle class=c43 cx=7800 cy=6018 r=31 /><circle class=c2 cx=5954 cy=2191 r=31 /><circle class=c2 cx=5963 cy=2160 r=31 /><circle class=c24 cx=8469 cy=4252 r=31 /><circle class=c3 cx=5919 cy=2307 r=31 /><circle class=c31 cx=5710 cy=4924 r=31 /><circle class=c2 cx=5945 cy=2217 r=31 /><circle class=c6 cx=5858 cy=2537 r=31 /><circle class=c11 cx=5757 cy=3051 r=31 /><circle class=c3 cx=5928 cy=2274 r=31 /><circle class=c10 cx=5779 cy=2916 r=31 /><circle class=c8 cx=5811 cy=2749 r=31 /><circle class=c3 cx=5937 cy=2244 r=31 /><circle class=c5 cx=5877 cy=2463 r=31 /><circle class=c44 cx=7700 cy=6152 r=31 /><circle class=c3 cx=5910 cy=2333 r=31 /><circle class=c2 cx=5954 cy=2184 r=31 /><circle class=c6 cx=5850 cy=2570 r=31 /><circle class=c7 cx=5839 cy=2610 r=31 /><circle class=c2 cx=5964 cy=2153 r=31 /><circle class=c5 cx=5885 cy=2426 r=31 /><circle class=c4 cx=5902 cy=2362 r=31 /><circle class=c4 cx=5893 cy=2393 r=31 /><circle class=c7 cx=5822 cy=2696 r=31 /><circle class=c14 cx=5722 cy=3302 r=31 /><circle class=c42 cx=7213 cy=5927 r=31 /><circle class=c2 cx=5945 cy=2210 r=31 /><circle class=c7 cx=5831 cy=2650 r=31 /><circle class=c3 cx=5919 cy=2298 r=31 /><circle class=c33 cx=5738 cy=5147 r=31 /><circle class=c19 cx=5680 cy=3783 r=31 /><circle class=c2 cx=5937 cy=2237 r=31 /><circle class=c5 cx=5869 cy=2490 r=31 /><circle class=c37 cx=8037 cy=5447 r=31 /><circle class=c3 cx=5929 cy=2266 r=31 /><circle class=c2 cx=5955 cy=2178 r=31 /><circle class=c2 cx=5964 cy=2148 r=31 /><circle class=c9 cx=5791 cy=2844 r=31 /><circle class=c41 cx=6588 cy=5860 r=31 /><circle class=c3 cx=5912 cy=2323 r=31 /><circle class=c2 cx=5946 cy=2203 r=31 /><circle class=c5 cx=5877 cy=2450 r=31 /><circle class=c36 cx=5777 cy=5368 r=31 /><circle class=c29 cx=8376 cy=4701 r=31 /><circle class=c5 cx=5860 cy=2520 r=31 /><circle class=c2 cx=5937 cy=2230 r=31 /><circle class=c3 cx=5903 cy=2351 r=31 /><circle class=c3 cx=5920 cy=2290 r=31 /><circle class=c2 cx=5955 cy=2172 r=31 /><circle class=c4 cx=5894 cy=2381 r=31 /><circle class=c10 cx=5770 cy=2962 r=31 /><circle class=c12 cx=5748 cy=3107 r=31 /><circle class=c3 cx=5929 cy=2258 r=31 /><circle class=c4 cx=5887 cy=2413 r=31 /><circle class=c8 cx=5802 cy=2780 r=31 /><circle class=c42 cx=7356 cy=5976 r=31 /><circle class=c2 cx=5946 cy=2197 r=31 /><circle class=c6 cx=5851 cy=2554 r=31 /><circle class=c19 cx=8564 cy=3759 r=31 /><circle class=c20 cx=5676 cy=3917 r=31 /><circle class=c15 cx=5713 cy=3384 r=31 /><circle class=c43 cx=7510 cy=6028 r=31 /><circle class=c3 cx=5913 cy=2314 r=31 /><circle class=c2 cx=5956 cy=2165 r=31 /><circle class=c6 cx=5843 cy=2589 r=31 /><circle class=c2 cx=5939 cy=2223 r=31 /><circle class=c3 cx=5921 cy=2281 r=31 /><circle class=c13 cx=8617 cy=3259 r=31 /><circle class=c5 cx=5871 cy=2475 r=31 /><circle class=c38 cx=5830 cy=5566 r=31 /><circle class=c3 cx=5930 cy=2251 r=31 /><circle class=c8 cx=5815 cy=2721 r=31 /><circle class=c3 cx=5904 cy=2341 r=31 /><circle class=c7 cx=5824 cy=2674 r=31 /><circle class=c7 cx=5834 cy=2629 r=31 /><circle class=c2 cx=5947 cy=2190 r=31 /><circle class=c5 cx=5879 cy=2437 r=31 /><circle class=c4 cx=5896 cy=2370 r=31 /><circle class=c16 cx=8602 cy=3507 r=31 /><circle class=c40 cx=5890 cy=5791 r=31 /><circle class=c4 cx=5888 cy=2402 r=31 /><circle class=c2 cx=5956 cy=2159 r=31 /><circle class=c9 cx=5783 cy=2883 r=31 /><circle class=c35 cx=8167 cy=5311 r=31 /><circle class=c5 cx=5862 cy=2504 r=31 /><circle class=c3 cx=5913 cy=2305 r=31 /><circle class=c2 cx=5939 cy=2216 r=31 /><circle class=c12 cx=5738 cy=3174 r=31 /><circle class=c2 cx=5931 cy=2243 r=31 /><circle class=c3 cx=5922 cy=2273 r=31 /><circle class=c22 cx=5674 cy=4066 r=31 /><circle class=c10 cx=5761 cy=3011 r=31 /><circle class=c31 cx=8321 cy=4907 r=31 /><circle class=c2 cx=5957 cy=2153 r=31 /><circle class=c3 cx=5905 cy=2331 r=31 /><circle class=c5 cx=5853 cy=2537 r=31 /><circle class=c2 cx=5949 cy=2183 r=31 /><circle class=c5 cx=5871 cy=2463 r=31 /><circle class=c16 cx=5705 cy=3477 r=31 /><circle class=c41 cx=6501 cy=5867 r=31 /><circle class=c2 cx=5939 cy=2209 r=31 /><circle class=c4 cx=5897 cy=2359 r=31 /><circle class=c9 cx=5796 cy=2812 r=31 /><circle class=c42 cx=6998 cy=5936 r=31 /><circle class=c3 cx=5915 cy=2296 r=31 /><circle class=c2 cx=5931 cy=2236 r=31 /><circle class=c4 cx=5881 cy=2424 r=31 /><circle class=c4 cx=5889 cy=2390 r=31 /><circle class=c2 cx=5949 cy=2177 r=31 /><circle class=c6 cx=5844 cy=2571 r=31 /><circle class=c3 cx=5923 cy=2265 r=31 /><circle class=c33 cx=8248 cy=5107 r=31 /><circle class=c41 cx=6788 cy=5910 r=31 /><circle class=c21 cx=8527 cy=3976 r=31 /><circle class=c8 cx=5807 cy=2751 r=31 /><circle class=c5 cx=5863 cy=2490 r=31 /><circle class=c3 cx=5906 cy=2322 r=31 /><circle class=c6 cx=5836 cy=2609 r=31 /><circle class=c2 cx=5940 cy=2203 r=31 /><circle class=c7 cx=5816 cy=2700 r=31 /><circle class=c26 cx=8430 cy=4441 r=31 /><circle class=c7 cx=5827 cy=2651 r=31 /><circle class=c2 cx=5931 cy=2229 r=31 /><circle class=c3 cx=5914 cy=2289 r=31 /><circle class=c2 cx=5949 cy=2171 r=31 /><circle class=c3 cx=5923 cy=2258 r=31 /><circle class=c10 cx=5775 cy=2924 r=31 /><circle class=c13 cx=5728 cy=3246 r=31 /><circle class=c3 cx=5898 cy=2349 r=31 /><circle class=c23 cx=5679 cy=4219 r=31 /><circle class=c5 cx=5873 cy=2448 r=31 /><circle class=c4 cx=5889 cy=2380 r=31 /><circle class=c17 cx=5696 cy=3584 r=31 /><circle class=c40 cx=5976 cy=5795 r=31 /><circle class=c23 cx=8495 cy=4214 r=31 /><circle class=c5 cx=5855 cy=2520 r=31 /><circle class=c4 cx=5882 cy=2412 r=31 /><circle class=c2 cx=5941 cy=2196 r=31 /><circle class=c11 cx=5752 cy=3066 r=31 /><circle class=c2 cx=5949 cy=2165 r=31 /><circle class=c3 cx=5907 cy=2313 r=31 /><circle class=c2 cx=5932 cy=2222 r=31 /><circle class=c2 cx=5924 cy=2250 r=31 /><circle class=c41 cx=6412 cy=5863 r=31 /><circle class=c3 cx=5916 cy=2280 r=31 /><circle class=c9 cx=5787 cy=2850 r=31 /><circle class=c6 cx=5846 cy=2553 r=31 /><circle class=c5 cx=5864 cy=2476 r=31 /><circle class=c2 cx=5941 cy=2190 r=31 /><circle class=c3 cx=5900 cy=2339 r=31 /><circle class=c2 cx=5950 cy=2160 r=31 /><circle class=c4 cx=5874 cy=2436 r=31 /><circle class=c3 cx=5907 cy=2305 r=31 /><circle class=c6 cx=5838 cy=2590 r=31 /><circle class=c4 cx=5891 cy=2369 r=31 /><circle class=c2 cx=5934 cy=2215 r=31 /><circle class=c4 cx=5882 cy=2401 r=31 /><circle class=c25 cx=5683 cy=4404 r=31 /><circle class=c3 cx=5915 cy=2273 r=31 /><circle class=c8 cx=5799 cy=2784 r=31 /><circle class=c2 cx=5925 cy=2243 r=31 /><circle class=c40 cx=6061 cy=5822 r=31 /><circle class=c7 cx=5828 cy=2631 r=31 /><circle class=c2 cx=5942 cy=2184 r=31 /><circle class=c13 cx=8629 cy=3219 r=31 /><circle class=c7 cx=5809 cy=2727 r=31 /><circle class=c14 cx=5720 cy=3326 r=31 /><circle class=c10 cx=5765 cy=2973 r=31 /><circle class=c5 cx=5857 cy=2504 r=31 /><circle class=c7 cx=5820 cy=2675 r=31 /><circle class=c18 cx=5690 cy=3697 r=31 /><circle class=c18 cx=8574 cy=3714 r=31 /><circle class=c41 cx=6324 cy=5859 r=31 /><circle class=c2 cx=5934 cy=2209 r=31 /><circle class=c3 cx=5901 cy=2330 r=31 /><circle class=c12 cx=5744 cy=3126 r=31 /><circle class=c2 cx=5942 cy=2178 r=31 /><circle class=c2 cx=5926 cy=2236 r=31 /><circle class=c3 cx=5909 cy=2296 r=31 /><circle class=c5 cx=5867 cy=2462 r=31 /><circle class=c3 cx=5917 cy=2265 r=31 /><circle class=c3 cx=5893 cy=2358 r=31 /><circle class=c5 cx=5848 cy=2537 r=31 /><circle class=c15 cx=8609 cy=3462 r=31 /><circle class=c4 cx=5884 cy=2390 r=31 /><circle class=c4 cx=5875 cy=2424 r=31 /><circle class=c40 cx=6149 cy=5813 r=31 /><circle class=c2 cx=5934 cy=2203 r=31 /><circle class=c40 cx=6236 cy=5832 r=31 /><circle class=c9 cx=5778 cy=2892 r=31 /><circle class=c3 cx=5901 cy=2321 r=31 /><circle class=c2 cx=5944 cy=2172 r=31 /><circle class=c42 cx=7124 cy=5954 r=31 /><circle class=c2 cx=5926 cy=2229 r=31 /><circle class=c6 cx=5840 cy=2572 r=31 /><circle class=c27 cx=5698 cy=4582 r=31 /><circle class=c3 cx=5909 cy=2288 r=31 /><circle class=c2 cx=5918 cy=2257 r=31 /><circle class=c3 cx=5892 cy=2350 r=31 /><circle class=c5 cx=5859 cy=2489 r=31 /><circle class=c2 cx=5935 cy=2196 r=31 /><circle class=c28 cx=8380 cy=4633 r=31 /><circle class=c41 cx=6696 cy=5905 r=31 /><circle class=c2 cx=5944 cy=2166 r=31 /><circle class=c15 cx=5711 cy=3414 r=31 /><circle class=c19 cx=5685 cy=3828 r=31 /><circle class=c9 cx=5791 cy=2818 r=31 /><circle class=c5 cx=5868 cy=2449 r=31 /><circle class=c4 cx=5875 cy=2413 r=31 /><circle class=c6 cx=5832 cy=2610 r=31 /><circle class=c4 cx=5886 cy=2378 r=31 /><circle class=c10 cx=5757 cy=3026 r=31 /><circle class=c7 cx=5821 cy=2656 r=31 /><circle class=c2 cx=5927 cy=2222 r=31 /><circle class=c3 cx=5902 cy=2313 r=31 /><circle class=c8 cx=5802 cy=2758 r=31 /><circle class=c2 cx=5935 cy=2190 r=31 /><circle class=c5 cx=5850 cy=2521 r=31 /><circle class=c2 cx=5919 cy=2250 r=31 /><circle class=c7 cx=5813 cy=2702 r=31 /><circle class=c3 cx=5911 cy=2280 r=31 /><circle class=c12 cx=5735 cy=3194 r=31 /><circle class=c3 cx=5894 cy=2340 r=31 /><circle class=c36 cx=8084 cy=5436 r=31 /><circle class=c2 cx=5927 cy=2216 r=31 /><circle class=c5 cx=5860 cy=2476 r=31 /><circle class=c2 cx=5918 cy=2243 r=31 /><circle class=c5 cx=5841 cy=2556 r=31 /><circle class=c3 cx=5886 cy=2369 r=31 /><circle class=c2 cx=5936 cy=2184 r=31 /><circle class=c3 cx=5903 cy=2304 r=31 /><circle class=c20 cx=8541 cy=3931 r=31 /><circle class=c29 cx=5719 cy=4779 r=31 /><circle class=c10 cx=5770 cy=2938 r=31 /><circle class=c4 cx=5869 cy=2436 r=31 /><circle class=c3 cx=5912 cy=2272 r=31 /><circle class=c4 cx=5878 cy=2401 r=31 /><circle class=c41 cx=6904 cy=5929 r=31 /><circle class=c2 cx=5928 cy=2209 r=31 /><circle class=c2 cx=5936 cy=2178 r=31 /><circle class=c6 cx=5833 cy=2592 r=31 /><circle class=c3 cx=5896 cy=2330 r=31 /><circle class=c42 cx=7273 cy=6031 r=31 /><circle class=c5 cx=5852 cy=2506 r=31 /><circle class=c16 cx=5704 cy=3514 r=31 /><circle class=c3 cx=5904 cy=2296 r=31 /><circle class=c2 cx=5921 cy=2236 r=31 /><circle class=c21 cx=5685 cy=3963 r=31 /><circle class=c2 cx=5912 cy=2265 r=31 /><circle class=c9 cx=5782 cy=2860 r=31 /><circle class=c41 cx=7805 cy=5915 r=31 /><circle class=c3 cx=5887 cy=2359 r=31 /><circle class=c2 cx=5928 cy=2203 r=31 /><circle class=c6 cx=5824 cy=2634 r=31 /><circle class=c11 cx=5749 cy=3083 r=31 /><circle class=c44 cx=7748 cy=6162 r=31 /><circle class=c25 cx=8441 cy=4387 r=31 /><circle class=c2 cx=5937 cy=2172 r=31 /><circle class=c12 cx=8639 cy=3179 r=31 /><circle class=c4 cx=5879 cy=2390 r=31 /><circle class=c8 cx=5794 cy=2793 r=31 /><circle class=c5 cx=5862 cy=2462 r=31 /><circle class=c7 cx=5815 cy=2681 r=31 /><circle class=c4 cx=5871 cy=2424 r=31 /><circle class=c23 cx=8502 cy=4160 r=31 /><circle class=c7 cx=5804 cy=2734 r=31 /><circle class=c13 cx=5726 cy=3271 r=31 /><circle class=c30 cx=8320 cy=4829 r=31 /><circle class=c2 cx=5921 cy=2229 r=31 /><circle class=c3 cx=5896 cy=2321 r=31 /><circle class=c2 cx=5912 cy=2257 r=31 /><circle class=c5 cx=5845 cy=2538 r=31 /><circle class=c3 cx=5905 cy=2288 r=31 /><circle class=c31 cx=5749 cy=4978 r=31 /><circle class=c2 cx=5929 cy=2197 r=31 /><circle class=c3 cx=5888 cy=2349 r=31 /><circle class=c34 cx=8172 cy=5231 r=31 /><circle class=c17 cx=8591 cy=3674 r=31 /><circle class=c5 cx=5853 cy=2492 r=31 /><circle class=c2 cx=5922 cy=2222 r=31 /><circle class=c10 cx=5762 cy=2987 r=31 /><circle class=c16 cx=7830 cy=3510 r=31 /><circle class=c6 cx=5835 cy=2575 r=31 /><circle class=c42 cx=7415 cy=6053 r=31 /><circle class=c32 cx=8264 cy=5047 r=31 /><circle class=c3 cx=5897 cy=2313 r=31 /><circle class=c3 cx=5905 cy=2280 r=31 /><circle class=c2 cx=5914 cy=2250 r=31 /><circle class=c2 cx=5930 cy=2191 r=31 /><circle class=c15 cx=8614 cy=3418 r=31 /><circle class=c3 cx=5881 cy=2378 r=31 /><circle class=c4 cx=5863 cy=2450 r=31 /><circle class=c4 cx=5871 cy=2413 r=31 /><circle class=c41 cx=6603 cy=5888 r=31 /><circle class=c43 cx=7570 cy=6087 r=31 /><circle class=c22 cx=5687 cy=4119 r=31 /><circle class=c17 cx=5698 cy=3624 r=31 /><circle class=c6 cx=5827 cy=2614 r=31 /><circle class=c2 cx=5923 cy=2216 r=31 /><circle class=c3 cx=5889 cy=2340 r=31 /><circle class=c2 cx=5930 cy=2185 r=31 /><circle class=c9 cx=5774 cy=2904 r=31 /><circle class=c5 cx=5845 cy=2523 r=31 /><circle class=c2 cx=5914 cy=2243 r=31 /><circle class=c33 cx=5787 cy=5193 r=31 /><circle class=c12 cx=5740 cy=3148 r=31 /><circle class=c3 cx=5898 cy=2304 r=31 /><circle class=c2 cx=5906 cy=2272 r=31 /><circle class=c3 cx=5881 cy=2369 r=31 /><circle class=c7 cx=5819 cy=2658 r=31 /><circle class=c9 cx=5786 cy=2830 r=31 /><circle class=c14 cx=5719 cy=3354 r=31 /><circle class=c5 cx=5856 cy=2477 r=31 /><circle class=c2 cx=5923 cy=2210 r=31 /><circle class=c7 cx=5807 cy=2709 r=31 /><circle class=c8 cx=5796 cy=2767 r=31 /><circle class=c4 cx=5873 cy=2401 r=31 /><circle class=c2 cx=5931 cy=2179 r=31 /><circle class=c4 cx=5865 cy=2437 r=31 /><circle class=c2 cx=5914 cy=2237 r=31 /><circle class=c3 cx=5890 cy=2331 r=31 /><circle class=c5 cx=5837 cy=2558 r=31 /><circle class=c3 cx=5898 cy=2297 r=31 /><circle class=c2 cx=5906 cy=2265 r=31 /><circle class=c2 cx=5923 cy=2204 r=31 /><circle class=c3 cx=5882 cy=2360 r=31 /><circle class=c10 cx=5753 cy=3044 r=31 /><circle class=c2 cx=5915 cy=2230 r=31 /><circle class=c5 cx=5848 cy=2508 r=31 /><circle class=c35 cx=5835 cy=5407 r=31 /><circle class=c6 cx=5829 cy=2596 r=31 /><circle class=c3 cx=5890 cy=2323 r=31 /><circle class=c4 cx=5875 cy=2391 r=31 /><circle class=c2 cx=5907 cy=2258 r=31 /><circle class=c5 cx=5857 cy=2465 r=31 /><circle class=c3 cx=5899 cy=2289 r=31 /><circle class=c2 cx=5924 cy=2197 r=31 /><circle class=c24 cx=5696 cy=4278 r=31 /><circle class=c4 cx=5866 cy=2425 r=31 /><circle class=c18 cx=5694 cy=3746 r=31 /><circle class=c41 cx=6514 cy=5913 r=31 /><circle class=c6 cx=5819 cy=2640 r=31 /><circle class=c42 cx=7032 cy=5975 r=31 /><circle class=c2 cx=5916 cy=2224 r=31 /><circle class=c10 cx=5766 cy=2953 r=31 /><circle class=c3 cx=5883 cy=2350 r=31 /><circle class=c12 cx=5731 cy=3223 r=31 /><circle class=c19 cx=8547 cy=3881 r=31 /><circle class=c2 cx=5907 cy=2252 r=31 /><circle class=c2 cx=5924 cy=2192 r=31 /><circle class=c5 cx=5840 cy=2542 r=31 /><circle class=c41 cx=6812 cy=5944 r=31 /><circle class=c15 cx=5709 cy=3455 r=31 /><circle class=c2 cx=5899 cy=2281 r=31 /><circle class=c12 cx=8639 cy=3135 r=31 /><circle class=c27 cx=8386 cy=4571 r=31 /><circle class=c3 cx=5892 cy=2314 r=31 /><circle class=c7 cx=5812 cy=2685 r=31 /><circle class=c9 cx=5777 cy=2873 r=31 /><circle class=c3 cx=5876 cy=2381 r=31 /><circle class=c7 cx=5800 cy=2742 r=31 /><circle class=c5 cx=5849 cy=2494 r=31 /><circle class=c2 cx=5917 cy=2217 r=31 /><circle class=c8 cx=5790 cy=2802 r=31 /><circle class=c37 cx=5898 cy=5582 r=31 /><circle class=c2 cx=5924 cy=2186 r=31 /><circle class=c4 cx=5858 cy=2452 r=31 /><circle class=c4 cx=5868 cy=2414 r=31 /><circle class=c6 cx=5830 cy=2580 r=31 /><circle class=c2 cx=5909 cy=2244 r=31 /><circle class=c3 cx=5885 cy=2341 r=31 /><circle class=c2 cx=5900 cy=2274 r=31 /><circle class=c3 cx=5892 cy=2306 r=31 /><circle class=c2 cx=5917 cy=2211 r=31 /><circle class=c40 cx=5966 cy=5819 r=31 /><circle class=c3 cx=5876 cy=2371 r=31 /><circle class=c11 cx=5746 cy=3103 r=31 /><circle class=c5 cx=5840 cy=2528 r=31 /><circle class=c2 cx=5909 cy=2238 r=31 /><circle class=c14 cx=8626 cy=3377 r=31 /><circle class=c4 cx=5867 cy=2405 r=31 /><circle class=c25 cx=5708 cy=4457 r=31 /><circle class=c6 cx=5823 cy=2619 r=31 /><circle class=c3 cx=5884 cy=2333 r=31 /><circle class=c17 cx=8593 cy=3625 r=31 /><circle class=c19 cx=5692 cy=3882 r=31 /><circle class=c5 cx=5850 cy=2481 r=31 /><circle class=c2 cx=5902 cy=2266 r=31 /><circle class=c3 cx=5893 cy=2298 r=31 /><circle class=c2 cx=5918 cy=2205 r=31 /><circle class=c22 cx=8500 cy=4100 r=31 /><circle class=c40 cx=6421 cy=5894 r=31 /><circle class=c4 cx=5861 cy=2439 r=31 /><circle class=c24 cx=8448 cy=4330 r=31 /><circle class=c7 cx=5813 cy=2667 r=31 /><circle class=c10 cx=5757 cy=3007 r=31 /><circle class=c2 cx=5910 cy=2231 r=31 /><circle class=c3 cx=5877 cy=2361 r=31 /><circle class=c13 cx=5725 cy=3299 r=31 /><circle class=c2 cx=5918 cy=2199 r=31 /><circle class=c5 cx=5833 cy=2562 r=31 /><circle class=c2 cx=5902 cy=2260 r=31 /><circle class=c3 cx=5886 cy=2324 r=31 /><circle class=c40 cx=6054 cy=5860 r=31 /><circle class=c16 cx=5706 cy=3552 r=31 /><circle class=c3 cx=5894 cy=2290 r=31 /><circle class=c7 cx=5804 cy=2717 r=31 /><circle class=c3 cx=5870 cy=2393 r=31 /><circle class=c9 cx=5771 cy=2918 r=31 /><circle class=c8 cx=5792 cy=2778 r=31 /><circle class=c5 cx=5842 cy=2513 r=31 /><circle class=c2 cx=5911 cy=2225 r=31 /><circle class=c9 cx=5782 cy=2843 r=31 /><circle class=c4 cx=5860 cy=2429 r=31 /><circle class=c4 cx=5851 cy=2469 r=31 /><circle class=c2 cx=5918 cy=2193 r=31 /><circle class=c35 cx=8106 cy=5381 r=31 /><circle class=c2 cx=5902 cy=2253 r=31 /><circle class=c3 cx=5878 cy=2352 r=31 /><circle class=c6 cx=5824 cy=2603 r=31 /><circle class=c40 cx=6328 cy=5875 r=31 /><circle class=c2 cx=5893 cy=2284 r=31 /><circle class=c3 cx=5886 cy=2316 r=31 /><circle class=c29 cx=8325 cy=4761 r=31 /><circle class=c40 cx=6145 cy=5877 r=31 /><circle class=c2 cx=5912 cy=2219 r=31 /><circle class=c12 cx=5736 cy=3178 r=31 /><circle class=c42 cx=7166 cy=6008 r=31 /><circle class=c3 cx=5870 cy=2383 r=31 /><circle class=c40 cx=6237 cy=5882 r=31 /><circle class=c27 cx=5728 cy=4648 r=31 /><circle class=c5 cx=5834 cy=2547 r=31 /><circle class=c6 cx=5814 cy=2648 r=31 /><circle class=c2 cx=5904 cy=2246 r=31 /><circle class=c3 cx=5878 cy=2344 r=31 /><circle class=c4 cx=5863 cy=2417 r=31 /><circle class=c5 cx=5843 cy=2499 r=31 /><circle class=c2 cx=5896 cy=2275 r=31 /><circle class=c2 cx=5912 cy=2212 r=31 /><circle class=c3 cx=5888 cy=2308 r=31 /><circle class=c21 cx=5697 cy=4018 r=31 /><circle class=c4 cx=5854 cy=2455 r=31 /><circle class=c7 cx=5805 cy=2698 r=31 /><circle class=c2 cx=5904 cy=2239 r=31 /><circle class=c10 cx=5749 cy=3067 r=31 /><circle class=c41 cx=6717 cy=5942 r=31 /><circle class=c3 cx=5872 cy=2373 r=31 /><circle class=c14 cx=5718 cy=3391 r=31 /><circle class=c2 cx=5912 cy=2207 r=31 /><circle class=c5 cx=5826 cy=2586 r=31 /><circle class=c2 cx=5897 cy=2268 r=31 /><circle class=c7 cx=5794 cy=2754 r=31 /><circle class=c3 cx=5880 cy=2335 r=31 /><circle class=c33 cx=8184 cy=5164 r=31 /><circle class=c3 cx=5888 cy=2300 r=31 /><circle class=c10 cx=5761 cy=2974 r=31 /><circle class=c3 cx=5863 cy=2407 r=31 /><circle class=c17 cx=5703 cy=3667 r=31 /><circle class=c30 cx=8246 cy=4943 r=31 /><circle class=c19 cx=8559 cy=3836 r=31 /><circle class=c8 cx=5784 cy=2817 r=31 /><circle class=c2 cx=5905 cy=2233 r=31 /><circle class=c5 cx=5836 cy=2532 r=31 /></g><g class=a17><circle class=c9 cx=5773 cy=2890 r=31 /><circle class=c4 cx=5854 cy=2445 r=31 /><circle class=c2 cx=5914 cy=2200 r=31 /><circle class=c5 cx=5847 cy=2485 r=31 /><circle class=c2 cx=5897 cy=2261 r=31 /><circle class=c6 cx=5817 cy=2629 r=31 /><circle class=c3 cx=5873 cy=2364 r=31 /><circle class=c2 cx=5890 cy=2292 r=31 /><circle class=c40 cx=7849 cy=5907 r=31 /><circle class=c3 cx=5882 cy=2326 r=31 /><circle class=c2 cx=5906 cy=2227 r=31 /><circle class=c29 cx=5757 cy=4837 r=31 /><circle class=c41 cx=6936 cy=5983 r=31 /><circle class=c3 cx=5864 cy=2397 r=31 /><circle class=c14 cx=8633 cy=3334 r=31 /><circle class=c42 cx=7318 cy=6076 r=31 /><circle class=c12 cx=5730 cy=3252 r=31 /><circle class=c2 cx=5898 cy=2255 r=31 /><circle class=c5 cx=5828 cy=2570 r=31 /><circle class=c7 cx=5807 cy=2677 r=31 /><circle class=c4 cx=5855 cy=2433 r=31 /><circle class=c2 cx=5906 cy=2221 r=31 /><circle class=c16 cx=8601 cy=3580 r=31 /><circle class=c3 cx=5874 cy=2355 r=31 /><circle class=c2 cx=5890 cy=2285 r=31 /><circle class=c5 cx=5838 cy=2518 r=31 /><circle class=c3 cx=5883 cy=2318 r=31 /><circle class=c4 cx=5848 cy=2472 r=31 /><circle class=c22 cx=5704 cy=4177 r=31 /><circle class=c26 cx=8389 cy=4506 r=31 /><circle class=c2 cx=5898 cy=2248 r=31 /><circle class=c7 cx=5798 cy=2730 r=31 /><circle class=c3 cx=5865 cy=2387 r=31 /><circle class=c2 cx=5906 cy=2215 r=31 /><circle class=c11 cx=5742 cy=3133 r=31 /><circle class=c6 cx=5819 cy=2611 r=31 /><circle class=c15 cx=5712 cy=3493 r=31 /><circle class=c2 cx=5892 cy=2277 r=31 /><circle class=c3 cx=5875 cy=2346 r=31 /><circle class=c3 cx=5883 cy=2310 r=31 /><circle class=c8 cx=5787 cy=2791 r=31 /><circle class=c21 cx=8513 cy=4053 r=31 /><circle class=c4 cx=5857 cy=2422 r=31 /><circle class=c43 cx=7480 cy=6141 r=31 /><circle class=c18 cx=5700 cy=3799 r=31 /><circle class=c2 cx=5900 cy=2241 r=31 /><circle class=c10 cx=5754 cy=3028 r=31 /><circle class=c42 cx=7733 cy=6004 r=31 /><circle class=c9 cx=5776 cy=2862 r=31 /><circle class=c5 cx=5829 cy=2554 r=31 /><circle class=c2 cx=5908 cy=2208 r=31 /><circle class=c4 cx=5849 cy=2460 r=31 /><circle class=c9 cx=5766 cy=2938 r=31 /><circle class=c5 cx=5839 cy=2505 r=31 /><circle class=c2 cx=5892 cy=2271 r=31 /><circle class=c3 cx=5866 cy=2377 r=31 /><circle class=c31 cx=5794 cy=5043 r=31 /><circle class=c23 cx=8461 cy=4281 r=31 /><circle class=c6 cx=5809 cy=2658 r=31 /><circle class=c2 cx=5884 cy=2303 r=31 /><circle class=c3 cx=5875 cy=2338 r=31 /><circle class=c2 cx=5900 cy=2235 r=31 /><circle class=c41 cx=6621 cy=5936 r=31 /><circle class=c3 cx=5857 cy=2412 r=31 /><circle class=c11 cx=7208 cy=3125 r=31 /><circle class=c2 cx=5893 cy=2264 r=31 /><circle class=c5 cx=5822 cy=2593 r=31 /><circle class=c7 cx=5800 cy=2709 r=31 /><circle class=c13 cx=5725 cy=3336 r=31 /><circle class=c2 cx=5901 cy=2229 r=31 /><circle class=c4 cx=5850 cy=2449 r=31 /><circle class=c3 cx=5868 cy=2368 r=31 /><circle class=c2 cx=5885 cy=2295 r=31 /><circle class=c41 cx=7559 cy=5940 r=31 /><circle class=c3 cx=5876 cy=2329 r=31 /><circle class=c5 cx=5831 cy=2539 r=31 /><circle class=c4 cx=5841 cy=2491 r=31 /><circle class=c24 cx=5716 cy=4347 r=31 /><circle class=c2 cx=5893 cy=2257 r=31 /><circle class=c2 cx=5901 cy=2223 r=31 /><circle class=c7 cx=5791 cy=2766 r=31 /><circle class=c3 cx=5860 cy=2400 r=31 /><circle class=c2 cx=5885 cy=2288 r=31 /><circle class=c6 cx=5812 cy=2639 r=31 /><circle class=c3 cx=5868 cy=2359 r=31 /><circle class=c3 cx=5877 cy=2322 r=31 /><circle class=c12 cx=5735 cy=3207 r=31 /><circle class=c16 cx=5708 cy=3604 r=31 /><circle class=c4 cx=5852 cy=2437 r=31 /><circle class=c8 cx=5780 cy=2833 r=31 /><circle class=c2 cx=5895 cy=2250 r=31 /><circle class=c33 cx=5842 cy=5246 r=31 /><circle class=c2 cx=5902 cy=2217 r=31 /><circle class=c5 cx=5822 cy=2578 r=31 /><circle class=c4 cx=5842 cy=2479 r=31 /><circle class=c28 cx=8344 cy=4712 r=31 /><circle class=c18 cx=8570 cy=3791 r=31 /><circle class=c11 cx=5747 cy=3092 r=31 /><circle class=c9 cx=5769 cy=2908 r=31 /><circle class=c19 cx=5704 cy=3932 r=31 /><circle class=c5 cx=5833 cy=2525 r=31 /><circle class=c3 cx=5860 cy=2392 r=31 /><circle class=c2 cx=5887 cy=2280 r=31 /><circle class=c10 cx=5759 cy=2993 r=31 /><circle class=c2 cx=5878 cy=2313 r=31 /><circle class=c13 cx=8631 cy=3287 r=31 /><circle class=c2 cx=5894 cy=2244 r=31 /><circle class=c3 cx=5870 cy=2350 r=31 /><circle class=c7 cx=5803 cy=2688 r=31 /><circle class=c42 cx=7065 cy=6006 r=31 /><circle class=c4 cx=5853 cy=2426 r=31 /><circle class=c2 cx=5887 cy=2274 r=31 /><circle class=c41 cx=6525 cy=5933 r=31 /><circle class=c15 cx=8604 cy=3533 r=31 /><circle class=c2 cx=5896 cy=2237 r=31 /><circle class=c6 cx=5815 cy=2620 r=31 /><circle class=c2 cx=5879 cy=2306 r=31 /><circle class=c3 cx=5863 cy=2381 r=31 /><circle class=c4 cx=5844 cy=2466 r=31 /><circle class=c3 cx=5871 cy=2341 r=31 /><circle class=c41 cx=6834 cy=5962 r=31 /><circle class=c7 cx=5794 cy=2743 r=31 /><circle class=c14 cx=5715 cy=3442 r=31 /><circle class=c35 cx=8143 cy=5354 r=31 /><circle class=c5 cx=5825 cy=2562 r=31 /><circle class=c5 cx=5836 cy=2510 r=31 /><circle class=c36 cx=5899 cy=5463 r=31 /><circle class=c2 cx=5889 cy=2266 r=31 /><circle class=c26 cx=5736 cy=4527 r=31 /><circle class=c2 cx=5897 cy=2231 r=31 /><circle class=c3 cx=5853 cy=2417 r=31 /><circle class=c2 cx=5879 cy=2298 r=31 /><circle class=c8 cx=5783 cy=2808 r=31 /><circle class=c3 cx=5872 cy=2333 r=31 /><circle class=c3 cx=5863 cy=2372 r=31 /><circle class=c6 cx=5806 cy=2667 r=31 /><circle class=c2 cx=5889 cy=2260 r=31 /><circle class=c2 cx=5896 cy=2226 r=31 /><circle class=c4 cx=5845 cy=2455 r=31 /><circle class=c30 cx=8267 cy=4894 r=31 /><circle class=c13 cx=5730 cy=3287 r=31 /><circle class=c9 cx=5772 cy=2880 r=31 /><circle class=c2 cx=5881 cy=2291 r=31 /><circle class=c4 cx=5836 cy=2499 r=31 /><circle class=c5 cx=5816 cy=2604 r=31 /><circle class=c17 cx=5709 cy=3721 r=31 /><circle class=c32 cx=8209 cy=5118 r=31 /><circle class=c3 cx=5855 cy=2406 r=31 /><circle class=c5 cx=5827 cy=2547 r=31 /><circle class=c20 cx=8514 cy=3997 r=31 /><circle class=c3 cx=5872 cy=2325 r=31 /><circle class=c2 cx=5889 cy=2253 r=31 /><circle class=c11 cx=5739 cy=3166 r=31 /><circle class=c9 cx=5762 cy=2962 r=31 /><circle class=c3 cx=5865 cy=2363 r=31 /><circle class=c25 cx=8416 cy=4470 r=31 /><circle class=c38 cx=5970 cy=5647 r=31 /><circle class=c21 cx=5710 cy=4090 r=31 /><circle class=c40 cx=6430 cy=5938 r=31 /><circle class=c10 cx=5751 cy=3056 r=31 /><circle class=c7 cx=5796 cy=2722 r=31 /><circle class=c2 cx=5881 cy=2284 r=31 /><circle class=c4 cx=5846 cy=2444 r=31 /><circle class=c2 cx=5889 cy=2247 r=31 /><circle class=c2 cx=5874 cy=2317 r=31 /><circle class=c3 cx=5856 cy=2396 r=31 /><circle class=c4 cx=5837 cy=2486 r=31 /><circle class=c3 cx=5865 cy=2354 r=31 /><circle class=c6 cx=5807 cy=2651 r=31 /><circle class=c23 cx=8466 cy=4225 r=31 /><circle class=c40 cx=6049 cy=5855 r=31 /><circle class=c2 cx=5882 cy=2277 r=31 /><circle class=c7 cx=5785 cy=2786 r=31 /><circle class=c5 cx=5827 cy=2534 r=31 /><circle class=c5 cx=5818 cy=2587 r=31 /><circle class=c2 cx=5890 cy=2241 r=31 /><circle class=c40 cx=6333 cy=5933 r=31 /><circle class=c2 cx=5874 cy=2310 r=31 /><circle class=c3 cx=5848 cy=2433 r=31 /><circle class=c15 cx=5716 cy=3537 r=31 /><circle class=c28 cx=5764 cy=4715 r=31 /><circle class=c3 cx=5856 cy=2387 r=31 /><circle class=c3 cx=5866 cy=2346 r=31 /><circle class=c42 cx=7200 cy=6023 r=31 /><circle class=c2 cx=5884 cy=2270 r=31 /><circle class=c40 cx=6142 cy=5904 r=31 /><circle class=c2 cx=5890 cy=2235 r=31 /><circle class=c12 cx=8653 cy=3253 r=31 /><circle class=c8 cx=5775 cy=2855 r=31 /><circle class=c7 cx=5798 cy=2702 r=31 /><circle class=c4 cx=5839 cy=2474 r=31 /><circle class=c40 cx=6237 cy=5918 r=31 /><circle class=c2 cx=5875 cy=2302 r=31 /><circle class=c17 cx=8570 cy=3739 r=31 /><circle class=c5 cx=5829 cy=2520 r=31 /><circle class=c2 cx=5882 cy=2264 r=31 /><circle class=c6 cx=5809 cy=2633 r=31 /><circle class=c3 cx=5849 cy=2423 r=31 /><circle class=c3 cx=5867 cy=2337 r=31 /><circle class=c9 cx=5766 cy=2930 r=31 /><circle class=c5 cx=5820 cy=2573 r=31 /><circle class=c14 cx=5725 cy=3379 r=31 /><circle class=c3 cx=5858 cy=2378 r=31 /><circle class=c15 cx=8617 cy=3492 r=31 /><circle class=c2 cx=5875 cy=2295 r=31 /><circle class=c41 cx=6739 cy=5982 r=31 /><circle class=c19 cx=5711 cy=3854 r=31 /><circle class=c10 cx=5754 cy=3022 r=31 /><circle class=c2 cx=5883 cy=2257 r=31 /><circle class=c12 cx=5734 cy=3242 r=31 /><circle class=c7 cx=5789 cy=2761 r=31 /><circle class=c4 cx=5841 cy=2462 r=31 /><circle class=c11 cx=5744 cy=3125 r=31 /><circle class=c23 cx=5724 cy=4246 r=31 /><circle class=c2 cx=5868 cy=2330 r=31 /><circle class=c3 cx=5850 cy=2412 r=31 /><circle class=c3 cx=5859 cy=2369 r=31 /><circle class=c38 cx=7825 cy=5748 r=31 /><circle class=c4 cx=5832 cy=2506 r=31 /><circle class=c2 cx=5877 cy=2288 r=31 /><circle class=c2 cx=5885 cy=2250 r=31 /><circle class=c6 cx=5802 cy=2681 r=31 /><circle class=c5 cx=5822 cy=2557 r=31 /><circle class=c5 cx=5813 cy=2614 r=31 /><circle class=c8 cx=5778 cy=2828 r=31 /><circle class=c2 cx=5869 cy=2322 r=31 /><circle class=c27 cx=8359 cy=4660 r=31 /><circle class=c4 cx=5842 cy=2450 r=31 /><circle class=c30 cx=5800 cy=4913 r=31 /><circle class=c3 cx=5860 cy=2360 r=31 /><circle class=c2 cx=5877 cy=2281 r=31 /><circle class=c41 cx=6961 cy=5993 r=31 /><circle class=c3 cx=5851 cy=2402 r=31 /><circle class=c2 cx=5886 cy=2244 r=31 /><circle class=c16 cx=5715 cy=3655 r=31 /><circle class=c4 cx=5834 cy=2493 r=31 /><circle class=c2 cx=5870 cy=2314 r=31 /><circle class=c9 cx=5768 cy=2904 r=31 /><circle class=c40 cx=7302 cy=5901 r=31 /><circle class=c7 cx=5791 cy=2739 r=31 /><circle class=c2 cx=5878 cy=2274 r=31 /><circle class=c3 cx=5861 cy=2352 r=31 /><circle class=c3 cx=5842 cy=2441 r=31 /><circle class=c5 cx=5823 cy=2544 r=31 /><circle class=c3 cx=5853 cy=2392 r=31 /><circle class=c19 cx=8528 cy=3954 r=31 /><circle class=c6 cx=5802 cy=2665 r=31 /><circle class=c40 cx=7757 cy=5953 r=31 /><circle class=c5 cx=5814 cy=2599 r=31 /><circle class=c2 cx=5870 cy=2307 r=31 /><circle class=c9 cx=5759 cy=2988 r=31 /><circle class=c2 cx=5879 cy=2267 r=31 /><circle class=c14 cx=5721 cy=3481 r=31 /><circle class=c4 cx=5835 cy=2482 r=31 /><circle class=c3 cx=5862 cy=2343 r=31 /><circle class=c42 cx=7486 cy=6044 r=31 /><circle class=c42 cx=7672 cy=6143 r=31 /><circle class=c7 cx=5783 cy=2802 r=31 /><circle class=c10 cx=5748 cy=3088 r=31 /><circle class=c3 cx=5844 cy=2430 r=31 /><circle class=c3 cx=5854 cy=2383 r=31 /><circle class=c2 cx=5870 cy=2300 r=31 /><circle class=c20 cx=5718 cy=4000 r=31 /><circle class=c2 cx=5878 cy=2261 r=31 /><circle class=c13 cx=5728 cy=3333 r=31 /><circle class=c12 cx=8654 cy=3208 r=31 /><circle class=c12 cx=5738 cy=3202 r=31 /><circle class=c24 cx=5744 cy=4414 r=31 /><circle class=c5 cx=5825 cy=2530 r=31 /><circle class=c24 cx=8411 cy=4399 r=31 /><circle class=c14 cx=7440 cy=3420 r=31 /><circle class=c2 cx=5863 cy=2335 r=31 /><circle class=c7 cx=5795 cy=2718 r=31 /><circle class=c41 cx=6640 cy=5990 r=31 /><circle class=c29 cx=8295 cy=4856 r=31 /><circle class=c5 cx=5815 cy=2585 r=31 /><circle class=c22 cx=8470 cy=4169 r=31 /><circle class=c31 cx=5848 cy=5104 r=31 /><circle class=c6 cx=5805 cy=2646 r=31 /><circle class=c2 cx=5880 cy=2254 r=31 /><circle class=c2 cx=5872 cy=2292 r=31 /><circle class=c4 cx=5835 cy=2471 r=31 /><circle class=c3 cx=5855 cy=2374 r=31 /><circle class=c3 cx=5845 cy=2420 r=31 /><circle class=c8 cx=5772 cy=2876 r=31 /><circle class=c15 cx=6750 cy=3530 r=31 /><circle class=c33 cx=8117 cy=5225 r=31 /><circle class=c17 cx=8584 cy=3698 r=31 /><circle class=c2 cx=5864 cy=2327 r=31 /><circle class=c4 cx=5826 cy=2517 r=31 /><circle class=c2 cx=5873 cy=2285 r=31 /><circle class=c14 cx=8622 cy=3447 r=31 /><circle class=c3 cx=5856 cy=2366 r=31 /><circle class=c31 cx=8206 cy=5034 r=31 /><circle class=c1 cx=6240 cy=2173 r=31 /><circle class=c4 cx=5838 cy=2458 r=31 /><circle class=c7 cx=5786 cy=2778 r=31 /><circle class=c3 cx=5847 cy=2409 r=31 /><circle class=c9 cx=5762 cy=2958 r=31 /><circle class=c5 cx=5817 cy=2569 r=31 /><circle class=c2 cx=5864 cy=2320 r=31 /><circle class=c17 cx=5719 cy=3778 r=31 /><circle class=c2 cx=5873 cy=2279 r=31 /><circle class=c5 cx=5807 cy=2630 r=31 /><circle class=c6 cx=5796 cy=2699 r=31 /><circle class=c3 cx=5857 cy=2357 r=31 /><circle class=c4 cx=5827 cy=2505 r=31 /><circle class=c2 cx=5866 cy=2312 r=31 /><circle class=c3 cx=5847 cy=2401 r=31 /><circle class=c10 cx=5754 cy=3050 r=31 /><circle class=c2 cx=5874 cy=2272 r=31 /><circle class=c3 cx=5838 cy=2449 r=31 /><circle class=c33 cx=5905 cy=5305 r=31 /><circle class=c42 cx=7106 cy=6072 r=31 /><circle class=c8 cx=5775 cy=2850 r=31 /><circle class=c16 cx=5720 cy=3595 r=31 /><circle class=c5 cx=5819 cy=2555 r=31 /><circle class=c2 cx=5857 cy=2349 r=31 /><circle class=c11 cx=5743 cy=3160 r=31 /><circle class=c2 cx=5875 cy=2265 r=31 /><circle class=c2 cx=5866 cy=2305 r=31 /><circle class=c26 cx=5771 cy=4595 r=31 /><circle class=c21 cx=5730 cy=4156 r=31 /><circle class=c41 cx=6538 cy=5974 r=31 /><circle class=c3 cx=5849 cy=2390 r=31 /><circle class=c5 cx=5809 cy=2613 r=31 /><circle class=c14 cx=5727 cy=3426 r=31 /><circle class=c12 cx=5735 cy=3284 r=31 /><circle class=c4 cx=5830 cy=2492 r=31 /><circle class=c7 cx=5788 cy=2757 r=31 /><circle class=c41 cx=6861 cy=6004 r=31 /><circle class=c3 cx=5840 cy=2438 r=31 /><circle class=c6 cx=5799 cy=2679 r=31 /><circle class=c2 cx=5859 cy=2340 r=31 /><circle class=c2 cx=5867 cy=2298 r=31 /><circle class=c9 cx=5767 cy=2927 r=31 /><circle class=c5 cx=5820 cy=2542 r=31 /><circle class=c3 cx=5849 cy=2382 r=31 /><circle class=c19 cx=8534 cy=3904 r=31 /><circle class=c3 cx=5840 cy=2428 r=31 /><circle class=c4 cx=5831 cy=2480 r=31 /><circle class=c2 cx=5860 cy=2333 r=31 /><circle class=c26 cx=8354 cy=4585 r=31 /><circle class=c2 cx=5869 cy=2290 r=31 /><circle class=c5 cx=5811 cy=2598 r=31 /><circle class=c35 cx=5974 cy=5476 r=31 /><circle class=c7 cx=5779 cy=2823 r=31 /><circle class=c3 cx=5851 cy=2373 r=31 /><circle class=c6 cx=5800 cy=2663 r=31 /><circle class=c9 cx=5758 cy=3016 r=31 /><circle class=c7 cx=5791 cy=2736 r=31 /><circle class=c2 cx=5869 cy=2284 r=31 /><circle class=c2 cx=5860 cy=2326 r=31 /><circle class=c4 cx=5822 cy=2529 r=31 /><circle class=c3 cx=5841 cy=2418 r=31 /><circle class=c19 cx=5724 cy=3921 r=31 /><circle class=c40 cx=6438 cy=5973 r=31 /><circle class=c4 cx=5833 cy=2469 r=31 /><circle class=c3 cx=5852 cy=2364 r=31 /><circle class=c14 cx=8629 cy=3404 r=31 /><circle class=c2 cx=5869 cy=2277 r=31 /><circle class=c2 cx=5861 cy=2318 r=31 /><circle class=c16 cx=8589 cy=3651 r=31 /><circle class=c10 cx=5746 cy=3125 r=31 /><circle class=c5 cx=5813 cy=2582 r=31 /><circle class=c21 cx=8484 cy=4124 r=31 /><circle class=c8 cx=5768 cy=2903 r=31 /><circle class=c38 cx=6051 cy=5696 r=31 /><circle class=c3 cx=5842 cy=2409 r=31 /><circle class=c23 cx=8419 cy=4345 r=31 /><circle class=c28 cx=5806 cy=4786 r=31 /><circle class=c4 cx=5823 cy=2516 r=31 /><circle class=c3 cx=5834 cy=2458 r=31 /><circle class=c5 cx=5803 cy=2645 r=31 /><circle class=c2 cx=5853 cy=2356 r=31 /><circle class=c17 cx=5723 cy=3716 r=31 /><circle class=c2 cx=5863 cy=2310 r=31 /><circle class=c12 cx=5740 cy=3239 r=31 /><circle class=c42 cx=7242 cy=6071 r=31 /><circle class=c7 cx=5782 cy=2801 r=31 /><circle class=c6 cx=5791 cy=2718 r=31 /><circle class=c40 cx=6338 cy=5971 r=31 /><circle class=c23 cx=5751 cy=4313 r=31 /><circle class=c37 cx=7844 cy=5688 r=31 /><circle class=c13 cx=5732 cy=3377 r=31 /><circle class=c15 cx=5727 cy=3533 r=31 /><circle class=c3 cx=5845 cy=2398 r=31 /><circle class=c39 cx=6140 cy=5865 r=31 /><circle class=c5 cx=5814 cy=2568 r=31 /><circle class=c2 cx=5863 cy=2303 r=31 /><circle class=c2 cx=5853 cy=2348 r=31 /><circle class=c40 cx=6238 cy=5940 r=31 /><circle class=c3 cx=5835 cy=2447 r=31 /><circle class=c9 cx=5760 cy=2988 r=31 /><circle class=c4 cx=5826 cy=2503 r=31 /><circle class=c28 cx=8277 cy=4760 r=31 /><circle class=c5 cx=5804 cy=2629 r=31 /><circle class=c3 cx=5846 cy=2389 r=31 /><circle class=c2 cx=5863 cy=2296 r=31 /><circle class=c2 cx=5855 cy=2340 r=31 /><circle class=c41 cx=6762 cy=6036 r=31 /><circle class=c8 cx=5772 cy=2875 r=31 /><circle class=c3 cx=5836 cy=2437 r=31 /><circle class=c6 cx=5794 cy=2699 r=31 /><circle class=c5 cx=5816 cy=2555 r=31 /><circle class=c7 cx=5785 cy=2778 r=31 /><circle class=c4 cx=5826 cy=2492 r=31 /><circle class=c2 cx=5865 cy=2289 r=31 /><circle class=c10 cx=5750 cy=3090 r=31 /><circle class=c3 cx=5846 cy=2381 r=31 /><circle class=c2 cx=5855 cy=2332 r=31 /><circle class=c0 cx=6221 cy=2127 r=31 /><circle class=c0 cx=6221 cy=2127 r=31 /><circle class=c0 cx=6221 cy=2127 r=31 /><circle class=c32 cx=8130 cy=5162 r=31 /><circle class=c20 cx=5737 cy=4066 r=31 /><circle class=c30 cx=8182 cy=4922 r=31 /><circle class=c5 cx=5807 cy=2612 r=31 /><circle class=c3 cx=5837 cy=2427 r=31 /><circle class=c42 cx=7389 cy=6087 r=31 /><circle class=c30 cx=5853 cy=4970 r=31 /><circle class=c41 cx=6988 cy=6015 r=31 /><circle class=c2 cx=5857 cy=2324 r=31 /><circle class=c3 cx=5847 cy=2372 r=31 /><circle class=c18 cx=8543 cy=3858 r=31 /><circle class=c3 cx=5828 cy=2480 r=31 /><circle class=c39 cx=7758 cy=5849 r=31 /><circle class=c4 cx=5818 cy=2541 r=31 /><circle class=c11 cx=5743 cy=3201 r=31 /><circle class=c9 cx=5762 cy=2961 r=31 /><circle class=c6 cx=5797 cy=2681 r=31 /><circle class=c3 cx=5839 cy=2417 r=31 /><circle class=c2 cx=5858 cy=2316 r=31 /><circle class=c7 cx=5785 cy=2761 r=31 /><circle class=c7 cx=5775 cy=2851 r=31 /><circle class=c2 cx=5849 cy=2363 r=31 /><circle class=c13 cx=8637 cy=3362 r=31 /><circle class=c25 cx=5777 cy=4488 r=31 /><circle class=c12 cx=5735 cy=3334 r=31 /><circle class=c18 cx=5730 cy=3848 r=31 /><circle class=c5 cx=5808 cy=2598 r=31 /><circle class=c3 cx=5828 cy=2470 r=31 /><circle class=c4 cx=5818 cy=2529 r=31 /><circle class=c16 cx=8588 cy=3601 r=31 /><circle class=c42 cx=7539 cy=6091 r=31 /><circle class=c2 cx=5859 cy=2309 r=31 /><circle class=c41 cx=7667 cy=6016 r=31 /><circle class=c3 cx=5839 cy=2408 r=31 /><circle class=c14 cx=5732 cy=3479 r=31 /><circle class=c16 cx=5730 cy=3648 r=31 /><circle class=c2 cx=5850 cy=2355 r=31 /><circle class=c25 cx=8360 cy=4525 r=31 /><circle class=c10 cx=5755 cy=3054 r=31 /><circle class=c5 cx=5799 cy=2662 r=31 /><circle class=c3 cx=5831 cy=2458 r=31 /><circle class=c2 cx=5859 cy=2302 r=31 /></g><g class=a18><circle class=c5 cx=5810 cy=2583 r=31 /><circle class=c20 cx=8492 cy=4073 r=31 /><circle class=c2 cx=5851 cy=2347 r=31 /><circle class=c4 cx=5820 cy=2516 r=31 /><circle class=c3 cx=5841 cy=2399 r=31 /><circle class=c6 cx=5789 cy=2738 r=31 /><circle class=c15 cx=7527 cy=3550 r=31 /><circle class=c9 cx=5766 cy=2932 r=31 /><circle class=c41 cx=6656 cy=6019 r=31 /><circle class=c7 cx=5778 cy=2827 r=31 /><circle class=c32 cx=5909 cy=5166 r=31 /><circle class=c23 cx=8427 cy=4292 r=31 /><circle class=c3 cx=5833 cy=2447 r=31 /><circle class=c2 cx=5851 cy=2339 r=31 /><circle class=c11 cx=5748 cy=3161 r=31 /><circle class=c3 cx=5841 cy=2390 r=31 /><circle class=c5 cx=5801 cy=2646 r=31 /><circle class=c4 cx=5821 cy=2505 r=31 /><circle class=c5 cx=5811 cy=2571 r=31 /><circle class=c22 cx=5757 cy=4221 r=31 /><circle class=c2 cx=5852 cy=2331 r=31 /><circle class=c3 cx=5833 cy=2438 r=31 /><circle class=c2 cx=5843 cy=2381 r=31 /><circle class=c6 cx=5791 cy=2720 r=31 /><circle class=c9 cx=5759 cy=3022 r=31 /><circle class=c12 cx=5742 cy=3285 r=31 /><circle class=c3 cx=5823 cy=2493 r=31 /><circle class=c2 cx=5855 cy=2323 r=31 /><circle class=c7 cx=5780 cy=2805 r=31 /><circle class=c5 cx=5802 cy=2632 r=31 /><circle class=c8 cx=5769 cy=2906 r=31 /><circle class=c4 cx=5813 cy=2556 r=31 /><circle class=c26 cx=5814 cy=4660 r=31 /><circle class=c2 cx=5844 cy=2372 r=31 /><circle class=c3 cx=5833 cy=2428 r=31 /><circle class=c42 cx=7140 cy=6104 r=31 /><circle class=c2 cx=5854 cy=2316 r=31 /><circle class=c14 cx=5738 cy=3426 r=31 /><circle class=c27 cx=8305 cy=4725 r=31 /><circle class=c19 cx=5744 cy=3985 r=31 /><circle class=c17 cx=8551 cy=3811 r=31 /><circle class=c34 cx=5976 cy=5351 r=31 /><circle class=c3 cx=5824 cy=2482 r=31 /><circle class=c6 cx=5793 cy=2701 r=31 /><circle class=c2 cx=5845 cy=2364 r=31 /><circle class=c12 cx=8649 cy=3323 r=31 /><circle class=c3 cx=5836 cy=2418 r=31 /><circle class=c40 cx=6552 cy=6013 r=31 /><circle class=c15 cx=5735 cy=3591 r=31 /><circle class=c4 cx=5815 cy=2543 r=31 /><circle class=c10 cx=5753 cy=3123 r=31 /><circle class=c41 cx=6890 cy=6061 r=31 /><circle class=c17 cx=5738 cy=3773 r=31 /><circle class=c5 cx=5803 cy=2617 r=31 /><circle class=c7 cx=5783 cy=2782 r=31 /><circle class=c15 cx=8607 cy=3564 r=31 /><circle class=c2 cx=5846 cy=2355 r=31 /><circle class=c3 cx=5827 cy=2470 r=31 /><circle class=c3 cx=5836 cy=2409 r=31 /><circle class=c9 cx=5762 cy=2991 r=31 /><circle class=c8 cx=5772 cy=2880 r=31 /><circle class=c4 cx=5816 cy=2531 r=31 /><circle class=c5 cx=5795 cy=2684 r=31 /><circle class=c2 cx=5847 cy=2347 r=31 /><circle class=c5 cx=5806 cy=2600 r=31 /><circle class=c45 cx=7540 cy=6396 r=31 /><circle class=c36 cx=7842 cy=5587 r=31 /><circle class=c29 cx=8216 cy=4894 r=31 /><circle class=c3 cx=5838 cy=2399 r=31 /><circle class=c3 cx=5828 cy=2459 r=31 /><circle class=c11 cx=5747 cy=3243 r=31 /><circle class=c35 cx=6054 cy=5523 r=31 /><circle class=c2 cx=5848 cy=2339 r=31 /><circle class=c31 cx=8144 cy=5103 r=31 /><circle class=c23 cx=5783 cy=4389 r=31 /><circle class=c7 cx=5785 cy=2763 r=31 /><circle class=c20 cx=8500 cy=4025 r=31 /><circle class=c4 cx=5818 cy=2518 r=31 /><circle class=c40 cx=6447 cy=6012 r=31 /><circle class=c2 cx=5839 cy=2390 r=31 /><circle class=c24 cx=8374 cy=4476 r=31 /><circle class=c3 cx=5829 cy=2449 r=31 /><circle class=c28 cx=5858 cy=4848 r=31 /><circle class=c5 cx=5807 cy=2587 r=31 /><circle class=c5 cx=5797 cy=2667 r=31 /><circle class=c10 cx=5756 cy=3091 r=31 /><circle class=c2 cx=5849 cy=2332 r=31 /><circle class=c7 cx=5774 cy=2857 r=31 /><circle class=c40 cx=7241 cy=5953 r=31 /><circle class=c13 cx=5741 cy=3383 r=31 /><circle class=c9 cx=5765 cy=2964 r=31 /><circle class=c37 cx=6142 cy=5673 r=31 /><circle class=c2 cx=5840 cy=2382 r=31 /><circle class=c22 cx=8439 cy=4244 r=31 /><circle class=c3 cx=5819 cy=2507 r=31 /><circle class=c3 cx=5830 cy=2439 r=31 /><circle class=c40 cx=6343 cy=5994 r=31 /><circle class=c6 cx=5787 cy=2743 r=31 /><circle class=c4 cx=5809 cy=2573 r=31 /><circle class=c39 cx=6238 cy=5879 r=31 /><circle class=c2 cx=5842 cy=2372 r=31 /><circle class=c21 cx=5761 cy=4142 r=31 /><circle class=c5 cx=5800 cy=2649 r=31 /><circle class=c14 cx=5739 cy=3539 r=31 /><circle class=c3 cx=5831 cy=2429 r=31 /><circle class=c3 cx=5821 cy=2495 r=31 /><circle class=c12 cx=8652 cy=3279 r=31 /><circle class=c11 cx=5750 cy=3206 r=31 /><circle class=c37 cx=7742 cy=5710 r=31 /><circle class=c7 cx=5778 cy=2833 r=31 /><circle class=c16 cx=5743 cy=3711 r=31 /><circle class=c18 cx=5751 cy=3907 r=31 /><circle class=c2 cx=5842 cy=2365 r=31 /><circle class=c17 cx=8559 cy=3765 r=31 /><circle class=c4 cx=5811 cy=2559 r=31 /><circle class=c8 cx=5769 cy=2936 r=31 /><circle class=c3 cx=5833 cy=2419 r=31 /><circle class=c9 cx=5759 cy=3060 r=31 /><circle class=c41 cx=6787 cy=6092 r=31 /><circle class=c3 cx=5822 cy=2484 r=31 /><circle class=c6 cx=5789 cy=2725 r=31 /><circle class=c5 cx=5801 cy=2635 r=31 /><circle class=c14 cx=8609 cy=3517 r=31 /><circle class=c2 cx=5843 cy=2356 r=31 /><circle class=c41 cx=7412 cy=6052 r=31 /><circle class=c3 cx=5834 cy=2409 r=31 /><circle class=c4 cx=5814 cy=2545 r=31 /><circle class=c30 cx=5914 cy=5031 r=31 /><circle class=c2 cx=5844 cy=2348 r=31 /><circle class=c3 cx=5824 cy=2473 r=31 /><circle class=c12 cx=5747 cy=3335 r=31 /><circle class=c41 cx=7021 cy=6065 r=31 /><circle class=c25 cx=5818 cy=4560 r=31 /><circle class=c7 cx=5781 cy=2810 r=31 /><circle class=c38 cx=7639 cy=5835 r=31 /><circle class=c26 cx=8308 cy=4660 r=31 /><circle class=c5 cx=5803 cy=2619 r=31 /><circle class=c6 cx=5792 cy=2706 r=31 /><circle class=c2 cx=5835 cy=2401 r=31 /><circle class=c40 cx=7540 cy=5981 r=31 /><circle class=c3 cx=5825 cy=2462 r=31 /><circle class=c4 cx=5814 cy=2534 r=31 /><circle class=c8 cx=5770 cy=2913 r=31 /><circle class=c10 cx=5753 cy=3172 r=31 /><circle class=c9 cx=5762 cy=3030 r=31 /><circle class=c2 cx=5836 cy=2392 r=31 /><circle class=c14 cx=5744 cy=3488 r=31 /><circle class=c5 cx=5805 cy=2604 r=31 /><circle class=c19 cx=8506 cy=3975 r=31 /><circle class=c3 cx=5827 cy=2451 r=31 /><circle class=c7 cx=5783 cy=2790 r=31 /><circle class=c5 cx=5795 cy=2688 r=31 /><circle class=c4 cx=5815 cy=2522 r=31 /><circle class=c2 cx=5838 cy=2383 r=31 /><circle class=c22 cx=5790 cy=4291 r=31 /><circle class=c23 cx=8374 cy=4413 r=31 /><circle class=c16 cx=5746 cy=3658 r=31 /><circle class=c3 cx=5826 cy=2443 r=31 /><circle class=c28 cx=8219 cy=4827 r=31 /><circle class=c4 cx=5806 cy=2591 r=31 /><circle class=c7 cx=5773 cy=2889 r=31 /><circle class=c2 cx=5838 cy=2375 r=31 /><circle class=c32 cx=5979 cy=5218 r=31 /><circle class=c3 cx=5817 cy=2510 r=31 /><circle class=c41 cx=6674 cy=6061 r=31 /><circle class=c21 cx=8449 cy=4195 r=31 /><circle class=c12 cx=5750 cy=3295 r=31 /><circle class=c20 cx=5768 cy=4058 r=31 /><circle class=c17 cx=5755 cy=3844 r=31 /><circle class=c5 cx=5796 cy=2673 r=31 /><circle class=c6 cx=5786 cy=2768 r=31 /><circle class=c9 cx=5765 cy=3001 r=31 /><circle class=c3 cx=5828 cy=2432 r=31 /><circle class=c2 cx=5839 cy=2366 r=31 /><circle class=c10 cx=5758 cy=3133 r=31 /><circle class=c30 cx=8132 cy=5007 r=31 /><circle class=c16 cx=8565 cy=3719 r=31 /><circle class=c4 cx=5808 cy=2577 r=31 /><circle class=c3 cx=5819 cy=2498 r=31 /><circle class=c14 cx=8616 cy=3474 r=31 /><circle class=c27 cx=5864 cy=4730 r=31 /><circle class=c3 cx=5829 cy=2422 r=31 /><circle class=c5 cx=5800 cy=2654 r=31 /><circle class=c7 cx=5776 cy=2864 r=31 /><circle class=c3 cx=5819 cy=2488 r=31 /><circle class=c6 cx=5786 cy=2752 r=31 /><circle class=c13 cx=5749 cy=3438 r=31 /><circle class=c35 cx=7870 cy=5552 r=31 /><circle class=c4 cx=5809 cy=2564 r=31 /><circle class=c41 cx=7165 cy=6094 r=31 /><circle class=c2 cx=5830 cy=2413 r=31 /><circle class=c34 cx=6055 cy=5399 r=31 /><circle class=c8 cx=5769 cy=2972 r=31 /><circle class=c3 cx=5821 cy=2476 r=31 /><circle class=c5 cx=5800 cy=2641 r=31 /><circle class=c2 cx=5831 cy=2404 r=31 /><circle class=c11 cx=5754 cy=3256 r=31 /><circle class=c4 cx=5810 cy=2552 r=31 /><circle class=c10 cx=5761 cy=3102 r=31 /><circle class=c40 cx=6564 cy=6040 r=31 /><circle class=c7 cx=5779 cy=2841 r=31 /><circle class=c6 cx=5790 cy=2731 r=31 /><circle class=c15 cx=5751 cy=3601 r=31 /><circle class=c42 cx=6934 cy=6196 r=31 /><circle class=c3 cx=5822 cy=2466 r=31 /><circle class=c2 cx=5833 cy=2394 r=31 /><circle class=c24 cx=5824 cy=4460 r=31 /><circle class=c25 cx=8305 cy=4589 r=31 /><circle class=c18 cx=8516 cy=3929 r=31 /><circle class=c5 cx=5802 cy=2626 r=31 /><circle class=c4 cx=5812 cy=2540 r=31 /><circle class=c35 cx=6142 cy=5574 r=31 /><circle class=c3 cx=5824 cy=2455 r=31 /><circle class=c2 cx=5833 cy=2386 r=31 /><circle class=c8 cx=5770 cy=2948 r=31 /><circle class=c17 cx=5760 cy=3778 r=31 /><circle class=c5 cx=5790 cy=2716 r=31 /><circle class=c28 cx=5918 cy=4906 r=31 /><circle class=c7 cx=5780 cy=2821 r=31 /><circle class=c21 cx=5794 cy=4210 r=31 /><circle class=c3 cx=5813 cy=2528 r=31 /><circle class=c12 cx=5753 cy=3391 r=31 /><circle class=c4 cx=5803 cy=2612 r=31 /><circle class=c19 cx=5774 cy=3979 r=31 /><circle class=c40 cx=6455 cy=6018 r=31 /><circle class=c9 cx=5765 cy=3068 r=31 /><circle class=c3 cx=5825 cy=2445 r=31 /><circle class=c37 cx=6238 cy=5734 r=31 /><circle class=c11 cx=5757 cy=3219 r=31 /><circle class=c13 cx=8623 cy=3431 r=31 /><circle class=c16 cx=8571 cy=3673 r=31 /><circle class=c21 cx=8454 cy=4142 r=31 /><circle class=c37 cx=7798 cy=5742 r=31 /><circle class=c38 cx=6342 cy=5860 r=31 /><circle class=c23 cx=8384 cy=4362 r=31 /><circle class=c3 cx=5815 cy=2515 r=31 /><circle class=c5 cx=5794 cy=2697 r=31 /><circle class=c3 cx=5826 cy=2435 r=31 /><circle class=c4 cx=5804 cy=2598 r=31 /><circle class=c8 cx=5775 cy=2920 r=31 /><circle class=c6 cx=5783 cy=2800 r=31 /><circle class=c42 cx=7346 cy=6229 r=31 /><circle class=c27 cx=8225 cy=4764 r=31 /><circle class=c3 cx=5817 cy=2503 r=31 /><circle class=c2 cx=5827 cy=2426 r=31 /><circle class=c38 cx=7394 cy=5885 r=31 /><circle class=c14 cx=5756 cy=3548 r=31 /><circle class=c37 cx=7642 cy=5741 r=31 /><circle class=c5 cx=5796 cy=2680 r=31 /><circle class=c4 cx=5806 cy=2584 r=31 /><circle class=c9 cx=5767 cy=3040 r=31 /><circle class=c2 cx=5829 cy=2416 r=31 /><circle class=c3 cx=5818 cy=2492 r=31 /><circle class=c6 cx=5785 cy=2781 r=31 /><circle class=c12 cx=5758 cy=3347 r=31 /><circle class=c25 cx=5868 cy=4627 r=31 /><circle class=c41 cx=6804 cy=6093 r=31 /><circle class=c7 cx=5776 cy=2898 r=31 /><circle class=c10 cx=5760 cy=3185 r=31 /><circle class=c29 cx=8150 cy=4959 r=31 /><circle class=c4 cx=5808 cy=2570 r=31 /><circle class=c30 cx=5982 cy=5088 r=31 /><circle class=c2 cx=5829 cy=2407 r=31 /><circle class=c5 cx=5796 cy=2666 r=31 /><circle class=c39 cx=7567 cy=5952 r=31 /><circle class=c3 cx=5819 cy=2481 r=31 /><circle class=c16 cx=5764 cy=3719 r=31 /><circle class=c17 cx=8521 cy=3881 r=31 /><circle class=c41 cx=7058 cy=6129 r=31 /><circle class=c6 cx=5788 cy=2760 r=31 /><circle class=c4 cx=5809 cy=2558 r=31 /><circle class=c9 cx=5769 cy=3014 r=31 /><circle class=c3 cx=5820 cy=2471 r=31 /><circle class=c23 cx=5830 cy=4361 r=31 /><circle class=c5 cx=5798 cy=2651 r=31 /><circle class=c18 cx=5778 cy=3912 r=31 /><circle class=c7 cx=5778 cy=2876 r=31 /><circle class=c20 cx=5799 cy=4130 r=31 /><circle class=c12 cx=8638 cy=3393 r=31 /><circle class=c24 cx=8307 cy=4526 r=31 /><circle class=c14 cx=5761 cy=3496 r=31 /><circle class=c3 cx=5810 cy=2546 r=31 /><circle class=c3 cx=5821 cy=2461 r=31 /><circle class=c10 cx=5765 cy=3148 r=31 /><circle class=c15 cx=8581 cy=3631 r=31 /><circle class=c5 cx=5790 cy=2742 r=31 /><circle class=c5 cx=5801 cy=2634 r=31 /><circle class=c12 cx=5761 cy=3308 r=31 /><circle class=c34 cx=7884 cy=5490 r=31 /><circle class=c3 cx=5824 cy=2449 r=31 /><circle class=c20 cx=8461 cy=4092 r=31 /><circle class=c3 cx=5812 cy=2533 r=31 /><circle class=c7 cx=5782 cy=2852 r=31 /><circle class=c32 cx=6057 cy=5272 r=31 /><circle class=c8 cx=5772 cy=2987 r=31 /><circle class=c22 cx=8387 cy=4305 r=31 /><circle class=c40 cx=6684 cy=6030 r=31 /><circle class=c4 cx=5803 cy=2619 r=31 /><circle class=c14 cx=7520 cy=3550 r=31 /><circle class=c2 cx=5823 cy=2440 r=31 /><circle class=c5 cx=5792 cy=2725 r=31 /><circle class=c3 cx=5813 cy=2522 r=31 /><circle class=c27 cx=5920 cy=4810 r=31 /><circle class=c15 cx=5769 cy=3662 r=31 /><circle class=c2 cx=5826 cy=2430 r=31 /><circle class=c9 cx=5767 cy=3117 r=31 /><circle class=c7 cx=5784 cy=2831 r=31 /><circle class=c39 cx=7166 cy=5986 r=31 /></g><g class=a19><circle class=c4 cx=5803 cy=2607 r=31 /><circle class=c3 cx=5815 cy=2510 r=31 /><circle class=c8 cx=5777 cy=2958 r=31 /><circle class=c5 cx=5794 cy=2708 r=31 /><circle class=c13 cx=5765 cy=3448 r=31 /><circle class=c11 cx=5765 cy=3270 r=31 /><circle class=c26 cx=8237 cy=4710 r=31 /><circle class=c33 cx=6143 cy=5427 r=31 /><circle class=c3 cx=5818 cy=2497 r=31 /><circle class=c17 cx=5783 cy=3848 r=31 /><circle class=c39 cx=6565 cy=5931 r=31 /><circle class=c4 cx=5805 cy=2593 r=31 /><circle class=c17 cx=8522 cy=3829 r=31 /><circle class=c35 cx=7764 cy=5568 r=31 /><circle class=c6 cx=5786 cy=2811 r=31 /><circle class=c5 cx=5797 cy=2689 r=31 /><circle class=c24 cx=5871 cy=4536 r=31 /><circle class=c12 cx=8640 cy=3349 r=31 /><circle class=c9 cx=5772 cy=3084 r=31 /><circle class=c3 cx=5818 cy=2487 r=31 /><circle class=c40 cx=6935 cy=6087 r=31 /><circle class=c7 cx=5778 cy=2935 r=31 /><circle class=c19 cx=5804 cy=4052 r=31 /><circle class=c35 cx=6238 cy=5563 r=31 /><circle class=c4 cx=5807 cy=2579 r=31 /><circle class=c14 cx=8584 cy=3584 r=31 /><circle class=c22 cx=5832 cy=4286 r=31 /><circle class=c28 cx=8161 cy=4900 r=31 /><circle class=c3 cx=5819 cy=2476 r=31 /><circle class=c5 cx=5797 cy=2675 r=31 /><circle class=c6 cx=5788 cy=2791 r=31 /><circle class=c14 cx=5774 cy=3606 r=31 /><circle class=c10 cx=5769 cy=3231 r=31 /><circle class=c29 cx=5986 cy=4964 r=31 /><circle class=c38 cx=6454 cy=5898 r=31 /><circle class=c3 cx=5808 cy=2566 r=31 /><circle class=c37 cx=6342 cy=5753 r=31 /><circle class=c39 cx=7307 cy=5977 r=31 /><circle class=c12 cx=5769 cy=3405 r=31 /><circle class=c24 cx=8319 cy=4477 r=31 /><circle class=c3 cx=5820 cy=2466 r=31 /><circle class=c36 cx=7646 cy=5654 r=31 /><circle class=c7 cx=5780 cy=2912 r=31 /><circle class=c19 cx=8470 cy=4045 r=31 /><circle class=c5 cx=5800 cy=2659 r=31 /><circle class=c9 cx=5773 cy=3059 r=31 /><circle class=c3 cx=5810 cy=2553 r=31 /><circle class=c36 cx=7511 cy=5695 r=31 /><circle class=c6 cx=5790 cy=2773 r=31 /><circle class=c2 cx=5822 cy=2455 r=31 /><circle class=c21 cx=8391 cy=4250 r=31 /><circle class=c38 cx=7427 cy=5885 r=31 /><circle class=c3 cx=5812 cy=2540 r=31 /><circle class=c4 cx=5801 cy=2645 r=31 /><circle class=c16 cx=5786 cy=3789 r=31 /><circle class=c7 cx=5783 cy=2888 r=31 /><circle class=c10 cx=5770 cy=3202 r=31 /><circle class=c5 cx=5791 cy=2756 r=31 /><circle class=c32 cx=7841 cy=5317 r=31 /><circle class=c3 cx=5813 cy=2528 r=31 /><circle class=c9 cx=5776 cy=3030 r=31 /><circle class=c26 cx=5925 cy=4694 r=31 /><circle class=c4 cx=5803 cy=2630 r=31 /><circle class=c16 cx=8529 cy=3784 r=31 /><circle class=c14 cx=5777 cy=3560 r=31 /><circle class=c12 cx=5771 cy=3369 r=31 /><circle class=c18 cx=5808 cy=3983 r=31 /><circle class=c30 cx=6059 cy=5150 r=31 /><circle class=c40 cx=6815 cy=6056 r=31 /><circle class=c3 cx=5814 cy=2518 r=31 /><circle class=c5 cx=5794 cy=2737 r=31 /><circle class=c7 cx=5785 cy=2867 r=31 /><circle class=c39 cx=7057 cy=6010 r=31 /><circle class=c14 cx=8593 cy=3542 r=31 /><circle class=c4 cx=5805 cy=2615 r=31 /><circle class=c25 cx=8242 cy=4649 r=31 /><circle class=c21 cx=5837 cy=4202 r=31 /><circle class=c23 cx=5874 cy=4448 r=31 /><circle class=c10 cx=5774 cy=3166 r=31 /><circle class=c3 cx=5816 cy=2505 r=31 /><circle class=c8 cx=5778 cy=3004 r=31 /><circle class=c5 cx=5796 cy=2719 r=31 /><circle class=c4 cx=5806 cy=2602 r=31 /><circle class=c6 cx=5787 cy=2846 r=31 /><circle class=c3 cx=5816 cy=2495 r=31 /><circle class=c16 cx=5790 cy=3732 r=31 /><circle class=c18 cx=8465 cy=3987 r=31 /><circle class=c11 cx=5775 cy=3327 r=31 /><circle class=c32 cx=6144 cy=5303 r=31 /><circle class=c27 cx=8155 cy=4820 r=31 /><circle class=c3 cx=5806 cy=2590 r=31 /><circle class=c5 cx=5797 cy=2704 r=31 /><circle class=c13 cx=5781 cy=3512 r=31 /><circle class=c3 cx=5818 cy=2483 r=31 /><circle class=c8 cx=5780 cy=2979 r=31 /><circle class=c9 cx=5777 cy=3134 r=31 /><circle class=c33 cx=7747 cy=5443 r=31 /><circle class=c23 cx=8332 cy=4430 r=31 /><circle class=c6 cx=5789 cy=2827 r=31 /><circle class=c21 cx=8399 cy=4200 r=31 /><circle class=c39 cx=6693 cy=5996 r=31 /><circle class=c3 cx=5809 cy=2575 r=31 /><circle class=c27 cx=5987 cy=4866 r=31 /><circle class=c5 cx=5799 cy=2687 r=31 /><circle class=c17 cx=5812 cy=3918 r=31 /><circle class=c3 cx=5811 cy=2562 r=31 /><circle class=c7 cx=5783 cy=2953 r=31 /><circle class=c6 cx=5792 cy=2806 r=31 /><circle class=c16 cx=8538 cy=3740 r=31 /><circle class=c33 cx=6238 cy=5460 r=31 /><circle class=c11 cx=5778 cy=3291 r=31 /><circle class=c4 cx=5801 cy=2671 r=31 /><circle class=c39 cx=7201 cy=6019 r=31 /><circle class=c13 cx=8604 cy=3502 r=31 /><circle class=c38 cx=6924 cy=5915 r=31 /><circle class=c9 cx=5779 cy=3108 r=31 /><circle class=c3 cx=5812 cy=2550 r=31 /><circle class=c35 cx=6339 cy=5573 r=31 /><circle class=c19 cx=5842 cy=4124 r=31 /><circle class=c15 cx=5795 cy=3675 r=31 /><circle class=c13 cx=5784 cy=3467 r=31 /><circle class=c24 cx=5927 cy=4607 r=31 /><circle class=c5 cx=5795 cy=2785 r=31 /><circle class=c38 cx=6573 cy=5918 r=31 /><circle class=c35 cx=7645 cy=5560 r=31 /><circle class=c7 cx=5787 cy=2928 r=31 /><circle class=c4 cx=5802 cy=2657 r=31 /><circle class=c22 cx=5879 cy=4357 r=31 /><circle class=c37 cx=6452 cy=5760 r=31 /><circle class=c3 cx=5812 cy=2539 r=31 /><circle class=c38 cx=7307 cy=5871 r=31 /><circle class=c24 cx=8246 cy=4589 r=31 /><circle class=c10 cx=5782 cy=3252 r=31 /><circle class=c4 cx=5805 cy=2641 r=31 /><circle class=c9 cx=5782 cy=3077 r=31 /><circle class=c3 cx=5815 cy=2525 r=31 /><circle class=c5 cx=5795 cy=2770 r=31 /><circle class=c29 cx=6061 cy=5030 r=31 /><circle class=c17 cx=8476 cy=3943 r=31 /><circle class=c32 cx=7874 cy=5300 r=31 /><circle class=c7 cx=5786 cy=2910 r=31 /><circle class=c3 cx=5817 cy=2513 r=31 /><circle class=c4 cx=5807 cy=2625 r=31 /><circle class=c36 cx=7554 cy=5716 r=31 /><circle class=c17 cx=5814 cy=3863 r=31 /><circle class=c37 cx=7442 cy=5828 r=31 /><circle class=c12 cx=5787 cy=3425 r=31 /><circle class=c5 cx=5797 cy=2752 r=31 /><circle class=c8 cx=5785 cy=3049 r=31 /><circle class=c22 cx=8333 cy=4370 r=31 /><circle class=c14 cx=5798 cy=3627 r=31 /><circle class=c20 cx=8406 cy=4151 r=31 /><circle class=c3 cx=5807 cy=2613 r=31 /><circle class=c7 cx=5791 cy=2885 r=31 /><circle class=c10 cx=5785 cy=3218 r=31 /><circle class=c15 cx=8545 cy=3696 r=31 /><circle class=c26 cx=8164 cy=4763 r=31 /><circle class=c12 cx=8606 cy=3457 r=31 /><circle class=c5 cx=5798 cy=2735 r=31 /><circle class=c26 cx=5991 cy=4756 r=31 /><circle class=c38 cx=6812 cy=5923 r=31 /><circle class=c3 cx=5808 cy=2600 r=31 /><circle class=c19 cx=5843 cy=4065 r=31 /><circle class=c38 cx=7052 cy=5882 r=31 /><circle class=c30 cx=6145 cy=5173 r=31 /><circle class=c6 cx=5793 cy=2863 r=31 /><circle class=c8 cx=5788 cy=3021 r=31 /><circle class=c5 cx=5800 cy=2718 r=31 /><circle class=c3 cx=5810 cy=2586 r=31 /><circle class=c12 cx=5790 cy=3387 r=31 /><circle class=c21 cx=5882 cy=4276 r=31 /><circle class=c23 cx=5931 cy=4511 r=31 /><circle class=c10 cx=5787 cy=3187 r=31 /><circle class=c33 cx=7766 cy=5396 r=31 /><circle class=c6 cx=5796 cy=2841 r=31 /><circle class=c5 cx=5802 cy=2701 r=31 /><circle class=c16 cx=5818 cy=3805 r=31 /><circle class=c14 cx=5802 cy=3578 r=31 /><circle class=c3 cx=5811 cy=2573 r=31 /><circle class=c8 cx=5789 cy=2998 r=31 /><circle class=c17 cx=8484 cy=3897 r=31 /><circle class=c3 cx=5813 cy=2560 r=31 /><circle class=c32 cx=6238 cy=5341 r=31 /><circle class=c4 cx=5804 cy=2685 r=31 /><circle class=c24 cx=8253 cy=4534 r=31 /><circle class=c6 cx=5796 cy=2824 r=31 /><circle class=c9 cx=5790 cy=3156 r=31 /><circle class=c11 cx=5793 cy=3348 r=31 /><circle class=c3 cx=5815 cy=2547 r=31 /><circle class=c37 cx=7178 cy=5825 r=31 /><circle class=c7 cx=5792 cy=2972 r=31 /><circle class=c4 cx=5806 cy=2669 r=31 /><circle class=c12 cx=8615 cy=3415 r=31 /><circle class=c38 cx=6699 cy=5929 r=31 /><circle class=c18 cx=5848 cy=3992 r=31 /><circle class=c14 cx=8561 cy=3658 r=31 /><circle class=c28 cx=6062 cy=4926 r=31 /><circle class=c19 cx=8412 cy=4101 r=31 /><circle class=c5 cx=5799 cy=2804 r=31 /><circle class=c21 cx=8336 cy=4314 r=31 /><circle class=c36 cx=6566 cy=5736 r=31 /><circle class=c33 cx=6340 cy=5504 r=31 /><circle class=c13 cx=5805 cy=3532 r=31 /><circle class=c30 cx=7862 cy=5195 r=31 /><circle class=c34 cx=7669 cy=5526 r=31 /><circle class=c4 cx=5807 cy=2655 r=31 /><circle class=c9 cx=5794 cy=3123 r=31 /><circle class=c35 cx=6450 cy=5631 r=31 /><circle class=c15 cx=5822 cy=3750 r=31 /><circle class=c7 cx=5795 cy=2947 r=31 /><circle class=c36 cx=7296 cy=5736 r=31 /><circle class=c25 cx=8163 cy=4695 r=31 /><circle class=c5 cx=5801 cy=2785 r=31 /><circle class=c11 cx=5796 cy=3313 r=31 /><circle class=c20 cx=5885 cy=4208 r=31 /><circle class=c38 cx=6942 cy=5907 r=31 /><circle class=c4 cx=5808 cy=2641 r=31 /><circle class=c25 cx=5992 cy=4672 r=31 /><circle class=c35 cx=7544 cy=5595 r=31 /><circle class=c22 cx=5933 cy=4429 r=31 /><circle class=c35 cx=7421 cy=5669 r=31 /><circle class=c0 cx=6500 cy=2320 r=31 /><circle class=c7 cx=5797 cy=2925 r=31 /><circle class=c5 cx=5802 cy=2768 r=31 /><circle class=c3 cx=5810 cy=2626 r=31 /><circle class=c9 cx=5795 cy=3099 r=31 /><circle class=c16 cx=8495 cy=3854 r=31 /><circle class=c12 cx=5808 cy=3489 r=31 /><circle class=c29 cx=6145 cy=5092 r=31 /><circle class=c10 cx=5799 cy=3275 r=31 /><circle class=c3 cx=5812 cy=2612 r=31 /></g><g class=a20><circle class=c17 cx=5850 cy=3935 r=31 /><circle class=c5 cx=5804 cy=2750 r=31 /><circle class=c6 cx=5800 cy=2902 r=31 /><circle class=c15 cx=5826 cy=3694 r=31 /><circle class=c14 cx=8561 cy=3609 r=31 /><circle class=c3 cx=5814 cy=2596 r=31 /><circle class=c23 cx=8254 cy=4473 r=31 /><circle class=c8 cx=5797 cy=3070 r=31 /><circle class=c5 cx=5808 cy=2730 r=31 /><circle class=c36 cx=6805 cy=5780 r=31 /><circle class=c18 cx=8420 cy=4054 r=31 /><circle class=c36 cx=7052 cy=5782 r=31 /><circle class=c3 cx=5815 cy=2584 r=31 /><circle class=c20 cx=8336 cy=4256 r=31 /><circle class=c31 cx=7780 cy=5342 r=31 /><circle class=c6 cx=5800 cy=2885 r=31 /><circle class=c10 cx=5802 cy=3241 r=31 /><circle class=c12 cx=5811 cy=3446 r=31 /><circle class=c19 cx=5888 cy=4135 r=31 /><circle class=c4 cx=5808 cy=2716 r=31 /><circle class=c30 cx=6237 cy=5230 r=31 /><circle class=c8 cx=5801 cy=3042 r=31 /><circle class=c26 cx=6064 cy=4828 r=31 /><circle class=c6 cx=5804 cy=2860 r=31 /><circle class=c35 cx=6680 cy=5681 r=31 /><circle class=c14 cx=5829 cy=3645 r=31 /><circle class=c4 cx=5809 cy=2700 r=31 /><circle class=c21 cx=5936 cy=4350 r=31 /><circle class=c16 cx=5854 cy=3873 r=31 /><circle class=c24 cx=5994 cy=4580 r=31 /><circle class=c9 cx=5805 cy=3209 r=31 /><circle class=c16 cx=8492 cy=3802 r=31 /><circle class=c24 cx=8176 cy=4647 r=31 /><circle class=c7 cx=5803 cy=3017 r=31 /><circle class=c32 cx=6339 cy=5367 r=31 /><circle class=c5 cx=5805 cy=2841 r=31 /><circle class=c35 cx=7171 cy=5703 r=31 /><circle class=c4 cx=5812 cy=2683 r=31 /><circle class=c30 cx=7875 cy=5142 r=31 /><circle class=c12 cx=5813 cy=3411 r=31 /><circle class=c32 cx=7659 cy=5418 r=31 /><circle class=c13 cx=8562 cy=3562 r=31 /><circle class=c33 cx=6448 cy=5497 r=31 /><circle class=c4 cx=5814 cy=2667 r=31 /><circle class=c35 cx=6566 cy=5638 r=31 /><circle class=c5 cx=5807 cy=2821 r=31 /><circle class=c34 cx=7283 cy=5600 r=31 /><circle class=c7 cx=5805 cy=2993 r=31 /><circle class=c9 cx=5808 cy=3177 r=31 /><circle class=c13 cx=5832 cy=3598 r=31 /><circle class=c28 cx=6146 cy=4975 r=31 /><circle class=c18 cx=5891 cy=4069 r=31 /><circle class=c3 cx=5814 cy=2654 r=31 /><circle class=c33 cx=7543 cy=5505 r=31 /><circle class=c22 cx=8266 cy=4426 r=31 /><circle class=c18 cx=8436 cy=4014 r=31 /><circle class=c36 cx=6934 cy=5767 r=31 /><circle class=c11 cx=5816 cy=3370 r=31 /><circle class=c5 cx=5808 cy=2804 r=31 /><circle class=c16 cx=5857 cy=3816 r=31 /><circle class=c7 cx=5808 cy=2966 r=31 /><circle class=c34 cx=7423 cy=5584 r=31 /><circle class=c20 cx=8342 cy=4206 r=31 /><circle class=c3 cx=5815 cy=2639 r=31 /><circle class=c9 cx=5811 cy=3146 r=31 /><circle class=c20 cx=5938 cy=4275 r=31 /><circle class=c5 cx=5810 cy=2786 r=31 /><circle class=c13 cx=7640 cy=3590 r=31 /><circle class=c3 cx=5817 cy=2624 r=31 /><circle class=c25 cx=6065 cy=4735 r=31 /><circle class=c0 cx=6520 cy=2360 r=31 /><circle class=c30 cx=7757 cy=5214 r=31 /><circle class=c7 cx=5809 cy=2945 r=31 /><circle class=c0 cx=6530 cy=2370 r=31 /><circle class=c15 cx=8503 cy=3760 r=31 /><circle class=c13 cx=5835 cy=3551 r=31 /><circle class=c23 cx=5996 cy=4499 r=31 /><circle class=c10 cx=5819 cy=3334 r=31 /><circle class=c5 cx=5812 cy=2767 r=31 /><circle class=c29 cx=6237 cy=5120 r=31 /><circle class=c15 cx=7756 cy=3730 r=31 /><circle class=c14 cx=7860 cy=3660 r=31 /><circle class=c12 cx=8569 cy=3520 r=31 /><circle class=c8 cx=5811 cy=3121 r=31 /><circle class=c23 cx=8174 cy=4581 r=31 /><circle class=c6 cx=5811 cy=2923 r=31 /><circle class=c17 cx=5894 cy=4006 r=31 /><circle class=c15 cx=5860 cy=3764 r=31 /><circle class=c4 cx=5813 cy=2751 r=31 /><circle class=c35 cx=6809 cy=5710 r=31 /><circle class=c35 cx=7055 cy=5702 r=31 /><circle class=c0 cx=6552 cy=2368 r=31 /><circle class=c4 cx=5816 cy=2731 r=31 /><circle class=c10 cx=5821 cy=3301 r=31 /><circle class=c17 cx=8427 cy=3955 r=31 /><circle class=c8 cx=5814 cy=3094 r=31 /><circle class=c6 cx=5812 cy=2903 r=31 /><circle class=c12 cx=5837 cy=3513 r=31 /><circle class=c30 cx=6338 cy=5262 r=31 /><circle class=c34 cx=6678 cy=5575 r=31 /><circle class=c31 cx=7647 cy=5308 r=31 /><circle class=c29 cx=7888 cy=5090 r=31 /><circle class=c21 cx=8267 cy=4368 r=31 /><circle class=c4 cx=5817 cy=2715 r=31 /><circle class=c19 cx=5940 cy=4213 r=31 /><circle class=c26 cx=6146 cy=4885 r=31 /><circle class=c19 cx=8354 cy=4162 r=31 /><circle class=c6 cx=5814 cy=2883 r=31 /><circle class=c31 cx=6446 cy=5381 r=31 /><circle class=c8 cx=5815 cy=3068 r=31 /><circle class=c14 cx=5863 cy=3712 r=31 /><circle class=c33 cx=6561 cy=5503 r=31 /><circle class=c10 cx=5823 cy=3267 r=31 /><circle class=c14 cx=8503 cy=3712 r=31 /><circle class=c17 cx=5897 cy=3943 r=31 /><circle class=c4 cx=5817 cy=2702 r=31 /><circle class=c35 cx=7183 cy=5655 r=31 /><circle class=c22 cx=5998 cy=4422 r=31 /><circle class=c24 cx=6067 cy=4644 r=31 /><circle class=c12 cx=8579 cy=3480 r=31 /><circle class=c32 cx=7538 cy=5407 r=31 /><circle class=c5 cx=5815 cy=2863 r=31 /><circle class=c12 cx=5839 cy=3474 r=31 /><circle class=c7 cx=5819 cy=3039 r=31 /><circle class=c3 cx=5820 cy=2684 r=31 /><circle class=c0 cx=6540 cy=2380 r=31 /><circle class=c33 cx=7301 cy=5569 r=31 /><circle class=c34 cx=6928 cy=5645 r=31 /><circle class=c9 cx=5827 cy=3232 r=31 /><circle class=c5 cx=5818 cy=2841 r=31 /><circle class=c3 cx=5823 cy=2667 r=31 /><circle class=c33 cx=7426 cy=5505 r=31 /><circle class=c23 cx=8175 cy=4520 r=31 /><circle class=c7 cx=5821 cy=3015 r=31 /><circle class=c28 cx=6237 cy=5026 r=31 /><circle class=c14 cx=5865 cy=3667 r=31 /><circle class=c16 cx=8435 cy=3910 r=31 /><circle class=c5 cx=5820 cy=2822 r=31 /><circle class=c19 cx=5943 cy=4140 r=31 /><circle class=c11 cx=5842 cy=3433 r=31 /><circle class=c30 cx=7779 cy=5181 r=31 /><circle class=c16 cx=5900 cy=3884 r=31 /><circle class=c9 cx=5829 cy=3203 r=31 /><circle class=c7 cx=5823 cy=2991 r=31 /><circle class=c5 cx=5822 cy=2803 r=31 /><circle class=c18 cx=8352 cy=4106 r=31 /><circle class=c21 cx=8273 cy=4316 r=31 /><circle class=c33 cx=6799 cy=5557 r=31 /><circle class=c1 cx=6510 cy=2405 r=31 /><circle class=c14 cx=8519 cy=3674 r=31 /><circle class=c21 cx=6000 cy=4344 r=31 /><circle class=c29 cx=6336 cy=5146 r=31 /><circle class=c25 cx=6147 cy=4796 r=31 /><circle class=c11 cx=5845 cy=3394 r=31 /><circle class=c5 cx=5824 cy=2784 r=31 /><circle class=c28 cx=7889 cy=5018 r=31 /><circle class=c13 cx=5868 cy=3619 r=31 /><circle class=c9 cx=5830 cy=3175 r=31 /><circle class=c7 cx=5824 cy=2969 r=31 /><circle class=c23 cx=6068 cy=4565 r=31 /><circle class=c34 cx=7058 cy=5621 r=31 /><circle class=c30 cx=7653 cy=5240 r=31 /><circle class=c4 cx=5825 cy=2768 r=31 /><circle class=c32 cx=6678 cy=5485 r=31 /><circle class=c6 cx=5827 cy=2944 r=31 /><circle class=c15 cx=5902 cy=3832 r=31 /><circle class=c30 cx=6445 cy=5285 r=31 /><circle class=c18 cx=5945 cy=4076 r=31 /><circle class=c1 cx=6542 cy=2413 r=31 /><circle class=c31 cx=6558 cy=5383 r=31 /><circle class=c8 cx=5833 cy=3144 r=31 /><circle class=c10 cx=5848 cy=3356 r=31 /><circle class=c16 cx=8434 cy=3859 r=31 /><circle class=c4 cx=5826 cy=2750 r=31 /><circle class=c22 cx=8178 cy=4464 r=31 /><circle class=c12 cx=5870 cy=3575 r=31 /><circle class=c6 cx=5829 cy=2923 r=31 /><circle class=c33 cx=7179 cy=5550 r=31 /><circle class=c4 cx=5829 cy=2731 r=31 /><circle class=c31 cx=7548 cy=5349 r=31 /><circle class=c27 cx=6237 cy=4934 r=31 /><circle class=c8 cx=5835 cy=3118 r=31 /><circle class=c32 cx=7295 cy=5463 r=31 /><circle class=c33 cx=6921 cy=5520 r=31 /><circle class=c13 cx=8517 cy=3625 r=31 /><circle class=c20 cx=6002 cy=4274 r=31 /><circle class=c17 cx=8361 cy=4060 r=31 /><circle class=c5 cx=5830 cy=2902 r=31 /><circle class=c20 cx=8278 cy=4265 r=31 /><circle class=c10 cx=5848 cy=3326 r=31 /><circle class=c3 cx=5830 cy=2716 r=31 /><circle class=c28 cx=7775 cy=5098 r=31 /><circle class=c15 cx=5904 cy=3784 r=31 /><circle class=c32 cx=7433 cy=5438 r=31 /><circle class=c24 cx=6148 cy=4701 r=31 /><circle class=c17 cx=5947 cy=4014 r=31 /><circle class=c22 cx=6069 cy=4484 r=31 /></g><g class=a21><circle class=c7 cx=5836 cy=3092 r=31 /><circle class=c12 cx=5872 cy=3535 r=31 /><circle class=c5 cx=5830 cy=2884 r=31 /><circle class=c10 cx=5851 cy=3293 r=31 /><circle class=c26 cx=7884 cy=4938 r=31 /><circle class=c28 cx=6336 cy=5061 r=31 /><circle class=c7 cx=5839 cy=3063 r=31 /><circle class=c5 cx=5832 cy=2863 r=31 /><circle class=c0 cx=6560 cy=2425 r=31 /><circle class=c15 cx=8446 cy=3818 r=31 /><circle class=c14 cx=5907 cy=3731 r=31 /><circle class=c12 cx=5874 cy=3495 r=31 /><circle class=c32 cx=6805 cy=5500 r=31 /><circle class=c5 cx=5835 cy=2842 r=31 /><circle class=c19 cx=6003 cy=4207 r=31 /><circle class=c29 cx=7660 cy=5179 r=31 /><circle class=c29 cx=6443 cy=5176 r=31 /><circle class=c9 cx=5853 cy=3260 r=31 /><circle class=c21 cx=8187 cy=4415 r=31 /><circle class=c7 cx=5840 cy=3040 r=31 /><circle class=c12 cx=8526 cy=3584 r=31 /><circle class=c33 cx=7056 cy=5524 r=31 /><circle class=c0 cx=6570 cy=2430 r=31 /><circle class=c16 cx=5949 cy=3959 r=31 /><circle class=c1 cx=6501 cy=2451 r=31 /><circle class=c25 cx=6237 cy=4840 r=31 /><circle class=c17 cx=8374 cy=4020 r=31 /><circle class=c5 cx=5835 cy=2824 r=31 /><circle class=c30 cx=6558 cy=5301 r=31 /><circle class=c31 cx=6680 cy=5414 r=31 /><circle class=c19 cx=8281 cy=4212 r=31 /><circle class=c7 cx=5842 cy=3016 r=31 /><circle class=c9 cx=5856 cy=3227 r=31 /><circle class=c11 cx=5876 cy=3456 r=31 /><circle class=c21 cx=6070 cy=4418 r=31 /><circle class=c23 cx=6148 cy=4619 r=31 /><circle class=c4 cx=5838 cy=2804 r=31 /><circle class=c30 cx=7545 cy=5262 r=31 /><circle class=c27 cx=7765 cy=5006 r=31 /><circle class=c14 cx=5907 cy=3694 r=31 /><circle class=c32 cx=7180 cy=5468 r=31 /><circle class=c6 cx=5844 cy=2992 r=31 /><circle class=c31 cx=7294 cy=5375 r=31 /><circle class=c31 cx=6918 cy=5419 r=31 /><circle class=c1 cx=6533 cy=2459 r=31 /><circle class=c4 cx=5840 cy=2785 r=31 /><circle class=c9 cx=5858 cy=3196 r=31 /><circle class=c30 cx=7421 cy=5325 r=31 /><circle class=c14 cx=8450 cy=3772 r=31 /><circle class=c18 cx=6005 cy=4144 r=31 /><circle class=c16 cx=5951 cy=3904 r=31 /><circle class=c10 cx=5879 cy=3419 r=31 /><circle class=c26 cx=6335 cy=4965 r=31 /><circle class=c26 cx=7882 cy=4867 r=31 /><circle class=c4 cx=5841 cy=2768 r=31 /><circle class=c6 cx=5845 cy=2971 r=31 /><circle class=c12 cx=8528 cy=3539 r=31 /><circle class=c13 cx=5909 cy=3649 r=31 /><circle class=c8 cx=5858 cy=3172 r=31 /><circle class=c20 cx=8188 cy=4357 r=31 /><circle class=c6 cx=5848 cy=2944 r=31 /><circle class=c16 cx=8370 cy=3964 r=31 /><circle class=c20 cx=6071 cy=4342 r=31 /><circle class=c10 cx=5880 cy=3386 r=31 /><circle class=c28 cx=7655 cy=5093 r=31 /><circle class=c18 cx=8285 cy=4162 r=31 /><circle class=c24 cx=6237 cy=4759 r=31 /><circle class=c31 cx=6800 cy=5387 r=31 /><circle class=c28 cx=6442 cy=5093 r=31 /><circle class=c15 cx=5953 cy=3852 r=31 /><circle class=c5 cx=5849 cy=2925 r=31 /><circle class=c8 cx=5860 cy=3145 r=31 /><circle class=c22 cx=6148 cy=4550 r=31 /><circle class=c17 cx=6006 cy=4083 r=31 /><circle class=c12 cx=5912 cy=3600 r=31 /><circle class=c1 cx=6313 cy=2513 r=31 /><circle class=c29 cx=6555 cy=5197 r=31 /><circle class=c31 cx=7053 cy=5427 r=31 /><circle class=c30 cx=6676 cy=5307 r=31 /><circle class=c14 cx=8455 cy=3727 r=31 /><circle class=c10 cx=5882 cy=3350 r=31 /><circle class=c5 cx=5851 cy=2904 r=31 /><circle class=c7 cx=5862 cy=3116 r=31 /><circle class=c26 cx=7768 cy=4943 r=31 /><circle class=c29 cx=7541 cy=5177 r=31 /><circle class=c5 cx=5852 cy=2883 r=31 /><circle class=c31 cx=7175 cy=5368 r=31 /><circle class=c0 cx=6550 cy=2460 r=31 /><circle class=c12 cx=5914 cy=3558 r=31 /><circle class=c14 cx=5955 cy=3803 r=31 /><circle class=c26 cx=6334 cy=4879 r=31 /><circle class=c1 cx=6491 cy=2496 r=31 /><circle class=c19 cx=6072 cy=4275 r=31 /><circle class=c9 cx=5883 cy=3320 r=31 /><circle class=c16 cx=8373 cy=3916 r=31 /><circle class=c7 cx=5863 cy=3093 r=31 /><circle class=c25 cx=7885 cy=4804 r=31 /><circle class=c5 cx=5854 cy=2862 r=31 /><circle class=c30 cx=7425 cy=5257 r=31 /><circle class=c30 cx=7300 cy=5315 r=31 /><circle class=c17 cx=6008 cy=4028 r=31 /><circle class=c19 cx=8197 cy=4311 r=31 /><circle class=c30 cx=6923 cy=5361 r=31 /><circle class=c17 cx=8288 cy=4111 r=31 /><circle class=c7 cx=5866 cy=3063 r=31 /><circle class=c23 cx=6237 cy=4672 r=31 /><circle class=c21 cx=6149 cy=4474 r=31 /><circle class=c4 cx=5855 cy=2843 r=31 /><circle class=c9 cx=5886 cy=3284 r=31 /><circle class=c11 cx=5915 cy=3523 r=31 /><circle class=c1 cx=6523 cy=2504 r=31 /><circle class=c14 cx=5957 cy=3753 r=31 /><circle class=c27 cx=6441 cy=5003 r=31 /><circle class=c13 cx=8463 cy=3685 r=31 /><circle class=c4 cx=5856 cy=2824 r=31 /><circle class=c7 cx=5867 cy=3041 r=31 /><circle class=c30 cx=6795 cy=5281 r=31 /><circle class=c27 cx=7670 cy=5052 r=31 /><circle class=c18 cx=6073 cy=4210 r=31 /><circle class=c9 cx=5886 cy=3258 r=31 /><circle class=c28 cx=6554 cy=5110 r=31 /><circle class=c30 cx=7047 cy=5322 r=31 /><circle class=c16 cx=6009 cy=3976 r=31 /><circle class=c11 cx=5917 cy=3483 r=31 /><circle class=c6 cx=5869 cy=3016 r=31 /><circle class=c29 cx=6674 cy=5214 r=31 /><circle class=c2 cx=6727 cy=2607 r=31 /><circle class=c15 cx=8376 cy=3869 r=31 /><circle class=c13 cx=5958 cy=3706 r=31 /><circle class=c24 cx=6334 cy=4796 r=31 /><circle class=c8 cx=5889 cy=3226 r=31 /><circle class=c6 cx=5871 cy=2992 r=31 /><circle class=c25 cx=7780 cy=4896 r=31 /><circle class=c0 cx=6590 cy=2480 r=31 /><circle class=c20 cx=6150 cy=4404 r=31 /><circle class=c19 cx=8199 cy=4258 r=31 /><circle class=c17 cx=8287 cy=4058 r=31 /><circle class=c28 cx=7552 cy=5128 r=31 /><circle class=c23 cx=6237 cy=4599 r=31 /><circle class=c10 cx=5919 cy=3445 r=31 /><circle class=c24 cx=7889 cy=4746 r=31 /><circle class=c30 cx=7173 cy=5284 r=31 /><circle class=c12 cx=8458 cy=3635 r=31 /><circle class=c5 cx=5872 cy=2969 r=31 /><circle class=c8 cx=5891 cy=3196 r=31 /><circle class=c16 cx=6010 cy=3924 r=31 /><circle class=c18 cx=6074 cy=4152 r=31 /><circle class=c13 cx=5960 cy=3662 r=31 /><circle class=c29 cx=7300 cy=5239 r=31 /><circle class=c28 cx=7428 cy=5190 r=31 /><circle class=c29 cx=6922 cy=5277 r=31 /><circle class=c26 cx=6439 cy=4913 r=31 /><circle class=c5 cx=5873 cy=2947 r=31 /><circle class=c7 cx=5893 cy=3165 r=31 /><circle class=c1 cx=6350 cy=2550 r=31 /><circle class=c10 cx=5920 cy=3413 r=31 /><circle class=c1 cx=6481 cy=2542 r=31 /><circle class=c5 cx=5875 cy=2924 r=31 /><circle class=c26 cx=7664 cy=4970 r=31 /><circle class=c14 cx=8384 cy=3826 r=31 /><circle class=c19 cx=6150 cy=4335 r=31 /><circle class=c28 cx=6796 cy=5209 r=31 /><circle class=c12 cx=5961 cy=3621 r=31 /><circle class=c27 cx=6553 cy=5027 r=31 /><circle class=c7 cx=5894 cy=3139 r=31 /><circle class=c23 cx=6333 cy=4716 r=31 /><circle class=c15 cx=6012 cy=3871 r=31 /><circle class=c28 cx=6670 cy=5112 r=31 /></g><g class=a22><circle class=c10 cx=5921 cy=3379 r=31 /><circle class=c5 cx=5876 cy=2905 r=31 /><circle class=c29 cx=7045 cy=5238 r=31 /><circle class=c16 cx=8296 cy=4015 r=31 /><circle class=c21 cx=6236 cy=4527 r=31 /><circle class=c18 cx=8205 cy=4210 r=31 /><circle class=c17 cx=6075 cy=4097 r=31 /><circle class=c12 cx=8479 cy=3602 r=31 /><circle class=c1 cx=6513 cy=2550 r=31 /><circle class=c24 cx=7785 cy=4838 r=31 /><circle class=c7 cx=5895 cy=3116 r=31 /><circle class=c5 cx=5877 cy=2883 r=31 /><circle class=c23 cx=7893 cy=4690 r=31 /><circle class=c27 cx=7550 cy=5051 r=31 /><circle class=c12 cx=5962 cy=3584 r=31 /><circle class=c9 cx=5922 cy=3347 r=31 /><circle class=c14 cx=6013 cy=3823 r=31 /><circle class=c24 cx=6438 cy=4828 r=31 /><circle class=c27 cx=7419 cy=5094 r=31 /><circle class=c7 cx=5896 cy=3091 r=31 /><circle class=c19 cx=6150 cy=4273 r=31 /><circle class=c29 cx=7181 cy=5231 r=31 /><circle class=c28 cx=6917 cy=5181 r=31 /><circle class=c14 cx=8391 cy=3784 r=31 /><circle class=c16 cx=6076 cy=4036 r=31 /><circle class=c9 cx=5925 cy=3312 r=31 /><circle class=c28 cx=7301 cy=5166 r=31 /><circle class=c6 cx=5897 cy=3066 r=31 /><circle class=c11 cx=5963 cy=3547 r=31 /><circle class=c21 cx=6236 cy=4461 r=31 /><circle class=c26 cx=6550 cy=4936 r=31 /><circle class=c23 cx=6333 cy=4652 r=31 /><circle class=c14 cx=6014 cy=3773 r=31 /><circle class=c16 cx=8304 cy=3972 r=31 /><circle class=c25 cx=7669 cy=4913 r=31 /><circle class=c27 cx=6792 cy=5116 r=31 /><circle class=c17 cx=8209 cy=4161 r=31 /><circle class=c26 cx=6668 cy=5024 r=31 /><circle class=c9 cx=5926 cy=3281 r=31 /><circle class=c6 cx=5899 cy=3039 r=31 /><circle class=c11 cx=5965 cy=3508 r=31 /><circle class=c18 cx=6151 cy=4209 r=31 /><circle class=c28 cx=7044 cy=5158 r=31 /><circle class=c6 cx=5901 cy=3014 r=31 /><circle class=c22 cx=7888 cy=4621 r=31 /><circle class=c16 cx=6077 cy=3985 r=31 /><circle class=c8 cx=5928 cy=3249 r=31 /><circle class=c24 cx=7786 cy=4776 r=31 /><circle class=c23 cx=6437 cy=4749 r=31 /><circle class=c13 cx=6015 cy=3730 r=31 /><circle class=c13 cx=8390 cy=3735 r=31 /><circle class=c1 cx=6471 cy=2587 r=31 /><circle class=c26 cx=7548 cy=4979 r=31 /><circle class=c5 cx=5903 cy=2990 r=31 /><circle class=c8 cx=5930 cy=3219 r=31 /><circle class=c10 cx=5966 cy=3471 r=31 /><circle class=c27 cx=7169 cy=5122 r=31 /><circle class=c20 cx=6236 cy=4392 r=31 /><circle class=c26 cx=7420 cy=5027 r=31 /><circle class=c22 cx=6332 cy=4578 r=31 /><circle class=c15 cx=6078 cy=3926 r=31 /><circle class=c15 cx=8303 cy=3921 r=31 /><circle class=c27 cx=7296 cy=5080 r=31 /><circle class=c5 cx=5903 cy=2969 r=31 /><circle class=c27 cx=6917 cy=5106 r=31 /><circle class=c17 cx=8211 cy=4110 r=31 /><circle class=c7 cx=5931 cy=3190 r=31 /><circle class=c12 cx=6016 cy=3687 r=31 /><circle class=c24 cx=6549 cy=4859 r=31 /><circle class=c1 cx=6503 cy=2595 r=31 /><circle class=c17 cx=6151 cy=4153 r=31 /><circle class=c10 cx=5968 cy=3434 r=31 /><circle class=c1 cx=6382 cy=2592 r=31 /><circle class=c5 cx=5904 cy=2948 r=31 /><circle class=c24 cx=7668 cy=4845 r=31 /><circle class=c26 cx=6790 cy=5032 r=31 /><circle class=c25 cx=6667 cy=4952 r=31 /><circle class=c7 cx=5931 cy=3166 r=31 /><circle class=c21 cx=7893 cy=4568 r=31 /><circle class=c12 cx=8400 cy=3695 r=31 /><circle class=c23 cx=6436 cy=4679 r=31 /><circle class=c23 cx=7787 cy=4714 r=31 /><circle class=c9 cx=5968 cy=3403 r=31 /><circle class=c19 cx=6236 cy=4331 r=31 /><circle class=c27 cx=7042 cy=5082 r=31 /><circle class=c14 cx=6078 cy=3886 r=31 /><circle class=c12 cx=6017 cy=3649 r=31 /><circle class=c25 cx=7540 cy=4895 r=31 /><circle class=c16 cx=6152 cy=4093 r=31 /><circle class=c21 cx=6331 cy=4506 r=31 /><circle class=c7 cx=5932 cy=3140 r=31 /><circle class=c14 cx=8307 cy=3875 r=31 /><circle class=c9 cx=5970 cy=3367 r=31 /><circle class=c11 cx=6019 cy=3604 r=31 /><circle class=c26 cx=7169 cy=5050 r=31 /><circle class=c16 cx=8215 cy=4063 r=31 /><circle class=c25 cx=7418 cy=4953 r=31 /><circle class=c6 cx=5934 cy=3113 r=31 /><circle class=c26 cx=6912 cy=5017 r=31 /><circle class=c23 cx=6547 cy=4784 r=31 /><circle class=c12 cx=7060 cy=3675 r=31 /><circle class=c14 cx=6079 cy=3837 r=31 /><circle class=c4 cx=7747 cy=2913 r=31 /><circle class=c26 cx=7297 cy=5014 r=31 /><circle class=c9 cx=5971 cy=3335 r=31 /><circle class=c24 cx=6664 cy=4867 r=31 /><circle class=c18 cx=6236 cy=4267 r=31 /><circle class=c12 cx=8401 cy=3649 r=31 /><circle class=c6 cx=5935 cy=3087 r=31 /><circle class=c23 cx=7667 cy=4779 r=31 /><circle class=c25 cx=6787 cy=4953 r=31 /><circle class=c16 cx=6152 cy=4042 r=31 /><circle class=c2 cx=6462 cy=2633 r=31 /><circle class=c2 cx=6813 cy=2707 r=31 /><circle class=c11 cx=6020 cy=3566 r=31 /><circle class=c22 cx=6435 cy=4610 r=31 /><circle class=c20 cx=6331 cy=4438 r=31 /><circle class=c21 cx=7895 cy=4512 r=31 /><circle class=c5 cx=8167 cy=3013 r=31 /><circle class=c22 cx=7786 cy=4652 r=31 /><circle class=c6 cx=5936 cy=3063 r=31 /><circle class=c8 cx=5972 cy=3306 r=31 /><circle class=c14 cx=8306 cy=3826 r=31 /><circle class=c13 cx=6080 cy=3793 r=31 /><circle class=c26 cx=7041 cy=5008 r=31 /><circle class=c12 cx=7330 cy=3675 r=31 /><circle class=c5 cx=5938 cy=3036 r=31 /><circle class=c24 cx=7544 cy=4838 r=31 /><circle class=c2 cx=6494 cy=2641 r=31 /><circle class=c16 cx=8218 cy=4015 r=31 /><circle class=c10 cx=6020 cy=3532 r=31 /><circle class=c8 cx=5973 cy=3273 r=31 /><circle class=c23 cx=6545 cy=4706 r=31 /><circle class=c17 cx=6236 cy=4209 r=31 /><circle class=c15 cx=6152 cy=3992 r=31 /><circle class=c25 cx=7162 cy=4962 r=31 /><circle class=c12 cx=7800 cy=3630 r=31 /><circle class=c5 cx=5939 cy=3012 r=31 /><circle class=c13 cx=6081 cy=3748 r=31 /><circle class=c10 cx=6022 cy=3487 r=31 /><circle class=c24 cx=7421 cy=4895 r=31 /><circle class=c25 cx=6912 cy=4951 r=31 /><circle class=c25 cx=7295 cy=4941 r=31 /><circle class=c21 cx=6434 cy=4541 r=31 /><circle class=c7 cx=5974 cy=3247 r=31 /><circle class=c19 cx=6330 cy=4379 r=31 /><circle class=c23 cx=7664 cy=4712 r=31 /><circle class=c24 cx=6786 cy=4882 r=31 /><circle class=c23 cx=6665 cy=4810 r=31 /><circle class=c12 cx=7850 cy=3650 r=31 /></g><g class=a23><circle class=c7 cx=5976 cy=3215 r=31 /><circle class=c15 cx=6153 cy=3943 r=31 /><circle class=c20 cx=7899 cy=4461 r=31 /><circle class=c21 cx=7783 cy=4587 r=31 /><circle class=c12 cx=6082 cy=3703 r=31 /><circle class=c13 cx=8317 cy=3787 r=31 /><circle class=c5 cx=7724 cy=2962 r=31 /><circle class=c17 cx=6236 cy=4153 r=31 /><circle class=c5 cx=8135 cy=3059 r=31 /><circle class=c10 cx=6022 cy=3460 r=31 /><circle class=c1 cx=6411 cy=2636 r=31 /><circle class=c15 cx=8220 cy=3967 r=31 /><circle class=c24 cx=7037 cy=4928 r=31 /><circle class=c7 cx=5977 cy=3187 r=31 /><circle class=c23 cx=7546 cy=4778 r=31 /><circle class=c22 cx=6545 cy=4647 r=31 /><circle class=c9 cx=6024 cy=3421 r=31 /><circle class=c18 cx=6330 cy=4312 r=31 /><circle class=c12 cx=6082 cy=3665 r=31 /><circle class=c24 cx=7163 cy=4900 r=31 /><circle class=c2 cx=6452 cy=2678 r=31 /><circle class=c24 cx=6909 cy=4871 r=31 /><circle class=c7 cx=5977 cy=3161 r=31 /><circle class=c14 cx=6153 cy=3902 r=31 /><circle class=c20 cx=6434 cy=4487 r=31 /><circle class=c23 cx=6661 cy=4726 r=31 /><circle class=c16 cx=6236 cy=4096 r=31 /><circle class=c24 cx=7420 cy=4828 r=31 /><circle class=c23 cx=6784 cy=4807 r=31 /><circle class=c24 cx=7294 cy=4875 r=31 /><circle class=c12 cx=8317 cy=3740 r=31 /><circle class=c9 cx=6024 cy=3390 r=31 /><circle class=c22 cx=7669 cy=4659 r=31 /><circle class=c6 cx=5979 cy=3133 r=31 /><circle class=c11 cx=6083 cy=3622 r=31 /><circle class=c19 cx=7898 cy=4403 r=31 /><circle class=c14 cx=8215 cy=3914 r=31 /><circle class=c2 cx=6484 cy=2686 r=31 /><circle class=c21 cx=7788 cy=4537 r=31 /><circle class=c14 cx=6153 cy=3850 r=31 /><circle class=c17 cx=6329 cy=4251 r=31 /><circle class=c6 cx=5980 cy=3105 r=31 /><circle class=c21 cx=6543 cy=4571 r=31 /><circle class=c9 cx=6025 cy=3357 r=31 /><circle class=c16 cx=6236 cy=4045 r=31 /><circle class=c24 cx=7037 cy=4865 r=31 /><circle class=c10 cx=6084 cy=3583 r=31 /><circle class=c22 cx=7544 cy=4714 r=31 /><circle class=c19 cx=6432 cy=4422 r=31 /><circle class=c5 cx=5980 cy=3082 r=31 /><circle class=c6 cx=8118 cy=3110 r=31 /><circle class=c8 cx=6026 cy=3326 r=31 /><circle class=c13 cx=6154 cy=3802 r=31 /><circle class=c22 cx=6661 cy=4667 r=31 /><circle class=c12 cx=8322 cy=3698 r=31 /><circle class=c5 cx=7726 cy=3014 r=31 /><circle class=c23 cx=6909 cy=4810 r=31 /><circle class=c23 cx=7418 cy=4762 r=31 /><circle class=c23 cx=7166 cy=4845 r=31 /><circle class=c10 cx=6084 cy=3545 r=31 /><circle class=c12 cx=7993 cy=3740 r=31 /><circle class=c23 cx=6783 cy=4742 r=31 /><circle class=c8 cx=6027 cy=3293 r=31 /><circle class=c21 cx=7667 cy=4599 r=31 /><circle class=c17 cx=6329 cy=4203 r=31 /><circle class=c14 cx=8223 cy=3873 r=31 /><circle class=c23 cx=7296 cy=4816 r=31 /><circle class=c18 cx=7903 cy=4356 r=31 /><circle class=c15 cx=6236 cy=4002 r=31 /><circle class=c20 cx=7784 cy=4474 r=31 /><circle class=c20 cx=6543 cy=4516 r=31 /><circle class=c12 cx=6154 cy=3762 r=31 /><circle class=c18 cx=6431 cy=4358 r=31 /><circle class=c7 cx=6028 cy=3263 r=31 /><circle class=c10 cx=6085 cy=3510 r=31 /><circle class=c23 cx=7034 cy=4792 r=31 /><circle class=c2 cx=6442 cy=2723 r=31 /><circle class=c21 cx=7546 cy=4657 r=31 /><circle class=c16 cx=6328 cy=4145 r=31 /><circle class=c12 cx=6155 cy=3715 r=31 /><circle class=c14 cx=6236 cy=3951 r=31 /><circle class=c7 cx=6028 cy=3236 r=31 /><circle class=c21 cx=6659 cy=4600 r=31 /><circle class=c9 cx=6085 cy=3475 r=31 /><circle class=c22 cx=6907 cy=4741 r=31 /><circle class=c21 cx=6780 cy=4670 r=31 /><circle class=c13 cx=8221 cy=3823 r=31 /><circle class=c23 cx=7162 cy=4772 r=31 /><circle class=c1 cx=6440 cy=2680 r=31 /><circle class=c22 cx=7419 cy=4703 r=31 /><circle class=c17 cx=6430 cy=4295 r=31 /><circle class=c2 cx=6474 cy=2731 r=31 /><circle class=c22 cx=7291 cy=4742 r=31 /><circle class=c7 cx=6029 cy=3208 r=31 /><circle class=c19 cx=6541 cy=4452 r=31 /><circle class=c18 cx=7904 cy=4303 r=31 /><circle class=c20 cx=7670 cy=4545 r=31 /><circle class=c9 cx=6086 cy=3443 r=31 /><circle class=c11 cx=6155 cy=3677 r=31 /><circle class=c14 cx=6236 cy=3902 r=31 /><circle class=c19 cx=7792 cy=4431 r=31 /><circle class=c6 cx=6030 cy=3179 r=31 /><circle class=c16 cx=6328 cy=4096 r=31 /><circle class=c6 cx=8113 cy=3166 r=31 /><circle class=c22 cx=7034 cy=4732 r=31 /><circle class=c20 cx=6657 cy=4532 r=31 /><circle class=c21 cx=7540 cy=4588 r=31 /><circle class=c9 cx=6086 cy=3409 r=31 /><circle class=c5 cx=7732 cy=3068 r=31 /><circle class=c6 cx=6030 cy=3153 r=31 /><circle class=c11 cx=6155 cy=3640 r=31 /><circle class=c21 cx=6904 cy=4671 r=31 /><circle class=c17 cx=6429 cy=4243 r=31 /><circle class=c13 cx=6236 cy=3857 r=31 /><circle class=c18 cx=6539 cy=4387 r=31 /><circle class=c21 cx=6780 cy=4613 r=31 /><circle class=c12 cx=8233 cy=3787 r=31 /><circle class=c17 cx=7897 cy=4242 r=31 /><circle class=c22 cx=7162 cy=4711 r=31 /><circle class=c19 cx=7664 cy=4480 r=31 /><circle class=c21 cx=7418 cy=4643 r=31 /><circle class=c15 cx=6327 cy=4044 r=31 /><circle class=c8 cx=6087 cy=3379 r=31 /><circle class=c21 cx=7291 cy=4684 r=31 /><circle class=c10 cx=6155 cy=3598 r=31 /><circle class=c18 cx=7786 cy=4368 r=31 /><circle class=c8 cx=6088 cy=3342 r=31 /><circle class=c12 cx=6236 cy=3810 r=31 /><circle class=c2 cx=6432 cy=2769 r=31 /><circle class=c16 cx=6428 cy=4185 r=31 /><circle class=c19 cx=6656 cy=4475 r=31 /><circle class=c21 cx=7031 cy=4664 r=31 /><circle class=c18 cx=6537 cy=4327 r=31 /><circle class=c14 cx=6327 cy=3995 r=31 /><circle class=c20 cx=7543 cy=4538 r=31 /><circle class=c7 cx=6088 cy=3313 r=31 /><circle class=c10 cx=6155 cy=3568 r=31 /></g><g class=a24><circle class=c12 cx=8235 cy=3742 r=31 /><circle class=c21 cx=6903 cy=4611 r=31 /><circle class=c20 cx=6778 cy=4550 r=31 /><circle class=c2 cx=6464 cy=2777 r=31 /><circle class=c12 cx=6235 cy=3770 r=31 /><circle class=c21 cx=7159 cy=4646 r=31 /><circle class=c19 cx=7665 cy=4427 r=31 /><circle class=c16 cx=7908 cy=4204 r=31 /><circle class=c7 cx=6088 cy=3282 r=31 /><circle class=c20 cx=7419 cy=4589 r=31 /><circle class=c9 cx=6156 cy=3529 r=31 /><circle class=c6 cx=8105 cy=3221 r=31 /><circle class=c21 cx=7290 cy=4624 r=31 /><circle class=c17 cx=7788 cy=4318 r=31 /><circle class=c16 cx=6428 cy=4135 r=31 /><circle class=c14 cx=6326 cy=3947 r=31 /><circle class=c18 cx=6653 cy=4411 r=31 /><circle class=c5 cx=7725 cy=3120 r=31 /><circle class=c11 cx=6235 cy=3726 r=31 /><circle class=c17 cx=6536 cy=4272 r=31 /><circle class=c7 cx=6089 cy=3254 r=31 /><circle class=c20 cx=7029 cy=4603 r=31 /><circle class=c9 cx=6156 cy=3496 r=31 /><circle class=c19 cx=6775 cy=4484 r=31 /><circle class=c19 cx=7540 cy=4478 r=31 /><circle class=c20 cx=6901 cy=4551 r=31 /><circle class=c13 cx=6326 cy=3901 r=31 /><circle class=c6 cx=6089 cy=3226 r=31 /><circle class=c15 cx=6427 cy=4086 r=31 /><circle class=c9 cx=6156 cy=3456 r=31 /><circle class=c11 cx=6235 cy=3689 r=31 /><circle class=c16 cx=7907 cy=4153 r=31 /><circle class=c20 cx=7160 cy=4592 r=31 /><circle class=c19 cx=7415 cy=4525 r=31 /><circle class=c18 cx=7667 cy=4377 r=31 /><circle class=c17 cx=7788 cy=4266 r=31 /><circle class=c18 cx=6654 cy=4362 r=31 /><circle class=c16 cx=6536 cy=4223 r=31 /><circle class=c20 cx=7293 cy=4573 r=31 /><circle class=c2 cx=6424 cy=2814 r=31 /><circle class=c8 cx=6157 cy=3422 r=31 /><circle class=c12 cx=6325 cy=3855 r=31 /><circle class=c19 cx=7027 cy=4541 r=31 /><circle class=c10 cx=6235 cy=3649 r=31 /><circle class=c18 cx=6774 cy=4429 r=31 /><circle class=c14 cx=6426 cy=4037 r=31 /><circle class=c7 cx=8080 cy=3271 r=31 /><circle class=c19 cx=6900 cy=4493 r=31 /><circle class=c18 cx=7542 cy=4428 r=31 /><circle class=c8 cx=6157 cy=3388 r=31 /><circle class=c2 cx=6456 cy=2822 r=31 /><circle class=c16 cx=6534 cy=4167 r=31 /><circle class=c10 cx=6235 cy=3609 r=31 /><circle class=c19 cx=7156 cy=4527 r=31 /><circle class=c15 cx=7908 cy=4105 r=31 /><circle class=c17 cx=6652 cy=4306 r=31 /><circle class=c12 cx=6325 cy=3817 r=31 /><circle class=c5 cx=7708 cy=3171 r=31 /><circle class=c17 cx=7669 cy=4327 r=31 /><circle class=c19 cx=7417 cy=4474 r=31 /><circle class=c7 cx=6157 cy=3357 r=31 /><circle class=c16 cx=7789 cy=4217 r=31 /><circle class=c19 cx=7288 cy=4509 r=31 /><circle class=c14 cx=6425 cy=3989 r=31 /><circle class=c17 cx=6771 cy=4367 r=31 /><circle class=c10 cx=6235 cy=3572 r=31 /><circle class=c19 cx=7028 cy=4491 r=31 /><circle class=c18 cx=6896 cy=4429 r=31 /><circle class=c7 cx=6157 cy=3326 r=31 /><circle class=c15 cx=6533 cy=4113 r=31 /><circle class=c12 cx=6325 cy=3774 r=31 /><circle class=c17 cx=7538 cy=4368 r=31 /><circle class=c16 cx=6650 cy=4250 r=31 /><circle class=c14 cx=7906 cy=4053 r=31 /><circle class=c19 cx=7154 cy=4470 r=31 /><circle class=c13 cx=6425 cy=3947 r=31 /><circle class=c9 cx=6235 cy=3540 r=31 /><circle class=c7 cx=6157 cy=3296 r=31 /><circle class=c18 cx=7413 cy=4413 r=31 /><circle class=c16 cx=7787 cy=4164 r=31 /><circle class=c11 cx=6324 cy=3728 r=31 /><circle class=c17 cx=7668 cy=4275 r=31 /><circle class=c18 cx=7284 cy=4447 r=31 /><circle class=c7 cx=8054 cy=3321 r=31 /><circle class=c17 cx=6770 cy=4315 r=31 /><circle class=c2 cx=6415 cy=2860 r=31 /><circle class=c9 cx=6235 cy=3502 r=31 /><circle class=c12 cx=6423 cy=3891 r=31 /><circle class=c18 cx=7025 cy=4431 r=31 /><circle class=c14 cx=6533 cy=4072 r=31 /><circle class=c16 cx=6648 cy=4194 r=31 /><circle class=c17 cx=6897 cy=4382 r=31 /><circle class=c10 cx=6324 cy=3691 r=31 /><circle class=c17 cx=7540 cy=4319 r=31 /><circle class=c8 cx=6235 cy=3465 r=31 /><circle class=c14 cx=7908 cy=4008 r=31 /><circle class=c2 cx=6447 cy=2868 r=31 /><circle class=c6 cx=7694 cy=3222 r=31 /><circle class=c18 cx=7155 cy=4419 r=31 /><circle class=c15 cx=7787 cy=4115 r=31 /><circle class=c12 cx=6423 cy=3850 r=31 /><circle class=c16 cx=7668 cy=4224 r=31 /><circle class=c14 cx=6532 cy=4023 r=31 /><circle class=c17 cx=7283 cy=4392 r=31 /><circle class=c17 cx=7416 cy=4367 r=31 /><circle class=c8 cx=6235 cy=3430 r=31 /><circle class=c10 cx=6324 cy=3651 r=31 /><circle class=c16 cx=6772 cy=4274 r=31 /><circle class=c15 cx=6647 cy=4145 r=31 /><circle class=c17 cx=7024 cy=4378 r=31 /><circle class=c7 cx=8024 cy=3368 r=31 /><circle class=c17 cx=6896 cy=4330 r=31 /><circle class=c7 cx=7780 cy=3375 r=31 /><circle class=c12 cx=6422 cy=3807 r=31 /><circle class=c7 cx=6235 cy=3398 r=31 /><circle class=c10 cx=6323 cy=3612 r=31 /></g><g class=a25><circle class=c17 cx=7151 cy=4360 r=31 /><circle class=c13 cx=6531 cy=3979 r=31 /><circle class=c16 cx=7546 cy=4279 r=31 /><circle class=c16 cx=6767 cy=4208 r=31 /><circle class=c13 cx=7911 cy=3965 r=31 /><circle class=c7 cx=7733 cy=3380 r=31 /><circle class=c14 cx=7789 cy=4070 r=31 /><circle class=c15 cx=7668 cy=4175 r=31 /><circle class=c16 cx=6890 cy=4262 r=31 /><circle class=c14 cx=6646 cy=4099 r=31 /><circle class=c17 cx=7020 cy=4317 r=31 /><circle class=c17 cx=7285 cy=4346 r=31 /><circle class=c17 cx=7417 cy=4318 r=31 /><circle class=c9 cx=6323 cy=3578 r=31 /><circle class=c7 cx=6235 cy=3372 r=31 /><circle class=c11 cx=6422 cy=3773 r=31 /><circle class=c13 cx=6530 cy=3934 r=31 /><circle class=c9 cx=6322 cy=3538 r=31 /><circle class=c16 cx=7542 cy=4223 r=31 /><circle class=c16 cx=7151 cy=4309 r=31 /><circle class=c14 cx=6644 cy=4047 r=31 /><circle class=c7 cx=7992 cy=3414 r=31 /><circle class=c15 cx=6767 cy=4165 r=31 /><circle class=c12 cx=7913 cy=3920 r=31 /><circle class=c6 cx=7692 cy=3276 r=31 /><circle class=c10 cx=6421 cy=3729 r=31 /><circle class=c14 cx=7666 cy=4125 r=31 /><circle class=c12 cx=6528 cy=3883 r=31 /><circle class=c16 cx=6890 cy=4217 r=31 /><circle class=c14 cx=7792 cy=4026 r=31 /><circle class=c16 cx=7020 cy=4269 r=31 /><circle class=c16 cx=7283 cy=4293 r=31 /><circle class=c16 cx=7415 cy=4266 r=31 /><circle class=c8 cx=6322 cy=3504 r=31 /><circle class=c10 cx=6420 cy=3688 r=31 /><circle class=c8 cx=7750 cy=3450 r=31 /><circle class=c13 cx=6643 cy=3999 r=31 /><circle class=c14 cx=6764 cy=4112 r=31 /><circle class=c12 cx=6527 cy=3839 r=31 /><circle class=c8 cx=6322 cy=3470 r=31 /><circle class=c15 cx=7543 cy=4177 r=31 /><circle class=c16 cx=7152 cy=4265 r=31 /><circle class=c12 cx=7916 cy=3877 r=31 /><circle class=c15 cx=7409 cy=4207 r=31 /><circle class=c15 cx=7018 cy=4218 r=31 /><circle class=c15 cx=6891 cy=4174 r=31 /><circle class=c14 cx=7669 cy=4082 r=31 /><circle class=c10 cx=6420 cy=3652 r=31 /><circle class=c13 cx=7793 cy=3981 r=31 /><circle class=c16 cx=7282 cy=4243 r=31 /><circle class=c8 cx=7960 cy=3460 r=31 /><circle class=c12 cx=6641 cy=3951 r=31 /><circle class=c7 cx=6321 cy=3436 r=31 /><circle class=c14 cx=6763 cy=4062 r=31 /><circle class=c11 cx=6526 cy=3798 r=31 /><circle class=c15 cx=7146 cy=4203 r=31 /><circle class=c9 cx=6419 cy=3612 r=31 /><circle class=c14 cx=7537 cy=4120 r=31 /><circle class=c11 cx=7910 cy=3826 r=31 /><circle class=c14 cx=6889 cy=4123 r=31 /><circle class=c15 cx=7017 cy=4169 r=31 /><circle class=c6 cx=7690 cy=3330 r=31 /><circle class=c13 cx=7665 cy=4029 r=31 /><circle class=c15 cx=7279 cy=4190 r=31 /><circle class=c12 cx=6641 cy=3913 r=31 /><circle class=c13 cx=6761 cy=4015 r=31 /><circle class=c12 cx=7793 cy=3935 r=31 /><circle class=c10 cx=6526 cy=3762 r=31 /><circle class=c15 cx=7413 cy=4166 r=31 /><circle class=c9 cx=6419 cy=3577 r=31 /><circle class=c14 cx=7146 cy=4158 r=31 /><circle class=c10 cx=6524 cy=3716 r=31 /><circle class=c12 cx=6639 cy=3866 r=31 /><circle class=c8 cx=7770 cy=3530 r=31 /><circle class=c14 cx=7014 cy=4116 r=31 /><circle class=c14 cx=7541 cy=4079 r=31 /><circle class=c14 cx=6889 cy=4079 r=31 /><circle class=c8 cx=6418 cy=3542 r=31 /><circle class=c12 cx=6761 cy=3974 r=31 /><circle class=c14 cx=7279 cy=4143 r=31 /><circle class=c14 cx=7412 cy=4117 r=31 /><circle class=c13 cx=7669 cy=3989 r=31 /><circle class=c12 cx=7795 cy=3892 r=31 /><circle class=c10 cx=6523 cy=3678 r=31 /><circle class=c8 cx=6417 cy=3506 r=31 /><circle class=c11 cx=6640 cy=3830 r=31 /><circle class=c13 cx=6886 cy=4029 r=31 /><circle class=c14 cx=7146 cy=4113 r=31 /><circle class=c12 cx=6759 cy=3926 r=31 /><circle class=c13 cx=7539 cy=4030 r=31 /><circle class=c14 cx=7014 cy=4072 r=31 /><circle class=c14 cx=7276 cy=4091 r=31 /><circle class=c9 cx=6523 cy=3640 r=31 /><circle class=c13 cx=7408 cy=4066 r=31 /><circle class=c12 cx=7666 cy=3940 r=31 /><circle class=c11 cx=7791 cy=3843 r=31 /><circle class=c10 cx=6638 cy=3785 r=31 /><circle class=c12 cx=6882 cy=3976 r=31 /></g><g class=a26><circle class=c9 cx=6521 cy=3601 r=31 /><circle class=c12 cx=6758 cy=3885 r=31 /><circle class=c13 cx=7011 cy=4022 r=31 /><circle class=c13 cx=7145 cy=4066 r=31 /><circle class=c12 cx=7539 cy=3985 r=31 /><circle class=c10 cx=6636 cy=3742 r=31 /><circle class=c12 cx=7662 cy=3890 r=31 /><circle class=c13 cx=7276 cy=4047 r=31 /><circle class=c13 cx=7408 cy=4020 r=31 /><circle class=c12 cx=6881 cy=3932 r=31 /><circle class=c8 cx=6521 cy=3568 r=31 /><circle class=c11 cx=6757 cy=3843 r=31 /><circle class=c13 cx=7143 cy=4018 r=31 /><circle class=c12 cx=7011 cy=3981 r=31 /><circle class=c9 cx=6636 cy=3706 r=31 /><circle class=c12 cx=7536 cy=3937 r=31 /><circle class=c11 cx=7662 cy=3847 r=31 /><circle class=c12 cx=7276 cy=4002 r=31 /><circle class=c11 cx=6881 cy=3891 r=31 /><circle class=c10 cx=6755 cy=3801 r=31 /><circle class=c12 cx=7409 cy=3978 r=31 /><circle class=c9 cx=6634 cy=3664 r=31 /><circle class=c12 cx=7011 cy=3939 r=31 /><circle class=c12 cx=7145 cy=3979 r=31 /><circle class=c9 cx=6632 cy=3623 r=31 /><circle class=c11 cx=7539 cy=3897 r=31 /><circle class=c10 cx=6754 cy=3760 r=31 /><circle class=c12 cx=7273 cy=3955 r=31 /><circle class=c11 cx=6880 cy=3852 r=31 /><circle class=c12 cx=7406 cy=3931 r=31 /><circle class=c11 cx=7008 cy=3892 r=31 /><circle class=c12 cx=7140 cy=3927 r=31 /><circle class=c9 cx=6751 cy=3713 r=31 /><circle class=c10 cx=6877 cy=3806 r=31 /><circle class=c10 cx=7534 cy=3848 r=31 /><circle class=c11 cx=7270 cy=3908 r=31 /><circle class=c11 cx=7407 cy=3889 r=31 /><circle class=c11 cx=7138 cy=3883 r=31 /><circle class=c9 cx=6751 cy=3677 r=31 /><circle class=c10 cx=7008 cy=3851 r=31 /><circle class=c10 cx=6877 cy=3768 r=31 /><circle class=c11 cx=7272 cy=3869 r=31 /><circle class=c10 cx=7136 cy=3839 r=31 /><circle class=c10 cx=7407 cy=3847 r=31 /><circle class=c10 cx=7008 cy=3812 r=31 /><circle class=c9 cx=6876 cy=3727 r=31 /><circle class=c10 cx=7271 cy=3826 r=31 /><circle class=c10 cx=7134 cy=3795 r=31 /><circle class=c10 cx=7005 cy=3769 r=31 /></g><g class=a27><circle class=c3 cx=6400 cy=3147 r=31 /></g></g></g>
   </g>
   <g id="text_28">
    <text style="font-size: 12px; font-family: 'DejaVu Sans', 'Liberation Sans', sans-serif; text-anchor: middle" x="442.8" y="71.76">LiDAR Point 3D Coordinate Graph</text>
   </g>
   <g id="legend_1">
    <g id="patch_6">
     <path d="M 568.376875 100.438125 L 625.88 100.438125 Q 627.88 100.438125 627.88 98.438125 L 627.88 84.76 Q 627.88 82.76 625.88 82.76 L 568.376875 82.76 Q 566.376875 82.76 566.376875 84.76 L 566.376875 98.438125 Q 566.376875 100.438125 568.376875 100.438125 z " style="fill: #ffffff; opacity: 0.8; stroke: #cccccc; stroke-linejoin: miter"/>
    </g>
    <g id="Path3DCollection_2">
     <g>
      <use href="#m604a313b4d" x="580.376875" y="91.733438" style="fill: #482878; stroke: #482878"/>
     </g>
    </g>
    <g id="text_29">
     <text style="font-size: 10px; font-family: 'DejaVu Sans', 'Liberation Sans', sans-serif; text-anchor: start" x="598.376875" y="94.358438">point</text>
    </g>
   </g>
  </g>
  <g id="axes_2">
   <g id="patch_7">
    <path d="M 206.045217 576.72 L 301.085217 576.72 L 301.085217 481.68 L 206.045217 481.68 z " style="fill: #ffffff"/>
   </g>
   <g id="PathCollection_1"/>
   <g id="PathCollection_2"/>
   <g id="FOOT">
    <path d="M 331.680286 451.084932 L 270.641662 474.646897 L 262.830155 481.679913 L 257.039026 486.893901 L 251.247897 490.949225 L 247.77322 495.004549 L 241.982091 500.797869 L 240.244752 505.432525 L 238.507414 511.225845 L 237.349188 517.019165 L 237.349188 521.653821 L 238.275768 526.288477 L 235.611849 529.764469 L 234.221978 533.240461 L 233.642865 537.295785 L 234.221978 543.668437 L 235.380204 550.620421 L 236.53843 556.413741 L 239.086526 561.048397 L 241.402978 566.262385 L 244.877655 570.317709 L 248.931446 573.793701 L 252.985236 576.690361 L 260.796743 582.27212 L 331.680286 607.315068 z " clip-path="url(#p93c1fa37c6)" style="fill: #90ee90"/>
   </g>
   <g id="matplotlib.axis_1">
    <g id="xtick_25">
     <g id="line2d_28">
      <defs>
       <path id="m9e3349eeb5" d="M 0 0 L 0 3.5 " style="stroke: #000000; stroke-width: 0.8"/>
      </defs>
      <g>
       <use href="#m9e3349eeb5" x="221.400" y="577.080" style="stroke: #000000; stroke-width: 0.8"/>
      </g>
     </g>
     <g id="text_30">
      <text style="font-size: 10px; font-family: 'DejaVu Sans', 'Liberation Sans', sans-serif; text-anchor: middle" x="221.017272" y="591.318438">−250</text>
     </g>
    </g>
    <g id="xtick_26">
     <g id="line2d_29">
      <g>
       <use href="#m9e3349eeb5" x="253.800" y="577.080" style="stroke: #000000; stroke-width: 0.8"/>
      </g>
     </g>
     <g id="text_31">
      <text style="font-size: 10px; font-family: 'DejaVu Sans', 'Liberation Sans', sans-serif; text-anchor: middle" x="253.565217" y="591.318438">0</text>
     </g>
    </g>
    <g id="xtick_27">
     <g id="line2d_30">
      <g>
       <use href="#m9e3349eeb5" x="286.200" y="577.080" style="stroke: #000000; stroke-width: 0.8"/>
      </g>
     </g>
     <g id="text_32">
      <text style="font-size: 10px; font-family: 'DejaVu Sans', 'Liberation Sans', sans-serif; text-anchor: middle" x="286.113163" y="591.318438">250</text>
     </g>
    </g>
    <g id="text_33">
     <text style="font-size: 10px; font-family: 'DejaVu Sans', 'Liberation Sans', sans-serif; text-anchor: middle" x="253.565217" y="604.996562">X (cm)</text>
    </g>
   </g>
   <g id="matplotlib.axis_2">
    <g id="ytick_1">
     <g id="line2d_31">
      <defs>
       <path id="m91d5be8af1" d="M 0 0 L -3.5 0 " style="stroke: #000000; stroke-width: 0.8"/>
      </defs>
      <g>
       <use href="#m91d5be8af1" x="206.280" y="555.480" style="stroke: #000000; stroke-width: 0.8"/>
      </g>
     </g>
     <g id="text_34">
      <text style="font-size: 10px; font-family: 'DejaVu Sans', 'Liberation Sans', sans-serif; text-anchor: end" x="199.045217" y="559.037575">−200</text>
     </g>
    </g>
    <g id="ytick_2">
     <g id="line2d_32">
      <g>
       <use href="#m91d5be8af1" x="206.280" y="529.560" style="stroke: #000000; stroke-width: 0.8"/>
      </g>
     </g>
     <g id="text_35">
      <text style="font-size: 10px; font-family: 'DejaVu Sans', 'Liberation Sans', sans-serif; text-anchor: end" x="199.045217" y="532.999219">0</text>
     </g>
    </g>
    <g id="ytick_3">
     <g id="line2d_33">
      <g>
       <use href="#m91d5be8af1" x="206.280" y="503.640" style="stroke: #000000; stroke-width: 0.8"/>
      </g>
     </g>
     <g id="text_36">
      <text style="font-size: 10px; font-family: 'DejaVu Sans', 'Liberation Sans', sans-serif; text-anchor: end" x="199.045217" y="506.960863">200</text>
     </g>
    </g>
    <g id="text_37">
     <text style="font-size: 10px; font-family: 'DejaVu Sans', 'Liberation Sans', sans-serif; text-anchor: middle" x="165.498342" y="529.2" transform="rotate(-90 165.498342 529.2)">Y (cm)</text>
    </g>
   </g>
   <g id="patch_8">
    <path d="M 206.280 577.080 L 206.280 482.040 " style="fill: none; stroke: #000000; stroke-width: 0.8; stroke-linejoin: miter; stroke-linecap: square"/>
   </g>
   <g id="patch_9">
    <path d="M 301.320 577.080 L 301.320 482.040 " style="fill: none; stroke: #000000; stroke-width: 0.8; stroke-linejoin: miter; stroke-linecap: square"/>
   </g>
   <g id="patch_10">
    <path d="M 206.280 577.080 L 301.320 577.080 " style="fill: none; stroke: #000000; stroke-width: 0.8; stroke-linejoin: miter; stroke-linecap: square"/>
   </g>
   <g id="patch_11">
    <path d="M 206.280 482.040 L 301.320 482.040 " style="fill: none; stroke: #000000; stroke-width: 0.8; stroke-linejoin: miter; stroke-linecap: square"/>
   </g>
   <g id="text_38">
    <text style="font-size: 12px; font-family: 'DejaVu Sans', 'Liberation Sans', sans-serif; text-anchor: middle" x="253.565217" y="475.68">LiDAR Point 2D Coordinate Graph</text>
   </g>
   <g id="legend_2">
    <g id="patch_12">
     <path d="M 312.837217 519.03625 L 370.340342 519.03625 Q 372.340342 519.03625 372.340342 517.03625 L 372.340342 488.68 Q 372.340342 486.68 370.340342 486.68 L 312.837217 486.68 Q 310.837217 486.68 310.837217 488.68 L 310.837217 517.03625 Q 310.837217 519.03625 312.837217 519.03625 z " style="fill: #ffffff; opacity: 0.8; stroke: #cccccc; stroke-linejoin: miter"/>
    </g>
    <g id="PathCollection_3">
     <defs>
      <path id="m6ec93e1671" d="M 0 3 C 0.795609 3 1.55874 2.683901 2.12132 2.12132 C 2.683901 1.55874 3 0.795609 3 0 C 3 -0.795609 2.683901 -1.55874 2.12132 -2.12132 C 1.55874 -2.683901 0.795609 -3 0 -3 C -0.795609 -3 -1.55874 -2.683901 -2.12132 -2.12132 C -2.683901 -1.55874 -3 -0.795609 -3 0 C -3 0.795609 -2.683901 1.55874 -2.12132 2.12132 C -1.55874 2.683901 -0.795609 3 0 3 z " style="stroke: #90ee90"/>
     </defs>
     <g>
      <use href="#m6ec93e1671" x="324.837217" y="495.653437" style="fill: #90ee90; stroke: #90ee90"/>
     </g>
    </g>
    <g id="text_39">
     <text style="font-size: 10px; font-family: 'DejaVu Sans', 'Liberation Sans', sans-serif; text-anchor: start" x="342.837217" y="498.278437">point</text>
    </g>
    <g id="PathCollection_4">
     <defs>
      <path id="m84e72426b1" d="M 0 3 C 0.795609 3 1.55874 2.683901 2.12132 2.12132 C 2.683901 1.55874 3 0.795609 3 0 C 3 -0.795609 2.683901 -1.55874 2.12132 -2.12132 C 1.55874 -2.683901 0.795609 -3 0 -3 C -0.795609 -3 -1.55874 -2.683901 -2.12132 -2.12132 C -2.683901 -1.55874 -3 -0.795609 -3 0 C -3 0.795609 -2.683901 1.55874 -2.12132 2.12132 C -1.55874 2.683901 -0.795609 3 0 3 z " style="stroke: #0000ff"/>
     </defs>
     <g>
      <use href="#m84e72426b1" x="324.837217" y="510.331563" style="fill: #0000ff; stroke: #0000ff"/>
     </g>
    </g>
    <g id="text_40">
     <text style="font-size: 10px; font-family: 'DejaVu Sans', 'Liberation Sans', sans-serif; text-anchor: start" x="342.837217" y="512.956563">wall</text>
    </g>
   </g>
  </g>
  <g id="axes_3">
   <g id="patch_13">
    <path d="M 486.469565 576.72 L 777.6 576.72 L 777.6 481.68 L 486.469565 481.68 z " style="fill: #ffffff"/>
   </g>
   <g id="patch_14">
    <path d="M 486.720 576.720 L 486.720 486.000 L 553.680 486.000 L 553.680 524.880 L 620.640 524.880 L 620.640 547.920 L 687.600 547.920 L 687.600 558.720 L 753.840 558.720 L 753.840 499.680 L 820.800 499.680 L 820.800 576.720 " clip-path="url(#p60318a80fa)" style="fill: #0000ff"/>
   </g>
   <g id="matplotlib.axis_3">
    <g id="xtick_28">
     <g id="line2d_34">
      <g>
       <use href="#m9e3349eeb5" x="487.080" y="577.080" style="stroke: #000000; stroke-width: 0.8"/>
      </g>
     </g>
     <g id="text_41">
      <text style="font-size: 10px; font-family: 'DejaVu Sans', 'Liberation Sans', sans-serif; text-anchor: middle" x="486.469565" y="591.318438">0</text>
     </g>
    </g>
    <g id="xtick_29">
     <g id="line2d_35">
      <g>
       <use href="#m9e3349eeb5" x="519.480" y="577.080" style="stroke: #000000; stroke-width: 0.8"/>
      </g>
     </g>
     <g id="text_42">
      <text style="font-size: 10px; font-family: 'DejaVu Sans', 'Liberation Sans', sans-serif; text-anchor: middle" x="519.18085" y="591.318438">100</text>
     </g>
    </g>
    <g id="xtick_30">
     <g id="line2d_36">
      <g>
       <use href="#m9e3349eeb5" x="552.600" y="577.080" style="stroke: #000000; stroke-width: 0.8"/>
      </g>
     </g>
     <g id="text_43">
      <text style="font-size: 10px; font-family: 'DejaVu Sans', 'Liberation Sans', sans-serif; text-anchor: middle" x="551.892135" y="591.318438">200</text>
     </g>
    </g>
    <g id="xtick_31">
     <g id="line2d_37">
      <g>
       <use href="#m9e3349eeb5" x="585.000" y="577.080" style="stroke: #000000; stroke-width: 0.8"/>
      </g>
     </g>
     <g id="text_44">
      <text style="font-size: 10px; font-family: 'DejaVu Sans', 'Liberation Sans', sans-serif; text-anchor: middle" x="584.60342" y="591.318438">300</text>
     </g>
    </g>
    <g id="xtick_32">
     <g id="line2d_38">
      <g>
       <use href="#m9e3349eeb5" x="617.400" y="577.080" style="stroke: #000000; stroke-width: 0.8"/>
      </g>
     </g>
     <g id="text_45">
      <text style="font-size: 10px; font-family: 'DejaVu Sans', 'Liberation Sans', sans-serif; text-anchor: middle" x="617.314704" y="591.318438">400</text>
     </g>
    </g>
    <g id="xtick_33">
     <g id="line2d_39">
      <g>
       <use href="#m9e3349eeb5" x="650.520" y="577.080" style="stroke: #000000; stroke-width: 0.8"/>
      </g>
     </g>
     <g id="text_46">
      <text style="font-size: 10px; font-family: 'DejaVu Sans', 'Liberation Sans', sans-serif; text-anchor: middle" x="650.025989" y="591.318438">500</text>
     </g>
    </g>
    <g id="xtick_34">
     <g id="line2d_40">
      <g>
       <use href="#m9e3349eeb5" x="682.920" y="577.080" style="stroke: #000000; stroke-width: 0.8"/>
      </g>
     </g>
     <g id="text_47">
      <text style="font-size: 10px; font-family: 'DejaVu Sans', 'Liberation Sans', sans-serif; text-anchor: middle" x="682.737274" y="591.318438">600</text>
     </g>
    </g>
    <g id="xtick_35">
     <g id="line2d_41">
      <g>
       <use href="#m9e3349eeb5" x="716.040" y="577.080" style="stroke: #000000; stroke-width: 0.8"/>
      </g>
     </g>
     <g id="text_48">
      <text style="font-size: 10px; font-family: 'DejaVu Sans', 'Liberation Sans', sans-serif; text-anchor: middle" x="715.448559" y="591.318438">700</text>
     </g>
    </g>
    <g id="xtick_36">
     <g id="line2d_42">
      <g>
       <use href="#m9e3349eeb5" x="748.440" y="577.080" style="stroke: #000000; stroke-width: 0.8"/>
      </g>
     </g>
     <g id="text_49">
      <text style="font-size: 10px; font-family: 'DejaVu Sans', 'Liberation Sans', sans-serif; text-anchor: middle" x="748.159844" y="591.318438">800</text>
     </g>
    </g>
   </g>
   <g id="matplotlib.axis_4">
    <g id="ytick_4">
     <g id="line2d_43">
      <g>
       <use href="#m91d5be8af1" x="487.080" y="577.080" style="stroke: #000000; stroke-width: 0.8"/>
      </g>
     </g>
     <g id="text_50">
      <text style="font-size: 10px; font-family: 'DejaVu Sans', 'Liberation Sans', sans-serif; text-anchor: end" x="479.469565" y="580.519219">0</text>
     </g>
    </g>
    <g id="ytick_5">
     <g id="line2d_44">
      <g>
       <use href="#m91d5be8af1" x="487.080" y="545.400" style="stroke: #000000; stroke-width: 0.8"/>
      </g>
     </g>
     <g id="text_51">
      <text style="font-size: 10px; font-family: 'DejaVu Sans', 'Liberation Sans', sans-serif; text-anchor: end" x="479.469565" y="549.090647">1000</text>
     </g>
    </g>
    <g id="ytick_6">
     <g id="line2d_45">
      <g>
       <use href="#m91d5be8af1" x="487.080" y="514.440" style="stroke: #000000; stroke-width: 0.8"/>
      </g>
     </g>
     <g id="text_52">
      <text style="font-size: 10px; font-family: 'DejaVu Sans', 'Liberation Sans', sans-serif; text-anchor: end" x="479.469565" y="517.662076">2000</text>
     </g>
    </g>
    <g id="ytick_7">
     <g id="line2d_46">
      <g>
       <use href="#m91d5be8af1" x="487.080" y="482.760" style="stroke: #000000; stroke-width: 0.8"/>
      </g>
     </g>
     <g id="text_53">
      <text style="font-size: 10px; font-family: 'DejaVu Sans', 'Liberation Sans', sans-serif; text-anchor: end" x="479.469565" y="486.233504">3000</text>
     </g>
    </g>
   </g>
   <g id="patch_15">
    <path d="M 487.080 577.080 L 487.080 482.040 " style="fill: none; stroke: #000000; stroke-width: 0.8; stroke-linejoin: miter; stroke-linecap: square"/>
   </g>
   <g id="patch_16">
    <path d="M 777.960 577.080 L 777.960 482.040 " style="fill: none; stroke: #000000; stroke-width: 0.8; stroke-linejoin: miter; stroke-linecap: square"/>
   </g>
   <g id="patch_17">
    <path d="M 487.080 577.080 L 777.960 577.080 " style="fill: none; stroke: #000000; stroke-width: 0.8; stroke-linejoin: miter; stroke-linecap: square"/>
   </g>
   <g id="patch_18">
    <path d="M 487.080 482.040 L 777.960 482.040 " style="fill: none; stroke: #000000; stroke-width: 0.8; stroke-linejoin: miter; stroke-linecap: square"/>
   </g>
   <g id="text_54">
    <text style="font-size: 12px; font-family: 'DejaVu Sans', 'Liberation Sans', sans-serif; text-anchor: middle" x="632.034783" y="475.68">Height Histogram</text>
   </g>
   <g id="legend_3">
    <g id="patch_19">
     <path d="M 599.505876 504.358125 L 664.563689 504.358125 Q 666.563689 504.358125 666.563689 502.358125 L 666.563689 488.68 Q 666.563689 486.68 664.563689 486.68 L 599.505876 486.68 Q 597.505876 486.68 597.505876 488.68 L 597.505876 502.358125 Q 597.505876 504.358125 599.505876 504.358125 z " style="fill: #ffffff; opacity: 0.8; stroke: #cccccc; stroke-linejoin: miter"/>
    </g>
    <g id="patch_20">
     <path d="M 601.200 498.240 L 621.360 498.240 L 621.360 491.040 L 601.200 491.040 z " style="fill: #0000ff"/>
    </g>
    <g id="text_55">
     <text style="font-size: 10px; font-family: 'DejaVu Sans', 'Liberation Sans', sans-serif; text-anchor: start" x="629.505876" y="498.278437">Height</text>
    </g>
   </g>
  </g>
 </g>
 <defs>
  <clipPath id="pc4ae86a467">
   <rect x="252.72" y="77.76" width="380.16" height="380.16"/>
  </clipPath>
  <clipPath id="p93c1fa37c6">
   <rect x="206.045217" y="481.68" width="95.04" height="95.04"/>
  </clipPath>
  <clipPath id="p60318a80fa">
   <rect x="486.469565" y="481.68" width="291.130435" height="95.04"/>
  </clipPath>
 </defs>
</svg>

</body></html>
